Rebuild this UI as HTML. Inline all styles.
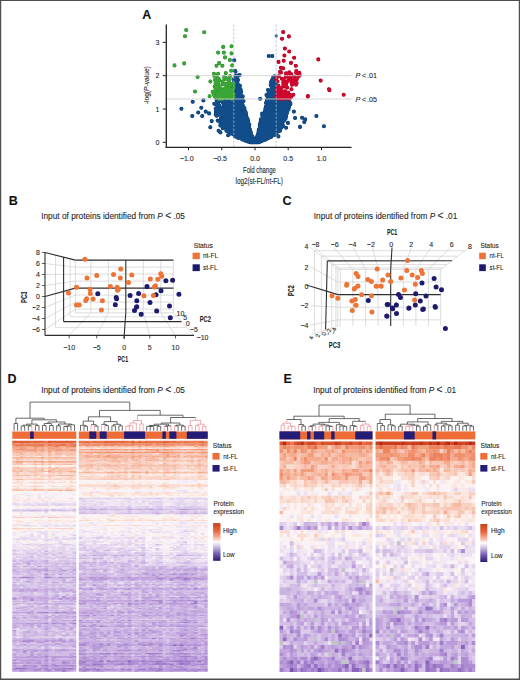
<!DOCTYPE html><html><head><meta charset="utf-8"><style>
html,body{margin:0;padding:0;background:#fff}
svg{display:block;font-family:"Liberation Sans",sans-serif}
text{stroke:#262626;stroke-width:0.1px}
</style></head><body>
<svg width="520" height="680" viewBox="0 0 520 680" fill="#262626">
<defs><linearGradient id="cb" x1="0" y1="0" x2="0" y2="1">
<stop offset="0" stop-color="#c8401c"/><stop offset="0.2" stop-color="#e8643a"/><stop offset="0.38" stop-color="#f6b49a"/>
<stop offset="0.5" stop-color="#fdfafa"/><stop offset="0.62" stop-color="#cfc4e4"/><stop offset="0.8" stop-color="#7a62b8"/>
<stop offset="1" stop-color="#2a1a70"/></linearGradient></defs>
<rect width="520" height="680" fill="#fff"/>
<text x="142.3" y="18.8" font-size="12.5" fill="#111" font-weight="bold" >A</text><path d="M278.2 127.7h0M228.2 121.1h0M261.0 130.6h0M271.8 123.8h0M250.6 138.0h0M258.4 142.1h0M229.5 130.4h0M266.2 136.1h0M260.8 131.1h0M243.9 135.9h0M277.6 123.7h0M261.0 120.1h0M268.0 103.4h0M257.7 137.7h0M247.6 127.1h0M264.5 135.1h0M262.8 124.1h0M259.6 140.8h0M257.1 141.1h0M263.2 117.0h0M270.0 126.3h0M238.1 132.5h0M261.5 131.5h0M267.1 117.9h0M261.2 131.4h0M258.7 141.8h0M269.5 136.2h0M261.1 121.4h0M263.9 129.2h0M278.5 113.5h0M257.0 142.1h0M232.1 123.6h0M266.9 137.1h0M250.2 135.0h0M244.7 113.3h0M228.3 106.2h0M251.3 139.3h0M265.5 136.1h0M246.8 137.4h0M269.7 118.6h0M281.2 117.0h0M251.0 139.7h0M273.1 134.4h0M242.8 120.3h0M261.5 140.9h0M255.9 140.3h0M231.8 124.3h0M229.4 103.6h0M281.0 127.7h0M239.2 115.3h0M264.6 126.5h0M276.1 123.0h0M252.4 139.3h0M270.0 90.8h0M265.1 124.0h0M263.2 124.2h0M257.0 141.8h0M247.1 119.9h0M271.2 120.4h0M231.8 120.3h0M264.1 130.6h0M243.1 114.1h0M277.1 109.8h0M264.0 128.9h0M259.5 135.1h0M278.3 107.2h0M233.8 128.4h0M227.8 126.8h0M253.9 140.0h0M267.5 137.2h0M227.6 100.0h0M265.8 127.3h0M256.9 141.8h0M243.6 114.9h0M266.3 132.2h0M241.7 124.9h0M271.8 122.1h0M239.2 133.3h0M252.4 141.9h0M270.4 132.6h0M267.5 99.6h0M258.7 139.3h0M255.5 142.0h0M274.9 124.6h0M252.9 140.4h0M247.6 138.5h0M266.2 109.4h0M263.3 128.3h0M274.9 112.3h0M263.1 119.9h0M262.1 132.5h0M223.5 104.3h0M244.7 135.3h0M264.4 127.3h0M220.9 118.6h0M242.5 118.6h0M249.4 140.6h0M251.5 142.2h0M284.8 113.3h0M262.9 115.8h0M270.5 136.4h0M269.1 128.3h0M237.8 134.6h0M251.9 142.0h0M277.1 125.6h0M244.4 117.5h0M270.2 118.6h0M258.4 138.8h0M243.9 138.4h0M238.8 130.2h0M256.7 137.9h0M265.3 130.9h0M265.0 114.6h0M262.2 129.9h0M261.0 126.9h0M258.7 131.0h0M238.0 119.0h0M215.6 103.5h0M264.1 116.5h0M273.9 117.3h0M279.6 108.2h0M258.1 137.2h0M236.7 129.8h0M273.0 114.0h0M239.1 128.3h0M259.6 140.0h0M240.8 131.0h0M260.1 135.2h0M262.7 120.1h0M273.1 132.4h0M276.0 123.7h0M218.4 107.3h0M236.5 118.5h0M229.5 117.2h0M248.2 130.1h0M260.4 135.6h0M261.6 136.9h0M247.9 140.0h0M268.3 129.2h0M249.0 136.1h0M285.9 115.0h0M267.6 131.0h0M260.6 123.3h0M261.5 137.6h0M239.6 124.1h0M247.6 140.3h0M232.5 133.8h0M279.8 129.3h0M239.8 136.6h0M252.4 142.1h0M257.7 135.2h0M228.2 106.2h0M266.7 115.6h0M240.4 130.9h0M249.5 138.0h0M271.7 96.8h0M240.6 114.2h0M273.7 132.6h0M254.6 141.2h0M256.0 141.4h0M258.5 141.7h0M256.0 141.2h0M272.2 133.1h0M256.9 141.0h0M275.1 110.3h0M259.6 141.6h0M262.5 132.0h0M264.8 137.9h0M234.5 124.9h0M250.4 141.7h0M249.0 130.9h0M273.7 119.2h0M259.4 134.6h0M273.3 109.3h0M271.5 127.8h0M262.3 138.8h0M277.2 106.4h0M252.1 140.8h0M221.5 109.1h0M281.3 101.0h0M269.4 121.8h0M265.6 135.0h0M236.8 101.2h0M259.5 139.9h0M266.0 133.1h0M264.3 114.0h0M264.9 122.1h0M223.2 125.0h0M228.8 126.3h0M243.5 137.4h0M234.8 129.1h0M224.2 111.4h0M248.5 139.2h0M265.0 111.2h0M273.0 84.2h0M275.8 124.9h0M249.0 140.6h0M258.4 136.4h0M269.0 133.3h0M269.3 127.3h0M229.7 131.5h0M270.0 103.1h0M221.2 122.4h0M262.6 136.9h0M253.5 141.7h0M240.5 136.7h0M270.9 136.7h0M269.1 111.5h0M269.6 134.5h0M273.5 123.0h0M264.1 118.1h0M236.6 109.1h0M253.8 141.9h0M226.5 122.9h0M259.4 139.4h0M235.9 123.7h0M234.5 109.1h0M246.8 131.0h0M265.2 135.5h0M267.5 113.7h0M245.1 130.5h0M251.2 137.5h0M276.4 132.9h0M268.5 129.7h0M248.9 140.3h0M264.6 123.4h0M246.2 132.3h0M256.7 141.6h0M265.2 112.9h0M259.4 137.6h0M252.9 140.6h0M256.4 139.6h0M253.1 141.8h0M248.0 132.5h0M220.9 125.6h0M262.9 136.6h0M236.1 112.9h0M245.3 125.4h0M251.3 134.5h0M242.3 127.6h0M222.8 114.0h0M266.9 135.3h0M270.6 129.9h0M253.3 138.3h0M267.8 135.6h0M267.6 124.1h0M248.1 128.3h0M249.9 140.1h0M239.3 103.7h0M235.8 95.4h0M238.6 136.1h0M265.2 113.0h0M241.7 101.9h0M241.6 120.3h0M252.0 140.6h0M248.4 140.1h0M278.7 107.6h0M271.9 123.9h0M279.3 108.7h0M257.0 141.4h0M280.2 117.0h0M272.3 134.2h0M269.3 127.9h0M247.3 139.7h0M247.2 126.3h0M239.5 129.7h0M230.3 129.4h0M249.7 141.7h0M268.5 129.9h0M261.1 134.5h0M272.9 134.9h0M273.5 107.4h0M241.7 131.1h0M241.6 136.7h0M243.1 129.4h0M264.4 137.8h0M268.6 113.6h0M285.1 111.5h0M259.1 131.8h0M242.7 136.2h0M241.9 135.4h0M274.2 132.9h0M272.1 133.6h0M247.6 135.5h0M229.0 126.9h0M275.4 121.9h0M261.2 132.5h0M236.1 107.3h0M249.9 139.7h0M269.4 104.0h0M261.3 137.3h0M271.6 135.1h0M256.3 141.6h0M282.6 102.5h0M241.3 105.8h0M241.2 95.7h0M270.8 135.3h0M251.3 138.3h0M286.2 106.2h0M261.9 132.2h0M225.7 108.6h0M274.0 132.2h0M243.8 131.5h0M252.7 141.7h0M266.2 110.3h0M260.1 134.5h0M248.6 140.4h0M283.1 117.9h0M266.1 128.7h0M235.6 133.9h0M225.7 104.2h0M269.4 134.1h0M260.7 123.3h0M234.7 136.3h0M238.2 114.8h0M220.3 112.0h0M238.3 131.6h0M226.2 120.9h0M248.2 138.3h0M243.4 137.6h0M242.2 138.7h0M231.2 108.5h0M233.4 106.8h0M260.9 141.3h0M282.3 125.1h0M237.1 129.1h0M259.2 141.6h0M245.9 135.4h0M270.3 135.2h0M248.0 138.6h0M267.3 135.8h0M241.0 98.5h0M263.6 116.9h0M226.7 128.9h0M230.8 100.1h0M237.9 96.0h0M261.1 130.5h0M264.1 123.2h0M258.7 134.8h0M262.0 137.9h0M265.6 128.4h0M250.0 141.0h0M271.7 128.0h0M253.7 139.9h0M264.7 129.9h0M232.8 123.8h0M266.4 131.4h0M287.3 105.7h0M267.9 130.3h0M245.1 129.8h0M245.3 138.8h0M276.1 124.2h0M262.3 140.0h0M268.0 106.0h0M220.6 114.6h0M225.7 102.5h0M270.4 119.9h0M231.7 124.7h0M276.5 102.6h0M235.5 113.9h0M237.1 134.0h0M264.3 115.9h0M266.4 133.8h0M281.4 117.4h0M238.7 128.9h0M247.6 134.9h0M248.2 133.5h0M252.9 142.1h0M225.3 102.0h0M229.0 129.3h0M260.6 134.2h0M236.2 129.1h0M218.4 115.0h0M243.6 126.5h0M242.1 133.7h0M280.7 119.0h0M223.0 122.8h0M251.0 140.4h0M233.8 122.1h0M274.5 124.5h0M276.3 116.1h0M250.0 141.2h0M267.3 135.0h0M257.7 138.9h0M261.7 131.9h0M263.3 137.8h0M264.1 117.9h0M274.7 122.4h0M247.7 123.9h0M274.1 88.6h0M277.4 106.8h0M264.2 127.9h0M266.0 103.0h0M233.5 128.3h0M243.3 131.7h0M263.5 119.9h0M219.5 108.6h0M233.0 131.2h0M227.1 116.2h0M259.8 124.8h0M246.6 128.2h0M270.0 102.0h0M249.9 137.7h0M246.9 140.0h0M276.0 117.5h0M246.8 125.2h0M228.4 122.2h0M259.4 128.8h0M253.6 141.4h0M260.7 120.3h0M266.7 137.1h0M238.8 131.4h0M258.9 130.0h0M249.9 129.5h0M228.4 130.7h0M258.7 139.4h0M246.0 130.7h0M262.8 136.9h0M270.1 133.3h0M246.3 119.0h0M263.2 130.4h0M284.2 99.9h0M267.2 116.7h0M237.7 133.0h0M239.7 130.4h0M235.8 132.5h0M279.3 124.6h0M215.7 108.8h0M259.1 138.3h0M267.3 112.4h0M266.7 136.4h0M272.0 102.2h0M221.5 118.3h0M265.9 131.8h0M247.7 124.1h0M280.6 101.7h0M271.5 134.3h0M224.3 101.0h0M260.9 123.5h0M271.8 108.2h0M266.2 122.2h0M261.1 129.4h0M234.7 107.1h0M268.0 103.6h0M258.7 139.2h0M287.1 108.4h0M238.8 132.9h0M279.4 125.3h0M256.5 141.5h0M263.6 129.6h0M227.2 120.6h0M274.0 124.7h0M259.4 134.6h0M274.4 135.0h0M228.6 103.2h0M239.0 134.1h0M261.6 137.2h0M275.3 101.3h0M256.9 138.7h0M237.8 112.4h0M266.3 134.8h0M255.7 141.3h0M220.3 107.5h0M265.5 130.8h0M256.3 140.4h0M259.6 136.0h0M263.4 131.0h0M286.5 104.7h0M261.4 133.4h0M260.2 134.5h0M248.3 135.7h0M241.8 117.8h0M262.2 131.5h0M266.3 136.7h0M236.4 134.0h0M275.7 105.0h0M262.4 134.8h0M274.6 123.1h0M260.2 140.5h0M256.6 139.0h0M247.6 138.1h0M248.9 137.4h0M267.4 137.9h0M237.6 113.7h0M258.9 141.1h0M263.1 139.6h0M262.6 133.1h0M262.8 119.2h0M249.9 142.1h0M246.6 126.5h0M274.2 132.2h0M248.2 134.8h0M278.0 104.8h0M248.1 138.3h0M260.4 131.8h0M268.2 132.4h0M262.8 118.7h0M262.4 113.9h0M237.8 132.4h0M275.6 96.3h0M274.5 114.4h0M250.8 136.0h0M252.1 142.1h0M277.4 104.9h0M220.4 111.5h0M263.7 121.8h0M246.3 140.5h0M280.2 120.0h0M246.9 132.1h0M258.3 138.7h0M240.0 121.5h0M253.5 141.9h0M242.7 122.5h0M268.3 130.7h0M248.2 134.1h0M261.3 135.0h0M236.2 109.5h0M281.4 117.3h0M262.0 133.7h0M236.5 118.9h0M260.3 141.4h0M259.1 130.5h0M265.1 132.1h0M267.6 126.8h0M241.4 134.7h0M254.2 141.2h0M257.6 138.6h0M250.3 138.0h0M238.6 123.7h0M251.9 138.1h0M249.5 138.7h0M281.6 120.3h0M239.2 106.3h0M281.7 114.8h0M244.0 137.6h0M251.9 142.2h0M278.0 125.7h0M265.6 117.8h0M245.6 137.5h0M228.3 118.1h0M263.4 130.6h0M248.8 128.0h0M222.9 119.9h0M271.5 122.9h0M271.4 122.5h0M262.4 136.7h0M243.6 136.3h0M244.7 138.3h0M258.9 135.2h0M256.1 142.0h0M264.3 120.5h0M271.8 133.2h0M262.9 136.8h0M237.4 124.7h0M241.6 133.5h0M263.8 139.9h0M264.8 127.9h0M238.4 88.5h0M259.3 139.1h0M286.4 106.6h0M245.0 129.5h0M260.8 132.4h0M277.3 126.0h0M278.7 110.8h0M250.8 135.5h0M275.3 102.8h0M257.0 141.1h0M231.9 126.1h0M261.9 135.5h0M231.7 124.9h0M228.7 105.7h0M259.7 127.9h0M245.4 112.8h0M242.3 123.8h0M245.7 140.7h0M240.7 136.4h0M264.3 137.4h0M244.0 129.3h0M261.8 134.9h0M251.0 136.0h0M267.8 103.6h0M248.5 134.9h0M275.5 85.3h0M243.6 125.4h0M264.0 133.0h0M234.8 131.0h0M252.4 136.6h0M237.3 134.3h0M250.7 132.1h0M244.3 118.1h0M252.0 137.1h0M248.6 128.4h0M227.6 105.7h0M265.3 120.5h0M258.3 142.3h0M267.8 130.9h0M244.2 133.7h0M247.6 119.1h0M244.6 135.3h0M261.5 126.9h0M264.1 128.9h0M238.0 133.7h0M265.1 130.5h0M261.6 137.4h0M266.3 110.9h0M261.0 136.8h0M243.6 139.4h0M232.7 127.0h0M225.9 123.0h0M264.6 125.0h0M225.2 121.3h0M275.5 126.1h0M271.8 119.0h0M267.2 125.6h0M239.1 131.7h0M245.6 127.4h0M252.9 141.2h0M276.9 131.4h0M272.6 119.6h0M262.2 128.5h0M222.9 115.9h0M225.5 122.7h0M228.7 130.4h0M276.6 128.8h0M250.6 134.2h0M224.7 123.8h0M250.0 133.3h0M261.4 140.1h0M282.6 108.2h0M277.7 100.2h0M235.0 97.0h0M252.2 141.1h0M289.0 106.9h0M231.7 121.3h0M257.9 138.7h0M250.8 134.2h0M266.2 133.5h0M255.9 140.7h0M240.6 130.2h0M250.0 133.8h0M260.8 133.7h0M272.1 123.0h0M245.8 139.0h0M239.2 137.6h0M239.5 136.1h0M265.6 133.4h0M224.7 102.2h0M246.3 123.8h0M249.7 138.8h0M231.9 120.6h0M271.3 117.1h0M251.6 140.3h0M267.7 116.5h0M236.7 125.6h0M254.6 142.3h0M258.7 136.4h0M244.2 118.0h0M247.4 128.4h0M234.4 126.4h0M251.4 137.6h0M252.0 140.5h0M269.1 137.3h0M257.1 141.5h0M226.7 116.0h0M240.4 136.5h0M262.0 122.5h0M237.5 127.3h0M244.9 136.6h0M262.1 134.9h0M257.1 140.5h0M270.7 119.2h0M235.8 130.9h0M263.4 138.3h0M261.9 136.4h0M270.2 134.0h0M258.8 129.6h0M270.5 130.5h0M256.5 138.3h0M238.3 123.1h0M274.1 128.5h0M262.3 135.0h0M283.1 116.6h0M277.5 107.8h0M235.5 92.4h0M270.9 135.5h0M239.4 133.0h0M248.6 140.9h0M286.6 102.6h0M240.1 109.9h0M247.2 136.8h0M237.7 125.9h0M252.5 141.4h0M234.2 129.9h0M238.6 115.8h0M247.9 141.4h0M274.0 105.9h0M281.5 118.6h0M252.5 141.0h0M265.1 120.9h0M245.4 130.0h0M258.1 133.9h0M236.5 101.0h0M265.2 120.1h0M225.6 109.7h0M268.1 94.2h0M273.5 93.8h0M230.2 103.2h0M247.6 138.0h0M279.1 127.1h0M260.9 127.8h0M243.5 126.9h0M237.6 110.9h0M273.7 123.0h0M276.3 128.6h0M233.3 106.4h0M271.9 131.9h0M273.7 126.4h0M221.4 125.8h0M267.4 124.2h0M258.3 141.1h0M245.0 137.3h0M253.5 141.0h0M264.1 127.7h0M263.0 117.7h0M268.3 125.7h0M248.7 129.4h0M259.1 130.7h0M235.9 129.9h0M266.3 119.4h0M278.5 110.1h0M263.8 136.6h0M245.5 133.8h0M244.8 138.7h0M236.7 136.1h0M256.0 140.4h0M230.7 132.8h0M272.0 119.2h0M257.7 141.2h0M264.1 125.3h0M261.2 138.4h0M262.2 140.2h0M233.0 126.3h0M271.0 114.0h0M258.4 139.6h0M240.8 131.8h0M249.2 140.6h0M256.1 139.7h0M245.2 135.1h0M261.4 139.0h0M234.4 97.1h0M260.2 128.1h0M269.1 131.0h0M286.5 112.1h0M242.2 116.5h0M259.1 139.9h0M241.0 127.4h0M244.8 110.5h0M242.5 133.2h0M229.8 129.9h0M257.1 141.2h0M256.2 142.2h0M251.7 141.1h0M244.3 137.9h0M249.9 141.3h0M280.5 121.2h0M240.9 114.6h0M246.6 139.3h0M258.5 141.7h0M242.4 107.5h0M259.3 140.8h0M235.5 122.5h0M260.0 141.3h0M267.8 131.8h0M235.9 125.6h0M242.0 134.2h0M256.4 141.8h0M268.2 138.2h0M256.9 141.9h0M247.9 141.2h0M242.2 136.9h0M256.1 141.5h0M257.5 138.9h0M224.0 103.2h0M230.2 125.7h0M268.3 122.0h0M251.0 138.6h0M271.8 133.9h0M276.9 118.8h0M271.9 131.6h0M283.6 100.8h0M250.5 139.4h0M258.7 138.4h0M231.1 130.6h0M269.8 96.6h0M244.7 125.8h0M254.7 142.2h0M230.5 117.0h0M248.2 140.1h0M241.5 138.8h0M237.2 97.9h0M244.8 128.2h0M238.5 107.0h0M252.0 140.1h0M240.7 132.7h0M260.3 141.6h0M271.7 129.6h0M225.2 120.3h0M234.9 136.0h0M242.8 136.8h0M245.3 130.3h0M221.6 120.6h0M259.5 141.8h0M265.9 137.1h0M258.6 131.7h0M265.6 126.0h0M226.0 123.3h0M259.1 137.7h0M271.4 132.0h0M270.2 135.4h0M261.9 131.5h0M257.7 142.1h0M257.6 138.3h0M280.4 109.4h0M225.6 106.5h0M258.2 141.0h0M282.3 122.2h0M266.9 137.1h0M244.3 112.2h0M272.4 99.9h0M279.5 114.9h0M262.1 135.1h0M259.6 141.2h0M280.1 124.3h0M268.1 109.0h0M260.2 132.7h0M240.2 135.8h0M254.3 142.1h0M222.5 119.3h0M239.4 133.7h0M242.5 139.5h0M274.9 119.9h0M261.7 139.0h0M263.8 125.4h0M248.0 120.4h0M259.0 142.1h0M267.4 134.7h0M258.6 139.4h0M246.6 128.0h0M255.8 140.1h0M248.6 133.3h0M226.5 129.7h0M248.4 123.7h0M228.7 123.9h0M238.4 125.9h0M263.3 119.9h0M267.9 126.6h0M268.2 129.1h0M269.8 90.9h0M263.1 118.2h0M263.8 131.1h0M255.9 141.1h0M220.3 110.3h0M267.1 119.7h0M237.3 129.9h0M256.0 141.8h0M273.2 120.8h0M229.0 119.7h0M242.8 128.3h0M261.2 136.2h0M244.2 127.1h0M242.9 121.3h0M265.7 113.7h0M221.5 100.6h0M260.9 132.1h0M250.6 136.2h0M289.5 99.0h0M274.2 129.6h0M263.8 130.0h0M225.7 118.7h0M253.7 140.6h0M222.4 101.3h0M263.3 129.7h0M271.1 136.9h0M270.0 121.9h0M273.8 92.7h0M227.1 102.7h0M247.1 139.6h0M252.9 140.7h0M237.0 118.7h0M258.2 134.3h0M260.7 123.5h0M267.2 105.2h0M237.3 136.4h0M272.0 117.1h0M249.1 136.3h0M249.9 138.8h0M238.7 124.8h0M240.6 97.1h0M247.2 122.4h0M266.4 107.2h0M268.1 125.9h0M239.8 137.7h0M238.0 133.1h0M245.5 137.7h0M246.0 122.8h0M246.6 132.0h0M244.3 112.3h0M229.5 130.3h0M249.1 137.8h0M242.9 109.1h0M262.0 140.4h0M243.9 112.3h0M254.5 142.0h0M259.2 133.0h0M259.5 138.5h0M251.4 139.4h0M219.8 100.7h0M232.5 122.2h0M267.9 132.3h0M250.7 141.3h0M239.3 115.8h0M274.8 91.6h0M234.2 131.5h0M259.0 132.3h0M273.3 127.2h0M262.9 131.9h0M272.1 126.2h0M284.3 107.3h0M237.6 127.1h0M231.7 130.7h0M234.0 133.1h0M251.8 139.3h0M244.1 118.0h0M227.3 115.9h0M242.1 139.0h0M226.4 130.7h0M221.6 112.1h0M263.9 130.0h0M250.0 133.2h0M225.1 121.2h0M281.8 105.7h0M264.0 123.8h0M269.5 105.3h0M232.7 124.2h0M280.4 99.3h0M240.7 126.6h0M262.4 116.0h0M246.7 129.5h0M276.6 131.5h0M235.5 134.6h0M234.5 119.6h0M269.9 135.0h0M248.0 140.8h0M260.5 140.2h0M216.5 115.8h0M248.3 139.0h0M247.0 133.4h0M253.7 141.5h0M281.1 127.3h0M246.7 120.3h0M259.4 133.0h0M275.7 118.3h0M274.3 132.8h0M243.8 113.7h0M255.5 142.1h0M233.2 123.9h0M266.8 132.2h0M259.6 140.0h0M268.8 129.7h0M260.6 132.7h0M244.7 129.3h0M253.8 140.1h0M249.9 141.6h0M270.4 136.0h0M257.4 135.8h0M251.5 139.3h0M276.3 107.1h0M239.1 126.3h0M280.3 115.9h0M283.0 112.8h0M249.5 139.4h0M230.6 99.1h0M224.1 100.3h0M276.1 90.3h0M220.8 123.5h0M249.8 138.1h0M265.8 120.9h0M252.7 141.6h0M268.9 134.9h0M257.9 137.1h0M262.2 127.8h0M271.7 132.5h0M262.7 121.8h0M256.6 141.7h0M241.8 134.5h0M246.9 125.4h0M219.9 110.8h0M235.1 132.5h0M232.7 121.8h0M244.2 138.0h0M237.9 111.2h0M252.2 141.5h0M224.4 104.7h0M278.1 115.9h0M263.3 115.6h0M245.1 128.6h0M234.0 123.7h0M274.2 131.1h0M244.5 118.6h0M227.6 114.7h0M259.9 125.6h0M279.8 104.4h0M265.7 117.4h0M266.8 136.1h0M273.3 119.4h0M269.7 134.5h0M233.0 119.8h0M258.7 137.6h0M244.4 108.1h0M254.8 142.2h0M254.0 140.4h0M238.6 113.3h0M268.9 131.7h0M279.9 106.9h0M246.5 135.4h0M239.8 123.4h0M281.3 121.7h0M266.1 135.7h0M264.3 134.4h0M262.3 123.0h0M249.3 124.5h0M265.9 123.4h0M250.3 136.2h0M267.0 108.1h0M258.1 139.6h0M233.2 128.9h0M279.4 117.6h0M274.9 97.2h0M269.1 137.4h0M265.3 121.7h0M279.2 109.3h0M257.3 137.8h0M243.7 130.7h0M258.6 139.4h0M242.6 121.7h0M257.7 140.1h0M284.5 103.1h0M249.9 138.3h0M258.2 138.0h0M239.1 134.9h0M255.0 142.3h0M267.9 131.7h0M250.8 141.3h0M277.1 122.9h0M265.0 138.0h0M271.9 123.9h0M263.9 134.3h0M240.7 136.1h0M271.2 95.2h0M243.4 138.2h0M268.0 135.2h0M257.5 139.4h0M248.1 133.9h0M239.6 136.0h0M264.6 113.0h0M259.8 138.4h0M239.0 118.2h0M259.8 137.7h0M257.5 141.9h0M240.1 114.9h0M230.2 117.9h0M244.8 133.3h0M256.5 141.1h0M250.2 140.4h0M279.3 130.4h0M248.4 141.7h0M273.9 102.5h0M219.1 105.6h0M262.7 119.8h0M238.7 85.3h0M257.6 141.4h0M256.7 140.6h0M236.0 109.0h0M235.0 130.9h0M240.5 119.7h0M243.1 138.6h0M237.9 130.3h0M253.2 139.4h0M236.1 130.5h0M276.7 131.2h0M286.5 101.1h0M274.1 114.5h0M241.3 128.9h0M261.0 139.2h0M281.9 101.1h0M249.9 141.8h0M272.9 124.2h0M248.9 134.3h0M235.3 114.1h0M242.0 133.1h0M283.2 114.3h0M218.0 103.9h0M241.4 100.1h0M271.5 127.1h0M265.3 137.8h0M225.5 113.2h0M248.6 140.1h0M249.0 128.9h0M258.2 137.5h0M262.1 131.2h0M250.4 139.2h0M230.5 131.0h0M263.1 133.6h0M244.3 116.6h0M286.1 116.4h0M235.1 133.1h0M243.1 123.2h0M258.4 141.8h0M246.6 139.0h0M247.4 130.1h0M246.1 113.9h0M260.9 133.4h0M285.7 107.2h0M264.8 139.2h0M230.6 112.7h0M276.6 119.4h0M266.8 132.9h0M260.2 124.6h0M261.4 122.6h0M222.6 126.2h0M243.2 136.7h0M235.6 129.7h0M257.6 140.7h0M269.6 125.7h0M279.7 130.2h0M288.6 109.1h0M248.8 135.7h0M277.9 125.6h0M244.6 136.6h0M261.5 137.6h0M226.8 104.7h0M263.0 127.9h0M261.0 138.4h0M244.8 131.0h0M271.3 127.4h0M269.4 124.7h0M256.8 137.4h0M246.3 136.6h0M230.6 106.9h0M279.6 101.6h0M229.1 101.9h0M259.0 140.8h0M274.1 132.9h0M258.7 131.7h0M246.6 138.5h0M271.5 117.4h0M276.0 111.1h0M261.9 127.0h0M220.7 114.6h0M216.1 112.7h0M267.7 115.0h0M246.2 136.1h0M269.5 105.4h0M225.6 121.7h0M239.0 130.0h0M257.1 142.2h0M240.0 124.7h0M259.4 132.2h0M263.5 139.2h0M272.2 128.3h0M284.3 106.9h0M240.0 108.3h0M262.4 135.4h0M220.0 101.0h0M261.5 141.2h0M238.2 127.6h0M257.5 140.3h0M236.1 121.2h0M242.3 136.5h0M243.4 135.6h0M259.8 138.8h0M261.4 135.1h0M228.8 121.1h0M235.4 120.8h0M258.2 136.4h0M236.7 129.3h0M238.6 117.3h0M275.0 124.8h0M250.2 139.6h0M231.7 110.2h0M270.3 97.5h0M276.3 129.8h0M276.9 128.4h0M273.3 134.6h0M245.4 138.5h0M262.1 113.6h0M239.9 129.7h0M261.7 136.3h0M250.8 141.6h0M277.5 123.8h0M260.9 122.8h0M232.4 121.0h0M260.5 138.3h0M261.9 140.4h0M235.5 93.8h0M247.1 139.0h0M242.5 131.9h0M248.8 141.3h0M255.5 140.5h0M236.3 116.0h0M272.5 130.1h0M234.6 120.3h0M268.5 95.8h0M242.8 129.3h0M220.5 113.6h0M287.6 110.5h0M251.4 135.1h0M222.8 102.8h0M283.4 110.4h0M248.7 130.2h0M229.1 120.4h0M269.0 113.6h0M240.5 131.4h0M271.5 131.8h0M259.0 130.5h0M266.1 139.3h0M222.7 125.6h0M264.7 137.9h0M261.9 125.2h0M283.9 106.8h0M268.5 130.3h0M278.0 124.3h0M266.2 133.3h0M273.7 120.2h0M259.4 139.5h0M243.4 130.9h0M272.7 123.9h0M247.8 137.7h0M260.8 136.5h0M227.4 107.5h0M242.3 137.0h0M262.7 128.6h0M264.1 135.4h0M250.1 140.3h0M262.5 127.0h0M248.3 133.9h0M284.4 106.7h0M243.8 131.7h0M250.6 132.3h0M264.6 134.2h0M268.2 102.0h0M276.2 103.7h0M244.7 118.1h0M230.4 128.3h0M247.1 138.8h0M262.3 132.8h0M264.5 139.8h0M263.9 133.0h0M242.0 115.2h0M245.8 123.8h0M259.3 137.6h0M259.9 128.9h0M258.3 141.5h0M256.1 142.2h0M282.9 122.1h0M268.4 133.0h0M263.0 133.9h0M259.8 139.0h0M276.9 121.1h0M256.0 141.7h0M239.4 121.2h0M246.1 139.8h0M280.2 110.9h0M270.2 127.4h0M239.7 124.1h0M265.9 128.6h0M244.7 125.9h0M282.3 118.3h0M264.0 133.7h0M259.9 140.4h0M271.1 123.2h0M241.8 138.4h0M252.6 138.2h0M265.5 139.5h0M271.6 133.9h0M280.1 123.5h0M276.5 128.6h0M265.5 128.5h0M268.6 120.1h0M250.3 133.9h0M266.9 127.1h0M260.1 139.8h0M252.8 141.5h0M244.8 136.9h0M260.4 129.7h0M272.1 101.2h0M258.4 132.7h0M260.3 137.5h0M269.3 132.3h0M260.6 135.3h0M245.8 119.8h0M251.0 138.9h0M248.9 133.6h0M270.8 115.8h0M248.3 137.3h0M265.7 135.3h0M250.4 132.3h0M246.8 137.8h0M260.8 138.2h0M279.7 130.1h0M258.2 142.0h0M262.5 138.0h0M234.1 121.9h0M237.1 134.1h0M264.4 137.2h0M236.4 119.7h0M243.0 138.2h0M248.1 135.3h0M239.5 105.3h0M229.8 123.0h0M259.4 141.5h0M225.6 101.4h0M277.7 125.4h0M236.7 135.1h0M237.9 135.2h0M264.1 139.3h0M230.9 132.1h0M254.0 141.1h0M243.9 129.0h0M244.4 139.9h0M272.7 126.7h0M250.9 140.1h0M256.3 139.7h0M255.9 141.7h0M242.3 133.9h0M246.9 117.9h0M220.9 113.8h0M226.5 109.6h0M267.4 126.6h0M235.9 109.0h0M241.3 131.0h0M265.4 132.8h0M220.2 121.9h0M222.4 122.7h0M259.4 139.8h0M242.6 117.5h0M252.8 140.1h0M275.8 116.4h0M268.0 97.9h0M268.8 134.3h0M272.6 131.9h0M274.8 90.2h0M233.5 116.5h0M246.1 134.8h0M271.8 123.4h0M259.1 136.6h0M243.8 121.0h0M243.3 129.2h0M260.1 134.5h0M244.6 133.2h0M265.0 136.4h0M236.7 126.6h0M267.5 126.3h0M270.5 134.9h0M253.7 142.3h0M237.8 133.2h0M259.6 138.9h0M238.1 136.5h0M271.9 132.1h0M268.0 135.5h0M257.4 141.9h0M268.4 126.8h0M244.0 133.6h0M268.3 130.4h0M229.4 130.9h0M224.0 102.0h0M266.5 128.9h0M257.5 137.4h0M241.3 133.9h0M233.9 126.6h0M231.2 129.2h0M284.2 118.2h0M253.7 140.3h0M262.3 115.0h0M261.9 122.2h0M224.5 102.2h0M262.5 137.7h0M270.2 127.5h0M249.4 131.8h0M264.8 134.8h0M273.8 134.8h0M271.5 130.3h0M259.3 136.1h0M228.7 123.9h0M265.3 116.8h0M227.2 114.4h0M240.2 132.3h0M219.9 111.6h0M237.5 116.3h0M261.2 141.0h0M279.4 108.2h0M242.4 124.7h0M262.1 137.4h0M244.8 136.0h0M242.7 136.8h0M257.3 142.0h0M271.1 129.8h0M265.2 138.5h0M267.6 105.8h0M283.3 100.5h0M252.0 139.8h0M268.1 118.8h0M245.6 134.1h0M261.4 137.8h0M260.4 133.5h0M241.1 133.4h0M248.2 134.5h0M252.4 137.0h0M228.2 118.1h0M266.4 132.2h0M281.2 107.9h0M272.4 134.8h0M241.4 127.1h0M233.0 125.1h0M260.5 124.5h0M231.0 128.4h0M265.3 112.6h0M270.3 120.1h0M280.6 123.2h0M236.9 136.6h0M243.3 118.1h0M248.0 124.9h0M238.7 121.6h0M256.0 141.8h0M237.2 120.3h0M271.4 123.7h0M258.3 142.2h0M277.8 121.6h0M261.1 132.5h0M276.3 127.7h0M244.0 134.4h0M253.1 141.5h0M218.5 111.7h0M236.6 136.5h0M242.2 135.7h0M243.3 138.3h0M248.1 134.5h0M268.2 108.8h0M224.5 99.0h0M251.6 142.2h0M247.6 139.7h0M273.5 121.6h0M250.8 134.5h0M262.4 113.8h0M280.2 116.1h0M251.1 140.5h0M248.2 139.0h0M251.1 134.3h0M273.1 89.3h0M249.4 138.5h0M261.3 130.0h0M240.2 132.6h0M258.4 135.3h0M233.8 125.6h0M252.2 138.7h0M269.1 131.3h0M257.0 141.6h0M264.5 131.9h0M266.7 136.9h0M267.6 122.4h0M244.7 118.1h0M268.2 138.3h0M254.7 141.5h0M262.6 132.9h0M245.1 130.7h0M233.1 114.4h0M229.9 129.1h0M220.3 125.4h0M258.0 134.4h0M248.6 133.8h0M275.1 92.3h0M238.3 122.1h0M240.0 137.7h0M250.8 133.5h0M247.9 132.9h0M246.6 137.8h0M271.5 110.6h0M252.2 140.5h0M262.4 132.9h0M271.5 133.0h0M231.9 104.3h0M235.0 130.6h0M264.1 137.2h0M260.9 119.9h0M216.6 99.8h0M242.9 128.8h0M269.7 128.6h0M259.3 139.4h0M249.3 129.6h0M244.5 118.8h0M258.8 141.4h0M226.2 125.0h0M276.2 128.1h0M282.4 105.5h0M259.6 131.6h0M229.1 118.7h0M264.0 138.7h0M266.6 130.7h0M256.5 141.4h0M249.2 140.4h0M262.1 123.8h0M244.6 129.0h0M271.8 124.2h0M273.1 135.2h0M247.5 140.0h0M256.2 141.7h0M230.1 109.4h0M257.7 141.5h0M227.9 123.2h0M246.3 125.2h0M258.6 142.0h0M258.6 137.8h0M245.0 124.8h0M266.9 136.2h0M244.2 123.3h0M260.7 139.0h0M271.4 130.0h0M272.7 130.1h0M243.4 128.0h0M279.1 126.4h0M250.2 132.4h0M249.8 130.5h0M246.7 137.1h0M261.3 140.2h0M248.1 138.2h0M237.9 127.9h0M261.1 120.5h0M269.4 103.7h0M239.4 129.0h0M248.9 132.7h0M248.0 140.4h0M239.4 107.4h0M252.5 140.9h0M235.8 121.4h0M225.3 100.5h0M253.0 142.0h0M245.7 137.3h0M262.7 138.3h0M243.8 108.3h0M249.3 140.6h0M289.7 102.9h0M234.8 96.7h0M224.0 109.0h0M260.5 129.5h0M246.2 116.5h0M238.9 135.4h0M235.3 128.8h0M259.9 139.3h0M245.7 137.7h0M268.6 134.4h0M225.9 116.4h0M260.4 124.1h0M256.1 140.5h0M242.8 122.9h0M268.2 121.2h0M244.2 126.3h0M244.4 126.7h0M272.1 134.6h0M247.5 128.4h0M243.8 129.2h0M248.5 127.3h0M242.8 137.8h0M240.8 129.2h0M246.3 135.0h0M260.7 140.5h0M235.4 118.9h0M243.1 131.2h0M235.3 132.9h0M246.8 141.0h0M246.9 139.9h0M265.5 126.5h0M267.3 96.1h0M232.7 108.8h0M260.8 125.3h0M258.2 138.0h0M237.7 124.6h0M247.1 128.9h0M235.3 128.8h0M271.4 119.0h0M239.4 136.9h0M284.1 120.5h0M278.1 118.3h0M222.7 119.6h0M275.9 130.6h0M274.2 128.0h0M245.4 130.3h0M270.4 134.1h0M276.1 104.0h0M244.5 139.0h0M259.9 141.6h0M264.4 115.3h0M265.6 112.3h0M256.7 140.9h0M266.9 116.7h0M230.4 116.2h0M246.0 128.6h0M262.5 126.4h0M249.5 140.1h0M272.3 126.0h0M225.3 119.4h0M268.5 129.8h0M264.2 127.8h0M251.3 136.8h0M229.4 117.4h0M268.8 137.1h0M255.8 142.1h0M259.1 140.9h0M239.7 134.6h0M252.1 139.7h0M240.5 119.2h0M260.9 119.4h0M236.7 136.2h0M261.1 134.4h0M219.5 100.5h0M258.5 138.5h0M232.5 120.5h0M273.9 114.2h0M273.9 130.4h0M270.8 104.8h0M230.6 131.8h0M277.0 130.4h0M250.5 135.4h0M256.7 139.9h0M226.4 101.6h0M240.5 114.6h0M232.5 119.2h0M266.7 131.0h0M231.0 122.0h0M235.5 71.7h0M250.0 138.5h0M261.4 134.2h0M232.9 120.4h0M245.7 112.3h0M267.0 130.3h0M241.0 135.3h0M280.2 126.4h0M247.0 128.9h0M264.7 123.9h0M263.0 138.3h0M245.1 134.9h0M257.7 140.9h0M281.8 111.1h0M249.1 128.4h0M259.1 130.9h0M266.2 129.2h0M272.0 126.3h0M247.9 138.7h0M257.9 142.0h0M259.2 137.9h0M275.5 118.7h0M262.2 134.3h0M270.6 131.7h0M249.4 132.9h0M237.8 133.5h0M257.3 136.9h0M264.7 123.8h0M275.4 128.2h0M287.0 112.9h0M237.7 122.3h0M234.2 126.2h0M241.2 137.2h0M215.7 104.5h0M242.8 105.3h0M240.4 105.9h0M223.3 120.3h0M223.4 114.6h0M251.6 139.9h0M237.6 137.1h0M285.4 107.2h0M269.7 133.2h0M263.5 126.9h0M279.9 111.8h0M262.3 140.6h0M271.1 119.3h0M273.6 89.9h0M250.8 140.9h0M231.2 121.0h0M249.2 126.1h0M260.2 123.2h0M275.6 118.6h0M264.7 138.3h0M275.5 120.5h0M267.9 130.9h0M268.6 119.5h0M262.8 139.9h0M250.6 140.0h0M264.3 136.6h0M260.2 140.8h0M264.8 111.9h0M249.8 130.0h0M270.3 111.8h0M264.9 121.6h0M263.5 121.4h0M236.1 119.8h0M278.9 101.5h0M265.9 128.7h0M241.1 115.7h0M255.8 140.9h0M226.4 102.1h0M251.7 140.8h0M273.0 122.7h0M258.9 140.8h0M244.3 132.2h0M285.7 117.0h0M259.6 141.3h0M267.2 119.5h0M215.9 111.2h0M269.1 117.1h0M248.6 135.2h0M238.1 134.1h0M230.4 109.5h0M238.6 136.7h0M250.7 141.3h0M240.5 127.0h0M253.4 138.5h0M238.1 127.8h0M217.7 120.6h0M264.2 134.0h0M277.8 113.8h0M273.5 129.0h0M234.6 135.1h0M259.0 136.5h0M247.5 139.4h0M245.3 137.7h0M235.8 115.9h0M242.3 124.6h0M243.1 123.5h0M247.6 140.4h0M263.1 128.8h0M274.8 127.1h0M248.4 137.4h0M260.7 127.7h0M267.0 128.8h0M265.9 115.3h0M258.4 140.8h0M248.2 135.8h0M234.2 128.4h0M259.2 136.4h0M264.3 136.0h0M236.9 118.9h0M233.7 123.6h0M243.6 137.7h0M257.8 140.9h0M254.2 141.8h0M237.2 89.9h0M277.6 130.7h0M249.1 135.6h0M238.8 136.2h0M260.5 135.7h0M235.3 125.6h0M252.0 141.2h0M231.9 102.7h0M262.7 122.0h0M232.1 115.2h0M229.2 120.7h0M233.4 124.8h0M241.6 135.4h0M270.8 98.2h0M253.1 142.1h0M227.7 109.0h0M238.9 123.2h0M257.7 142.1h0M245.9 138.7h0M286.2 113.4h0M247.3 131.5h0M269.3 122.9h0M232.8 112.1h0M247.4 141.2h0M285.2 99.7h0M261.2 136.6h0M261.4 133.7h0M268.3 119.3h0M234.8 132.4h0M246.8 127.3h0M238.6 119.4h0M272.8 106.3h0M242.8 134.0h0M228.7 119.8h0M269.6 136.7h0M243.9 123.4h0M269.7 135.9h0M263.0 136.1h0M236.1 136.2h0M246.7 140.9h0M232.0 132.9h0M248.2 133.9h0M260.6 136.4h0M276.8 124.2h0M249.8 132.9h0M226.6 127.1h0M257.0 142.1h0M234.8 94.9h0M281.6 115.9h0M259.4 134.8h0M234.7 135.6h0M290.4 103.1h0M260.6 137.9h0M243.5 135.5h0M253.7 141.6h0M278.0 130.0h0M257.0 142.0h0M265.8 113.6h0M268.5 109.9h0M257.9 142.1h0M222.2 109.0h0M258.4 136.7h0M265.5 121.9h0M249.2 124.7h0M238.1 118.5h0M222.6 123.5h0M254.4 141.3h0M255.8 140.6h0M271.2 134.9h0M265.9 115.4h0M272.7 127.4h0M228.5 130.2h0M228.0 107.6h0M269.1 134.6h0M268.2 137.8h0M239.9 135.4h0M233.7 123.7h0M245.1 137.4h0M252.7 142.1h0M246.6 140.0h0M237.8 137.0h0M229.6 116.6h0M241.7 125.3h0M265.6 139.6h0M247.7 135.9h0M242.6 126.1h0M278.2 116.7h0M266.9 133.1h0M248.7 127.9h0M273.3 124.7h0M236.0 114.9h0M285.6 118.6h0M241.9 135.1h0M277.4 114.3h0M249.4 141.1h0M228.4 126.8h0M270.4 136.9h0M224.5 114.9h0M264.0 133.7h0M237.9 135.2h0M245.5 125.5h0M237.5 125.5h0M239.1 130.5h0M282.3 120.5h0M232.9 124.6h0M280.6 115.0h0M275.9 99.2h0M277.6 124.5h0M232.5 123.1h0M237.3 98.8h0M257.9 135.5h0M256.8 141.1h0M259.9 130.2h0M243.0 120.8h0M244.2 112.9h0M245.2 139.6h0M274.7 104.5h0M266.2 122.3h0M248.6 127.3h0M278.6 128.9h0M257.1 138.1h0M251.2 141.2h0M262.8 116.4h0M223.7 105.5h0M220.6 122.1h0M258.4 141.5h0M272.8 126.2h0M266.7 101.6h0M249.6 141.4h0M261.2 136.8h0M275.4 100.6h0M221.8 108.1h0M281.8 118.7h0M236.5 92.7h0M277.0 102.3h0M266.8 134.3h0M273.3 116.5h0M240.6 119.4h0M248.1 135.6h0M236.2 121.8h0M264.8 139.3h0M262.4 134.3h0M236.2 131.0h0M258.1 138.1h0M223.7 122.5h0M257.1 139.9h0M245.6 137.0h0M233.6 119.8h0M251.2 141.9h0M271.3 128.5h0M265.4 131.3h0M252.9 141.6h0M257.3 137.1h0M247.4 138.9h0M280.1 121.3h0M243.9 136.7h0M221.1 100.6h0M266.0 136.4h0M250.7 141.1h0M275.6 99.7h0M268.0 97.4h0M239.7 137.8h0M261.0 139.8h0M273.0 106.4h0M230.9 133.6h0M281.8 126.9h0M240.0 131.3h0M239.4 129.9h0M244.1 130.3h0M243.8 137.1h0M249.0 140.3h0M252.7 142.1h0M276.5 113.4h0M233.5 100.5h0M217.3 106.1h0M259.7 134.0h0M249.3 129.2h0M279.3 119.4h0M223.8 120.2h0M260.4 130.5h0M266.8 134.5h0M283.5 105.1h0M267.3 132.7h0M235.6 135.3h0M226.3 125.6h0M270.3 131.5h0M240.8 137.0h0M277.0 117.4h0M259.9 140.4h0M262.9 130.0h0M251.2 140.1h0M264.3 133.5h0M246.9 137.2h0M247.7 139.7h0M231.5 126.1h0M259.6 131.4h0M269.5 93.5h0M257.3 139.5h0M239.2 128.4h0M228.2 105.8h0M246.7 135.4h0M229.2 114.8h0M233.1 119.9h0M234.9 109.8h0M234.2 113.9h0M261.2 122.5h0M251.9 140.6h0M266.1 138.4h0M248.3 121.3h0M234.6 122.3h0M275.0 118.0h0M257.5 142.2h0M239.0 132.2h0M247.2 135.1h0M267.1 135.0h0M264.1 125.3h0M235.5 99.2h0M264.3 134.6h0M262.1 124.0h0M256.9 139.7h0M241.3 137.1h0M252.2 139.4h0M267.9 120.2h0M228.0 120.3h0M264.0 119.0h0M269.7 108.6h0M260.7 138.8h0M242.6 137.0h0M238.1 118.6h0M258.2 139.0h0M264.4 137.4h0M270.2 118.4h0M268.9 120.4h0M263.8 139.0h0M253.4 141.7h0M221.0 123.5h0M260.6 137.0h0M243.7 121.5h0M242.5 136.9h0M265.2 130.0h0M257.6 140.7h0M261.9 137.0h0M222.7 99.4h0M234.4 127.7h0M243.7 120.3h0M280.6 128.6h0M265.0 127.1h0M238.5 136.4h0M222.8 128.3h0M252.5 141.5h0M254.3 142.0h0M272.9 118.1h0M261.1 125.5h0M265.4 123.6h0M264.3 137.1h0M260.5 129.1h0M273.0 124.3h0M258.7 137.4h0M240.9 107.4h0M260.9 131.1h0M237.1 126.5h0M223.2 126.1h0M245.0 133.8h0M279.3 129.1h0M262.7 137.3h0M237.4 115.2h0M252.5 141.8h0M250.2 142.2h0M236.0 120.3h0M241.4 134.1h0M246.2 116.2h0M287.0 111.3h0M261.4 136.1h0M240.4 112.9h0M258.8 141.5h0M250.7 140.5h0M251.9 139.2h0M275.3 131.9h0M245.2 133.9h0M227.9 112.2h0M263.2 139.1h0M250.3 136.0h0M238.9 126.0h0M250.7 134.8h0M244.1 131.1h0M258.0 134.9h0M262.7 136.6h0M261.3 135.3h0M244.0 121.3h0M222.4 102.3h0M248.8 138.8h0M245.2 135.8h0M273.2 123.0h0M238.9 115.6h0M229.3 129.2h0M243.6 139.2h0M254.5 142.0h0M255.8 140.4h0M245.5 124.5h0M247.2 120.7h0M277.9 131.6h0M242.4 137.1h0M246.9 132.8h0M237.4 128.1h0M275.8 109.2h0M273.5 116.5h0M240.3 96.1h0M239.8 130.6h0M244.1 134.1h0M260.1 134.3h0M258.1 135.6h0M258.6 140.9h0M258.8 129.9h0M266.2 128.6h0M266.1 130.6h0M237.0 120.3h0M271.1 132.0h0M277.2 121.9h0M249.6 137.7h0M239.7 126.0h0M233.4 125.5h0M273.2 113.3h0M247.6 134.0h0M280.1 124.1h0M262.6 134.4h0M264.3 125.2h0M270.2 117.0h0M246.9 139.1h0M243.6 127.0h0M270.5 117.4h0M250.2 136.5h0M266.8 108.1h0M250.7 134.1h0M243.3 137.5h0M244.0 129.6h0M263.1 121.8h0M260.7 140.7h0M243.8 137.8h0M249.6 141.2h0M276.4 117.2h0M258.1 136.6h0M276.3 118.3h0M264.2 130.2h0M242.4 133.6h0M241.6 138.4h0M232.9 103.8h0M259.9 137.6h0M243.9 135.3h0M229.8 105.3h0M272.4 118.9h0M246.8 136.4h0M265.2 131.9h0M264.4 138.6h0M239.5 133.8h0M233.1 108.0h0M277.2 118.7h0M227.5 101.2h0M251.3 135.6h0M284.3 111.8h0M284.3 100.0h0M269.7 117.8h0M281.5 119.3h0M245.0 133.5h0M276.6 112.2h0M284.5 103.6h0M268.8 124.7h0M284.6 119.8h0M246.7 139.0h0M237.1 123.0h0M259.8 131.8h0M248.5 137.8h0M239.1 133.1h0M217.1 101.5h0M265.4 137.4h0M275.1 120.9h0M239.9 121.6h0M242.9 133.6h0M253.5 140.4h0M248.4 124.4h0M268.0 123.7h0M248.3 139.6h0M246.6 125.6h0M273.9 128.1h0M240.5 130.4h0M250.9 140.6h0M248.4 141.4h0M277.7 129.0h0M280.4 104.4h0M277.9 123.6h0M272.2 107.6h0M232.5 127.5h0M237.1 128.8h0M249.1 139.7h0M259.3 140.0h0M235.7 111.5h0M266.9 133.5h0M245.0 140.5h0M257.1 140.1h0M255.9 140.8h0M273.4 129.3h0M260.6 130.9h0M266.6 130.3h0M267.4 131.1h0M248.3 140.6h0M244.0 129.3h0M274.9 114.5h0M265.5 121.7h0M240.8 135.0h0M256.2 142.1h0M269.8 131.4h0M235.1 113.2h0M275.7 122.3h0M265.3 109.0h0M240.1 106.4h0M267.2 137.2h0M265.3 121.3h0M266.4 132.3h0M237.0 132.3h0M264.9 134.9h0M285.7 99.0h0M243.5 132.7h0M228.8 115.8h0M260.5 140.8h0M265.2 129.9h0M264.6 129.3h0M253.4 138.5h0M241.0 113.1h0M252.9 140.8h0M237.8 110.9h0M246.9 138.7h0M241.1 123.0h0M249.9 137.5h0M248.9 127.6h0M242.6 125.0h0M262.1 138.3h0M244.6 135.9h0M254.5 142.3h0M261.4 138.2h0M242.0 123.2h0M241.3 137.6h0M253.5 142.1h0M266.5 128.0h0M243.8 131.8h0M231.8 128.2h0M268.8 99.3h0M272.3 126.3h0M247.9 133.4h0M238.7 135.8h0M257.1 140.1h0M270.3 114.1h0M259.1 132.5h0M240.2 107.5h0M261.5 136.5h0M275.2 97.7h0M250.4 138.1h0M237.8 108.2h0M263.9 136.6h0M239.4 117.5h0M264.2 130.8h0M246.8 128.1h0M277.3 128.4h0M262.4 139.9h0M276.7 122.0h0M263.5 135.2h0M246.1 133.8h0M281.9 126.4h0M270.4 124.4h0M227.3 116.4h0M234.2 131.6h0M277.9 130.4h0M219.2 111.3h0M278.9 121.8h0M275.0 126.5h0M239.1 132.8h0M265.4 133.6h0M259.5 137.1h0M268.2 133.1h0M228.9 130.7h0M258.0 138.3h0M230.3 111.5h0M232.9 129.1h0M264.7 131.2h0M257.5 139.0h0M264.2 139.6h0M244.8 129.0h0M264.1 132.3h0M244.2 138.5h0M288.0 108.8h0M231.5 104.5h0M272.0 125.8h0M255.5 140.8h0M268.3 106.1h0M267.8 127.9h0M240.7 132.1h0M234.5 85.2h0M256.5 139.6h0M255.9 140.7h0M271.7 113.9h0M233.2 109.0h0M233.1 130.0h0M247.0 127.3h0M279.2 125.8h0M273.4 100.1h0M233.7 123.0h0M260.0 140.3h0M270.3 136.7h0M261.4 122.8h0M227.5 131.2h0M260.9 141.2h0M259.7 141.8h0M258.8 141.3h0M235.1 126.4h0M244.7 119.1h0M243.3 137.8h0M234.2 120.5h0M253.4 142.0h0M231.0 103.2h0M262.3 139.9h0M267.9 136.7h0M256.7 142.3h0M257.2 140.9h0M240.3 132.9h0M244.2 130.3h0M250.0 138.1h0M280.3 110.3h0M266.7 118.7h0M257.0 141.1h0M234.2 134.4h0M269.2 128.4h0M254.2 141.6h0M235.7 133.3h0M230.1 130.6h0M267.8 118.3h0M227.8 108.1h0M237.6 122.0h0M290.4 104.3h0M262.5 135.4h0M260.5 140.8h0M252.4 141.2h0M261.7 119.3h0M243.5 139.8h0M244.4 139.0h0M266.2 132.9h0M238.8 123.5h0M276.5 119.5h0M247.7 141.0h0M249.0 134.7h0M250.7 139.1h0M250.7 141.3h0M236.6 136.9h0M258.0 141.3h0M244.0 126.7h0M260.4 127.8h0M271.8 127.1h0M258.8 137.1h0M265.8 106.7h0M249.7 131.8h0M222.4 114.0h0M248.4 129.2h0M242.5 132.5h0M268.3 136.3h0M259.8 130.3h0M253.5 142.1h0M251.5 139.4h0M238.4 138.0h0M240.0 136.9h0M225.4 122.3h0M270.8 108.7h0M261.8 138.2h0M258.6 137.5h0M263.4 127.8h0M261.8 136.0h0M260.8 139.9h0M271.7 118.6h0M273.1 118.6h0M265.4 131.8h0M261.0 138.0h0M232.9 127.8h0M265.5 136.4h0M256.3 141.5h0M238.5 131.3h0M249.6 131.7h0M246.7 129.2h0M266.9 107.2h0M249.1 135.0h0M263.8 116.6h0M262.9 123.7h0M260.3 133.4h0M265.9 135.7h0M277.0 114.8h0M241.3 102.3h0M273.4 100.5h0M248.0 131.3h0M241.1 130.8h0M238.7 136.4h0M261.8 126.3h0M258.6 139.4h0M226.6 115.5h0M238.2 133.0h0M245.6 139.4h0M251.2 135.3h0M234.1 123.2h0M270.6 105.4h0M270.1 126.2h0M230.6 105.7h0M252.0 137.7h0M233.7 102.6h0M263.2 135.3h0M283.2 125.9h0M263.5 137.1h0M249.7 131.8h0M263.9 129.3h0M265.0 135.2h0M279.3 111.6h0M260.9 140.7h0M251.0 141.1h0M255.9 142.0h0M277.0 118.6h0M252.2 137.4h0M233.7 123.0h0M242.2 117.2h0M247.1 139.6h0M239.9 124.6h0M256.7 142.0h0M224.8 101.4h0M270.9 122.4h0M235.6 129.9h0M263.8 139.3h0M268.6 124.9h0M242.8 126.5h0M229.7 127.9h0M238.9 134.8h0M260.8 119.9h0M269.1 123.2h0M240.0 125.8h0M215.7 114.6h0M277.6 113.2h0M264.5 122.2h0M237.1 121.9h0M279.9 107.7h0M249.7 141.1h0M264.4 136.5h0M251.6 140.6h0M256.9 139.0h0M228.1 110.7h0M269.8 118.8h0M261.4 139.4h0M277.7 110.5h0M231.3 117.8h0M261.5 135.2h0M244.7 137.7h0M265.4 138.9h0M253.6 139.3h0M228.2 123.0h0M256.3 142.1h0M260.4 141.6h0M258.9 133.3h0M278.6 121.3h0M235.5 76.0h0M273.3 93.6h0M238.6 85.4h0M243.5 101.0h0M272.5 86.8h0M236.4 95.8h0M234.2 79.5h0M238.1 101.6h0M269.3 100.8h0M233.9 86.3h0M271.6 88.9h0M235.0 87.0h0M235.1 87.9h0M237.4 104.3h0M273.3 87.7h0M270.0 92.5h0M237.9 99.8h0M271.8 80.9h0M236.5 86.0h0M237.9 93.3h0M233.9 100.9h0M235.1 105.7h0M236.5 79.6h0M276.1 91.6h0M234.1 91.2h0M241.4 96.8h0M238.3 93.2h0M237.5 86.9h0M272.9 92.4h0M235.1 81.1h0M239.6 99.9h0M272.9 102.0h0M274.9 80.1h0M238.6 99.7h0M242.7 96.4h0M272.4 83.5h0M240.8 104.8h0M274.4 90.1h0M239.4 96.0h0M236.3 77.6h0M240.7 89.9h0M274.4 90.3h0M237.5 86.4h0M235.8 81.7h0M234.6 96.9h0M237.5 104.9h0M238.7 88.0h0M270.6 92.3h0M272.7 99.3h0M275.6 84.1h0M271.9 83.7h0M274.6 76.3h0M236.4 77.3h0M242.3 98.6h0M273.9 94.1h0M273.3 83.3h0M269.6 105.1h0M234.2 81.0h0M239.8 86.0h0M240.7 96.4h0M272.5 79.3h0M268.6 91.7h0M238.1 98.5h0M236.8 81.3h0M275.3 78.2h0M267.8 101.3h0M273.3 77.3h0M273.8 100.6h0M270.7 85.1h0M237.0 90.9h0M237.6 79.6h0M275.4 102.6h0M241.2 92.0h0M237.3 93.5h0M236.2 100.5h0M275.4 91.2h0M270.2 104.4h0M239.2 100.4h0M273.5 80.1h0M274.8 80.6h0M271.7 81.5h0M272.9 103.9h0M274.9 86.1h0M235.9 92.1h0M274.2 85.7h0M270.3 95.5h0M236.5 96.8h0M235.8 77.9h0M235.6 85.0h0M271.6 86.7h0M239.1 90.4h0M273.2 96.8h0M240.3 92.5h0M234.1 79.0h0M234.2 80.2h0M238.4 102.7h0M272.7 82.1h0M272.5 85.6h0M238.9 86.1h0M235.8 96.1h0M239.8 88.7h0M272.2 80.4h0M270.1 103.2h0M241.4 98.5h0M269.7 93.3h0M271.0 95.7h0M271.7 89.0h0M268.5 101.7h0M236.9 92.3h0M241.8 96.0h0M239.0 85.2h0M238.5 98.2h0M233.9 95.4h0M268.6 97.9h0M273.7 77.5h0M242.1 102.8h0M266.9 100.0h0M237.4 79.4h0M239.5 94.4h0M237.4 83.2h0M238.1 103.3h0M242.5 101.4h0M276.0 87.6h0M238.0 100.7h0M235.4 98.4h0M181.4 108.7h0M192.7 101.8h0M192.3 116.0h0M203.4 100.4h0M201.3 107.8h0M198.2 112.5h0M205.7 111.6h0M209.1 113.4h0M202.2 116.0h0M211.7 121.1h0M210.3 127.2h0M218.6 130.7h0M220.4 132.4h0M228.1 135.3h0M214.3 103.8h0M293.9 111.6h0M295.1 118.0h0M302.1 117.7h0M305.2 119.4h0M304.3 122.0h0M316.4 116.0h0M323.9 126.3h0M300.0 126.9h0M287.9 122.9h0M286.1 127.7h0M280.1 130.7h0M278.4 136.4h0M260.2 98.7h0M234.2 60.3h0M235.0 70.8h0M238.8 75.4h0M268.8 56.0h0M272.3 56.0h0M239.6 75.0h0M236.5 95.0h0M237.0 90.0h0M236.0 85.0h0M238.0 80.0h0M236.5 76.0h0M241.0 92.0h0M240.0 86.0h0M270.0 95.0h0M272.0 90.0h0M274.0 86.0h0M271.0 82.0h0M273.5 78.0h0M268.0 90.0h0M266.5 95.0h0" stroke="#0b3a6e" stroke-width="4.1" stroke-linecap="round" fill="none"/><path d="M278.2 127.7h0M228.2 121.1h0M261.0 130.6h0M271.8 123.8h0M250.6 138.0h0M258.4 142.1h0M229.5 130.4h0M266.2 136.1h0M260.8 131.1h0M243.9 135.9h0M277.6 123.7h0M261.0 120.1h0M268.0 103.4h0M257.7 137.7h0M247.6 127.1h0M264.5 135.1h0M262.8 124.1h0M259.6 140.8h0M257.1 141.1h0M263.2 117.0h0M270.0 126.3h0M238.1 132.5h0M261.5 131.5h0M267.1 117.9h0M261.2 131.4h0M258.7 141.8h0M269.5 136.2h0M261.1 121.4h0M263.9 129.2h0M278.5 113.5h0M257.0 142.1h0M232.1 123.6h0M266.9 137.1h0M250.2 135.0h0M244.7 113.3h0M228.3 106.2h0M251.3 139.3h0M265.5 136.1h0M246.8 137.4h0M269.7 118.6h0M281.2 117.0h0M251.0 139.7h0M273.1 134.4h0M242.8 120.3h0M261.5 140.9h0M255.9 140.3h0M231.8 124.3h0M229.4 103.6h0M281.0 127.7h0M239.2 115.3h0M264.6 126.5h0M276.1 123.0h0M252.4 139.3h0M270.0 90.8h0M265.1 124.0h0M263.2 124.2h0M257.0 141.8h0M247.1 119.9h0M271.2 120.4h0M231.8 120.3h0M264.1 130.6h0M243.1 114.1h0M277.1 109.8h0M264.0 128.9h0M259.5 135.1h0M278.3 107.2h0M233.8 128.4h0M227.8 126.8h0M253.9 140.0h0M267.5 137.2h0M227.6 100.0h0M265.8 127.3h0M256.9 141.8h0M243.6 114.9h0M266.3 132.2h0M241.7 124.9h0M271.8 122.1h0M239.2 133.3h0M252.4 141.9h0M270.4 132.6h0M267.5 99.6h0M258.7 139.3h0M255.5 142.0h0M274.9 124.6h0M252.9 140.4h0M247.6 138.5h0M266.2 109.4h0M263.3 128.3h0M274.9 112.3h0M263.1 119.9h0M262.1 132.5h0M223.5 104.3h0M244.7 135.3h0M264.4 127.3h0M220.9 118.6h0M242.5 118.6h0M249.4 140.6h0M251.5 142.2h0M284.8 113.3h0M262.9 115.8h0M270.5 136.4h0M269.1 128.3h0M237.8 134.6h0M251.9 142.0h0M277.1 125.6h0M244.4 117.5h0M270.2 118.6h0M258.4 138.8h0M243.9 138.4h0M238.8 130.2h0M256.7 137.9h0M265.3 130.9h0M265.0 114.6h0M262.2 129.9h0M261.0 126.9h0M258.7 131.0h0M238.0 119.0h0M215.6 103.5h0M264.1 116.5h0M273.9 117.3h0M279.6 108.2h0M258.1 137.2h0M236.7 129.8h0M273.0 114.0h0M239.1 128.3h0M259.6 140.0h0M240.8 131.0h0M260.1 135.2h0M262.7 120.1h0M273.1 132.4h0M276.0 123.7h0M218.4 107.3h0M236.5 118.5h0M229.5 117.2h0M248.2 130.1h0M260.4 135.6h0M261.6 136.9h0M247.9 140.0h0M268.3 129.2h0M249.0 136.1h0M285.9 115.0h0M267.6 131.0h0M260.6 123.3h0M261.5 137.6h0M239.6 124.1h0M247.6 140.3h0M232.5 133.8h0M279.8 129.3h0M239.8 136.6h0M252.4 142.1h0M257.7 135.2h0M228.2 106.2h0M266.7 115.6h0M240.4 130.9h0M249.5 138.0h0M271.7 96.8h0M240.6 114.2h0M273.7 132.6h0M254.6 141.2h0M256.0 141.4h0M258.5 141.7h0M256.0 141.2h0M272.2 133.1h0M256.9 141.0h0M275.1 110.3h0M259.6 141.6h0M262.5 132.0h0M264.8 137.9h0M234.5 124.9h0M250.4 141.7h0M249.0 130.9h0M273.7 119.2h0M259.4 134.6h0M273.3 109.3h0M271.5 127.8h0M262.3 138.8h0M277.2 106.4h0M252.1 140.8h0M221.5 109.1h0M281.3 101.0h0M269.4 121.8h0M265.6 135.0h0M236.8 101.2h0M259.5 139.9h0M266.0 133.1h0M264.3 114.0h0M264.9 122.1h0M223.2 125.0h0M228.8 126.3h0M243.5 137.4h0M234.8 129.1h0M224.2 111.4h0M248.5 139.2h0M265.0 111.2h0M273.0 84.2h0M275.8 124.9h0M249.0 140.6h0M258.4 136.4h0M269.0 133.3h0M269.3 127.3h0M229.7 131.5h0M270.0 103.1h0M221.2 122.4h0M262.6 136.9h0M253.5 141.7h0M240.5 136.7h0M270.9 136.7h0M269.1 111.5h0M269.6 134.5h0M273.5 123.0h0M264.1 118.1h0M236.6 109.1h0M253.8 141.9h0M226.5 122.9h0M259.4 139.4h0M235.9 123.7h0M234.5 109.1h0M246.8 131.0h0M265.2 135.5h0M267.5 113.7h0M245.1 130.5h0M251.2 137.5h0M276.4 132.9h0M268.5 129.7h0M248.9 140.3h0M264.6 123.4h0M246.2 132.3h0M256.7 141.6h0M265.2 112.9h0M259.4 137.6h0M252.9 140.6h0M256.4 139.6h0M253.1 141.8h0M248.0 132.5h0M220.9 125.6h0M262.9 136.6h0M236.1 112.9h0M245.3 125.4h0M251.3 134.5h0M242.3 127.6h0M222.8 114.0h0M266.9 135.3h0M270.6 129.9h0M253.3 138.3h0M267.8 135.6h0M267.6 124.1h0M248.1 128.3h0M249.9 140.1h0M239.3 103.7h0M235.8 95.4h0M238.6 136.1h0M265.2 113.0h0M241.7 101.9h0M241.6 120.3h0M252.0 140.6h0M248.4 140.1h0M278.7 107.6h0M271.9 123.9h0M279.3 108.7h0M257.0 141.4h0M280.2 117.0h0M272.3 134.2h0M269.3 127.9h0M247.3 139.7h0M247.2 126.3h0M239.5 129.7h0M230.3 129.4h0M249.7 141.7h0M268.5 129.9h0M261.1 134.5h0M272.9 134.9h0M273.5 107.4h0M241.7 131.1h0M241.6 136.7h0M243.1 129.4h0M264.4 137.8h0M268.6 113.6h0M285.1 111.5h0M259.1 131.8h0M242.7 136.2h0M241.9 135.4h0M274.2 132.9h0M272.1 133.6h0M247.6 135.5h0M229.0 126.9h0M275.4 121.9h0M261.2 132.5h0M236.1 107.3h0M249.9 139.7h0M269.4 104.0h0M261.3 137.3h0M271.6 135.1h0M256.3 141.6h0M282.6 102.5h0M241.3 105.8h0M241.2 95.7h0M270.8 135.3h0M251.3 138.3h0M286.2 106.2h0M261.9 132.2h0M225.7 108.6h0M274.0 132.2h0M243.8 131.5h0M252.7 141.7h0M266.2 110.3h0M260.1 134.5h0M248.6 140.4h0M283.1 117.9h0M266.1 128.7h0M235.6 133.9h0M225.7 104.2h0M269.4 134.1h0M260.7 123.3h0M234.7 136.3h0M238.2 114.8h0M220.3 112.0h0M238.3 131.6h0M226.2 120.9h0M248.2 138.3h0M243.4 137.6h0M242.2 138.7h0M231.2 108.5h0M233.4 106.8h0M260.9 141.3h0M282.3 125.1h0M237.1 129.1h0M259.2 141.6h0M245.9 135.4h0M270.3 135.2h0M248.0 138.6h0M267.3 135.8h0M241.0 98.5h0M263.6 116.9h0M226.7 128.9h0M230.8 100.1h0M237.9 96.0h0M261.1 130.5h0M264.1 123.2h0M258.7 134.8h0M262.0 137.9h0M265.6 128.4h0M250.0 141.0h0M271.7 128.0h0M253.7 139.9h0M264.7 129.9h0M232.8 123.8h0M266.4 131.4h0M287.3 105.7h0M267.9 130.3h0M245.1 129.8h0M245.3 138.8h0M276.1 124.2h0M262.3 140.0h0M268.0 106.0h0M220.6 114.6h0M225.7 102.5h0M270.4 119.9h0M231.7 124.7h0M276.5 102.6h0M235.5 113.9h0M237.1 134.0h0M264.3 115.9h0M266.4 133.8h0M281.4 117.4h0M238.7 128.9h0M247.6 134.9h0M248.2 133.5h0M252.9 142.1h0M225.3 102.0h0M229.0 129.3h0M260.6 134.2h0M236.2 129.1h0M218.4 115.0h0M243.6 126.5h0M242.1 133.7h0M280.7 119.0h0M223.0 122.8h0M251.0 140.4h0M233.8 122.1h0M274.5 124.5h0M276.3 116.1h0M250.0 141.2h0M267.3 135.0h0M257.7 138.9h0M261.7 131.9h0M263.3 137.8h0M264.1 117.9h0M274.7 122.4h0M247.7 123.9h0M274.1 88.6h0M277.4 106.8h0M264.2 127.9h0M266.0 103.0h0M233.5 128.3h0M243.3 131.7h0M263.5 119.9h0M219.5 108.6h0M233.0 131.2h0M227.1 116.2h0M259.8 124.8h0M246.6 128.2h0M270.0 102.0h0M249.9 137.7h0M246.9 140.0h0M276.0 117.5h0M246.8 125.2h0M228.4 122.2h0M259.4 128.8h0M253.6 141.4h0M260.7 120.3h0M266.7 137.1h0M238.8 131.4h0M258.9 130.0h0M249.9 129.5h0M228.4 130.7h0M258.7 139.4h0M246.0 130.7h0M262.8 136.9h0M270.1 133.3h0M246.3 119.0h0M263.2 130.4h0M284.2 99.9h0M267.2 116.7h0M237.7 133.0h0M239.7 130.4h0M235.8 132.5h0M279.3 124.6h0M215.7 108.8h0M259.1 138.3h0M267.3 112.4h0M266.7 136.4h0M272.0 102.2h0M221.5 118.3h0M265.9 131.8h0M247.7 124.1h0M280.6 101.7h0M271.5 134.3h0M224.3 101.0h0M260.9 123.5h0M271.8 108.2h0M266.2 122.2h0M261.1 129.4h0M234.7 107.1h0M268.0 103.6h0M258.7 139.2h0M287.1 108.4h0M238.8 132.9h0M279.4 125.3h0M256.5 141.5h0M263.6 129.6h0M227.2 120.6h0M274.0 124.7h0M259.4 134.6h0M274.4 135.0h0M228.6 103.2h0M239.0 134.1h0M261.6 137.2h0M275.3 101.3h0M256.9 138.7h0M237.8 112.4h0M266.3 134.8h0M255.7 141.3h0M220.3 107.5h0M265.5 130.8h0M256.3 140.4h0M259.6 136.0h0M263.4 131.0h0M286.5 104.7h0M261.4 133.4h0M260.2 134.5h0M248.3 135.7h0M241.8 117.8h0M262.2 131.5h0M266.3 136.7h0M236.4 134.0h0M275.7 105.0h0M262.4 134.8h0M274.6 123.1h0M260.2 140.5h0M256.6 139.0h0M247.6 138.1h0M248.9 137.4h0M267.4 137.9h0M237.6 113.7h0M258.9 141.1h0M263.1 139.6h0M262.6 133.1h0M262.8 119.2h0M249.9 142.1h0M246.6 126.5h0M274.2 132.2h0M248.2 134.8h0M278.0 104.8h0M248.1 138.3h0M260.4 131.8h0M268.2 132.4h0M262.8 118.7h0M262.4 113.9h0M237.8 132.4h0M275.6 96.3h0M274.5 114.4h0M250.8 136.0h0M252.1 142.1h0M277.4 104.9h0M220.4 111.5h0M263.7 121.8h0M246.3 140.5h0M280.2 120.0h0M246.9 132.1h0M258.3 138.7h0M240.0 121.5h0M253.5 141.9h0M242.7 122.5h0M268.3 130.7h0M248.2 134.1h0M261.3 135.0h0M236.2 109.5h0M281.4 117.3h0M262.0 133.7h0M236.5 118.9h0M260.3 141.4h0M259.1 130.5h0M265.1 132.1h0M267.6 126.8h0M241.4 134.7h0M254.2 141.2h0M257.6 138.6h0M250.3 138.0h0M238.6 123.7h0M251.9 138.1h0M249.5 138.7h0M281.6 120.3h0M239.2 106.3h0M281.7 114.8h0M244.0 137.6h0M251.9 142.2h0M278.0 125.7h0M265.6 117.8h0M245.6 137.5h0M228.3 118.1h0M263.4 130.6h0M248.8 128.0h0M222.9 119.9h0M271.5 122.9h0M271.4 122.5h0M262.4 136.7h0M243.6 136.3h0M244.7 138.3h0M258.9 135.2h0M256.1 142.0h0M264.3 120.5h0M271.8 133.2h0M262.9 136.8h0M237.4 124.7h0M241.6 133.5h0M263.8 139.9h0M264.8 127.9h0M238.4 88.5h0M259.3 139.1h0M286.4 106.6h0M245.0 129.5h0M260.8 132.4h0M277.3 126.0h0M278.7 110.8h0M250.8 135.5h0M275.3 102.8h0M257.0 141.1h0M231.9 126.1h0M261.9 135.5h0M231.7 124.9h0M228.7 105.7h0M259.7 127.9h0M245.4 112.8h0M242.3 123.8h0M245.7 140.7h0M240.7 136.4h0M264.3 137.4h0M244.0 129.3h0M261.8 134.9h0M251.0 136.0h0M267.8 103.6h0M248.5 134.9h0M275.5 85.3h0M243.6 125.4h0M264.0 133.0h0M234.8 131.0h0M252.4 136.6h0M237.3 134.3h0M250.7 132.1h0M244.3 118.1h0M252.0 137.1h0M248.6 128.4h0M227.6 105.7h0M265.3 120.5h0M258.3 142.3h0M267.8 130.9h0M244.2 133.7h0M247.6 119.1h0M244.6 135.3h0M261.5 126.9h0M264.1 128.9h0M238.0 133.7h0M265.1 130.5h0M261.6 137.4h0M266.3 110.9h0M261.0 136.8h0M243.6 139.4h0M232.7 127.0h0M225.9 123.0h0M264.6 125.0h0M225.2 121.3h0M275.5 126.1h0M271.8 119.0h0M267.2 125.6h0M239.1 131.7h0M245.6 127.4h0M252.9 141.2h0M276.9 131.4h0M272.6 119.6h0M262.2 128.5h0M222.9 115.9h0M225.5 122.7h0M228.7 130.4h0M276.6 128.8h0M250.6 134.2h0M224.7 123.8h0M250.0 133.3h0M261.4 140.1h0M282.6 108.2h0M277.7 100.2h0M235.0 97.0h0M252.2 141.1h0M289.0 106.9h0M231.7 121.3h0M257.9 138.7h0M250.8 134.2h0M266.2 133.5h0M255.9 140.7h0M240.6 130.2h0M250.0 133.8h0M260.8 133.7h0M272.1 123.0h0M245.8 139.0h0M239.2 137.6h0M239.5 136.1h0M265.6 133.4h0M224.7 102.2h0M246.3 123.8h0M249.7 138.8h0M231.9 120.6h0M271.3 117.1h0M251.6 140.3h0M267.7 116.5h0M236.7 125.6h0M254.6 142.3h0M258.7 136.4h0M244.2 118.0h0M247.4 128.4h0M234.4 126.4h0M251.4 137.6h0M252.0 140.5h0M269.1 137.3h0M257.1 141.5h0M226.7 116.0h0M240.4 136.5h0M262.0 122.5h0M237.5 127.3h0M244.9 136.6h0M262.1 134.9h0M257.1 140.5h0M270.7 119.2h0M235.8 130.9h0M263.4 138.3h0M261.9 136.4h0M270.2 134.0h0M258.8 129.6h0M270.5 130.5h0M256.5 138.3h0M238.3 123.1h0M274.1 128.5h0M262.3 135.0h0M283.1 116.6h0M277.5 107.8h0M235.5 92.4h0M270.9 135.5h0M239.4 133.0h0M248.6 140.9h0M286.6 102.6h0M240.1 109.9h0M247.2 136.8h0M237.7 125.9h0M252.5 141.4h0M234.2 129.9h0M238.6 115.8h0M247.9 141.4h0M274.0 105.9h0M281.5 118.6h0M252.5 141.0h0M265.1 120.9h0M245.4 130.0h0M258.1 133.9h0M236.5 101.0h0M265.2 120.1h0M225.6 109.7h0M268.1 94.2h0M273.5 93.8h0M230.2 103.2h0M247.6 138.0h0M279.1 127.1h0M260.9 127.8h0M243.5 126.9h0M237.6 110.9h0M273.7 123.0h0M276.3 128.6h0M233.3 106.4h0M271.9 131.9h0M273.7 126.4h0M221.4 125.8h0M267.4 124.2h0M258.3 141.1h0M245.0 137.3h0M253.5 141.0h0M264.1 127.7h0M263.0 117.7h0M268.3 125.7h0M248.7 129.4h0M259.1 130.7h0M235.9 129.9h0M266.3 119.4h0M278.5 110.1h0M263.8 136.6h0M245.5 133.8h0M244.8 138.7h0M236.7 136.1h0M256.0 140.4h0M230.7 132.8h0M272.0 119.2h0M257.7 141.2h0M264.1 125.3h0M261.2 138.4h0M262.2 140.2h0M233.0 126.3h0M271.0 114.0h0M258.4 139.6h0M240.8 131.8h0M249.2 140.6h0M256.1 139.7h0M245.2 135.1h0M261.4 139.0h0M234.4 97.1h0M260.2 128.1h0M269.1 131.0h0M286.5 112.1h0M242.2 116.5h0M259.1 139.9h0M241.0 127.4h0M244.8 110.5h0M242.5 133.2h0M229.8 129.9h0M257.1 141.2h0M256.2 142.2h0M251.7 141.1h0M244.3 137.9h0M249.9 141.3h0M280.5 121.2h0M240.9 114.6h0M246.6 139.3h0M258.5 141.7h0M242.4 107.5h0M259.3 140.8h0M235.5 122.5h0M260.0 141.3h0M267.8 131.8h0M235.9 125.6h0M242.0 134.2h0M256.4 141.8h0M268.2 138.2h0M256.9 141.9h0M247.9 141.2h0M242.2 136.9h0M256.1 141.5h0M257.5 138.9h0M224.0 103.2h0M230.2 125.7h0M268.3 122.0h0M251.0 138.6h0M271.8 133.9h0M276.9 118.8h0M271.9 131.6h0M283.6 100.8h0M250.5 139.4h0M258.7 138.4h0M231.1 130.6h0M269.8 96.6h0M244.7 125.8h0M254.7 142.2h0M230.5 117.0h0M248.2 140.1h0M241.5 138.8h0M237.2 97.9h0M244.8 128.2h0M238.5 107.0h0M252.0 140.1h0M240.7 132.7h0M260.3 141.6h0M271.7 129.6h0M225.2 120.3h0M234.9 136.0h0M242.8 136.8h0M245.3 130.3h0M221.6 120.6h0M259.5 141.8h0M265.9 137.1h0M258.6 131.7h0M265.6 126.0h0M226.0 123.3h0M259.1 137.7h0M271.4 132.0h0M270.2 135.4h0M261.9 131.5h0M257.7 142.1h0M257.6 138.3h0M280.4 109.4h0M225.6 106.5h0M258.2 141.0h0M282.3 122.2h0M266.9 137.1h0M244.3 112.2h0M272.4 99.9h0M279.5 114.9h0M262.1 135.1h0M259.6 141.2h0M280.1 124.3h0M268.1 109.0h0M260.2 132.7h0M240.2 135.8h0M254.3 142.1h0M222.5 119.3h0M239.4 133.7h0M242.5 139.5h0M274.9 119.9h0M261.7 139.0h0M263.8 125.4h0M248.0 120.4h0M259.0 142.1h0M267.4 134.7h0M258.6 139.4h0M246.6 128.0h0M255.8 140.1h0M248.6 133.3h0M226.5 129.7h0M248.4 123.7h0M228.7 123.9h0M238.4 125.9h0M263.3 119.9h0M267.9 126.6h0M268.2 129.1h0M269.8 90.9h0M263.1 118.2h0M263.8 131.1h0M255.9 141.1h0M220.3 110.3h0M267.1 119.7h0M237.3 129.9h0M256.0 141.8h0M273.2 120.8h0M229.0 119.7h0M242.8 128.3h0M261.2 136.2h0M244.2 127.1h0M242.9 121.3h0M265.7 113.7h0M221.5 100.6h0M260.9 132.1h0M250.6 136.2h0M289.5 99.0h0M274.2 129.6h0M263.8 130.0h0M225.7 118.7h0M253.7 140.6h0M222.4 101.3h0M263.3 129.7h0M271.1 136.9h0M270.0 121.9h0M273.8 92.7h0M227.1 102.7h0M247.1 139.6h0M252.9 140.7h0M237.0 118.7h0M258.2 134.3h0M260.7 123.5h0M267.2 105.2h0M237.3 136.4h0M272.0 117.1h0M249.1 136.3h0M249.9 138.8h0M238.7 124.8h0M240.6 97.1h0M247.2 122.4h0M266.4 107.2h0M268.1 125.9h0M239.8 137.7h0M238.0 133.1h0M245.5 137.7h0M246.0 122.8h0M246.6 132.0h0M244.3 112.3h0M229.5 130.3h0M249.1 137.8h0M242.9 109.1h0M262.0 140.4h0M243.9 112.3h0M254.5 142.0h0M259.2 133.0h0M259.5 138.5h0M251.4 139.4h0M219.8 100.7h0M232.5 122.2h0M267.9 132.3h0M250.7 141.3h0M239.3 115.8h0M274.8 91.6h0M234.2 131.5h0M259.0 132.3h0M273.3 127.2h0M262.9 131.9h0M272.1 126.2h0M284.3 107.3h0M237.6 127.1h0M231.7 130.7h0M234.0 133.1h0M251.8 139.3h0M244.1 118.0h0M227.3 115.9h0M242.1 139.0h0M226.4 130.7h0M221.6 112.1h0M263.9 130.0h0M250.0 133.2h0M225.1 121.2h0M281.8 105.7h0M264.0 123.8h0M269.5 105.3h0M232.7 124.2h0M280.4 99.3h0M240.7 126.6h0M262.4 116.0h0M246.7 129.5h0M276.6 131.5h0M235.5 134.6h0M234.5 119.6h0M269.9 135.0h0M248.0 140.8h0M260.5 140.2h0M216.5 115.8h0M248.3 139.0h0M247.0 133.4h0M253.7 141.5h0M281.1 127.3h0M246.7 120.3h0M259.4 133.0h0M275.7 118.3h0M274.3 132.8h0M243.8 113.7h0M255.5 142.1h0M233.2 123.9h0M266.8 132.2h0M259.6 140.0h0M268.8 129.7h0M260.6 132.7h0M244.7 129.3h0M253.8 140.1h0M249.9 141.6h0M270.4 136.0h0M257.4 135.8h0M251.5 139.3h0M276.3 107.1h0M239.1 126.3h0M280.3 115.9h0M283.0 112.8h0M249.5 139.4h0M230.6 99.1h0M224.1 100.3h0M276.1 90.3h0M220.8 123.5h0M249.8 138.1h0M265.8 120.9h0M252.7 141.6h0M268.9 134.9h0M257.9 137.1h0M262.2 127.8h0M271.7 132.5h0M262.7 121.8h0M256.6 141.7h0M241.8 134.5h0M246.9 125.4h0M219.9 110.8h0M235.1 132.5h0M232.7 121.8h0M244.2 138.0h0M237.9 111.2h0M252.2 141.5h0M224.4 104.7h0M278.1 115.9h0M263.3 115.6h0M245.1 128.6h0M234.0 123.7h0M274.2 131.1h0M244.5 118.6h0M227.6 114.7h0M259.9 125.6h0M279.8 104.4h0M265.7 117.4h0M266.8 136.1h0M273.3 119.4h0M269.7 134.5h0M233.0 119.8h0M258.7 137.6h0M244.4 108.1h0M254.8 142.2h0M254.0 140.4h0M238.6 113.3h0M268.9 131.7h0M279.9 106.9h0M246.5 135.4h0M239.8 123.4h0M281.3 121.7h0M266.1 135.7h0M264.3 134.4h0M262.3 123.0h0M249.3 124.5h0M265.9 123.4h0M250.3 136.2h0M267.0 108.1h0M258.1 139.6h0M233.2 128.9h0M279.4 117.6h0M274.9 97.2h0M269.1 137.4h0M265.3 121.7h0M279.2 109.3h0M257.3 137.8h0M243.7 130.7h0M258.6 139.4h0M242.6 121.7h0M257.7 140.1h0M284.5 103.1h0M249.9 138.3h0M258.2 138.0h0M239.1 134.9h0M255.0 142.3h0M267.9 131.7h0M250.8 141.3h0M277.1 122.9h0M265.0 138.0h0M271.9 123.9h0M263.9 134.3h0M240.7 136.1h0M271.2 95.2h0M243.4 138.2h0M268.0 135.2h0M257.5 139.4h0M248.1 133.9h0M239.6 136.0h0M264.6 113.0h0M259.8 138.4h0M239.0 118.2h0M259.8 137.7h0M257.5 141.9h0M240.1 114.9h0M230.2 117.9h0M244.8 133.3h0M256.5 141.1h0M250.2 140.4h0M279.3 130.4h0M248.4 141.7h0M273.9 102.5h0M219.1 105.6h0M262.7 119.8h0M238.7 85.3h0M257.6 141.4h0M256.7 140.6h0M236.0 109.0h0M235.0 130.9h0M240.5 119.7h0M243.1 138.6h0M237.9 130.3h0M253.2 139.4h0M236.1 130.5h0M276.7 131.2h0M286.5 101.1h0M274.1 114.5h0M241.3 128.9h0M261.0 139.2h0M281.9 101.1h0M249.9 141.8h0M272.9 124.2h0M248.9 134.3h0M235.3 114.1h0M242.0 133.1h0M283.2 114.3h0M218.0 103.9h0M241.4 100.1h0M271.5 127.1h0M265.3 137.8h0M225.5 113.2h0M248.6 140.1h0M249.0 128.9h0M258.2 137.5h0M262.1 131.2h0M250.4 139.2h0M230.5 131.0h0M263.1 133.6h0M244.3 116.6h0M286.1 116.4h0M235.1 133.1h0M243.1 123.2h0M258.4 141.8h0M246.6 139.0h0M247.4 130.1h0M246.1 113.9h0M260.9 133.4h0M285.7 107.2h0M264.8 139.2h0M230.6 112.7h0M276.6 119.4h0M266.8 132.9h0M260.2 124.6h0M261.4 122.6h0M222.6 126.2h0M243.2 136.7h0M235.6 129.7h0M257.6 140.7h0M269.6 125.7h0M279.7 130.2h0M288.6 109.1h0M248.8 135.7h0M277.9 125.6h0M244.6 136.6h0M261.5 137.6h0M226.8 104.7h0M263.0 127.9h0M261.0 138.4h0M244.8 131.0h0M271.3 127.4h0M269.4 124.7h0M256.8 137.4h0M246.3 136.6h0M230.6 106.9h0M279.6 101.6h0M229.1 101.9h0M259.0 140.8h0M274.1 132.9h0M258.7 131.7h0M246.6 138.5h0M271.5 117.4h0M276.0 111.1h0M261.9 127.0h0M220.7 114.6h0M216.1 112.7h0M267.7 115.0h0M246.2 136.1h0M269.5 105.4h0M225.6 121.7h0M239.0 130.0h0M257.1 142.2h0M240.0 124.7h0M259.4 132.2h0M263.5 139.2h0M272.2 128.3h0M284.3 106.9h0M240.0 108.3h0M262.4 135.4h0M220.0 101.0h0M261.5 141.2h0M238.2 127.6h0M257.5 140.3h0M236.1 121.2h0M242.3 136.5h0M243.4 135.6h0M259.8 138.8h0M261.4 135.1h0M228.8 121.1h0M235.4 120.8h0M258.2 136.4h0M236.7 129.3h0M238.6 117.3h0M275.0 124.8h0M250.2 139.6h0M231.7 110.2h0M270.3 97.5h0M276.3 129.8h0M276.9 128.4h0M273.3 134.6h0M245.4 138.5h0M262.1 113.6h0M239.9 129.7h0M261.7 136.3h0M250.8 141.6h0M277.5 123.8h0M260.9 122.8h0M232.4 121.0h0M260.5 138.3h0M261.9 140.4h0M235.5 93.8h0M247.1 139.0h0M242.5 131.9h0M248.8 141.3h0M255.5 140.5h0M236.3 116.0h0M272.5 130.1h0M234.6 120.3h0M268.5 95.8h0M242.8 129.3h0M220.5 113.6h0M287.6 110.5h0M251.4 135.1h0M222.8 102.8h0M283.4 110.4h0M248.7 130.2h0M229.1 120.4h0M269.0 113.6h0M240.5 131.4h0M271.5 131.8h0M259.0 130.5h0M266.1 139.3h0M222.7 125.6h0M264.7 137.9h0M261.9 125.2h0M283.9 106.8h0M268.5 130.3h0M278.0 124.3h0M266.2 133.3h0M273.7 120.2h0M259.4 139.5h0M243.4 130.9h0M272.7 123.9h0M247.8 137.7h0M260.8 136.5h0M227.4 107.5h0M242.3 137.0h0M262.7 128.6h0M264.1 135.4h0M250.1 140.3h0M262.5 127.0h0M248.3 133.9h0M284.4 106.7h0M243.8 131.7h0M250.6 132.3h0M264.6 134.2h0M268.2 102.0h0M276.2 103.7h0M244.7 118.1h0M230.4 128.3h0M247.1 138.8h0M262.3 132.8h0M264.5 139.8h0M263.9 133.0h0M242.0 115.2h0M245.8 123.8h0M259.3 137.6h0M259.9 128.9h0M258.3 141.5h0M256.1 142.2h0M282.9 122.1h0M268.4 133.0h0M263.0 133.9h0M259.8 139.0h0M276.9 121.1h0M256.0 141.7h0M239.4 121.2h0M246.1 139.8h0M280.2 110.9h0M270.2 127.4h0M239.7 124.1h0M265.9 128.6h0M244.7 125.9h0M282.3 118.3h0M264.0 133.7h0M259.9 140.4h0M271.1 123.2h0M241.8 138.4h0M252.6 138.2h0M265.5 139.5h0M271.6 133.9h0M280.1 123.5h0M276.5 128.6h0M265.5 128.5h0M268.6 120.1h0M250.3 133.9h0M266.9 127.1h0M260.1 139.8h0M252.8 141.5h0M244.8 136.9h0M260.4 129.7h0M272.1 101.2h0M258.4 132.7h0M260.3 137.5h0M269.3 132.3h0M260.6 135.3h0M245.8 119.8h0M251.0 138.9h0M248.9 133.6h0M270.8 115.8h0M248.3 137.3h0M265.7 135.3h0M250.4 132.3h0M246.8 137.8h0M260.8 138.2h0M279.7 130.1h0M258.2 142.0h0M262.5 138.0h0M234.1 121.9h0M237.1 134.1h0M264.4 137.2h0M236.4 119.7h0M243.0 138.2h0M248.1 135.3h0M239.5 105.3h0M229.8 123.0h0M259.4 141.5h0M225.6 101.4h0M277.7 125.4h0M236.7 135.1h0M237.9 135.2h0M264.1 139.3h0M230.9 132.1h0M254.0 141.1h0M243.9 129.0h0M244.4 139.9h0M272.7 126.7h0M250.9 140.1h0M256.3 139.7h0M255.9 141.7h0M242.3 133.9h0M246.9 117.9h0M220.9 113.8h0M226.5 109.6h0M267.4 126.6h0M235.9 109.0h0M241.3 131.0h0M265.4 132.8h0M220.2 121.9h0M222.4 122.7h0M259.4 139.8h0M242.6 117.5h0M252.8 140.1h0M275.8 116.4h0M268.0 97.9h0M268.8 134.3h0M272.6 131.9h0M274.8 90.2h0M233.5 116.5h0M246.1 134.8h0M271.8 123.4h0M259.1 136.6h0M243.8 121.0h0M243.3 129.2h0M260.1 134.5h0M244.6 133.2h0M265.0 136.4h0M236.7 126.6h0M267.5 126.3h0M270.5 134.9h0M253.7 142.3h0M237.8 133.2h0M259.6 138.9h0M238.1 136.5h0M271.9 132.1h0M268.0 135.5h0M257.4 141.9h0M268.4 126.8h0M244.0 133.6h0M268.3 130.4h0M229.4 130.9h0M224.0 102.0h0M266.5 128.9h0M257.5 137.4h0M241.3 133.9h0M233.9 126.6h0M231.2 129.2h0M284.2 118.2h0M253.7 140.3h0M262.3 115.0h0M261.9 122.2h0M224.5 102.2h0M262.5 137.7h0M270.2 127.5h0M249.4 131.8h0M264.8 134.8h0M273.8 134.8h0M271.5 130.3h0M259.3 136.1h0M228.7 123.9h0M265.3 116.8h0M227.2 114.4h0M240.2 132.3h0M219.9 111.6h0M237.5 116.3h0M261.2 141.0h0M279.4 108.2h0M242.4 124.7h0M262.1 137.4h0M244.8 136.0h0M242.7 136.8h0M257.3 142.0h0M271.1 129.8h0M265.2 138.5h0M267.6 105.8h0M283.3 100.5h0M252.0 139.8h0M268.1 118.8h0M245.6 134.1h0M261.4 137.8h0M260.4 133.5h0M241.1 133.4h0M248.2 134.5h0M252.4 137.0h0M228.2 118.1h0M266.4 132.2h0M281.2 107.9h0M272.4 134.8h0M241.4 127.1h0M233.0 125.1h0M260.5 124.5h0M231.0 128.4h0M265.3 112.6h0M270.3 120.1h0M280.6 123.2h0M236.9 136.6h0M243.3 118.1h0M248.0 124.9h0M238.7 121.6h0M256.0 141.8h0M237.2 120.3h0M271.4 123.7h0M258.3 142.2h0M277.8 121.6h0M261.1 132.5h0M276.3 127.7h0M244.0 134.4h0M253.1 141.5h0M218.5 111.7h0M236.6 136.5h0M242.2 135.7h0M243.3 138.3h0M248.1 134.5h0M268.2 108.8h0M224.5 99.0h0M251.6 142.2h0M247.6 139.7h0M273.5 121.6h0M250.8 134.5h0M262.4 113.8h0M280.2 116.1h0M251.1 140.5h0M248.2 139.0h0M251.1 134.3h0M273.1 89.3h0M249.4 138.5h0M261.3 130.0h0M240.2 132.6h0M258.4 135.3h0M233.8 125.6h0M252.2 138.7h0M269.1 131.3h0M257.0 141.6h0M264.5 131.9h0M266.7 136.9h0M267.6 122.4h0M244.7 118.1h0M268.2 138.3h0M254.7 141.5h0M262.6 132.9h0M245.1 130.7h0M233.1 114.4h0M229.9 129.1h0M220.3 125.4h0M258.0 134.4h0M248.6 133.8h0M275.1 92.3h0M238.3 122.1h0M240.0 137.7h0M250.8 133.5h0M247.9 132.9h0M246.6 137.8h0M271.5 110.6h0M252.2 140.5h0M262.4 132.9h0M271.5 133.0h0M231.9 104.3h0M235.0 130.6h0M264.1 137.2h0M260.9 119.9h0M216.6 99.8h0M242.9 128.8h0M269.7 128.6h0M259.3 139.4h0M249.3 129.6h0M244.5 118.8h0M258.8 141.4h0M226.2 125.0h0M276.2 128.1h0M282.4 105.5h0M259.6 131.6h0M229.1 118.7h0M264.0 138.7h0M266.6 130.7h0M256.5 141.4h0M249.2 140.4h0M262.1 123.8h0M244.6 129.0h0M271.8 124.2h0M273.1 135.2h0M247.5 140.0h0M256.2 141.7h0M230.1 109.4h0M257.7 141.5h0M227.9 123.2h0M246.3 125.2h0M258.6 142.0h0M258.6 137.8h0M245.0 124.8h0M266.9 136.2h0M244.2 123.3h0M260.7 139.0h0M271.4 130.0h0M272.7 130.1h0M243.4 128.0h0M279.1 126.4h0M250.2 132.4h0M249.8 130.5h0M246.7 137.1h0M261.3 140.2h0M248.1 138.2h0M237.9 127.9h0M261.1 120.5h0M269.4 103.7h0M239.4 129.0h0M248.9 132.7h0M248.0 140.4h0M239.4 107.4h0M252.5 140.9h0M235.8 121.4h0M225.3 100.5h0M253.0 142.0h0M245.7 137.3h0M262.7 138.3h0M243.8 108.3h0M249.3 140.6h0M289.7 102.9h0M234.8 96.7h0M224.0 109.0h0M260.5 129.5h0M246.2 116.5h0M238.9 135.4h0M235.3 128.8h0M259.9 139.3h0M245.7 137.7h0M268.6 134.4h0M225.9 116.4h0M260.4 124.1h0M256.1 140.5h0M242.8 122.9h0M268.2 121.2h0M244.2 126.3h0M244.4 126.7h0M272.1 134.6h0M247.5 128.4h0M243.8 129.2h0M248.5 127.3h0M242.8 137.8h0M240.8 129.2h0M246.3 135.0h0M260.7 140.5h0M235.4 118.9h0M243.1 131.2h0M235.3 132.9h0M246.8 141.0h0M246.9 139.9h0M265.5 126.5h0M267.3 96.1h0M232.7 108.8h0M260.8 125.3h0M258.2 138.0h0M237.7 124.6h0M247.1 128.9h0M235.3 128.8h0M271.4 119.0h0M239.4 136.9h0M284.1 120.5h0M278.1 118.3h0M222.7 119.6h0M275.9 130.6h0M274.2 128.0h0M245.4 130.3h0M270.4 134.1h0M276.1 104.0h0M244.5 139.0h0M259.9 141.6h0M264.4 115.3h0M265.6 112.3h0M256.7 140.9h0M266.9 116.7h0M230.4 116.2h0M246.0 128.6h0M262.5 126.4h0M249.5 140.1h0M272.3 126.0h0M225.3 119.4h0M268.5 129.8h0M264.2 127.8h0M251.3 136.8h0M229.4 117.4h0M268.8 137.1h0M255.8 142.1h0M259.1 140.9h0M239.7 134.6h0M252.1 139.7h0M240.5 119.2h0M260.9 119.4h0M236.7 136.2h0M261.1 134.4h0M219.5 100.5h0M258.5 138.5h0M232.5 120.5h0M273.9 114.2h0M273.9 130.4h0M270.8 104.8h0M230.6 131.8h0M277.0 130.4h0M250.5 135.4h0M256.7 139.9h0M226.4 101.6h0M240.5 114.6h0M232.5 119.2h0M266.7 131.0h0M231.0 122.0h0M235.5 71.7h0M250.0 138.5h0M261.4 134.2h0M232.9 120.4h0M245.7 112.3h0M267.0 130.3h0M241.0 135.3h0M280.2 126.4h0M247.0 128.9h0M264.7 123.9h0M263.0 138.3h0M245.1 134.9h0M257.7 140.9h0M281.8 111.1h0M249.1 128.4h0M259.1 130.9h0M266.2 129.2h0M272.0 126.3h0M247.9 138.7h0M257.9 142.0h0M259.2 137.9h0M275.5 118.7h0M262.2 134.3h0M270.6 131.7h0M249.4 132.9h0M237.8 133.5h0M257.3 136.9h0M264.7 123.8h0M275.4 128.2h0M287.0 112.9h0M237.7 122.3h0M234.2 126.2h0M241.2 137.2h0M215.7 104.5h0M242.8 105.3h0M240.4 105.9h0M223.3 120.3h0M223.4 114.6h0M251.6 139.9h0M237.6 137.1h0M285.4 107.2h0M269.7 133.2h0M263.5 126.9h0M279.9 111.8h0M262.3 140.6h0M271.1 119.3h0M273.6 89.9h0M250.8 140.9h0M231.2 121.0h0M249.2 126.1h0M260.2 123.2h0M275.6 118.6h0M264.7 138.3h0M275.5 120.5h0M267.9 130.9h0M268.6 119.5h0M262.8 139.9h0M250.6 140.0h0M264.3 136.6h0M260.2 140.8h0M264.8 111.9h0M249.8 130.0h0M270.3 111.8h0M264.9 121.6h0M263.5 121.4h0M236.1 119.8h0M278.9 101.5h0M265.9 128.7h0M241.1 115.7h0M255.8 140.9h0M226.4 102.1h0M251.7 140.8h0M273.0 122.7h0M258.9 140.8h0M244.3 132.2h0M285.7 117.0h0M259.6 141.3h0M267.2 119.5h0M215.9 111.2h0M269.1 117.1h0M248.6 135.2h0M238.1 134.1h0M230.4 109.5h0M238.6 136.7h0M250.7 141.3h0M240.5 127.0h0M253.4 138.5h0M238.1 127.8h0M217.7 120.6h0M264.2 134.0h0M277.8 113.8h0M273.5 129.0h0M234.6 135.1h0M259.0 136.5h0M247.5 139.4h0M245.3 137.7h0M235.8 115.9h0M242.3 124.6h0M243.1 123.5h0M247.6 140.4h0M263.1 128.8h0M274.8 127.1h0M248.4 137.4h0M260.7 127.7h0M267.0 128.8h0M265.9 115.3h0M258.4 140.8h0M248.2 135.8h0M234.2 128.4h0M259.2 136.4h0M264.3 136.0h0M236.9 118.9h0M233.7 123.6h0M243.6 137.7h0M257.8 140.9h0M254.2 141.8h0M237.2 89.9h0M277.6 130.7h0M249.1 135.6h0M238.8 136.2h0M260.5 135.7h0M235.3 125.6h0M252.0 141.2h0M231.9 102.7h0M262.7 122.0h0M232.1 115.2h0M229.2 120.7h0M233.4 124.8h0M241.6 135.4h0M270.8 98.2h0M253.1 142.1h0M227.7 109.0h0M238.9 123.2h0M257.7 142.1h0M245.9 138.7h0M286.2 113.4h0M247.3 131.5h0M269.3 122.9h0M232.8 112.1h0M247.4 141.2h0M285.2 99.7h0M261.2 136.6h0M261.4 133.7h0M268.3 119.3h0M234.8 132.4h0M246.8 127.3h0M238.6 119.4h0M272.8 106.3h0M242.8 134.0h0M228.7 119.8h0M269.6 136.7h0M243.9 123.4h0M269.7 135.9h0M263.0 136.1h0M236.1 136.2h0M246.7 140.9h0M232.0 132.9h0M248.2 133.9h0M260.6 136.4h0M276.8 124.2h0M249.8 132.9h0M226.6 127.1h0M257.0 142.1h0M234.8 94.9h0M281.6 115.9h0M259.4 134.8h0M234.7 135.6h0M290.4 103.1h0M260.6 137.9h0M243.5 135.5h0M253.7 141.6h0M278.0 130.0h0M257.0 142.0h0M265.8 113.6h0M268.5 109.9h0M257.9 142.1h0M222.2 109.0h0M258.4 136.7h0M265.5 121.9h0M249.2 124.7h0M238.1 118.5h0M222.6 123.5h0M254.4 141.3h0M255.8 140.6h0M271.2 134.9h0M265.9 115.4h0M272.7 127.4h0M228.5 130.2h0M228.0 107.6h0M269.1 134.6h0M268.2 137.8h0M239.9 135.4h0M233.7 123.7h0M245.1 137.4h0M252.7 142.1h0M246.6 140.0h0M237.8 137.0h0M229.6 116.6h0M241.7 125.3h0M265.6 139.6h0M247.7 135.9h0M242.6 126.1h0M278.2 116.7h0M266.9 133.1h0M248.7 127.9h0M273.3 124.7h0M236.0 114.9h0M285.6 118.6h0M241.9 135.1h0M277.4 114.3h0M249.4 141.1h0M228.4 126.8h0M270.4 136.9h0M224.5 114.9h0M264.0 133.7h0M237.9 135.2h0M245.5 125.5h0M237.5 125.5h0M239.1 130.5h0M282.3 120.5h0M232.9 124.6h0M280.6 115.0h0M275.9 99.2h0M277.6 124.5h0M232.5 123.1h0M237.3 98.8h0M257.9 135.5h0M256.8 141.1h0M259.9 130.2h0M243.0 120.8h0M244.2 112.9h0M245.2 139.6h0M274.7 104.5h0M266.2 122.3h0M248.6 127.3h0M278.6 128.9h0M257.1 138.1h0M251.2 141.2h0M262.8 116.4h0M223.7 105.5h0M220.6 122.1h0M258.4 141.5h0M272.8 126.2h0M266.7 101.6h0M249.6 141.4h0M261.2 136.8h0M275.4 100.6h0M221.8 108.1h0M281.8 118.7h0M236.5 92.7h0M277.0 102.3h0M266.8 134.3h0M273.3 116.5h0M240.6 119.4h0M248.1 135.6h0M236.2 121.8h0M264.8 139.3h0M262.4 134.3h0M236.2 131.0h0M258.1 138.1h0M223.7 122.5h0M257.1 139.9h0M245.6 137.0h0M233.6 119.8h0M251.2 141.9h0M271.3 128.5h0M265.4 131.3h0M252.9 141.6h0M257.3 137.1h0M247.4 138.9h0M280.1 121.3h0M243.9 136.7h0M221.1 100.6h0M266.0 136.4h0M250.7 141.1h0M275.6 99.7h0M268.0 97.4h0M239.7 137.8h0M261.0 139.8h0M273.0 106.4h0M230.9 133.6h0M281.8 126.9h0M240.0 131.3h0M239.4 129.9h0M244.1 130.3h0M243.8 137.1h0M249.0 140.3h0M252.7 142.1h0M276.5 113.4h0M233.5 100.5h0M217.3 106.1h0M259.7 134.0h0M249.3 129.2h0M279.3 119.4h0M223.8 120.2h0M260.4 130.5h0M266.8 134.5h0M283.5 105.1h0M267.3 132.7h0M235.6 135.3h0M226.3 125.6h0M270.3 131.5h0M240.8 137.0h0M277.0 117.4h0M259.9 140.4h0M262.9 130.0h0M251.2 140.1h0M264.3 133.5h0M246.9 137.2h0M247.7 139.7h0M231.5 126.1h0M259.6 131.4h0M269.5 93.5h0M257.3 139.5h0M239.2 128.4h0M228.2 105.8h0M246.7 135.4h0M229.2 114.8h0M233.1 119.9h0M234.9 109.8h0M234.2 113.9h0M261.2 122.5h0M251.9 140.6h0M266.1 138.4h0M248.3 121.3h0M234.6 122.3h0M275.0 118.0h0M257.5 142.2h0M239.0 132.2h0M247.2 135.1h0M267.1 135.0h0M264.1 125.3h0M235.5 99.2h0M264.3 134.6h0M262.1 124.0h0M256.9 139.7h0M241.3 137.1h0M252.2 139.4h0M267.9 120.2h0M228.0 120.3h0M264.0 119.0h0M269.7 108.6h0M260.7 138.8h0M242.6 137.0h0M238.1 118.6h0M258.2 139.0h0M264.4 137.4h0M270.2 118.4h0M268.9 120.4h0M263.8 139.0h0M253.4 141.7h0M221.0 123.5h0M260.6 137.0h0M243.7 121.5h0M242.5 136.9h0M265.2 130.0h0M257.6 140.7h0M261.9 137.0h0M222.7 99.4h0M234.4 127.7h0M243.7 120.3h0M280.6 128.6h0M265.0 127.1h0M238.5 136.4h0M222.8 128.3h0M252.5 141.5h0M254.3 142.0h0M272.9 118.1h0M261.1 125.5h0M265.4 123.6h0M264.3 137.1h0M260.5 129.1h0M273.0 124.3h0M258.7 137.4h0M240.9 107.4h0M260.9 131.1h0M237.1 126.5h0M223.2 126.1h0M245.0 133.8h0M279.3 129.1h0M262.7 137.3h0M237.4 115.2h0M252.5 141.8h0M250.2 142.2h0M236.0 120.3h0M241.4 134.1h0M246.2 116.2h0M287.0 111.3h0M261.4 136.1h0M240.4 112.9h0M258.8 141.5h0M250.7 140.5h0M251.9 139.2h0M275.3 131.9h0M245.2 133.9h0M227.9 112.2h0M263.2 139.1h0M250.3 136.0h0M238.9 126.0h0M250.7 134.8h0M244.1 131.1h0M258.0 134.9h0M262.7 136.6h0M261.3 135.3h0M244.0 121.3h0M222.4 102.3h0M248.8 138.8h0M245.2 135.8h0M273.2 123.0h0M238.9 115.6h0M229.3 129.2h0M243.6 139.2h0M254.5 142.0h0M255.8 140.4h0M245.5 124.5h0M247.2 120.7h0M277.9 131.6h0M242.4 137.1h0M246.9 132.8h0M237.4 128.1h0M275.8 109.2h0M273.5 116.5h0M240.3 96.1h0M239.8 130.6h0M244.1 134.1h0M260.1 134.3h0M258.1 135.6h0M258.6 140.9h0M258.8 129.9h0M266.2 128.6h0M266.1 130.6h0M237.0 120.3h0M271.1 132.0h0M277.2 121.9h0M249.6 137.7h0M239.7 126.0h0M233.4 125.5h0M273.2 113.3h0M247.6 134.0h0M280.1 124.1h0M262.6 134.4h0M264.3 125.2h0M270.2 117.0h0M246.9 139.1h0M243.6 127.0h0M270.5 117.4h0M250.2 136.5h0M266.8 108.1h0M250.7 134.1h0M243.3 137.5h0M244.0 129.6h0M263.1 121.8h0M260.7 140.7h0M243.8 137.8h0M249.6 141.2h0M276.4 117.2h0M258.1 136.6h0M276.3 118.3h0M264.2 130.2h0M242.4 133.6h0M241.6 138.4h0M232.9 103.8h0M259.9 137.6h0M243.9 135.3h0M229.8 105.3h0M272.4 118.9h0M246.8 136.4h0M265.2 131.9h0M264.4 138.6h0M239.5 133.8h0M233.1 108.0h0M277.2 118.7h0M227.5 101.2h0M251.3 135.6h0M284.3 111.8h0M284.3 100.0h0M269.7 117.8h0M281.5 119.3h0M245.0 133.5h0M276.6 112.2h0M284.5 103.6h0M268.8 124.7h0M284.6 119.8h0M246.7 139.0h0M237.1 123.0h0M259.8 131.8h0M248.5 137.8h0M239.1 133.1h0M217.1 101.5h0M265.4 137.4h0M275.1 120.9h0M239.9 121.6h0M242.9 133.6h0M253.5 140.4h0M248.4 124.4h0M268.0 123.7h0M248.3 139.6h0M246.6 125.6h0M273.9 128.1h0M240.5 130.4h0M250.9 140.6h0M248.4 141.4h0M277.7 129.0h0M280.4 104.4h0M277.9 123.6h0M272.2 107.6h0M232.5 127.5h0M237.1 128.8h0M249.1 139.7h0M259.3 140.0h0M235.7 111.5h0M266.9 133.5h0M245.0 140.5h0M257.1 140.1h0M255.9 140.8h0M273.4 129.3h0M260.6 130.9h0M266.6 130.3h0M267.4 131.1h0M248.3 140.6h0M244.0 129.3h0M274.9 114.5h0M265.5 121.7h0M240.8 135.0h0M256.2 142.1h0M269.8 131.4h0M235.1 113.2h0M275.7 122.3h0M265.3 109.0h0M240.1 106.4h0M267.2 137.2h0M265.3 121.3h0M266.4 132.3h0M237.0 132.3h0M264.9 134.9h0M285.7 99.0h0M243.5 132.7h0M228.8 115.8h0M260.5 140.8h0M265.2 129.9h0M264.6 129.3h0M253.4 138.5h0M241.0 113.1h0M252.9 140.8h0M237.8 110.9h0M246.9 138.7h0M241.1 123.0h0M249.9 137.5h0M248.9 127.6h0M242.6 125.0h0M262.1 138.3h0M244.6 135.9h0M254.5 142.3h0M261.4 138.2h0M242.0 123.2h0M241.3 137.6h0M253.5 142.1h0M266.5 128.0h0M243.8 131.8h0M231.8 128.2h0M268.8 99.3h0M272.3 126.3h0M247.9 133.4h0M238.7 135.8h0M257.1 140.1h0M270.3 114.1h0M259.1 132.5h0M240.2 107.5h0M261.5 136.5h0M275.2 97.7h0M250.4 138.1h0M237.8 108.2h0M263.9 136.6h0M239.4 117.5h0M264.2 130.8h0M246.8 128.1h0M277.3 128.4h0M262.4 139.9h0M276.7 122.0h0M263.5 135.2h0M246.1 133.8h0M281.9 126.4h0M270.4 124.4h0M227.3 116.4h0M234.2 131.6h0M277.9 130.4h0M219.2 111.3h0M278.9 121.8h0M275.0 126.5h0M239.1 132.8h0M265.4 133.6h0M259.5 137.1h0M268.2 133.1h0M228.9 130.7h0M258.0 138.3h0M230.3 111.5h0M232.9 129.1h0M264.7 131.2h0M257.5 139.0h0M264.2 139.6h0M244.8 129.0h0M264.1 132.3h0M244.2 138.5h0M288.0 108.8h0M231.5 104.5h0M272.0 125.8h0M255.5 140.8h0M268.3 106.1h0M267.8 127.9h0M240.7 132.1h0M234.5 85.2h0M256.5 139.6h0M255.9 140.7h0M271.7 113.9h0M233.2 109.0h0M233.1 130.0h0M247.0 127.3h0M279.2 125.8h0M273.4 100.1h0M233.7 123.0h0M260.0 140.3h0M270.3 136.7h0M261.4 122.8h0M227.5 131.2h0M260.9 141.2h0M259.7 141.8h0M258.8 141.3h0M235.1 126.4h0M244.7 119.1h0M243.3 137.8h0M234.2 120.5h0M253.4 142.0h0M231.0 103.2h0M262.3 139.9h0M267.9 136.7h0M256.7 142.3h0M257.2 140.9h0M240.3 132.9h0M244.2 130.3h0M250.0 138.1h0M280.3 110.3h0M266.7 118.7h0M257.0 141.1h0M234.2 134.4h0M269.2 128.4h0M254.2 141.6h0M235.7 133.3h0M230.1 130.6h0M267.8 118.3h0M227.8 108.1h0M237.6 122.0h0M290.4 104.3h0M262.5 135.4h0M260.5 140.8h0M252.4 141.2h0M261.7 119.3h0M243.5 139.8h0M244.4 139.0h0M266.2 132.9h0M238.8 123.5h0M276.5 119.5h0M247.7 141.0h0M249.0 134.7h0M250.7 139.1h0M250.7 141.3h0M236.6 136.9h0M258.0 141.3h0M244.0 126.7h0M260.4 127.8h0M271.8 127.1h0M258.8 137.1h0M265.8 106.7h0M249.7 131.8h0M222.4 114.0h0M248.4 129.2h0M242.5 132.5h0M268.3 136.3h0M259.8 130.3h0M253.5 142.1h0M251.5 139.4h0M238.4 138.0h0M240.0 136.9h0M225.4 122.3h0M270.8 108.7h0M261.8 138.2h0M258.6 137.5h0M263.4 127.8h0M261.8 136.0h0M260.8 139.9h0M271.7 118.6h0M273.1 118.6h0M265.4 131.8h0M261.0 138.0h0M232.9 127.8h0M265.5 136.4h0M256.3 141.5h0M238.5 131.3h0M249.6 131.7h0M246.7 129.2h0M266.9 107.2h0M249.1 135.0h0M263.8 116.6h0M262.9 123.7h0M260.3 133.4h0M265.9 135.7h0M277.0 114.8h0M241.3 102.3h0M273.4 100.5h0M248.0 131.3h0M241.1 130.8h0M238.7 136.4h0M261.8 126.3h0M258.6 139.4h0M226.6 115.5h0M238.2 133.0h0M245.6 139.4h0M251.2 135.3h0M234.1 123.2h0M270.6 105.4h0M270.1 126.2h0M230.6 105.7h0M252.0 137.7h0M233.7 102.6h0M263.2 135.3h0M283.2 125.9h0M263.5 137.1h0M249.7 131.8h0M263.9 129.3h0M265.0 135.2h0M279.3 111.6h0M260.9 140.7h0M251.0 141.1h0M255.9 142.0h0M277.0 118.6h0M252.2 137.4h0M233.7 123.0h0M242.2 117.2h0M247.1 139.6h0M239.9 124.6h0M256.7 142.0h0M224.8 101.4h0M270.9 122.4h0M235.6 129.9h0M263.8 139.3h0M268.6 124.9h0M242.8 126.5h0M229.7 127.9h0M238.9 134.8h0M260.8 119.9h0M269.1 123.2h0M240.0 125.8h0M215.7 114.6h0M277.6 113.2h0M264.5 122.2h0M237.1 121.9h0M279.9 107.7h0M249.7 141.1h0M264.4 136.5h0M251.6 140.6h0M256.9 139.0h0M228.1 110.7h0M269.8 118.8h0M261.4 139.4h0M277.7 110.5h0M231.3 117.8h0M261.5 135.2h0M244.7 137.7h0M265.4 138.9h0M253.6 139.3h0M228.2 123.0h0M256.3 142.1h0M260.4 141.6h0M258.9 133.3h0M278.6 121.3h0M235.5 76.0h0M273.3 93.6h0M238.6 85.4h0M243.5 101.0h0M272.5 86.8h0M236.4 95.8h0M234.2 79.5h0M238.1 101.6h0M269.3 100.8h0M233.9 86.3h0M271.6 88.9h0M235.0 87.0h0M235.1 87.9h0M237.4 104.3h0M273.3 87.7h0M270.0 92.5h0M237.9 99.8h0M271.8 80.9h0M236.5 86.0h0M237.9 93.3h0M233.9 100.9h0M235.1 105.7h0M236.5 79.6h0M276.1 91.6h0M234.1 91.2h0M241.4 96.8h0M238.3 93.2h0M237.5 86.9h0M272.9 92.4h0M235.1 81.1h0M239.6 99.9h0M272.9 102.0h0M274.9 80.1h0M238.6 99.7h0M242.7 96.4h0M272.4 83.5h0M240.8 104.8h0M274.4 90.1h0M239.4 96.0h0M236.3 77.6h0M240.7 89.9h0M274.4 90.3h0M237.5 86.4h0M235.8 81.7h0M234.6 96.9h0M237.5 104.9h0M238.7 88.0h0M270.6 92.3h0M272.7 99.3h0M275.6 84.1h0M271.9 83.7h0M274.6 76.3h0M236.4 77.3h0M242.3 98.6h0M273.9 94.1h0M273.3 83.3h0M269.6 105.1h0M234.2 81.0h0M239.8 86.0h0M240.7 96.4h0M272.5 79.3h0M268.6 91.7h0M238.1 98.5h0M236.8 81.3h0M275.3 78.2h0M267.8 101.3h0M273.3 77.3h0M273.8 100.6h0M270.7 85.1h0M237.0 90.9h0M237.6 79.6h0M275.4 102.6h0M241.2 92.0h0M237.3 93.5h0M236.2 100.5h0M275.4 91.2h0M270.2 104.4h0M239.2 100.4h0M273.5 80.1h0M274.8 80.6h0M271.7 81.5h0M272.9 103.9h0M274.9 86.1h0M235.9 92.1h0M274.2 85.7h0M270.3 95.5h0M236.5 96.8h0M235.8 77.9h0M235.6 85.0h0M271.6 86.7h0M239.1 90.4h0M273.2 96.8h0M240.3 92.5h0M234.1 79.0h0M234.2 80.2h0M238.4 102.7h0M272.7 82.1h0M272.5 85.6h0M238.9 86.1h0M235.8 96.1h0M239.8 88.7h0M272.2 80.4h0M270.1 103.2h0M241.4 98.5h0M269.7 93.3h0M271.0 95.7h0M271.7 89.0h0M268.5 101.7h0M236.9 92.3h0M241.8 96.0h0M239.0 85.2h0M238.5 98.2h0M233.9 95.4h0M268.6 97.9h0M273.7 77.5h0M242.1 102.8h0M266.9 100.0h0M237.4 79.4h0M239.5 94.4h0M237.4 83.2h0M238.1 103.3h0M242.5 101.4h0M276.0 87.6h0M238.0 100.7h0M235.4 98.4h0M181.4 108.7h0M192.7 101.8h0M192.3 116.0h0M203.4 100.4h0M201.3 107.8h0M198.2 112.5h0M205.7 111.6h0M209.1 113.4h0M202.2 116.0h0M211.7 121.1h0M210.3 127.2h0M218.6 130.7h0M220.4 132.4h0M228.1 135.3h0M214.3 103.8h0M293.9 111.6h0M295.1 118.0h0M302.1 117.7h0M305.2 119.4h0M304.3 122.0h0M316.4 116.0h0M323.9 126.3h0M300.0 126.9h0M287.9 122.9h0M286.1 127.7h0M280.1 130.7h0M278.4 136.4h0M260.2 98.7h0M234.2 60.3h0M235.0 70.8h0M238.8 75.4h0M268.8 56.0h0M272.3 56.0h0M239.6 75.0h0M236.5 95.0h0M237.0 90.0h0M236.0 85.0h0M238.0 80.0h0M236.5 76.0h0M241.0 92.0h0M240.0 86.0h0M270.0 95.0h0M272.0 90.0h0M274.0 86.0h0M271.0 82.0h0M273.5 78.0h0M268.0 90.0h0M266.5 95.0h0" stroke="#114d8b" stroke-width="3.3" stroke-linecap="round" fill="none"/><path d="M222.5 84.3h0M218.1 97.0h0M218.7 78.8h0M214.7 86.6h0M217.2 81.4h0M233.6 96.2h0M227.0 84.6h0M227.3 96.7h0M217.5 87.0h0M230.6 94.6h0M214.2 91.5h0M228.7 82.7h0M214.5 91.6h0M218.2 83.3h0M218.4 97.6h0M217.5 93.4h0M226.4 78.4h0M230.6 96.3h0M215.0 86.9h0M224.5 92.0h0M221.0 93.7h0M224.9 93.1h0M230.7 97.7h0M219.6 93.1h0M230.0 96.7h0M228.1 93.1h0M214.8 96.6h0M226.9 98.2h0M219.2 80.4h0M226.8 85.2h0M225.7 77.8h0M214.2 95.3h0M230.5 92.6h0M214.0 73.9h0M232.2 99.0h0M217.2 97.2h0M223.8 89.8h0M232.4 91.4h0M233.6 87.6h0M223.8 97.1h0M221.4 92.3h0M226.0 83.9h0M220.8 88.3h0M231.8 90.5h0M226.2 90.6h0M216.7 87.1h0M212.7 91.8h0M217.8 78.3h0M225.6 95.3h0M225.5 95.7h0M230.1 76.1h0M224.2 76.9h0M216.5 75.6h0M223.0 94.0h0M218.6 85.6h0M215.6 90.0h0M231.9 91.6h0M229.2 94.1h0M227.9 95.4h0M223.4 96.4h0M230.5 89.3h0M225.0 88.9h0M222.4 98.8h0M229.7 92.1h0M223.4 90.2h0M222.5 81.6h0M219.2 93.8h0M228.9 87.8h0M228.3 79.9h0M231.2 90.8h0M229.7 79.3h0M229.4 79.9h0M230.3 85.8h0M218.7 95.6h0M226.3 88.5h0M225.2 88.0h0M216.4 81.0h0M226.0 96.2h0M233.4 93.6h0M228.0 97.7h0M219.7 90.7h0M214.1 74.7h0M217.3 88.0h0M213.5 93.5h0M230.7 91.4h0M219.4 98.9h0M221.2 94.7h0M217.3 82.8h0M224.4 79.2h0M223.3 83.9h0M214.4 75.9h0M231.8 95.3h0M230.0 95.1h0M228.0 91.6h0M215.5 83.7h0M218.8 91.4h0M224.5 89.9h0M230.8 84.1h0M226.2 97.7h0M233.7 83.7h0M186.2 30.0h0M185.0 36.2h0M204.2 32.3h0M174.5 65.4h0M184.2 63.4h0M197.6 76.9h0M195.0 91.5h0M223.2 46.9h0M231.5 46.2h0M218.1 52.6h0M223.9 52.6h0M231.5 53.4h0M225.0 57.4h0M229.9 60.0h0M219.2 63.1h0M216.5 65.8h0M222.4 65.8h0M232.2 65.4h0M225.8 73.1h0M218.1 73.8h0M231.2 70.8h0M215.0 80.0h0M210.4 81.5h0M209.6 96.2h0" stroke="#2a8a2a" stroke-width="4.1" stroke-linecap="round" fill="none"/><path d="M222.5 84.3h0M218.1 97.0h0M218.7 78.8h0M214.7 86.6h0M217.2 81.4h0M233.6 96.2h0M227.0 84.6h0M227.3 96.7h0M217.5 87.0h0M230.6 94.6h0M214.2 91.5h0M228.7 82.7h0M214.5 91.6h0M218.2 83.3h0M218.4 97.6h0M217.5 93.4h0M226.4 78.4h0M230.6 96.3h0M215.0 86.9h0M224.5 92.0h0M221.0 93.7h0M224.9 93.1h0M230.7 97.7h0M219.6 93.1h0M230.0 96.7h0M228.1 93.1h0M214.8 96.6h0M226.9 98.2h0M219.2 80.4h0M226.8 85.2h0M225.7 77.8h0M214.2 95.3h0M230.5 92.6h0M214.0 73.9h0M232.2 99.0h0M217.2 97.2h0M223.8 89.8h0M232.4 91.4h0M233.6 87.6h0M223.8 97.1h0M221.4 92.3h0M226.0 83.9h0M220.8 88.3h0M231.8 90.5h0M226.2 90.6h0M216.7 87.1h0M212.7 91.8h0M217.8 78.3h0M225.6 95.3h0M225.5 95.7h0M230.1 76.1h0M224.2 76.9h0M216.5 75.6h0M223.0 94.0h0M218.6 85.6h0M215.6 90.0h0M231.9 91.6h0M229.2 94.1h0M227.9 95.4h0M223.4 96.4h0M230.5 89.3h0M225.0 88.9h0M222.4 98.8h0M229.7 92.1h0M223.4 90.2h0M222.5 81.6h0M219.2 93.8h0M228.9 87.8h0M228.3 79.9h0M231.2 90.8h0M229.7 79.3h0M229.4 79.9h0M230.3 85.8h0M218.7 95.6h0M226.3 88.5h0M225.2 88.0h0M216.4 81.0h0M226.0 96.2h0M233.4 93.6h0M228.0 97.7h0M219.7 90.7h0M214.1 74.7h0M217.3 88.0h0M213.5 93.5h0M230.7 91.4h0M219.4 98.9h0M221.2 94.7h0M217.3 82.8h0M224.4 79.2h0M223.3 83.9h0M214.4 75.9h0M231.8 95.3h0M230.0 95.1h0M228.0 91.6h0M215.5 83.7h0M218.8 91.4h0M224.5 89.9h0M230.8 84.1h0M226.2 97.7h0M233.7 83.7h0M186.2 30.0h0M185.0 36.2h0M204.2 32.3h0M174.5 65.4h0M184.2 63.4h0M197.6 76.9h0M195.0 91.5h0M223.2 46.9h0M231.5 46.2h0M218.1 52.6h0M223.9 52.6h0M231.5 53.4h0M225.0 57.4h0M229.9 60.0h0M219.2 63.1h0M216.5 65.8h0M222.4 65.8h0M232.2 65.4h0M225.8 73.1h0M218.1 73.8h0M231.2 70.8h0M215.0 80.0h0M210.4 81.5h0M209.6 96.2h0" stroke="#3aa636" stroke-width="3.3" stroke-linecap="round" fill="none"/><path d="M281.0 72.4h0M276.7 77.4h0M280.0 96.0h0M278.4 85.7h0M287.1 87.6h0M280.9 67.7h0M284.8 97.4h0M291.4 89.2h0M280.0 71.9h0M285.8 83.9h0M277.0 92.6h0M283.1 98.9h0M286.7 95.0h0M280.2 88.8h0M292.0 84.8h0M287.9 73.8h0M277.5 96.1h0M296.6 83.1h0M277.5 81.5h0M285.1 96.9h0M282.3 91.7h0M296.8 79.3h0M283.2 68.3h0M277.8 94.2h0M283.3 82.4h0M287.2 81.3h0M289.8 95.6h0M285.7 84.5h0M285.6 95.5h0M283.6 79.3h0M283.8 92.9h0M276.2 97.1h0M288.9 96.0h0M295.2 81.4h0M285.9 76.8h0M291.2 77.3h0M290.4 95.1h0M285.1 83.8h0M286.9 94.2h0M285.6 93.4h0M283.6 81.2h0M296.2 72.8h0M296.3 71.0h0M290.8 77.5h0M289.2 98.6h0M293.8 82.3h0M294.3 76.8h0M289.0 80.5h0M278.8 76.2h0M294.5 82.5h0M286.0 73.4h0M291.8 83.1h0M299.4 74.1h0M277.0 88.5h0M281.0 96.0h0M291.1 74.1h0M293.9 76.7h0M291.5 80.6h0M284.3 97.5h0M295.3 79.0h0M283.3 84.5h0M285.2 91.5h0M282.0 95.3h0M280.5 98.5h0M282.1 93.4h0M298.0 73.8h0M281.2 88.0h0M285.8 85.6h0M289.2 77.7h0M299.3 72.9h0M287.8 97.8h0M284.2 96.0h0M283.7 91.7h0M278.6 94.0h0M292.7 80.8h0M284.1 86.4h0M291.1 96.8h0M293.3 94.8h0M279.8 98.9h0M296.0 84.6h0M277.7 97.2h0M284.8 91.2h0M288.1 98.8h0M295.8 84.2h0M279.5 91.5h0M282.7 96.1h0M279.6 88.3h0M286.3 83.6h0M283.5 98.0h0M282.7 97.6h0M289.5 96.7h0M288.2 92.6h0M298.4 76.5h0M289.3 72.4h0M281.9 78.7h0M276.4 79.8h0M276.4 77.5h0M276.4 90.5h0M283.2 32.1h0M288.9 36.4h0M282.0 38.7h0M284.9 48.5h0M289.2 51.5h0M284.4 55.5h0M294.1 57.7h0M278.5 61.9h0M283.7 60.7h0M291.0 62.9h0M295.8 65.8h0M318.3 59.4h0M320.7 80.6h0M329.0 89.2h0M307.9 96.1h0M343.7 94.7h0M299.6 75.4h0M307.8 96.6h0M329.4 90.3h0" stroke="#a80020" stroke-width="4.1" stroke-linecap="round" fill="none"/><path d="M281.0 72.4h0M276.7 77.4h0M280.0 96.0h0M278.4 85.7h0M287.1 87.6h0M280.9 67.7h0M284.8 97.4h0M291.4 89.2h0M280.0 71.9h0M285.8 83.9h0M277.0 92.6h0M283.1 98.9h0M286.7 95.0h0M280.2 88.8h0M292.0 84.8h0M287.9 73.8h0M277.5 96.1h0M296.6 83.1h0M277.5 81.5h0M285.1 96.9h0M282.3 91.7h0M296.8 79.3h0M283.2 68.3h0M277.8 94.2h0M283.3 82.4h0M287.2 81.3h0M289.8 95.6h0M285.7 84.5h0M285.6 95.5h0M283.6 79.3h0M283.8 92.9h0M276.2 97.1h0M288.9 96.0h0M295.2 81.4h0M285.9 76.8h0M291.2 77.3h0M290.4 95.1h0M285.1 83.8h0M286.9 94.2h0M285.6 93.4h0M283.6 81.2h0M296.2 72.8h0M296.3 71.0h0M290.8 77.5h0M289.2 98.6h0M293.8 82.3h0M294.3 76.8h0M289.0 80.5h0M278.8 76.2h0M294.5 82.5h0M286.0 73.4h0M291.8 83.1h0M299.4 74.1h0M277.0 88.5h0M281.0 96.0h0M291.1 74.1h0M293.9 76.7h0M291.5 80.6h0M284.3 97.5h0M295.3 79.0h0M283.3 84.5h0M285.2 91.5h0M282.0 95.3h0M280.5 98.5h0M282.1 93.4h0M298.0 73.8h0M281.2 88.0h0M285.8 85.6h0M289.2 77.7h0M299.3 72.9h0M287.8 97.8h0M284.2 96.0h0M283.7 91.7h0M278.6 94.0h0M292.7 80.8h0M284.1 86.4h0M291.1 96.8h0M293.3 94.8h0M279.8 98.9h0M296.0 84.6h0M277.7 97.2h0M284.8 91.2h0M288.1 98.8h0M295.8 84.2h0M279.5 91.5h0M282.7 96.1h0M279.6 88.3h0M286.3 83.6h0M283.5 98.0h0M282.7 97.6h0M289.5 96.7h0M288.2 92.6h0M298.4 76.5h0M289.3 72.4h0M281.9 78.7h0M276.4 79.8h0M276.4 77.5h0M276.4 90.5h0M283.2 32.1h0M288.9 36.4h0M282.0 38.7h0M284.9 48.5h0M289.2 51.5h0M284.4 55.5h0M294.1 57.7h0M278.5 61.9h0M283.7 60.7h0M291.0 62.9h0M295.8 65.8h0M318.3 59.4h0M320.7 80.6h0M329.0 89.2h0M307.9 96.1h0M343.7 94.7h0M299.6 75.4h0M307.8 96.6h0M329.4 90.3h0" stroke="#d0062e" stroke-width="3.3" stroke-linecap="round" fill="none"/><path d="M276.2 35.9h0" stroke="#2a6f8a" stroke-width="3.2" stroke-linecap="round" fill="none"/><path d="M166.3 75.7L351.5 75.7" stroke="#cfcfcf" stroke-width="1" fill="none" opacity="0.85"/><path d="M166.3 99L351.5 99" stroke="#cfcfcf" stroke-width="1" fill="none" opacity="0.85"/><path d="M233.8 24.5L233.8 147" stroke="#a9bccc" stroke-width="0.8" fill="none" stroke-dasharray="2.5 1.5" opacity="0.9"/><path d="M276.2 24.5L276.2 147" stroke="#a9bccc" stroke-width="0.8" fill="none" stroke-dasharray="2.5 1.5" opacity="0.9"/><path d="M166.3 24.5L166.3 147.9" stroke="#222" stroke-width="1.3" fill="none" /><path d="M165.7 147.3L351.5 147.3" stroke="#222" stroke-width="1.3" fill="none" /><path d="M162.8 142.3L166.3 142.3" stroke="#222" stroke-width="1" fill="none" /><text x="159.3" y="144.8" font-size="7" text-anchor="end" >0</text><path d="M162.8 109L166.3 109" stroke="#222" stroke-width="1" fill="none" /><text x="159.3" y="111.5" font-size="7" text-anchor="end" >1</text><path d="M162.8 75.7L166.3 75.7" stroke="#222" stroke-width="1" fill="none" /><text x="159.3" y="78.2" font-size="7" text-anchor="end" >2</text><path d="M162.8 42.4L166.3 42.4" stroke="#222" stroke-width="1" fill="none" /><text x="159.3" y="44.9" font-size="7" text-anchor="end" >3</text><path d="M188.5 147.3L188.5 150.3" stroke="#222" stroke-width="1" fill="none" /><text x="186.8" y="160.8" font-size="7" text-anchor="middle" >−1.0</text><path d="M221.8 147.3L221.8 150.3" stroke="#222" stroke-width="1" fill="none" /><text x="220.1" y="160.8" font-size="7" text-anchor="middle" >−0.5</text><path d="M255 147.3L255 150.3" stroke="#222" stroke-width="1" fill="none" /><text x="255" y="160.8" font-size="7" text-anchor="middle" >0.0</text><path d="M288.2 147.3L288.2 150.3" stroke="#222" stroke-width="1" fill="none" /><text x="288.2" y="160.8" font-size="7" text-anchor="middle" >0.5</text><path d="M321.5 147.3L321.5 150.3" stroke="#222" stroke-width="1" fill="none" /><text x="321.5" y="160.8" font-size="7" text-anchor="middle" >1.0</text><text x="243" y="173.4" font-size="8.6" textLength="32.8" lengthAdjust="spacingAndGlyphs" stroke="#262626" stroke-width="0.2">Fold change</text><text x="235.5" y="183.6" font-size="8.6" textLength="47.3" lengthAdjust="spacingAndGlyphs" stroke="#262626" stroke-width="0.2">log2(st-FL/nt-FL)</text><text x="0" y="0" font-size="7.4" stroke="#262626" stroke-width="0.2" transform="translate(149.2 104.2) rotate(-90)" textLength="38" lengthAdjust="spacingAndGlyphs">-log(<tspan font-style="italic">P</tspan>-value)</text><text x="355.6" y="78.1" font-size="7.2"><tspan font-style="italic">P</tspan><tspan dx="1.3" font-size="7.6">&lt;</tspan><tspan dx="0.9">.01</tspan></text><text x="355.6" y="101.6" font-size="7.2"><tspan font-style="italic">P</tspan><tspan dx="1.3" font-size="7.6">&lt;</tspan><tspan dx="0.9">.05</tspan></text><text x="8.8" y="204.5" font-size="12.5" fill="#111" font-weight="bold" >B</text><text x="41.2" y="218.5" font-size="9.3" textLength="143.8" lengthAdjust="spacingAndGlyphs">Input of proteins identified from <tspan font-style="italic">P</tspan> <tspan font-size="11.5">&lt;</tspan> .05</text><path d="M90.8 312.8L90.8 260.1" stroke="#d4d4d4" stroke-width="0.8" fill="none" /><path d="M108.3 312.8L108.3 260.1" stroke="#d4d4d4" stroke-width="0.8" fill="none" /><path d="M143.3 312.8L143.3 260.1" stroke="#d4d4d4" stroke-width="0.8" fill="none" /><path d="M160.8 312.8L160.8 260.1" stroke="#d4d4d4" stroke-width="0.8" fill="none" /><path d="M75.4 309.1L125.8 309.1L173.4 309.1" stroke="#d4d4d4" stroke-width="0.8" fill="none"/><path d="M75.4 302.1L125.8 302.1L173.4 302.1" stroke="#d4d4d4" stroke-width="0.8" fill="none"/><path d="M75.4 295.1L125.8 295.1L173.4 295.1" stroke="#d4d4d4" stroke-width="0.8" fill="none"/><path d="M75.4 281.1L125.8 281.1L173.4 281.1" stroke="#d4d4d4" stroke-width="0.8" fill="none"/><path d="M75.4 274.1L125.8 274.1L173.4 274.1" stroke="#d4d4d4" stroke-width="0.8" fill="none"/><path d="M75.4 267.1L125.8 267.1L173.4 267.1" stroke="#d4d4d4" stroke-width="0.8" fill="none"/><path d="M45 329.5L75.4 309.1" stroke="#d4d4d4" stroke-width="0.8" fill="none" /><path d="M45 318.5L75.4 302.1" stroke="#d4d4d4" stroke-width="0.8" fill="none" /><path d="M45 307.5L75.4 295.1" stroke="#d4d4d4" stroke-width="0.8" fill="none" /><path d="M45 285.5L75.4 281.1" stroke="#d4d4d4" stroke-width="0.8" fill="none" /><path d="M45 274.5L75.4 274.1" stroke="#d4d4d4" stroke-width="0.8" fill="none" /><path d="M45 263.5L75.4 267.1" stroke="#d4d4d4" stroke-width="0.8" fill="none" /><path d="M55.5 327.6L55.5 255.1" stroke="#d4d4d4" stroke-width="0.8" fill="none" /><path d="M70.1 316.8L70.1 258.8" stroke="#d4d4d4" stroke-width="0.8" fill="none" /><path d="M69.2 335.4L90.8 312.8" stroke="#d4d4d4" stroke-width="0.8" fill="none" /><path d="M96.7 335.4L108.3 312.8" stroke="#d4d4d4" stroke-width="0.8" fill="none" /><path d="M149.8 335.4L143.3 312.8" stroke="#d4d4d4" stroke-width="0.8" fill="none" /><path d="M175.5 335.4L160.8 312.8" stroke="#d4d4d4" stroke-width="0.8" fill="none" /><path d="M55.5 327.6L124.8 327.6L186.9 327.6" stroke="#d4d4d4" stroke-width="0.8" fill="none"/><path d="M70.1 316.8L125.5 316.8L177 316.8" stroke="#d4d4d4" stroke-width="0.8" fill="none"/><path d="M75.4 312.8L75.4 260.1" stroke="#d4d4d4" stroke-width="0.8" fill="none" /><path d="M75.4 312.8L125.8 312.8L173.4 312.8" stroke="#d4d4d4" stroke-width="0.8" fill="none"/><path d="M173.4 312.8L173.4 260.1" stroke="#d4d4d4" stroke-width="0.8" fill="none" /><path d="M194 335.4L173.4 312.8" stroke="#d4d4d4" stroke-width="0.8" fill="none" /><path d="M45 252.5L45 335.4" stroke="#2e2e2e" stroke-width="1.1" fill="none" /><path d="M45 252.5L75.4 260.1" stroke="#2e2e2e" stroke-width="1.1" fill="none" /><path d="M75.4 260.1L125.8 260.1L173.4 260.1" stroke="#2e2e2e" stroke-width="1.1" fill="none"/><path d="M45 335.4L124.2 335.4L194 335.4" stroke="#2e2e2e" stroke-width="1.1" fill="none"/><path d="M45 296.5L75.4 288.1" stroke="#2e2e2e" stroke-width="1.1" fill="none" /><path d="M75.4 288.1L125.8 288.1L173.4 288.1" stroke="#2e2e2e" stroke-width="1.1" fill="none"/><path d="M125.8 260.1L125.8 312.8" stroke="#2e2e2e" stroke-width="1.1" fill="none" /><path d="M125.8 312.8L124.2 335.4" stroke="#2e2e2e" stroke-width="1.1" fill="none" /><path d="M124.2 335.4L124.2 338.9" stroke="#2e2e2e" stroke-width="1.1" fill="none" /><path d="M63.6 257.1L63.6 321.6" stroke="#2e2e2e" stroke-width="1.1" fill="none" /><path d="M63.6 321.6L125.2 321.6L181.4 321.6" stroke="#2e2e2e" stroke-width="1.1" fill="none"/><path d="M42 252.5L45 252.5" stroke="#2e2e2e" stroke-width="0.8" fill="none" /><text x="40" y="254.9" font-size="7" text-anchor="end" >8</text><path d="M42 263.5L45 263.5" stroke="#2e2e2e" stroke-width="0.8" fill="none" /><text x="40" y="265.9" font-size="7" text-anchor="end" >6</text><path d="M42 274.5L45 274.5" stroke="#2e2e2e" stroke-width="0.8" fill="none" /><text x="40" y="276.9" font-size="7" text-anchor="end" >4</text><path d="M42 285.5L45 285.5" stroke="#2e2e2e" stroke-width="0.8" fill="none" /><text x="40" y="287.9" font-size="7" text-anchor="end" >2</text><path d="M42 296.5L45 296.5" stroke="#2e2e2e" stroke-width="0.8" fill="none" /><text x="40" y="298.9" font-size="7" text-anchor="end" >0</text><path d="M42 307.5L45 307.5" stroke="#2e2e2e" stroke-width="0.8" fill="none" /><text x="40" y="309.9" font-size="7" text-anchor="end" >−2</text><path d="M42 318.5L45 318.5" stroke="#2e2e2e" stroke-width="0.8" fill="none" /><text x="40" y="320.9" font-size="7" text-anchor="end" >−4</text><path d="M42 329.5L45 329.5" stroke="#2e2e2e" stroke-width="0.8" fill="none" /><text x="40" y="331.9" font-size="7" text-anchor="end" >−6</text><path d="M69.2 335.4L69.2 338.4" stroke="#2e2e2e" stroke-width="0.8" fill="none" /><text x="69.2" y="349.5" font-size="7" text-anchor="middle" >−10</text><path d="M96.7 335.4L96.7 338.4" stroke="#2e2e2e" stroke-width="0.8" fill="none" /><text x="96.7" y="349.5" font-size="7" text-anchor="middle" >−5</text><path d="M124.2 335.4L124.2 338.4" stroke="#2e2e2e" stroke-width="0.8" fill="none" /><text x="124.2" y="349.5" font-size="7" text-anchor="middle" >0</text><path d="M149.8 335.4L149.8 338.4" stroke="#2e2e2e" stroke-width="0.8" fill="none" /><text x="149.8" y="349.5" font-size="7" text-anchor="middle" >5</text><path d="M175.5 335.4L175.5 338.4" stroke="#2e2e2e" stroke-width="0.8" fill="none" /><text x="175.5" y="349.5" font-size="7" text-anchor="middle" >10</text><text x="180.4" y="315.9" font-size="7" text-anchor="middle" >10</text><text x="185.2" y="320.3" font-size="7" text-anchor="middle" >5</text><text x="187.7" y="326.1" font-size="7" text-anchor="middle" >0</text><text x="193.8" y="331.8" font-size="7" text-anchor="middle" >−5</text><text x="202.5" y="339.5" font-size="7" text-anchor="middle" >−10</text><text x="199.7" y="321.5" font-size="9.3" textLength="11.2" lengthAdjust="spacingAndGlyphs" font-weight="bold" >PC2</text><text x="117.8" y="362.1" font-size="9.3" textLength="10.3" lengthAdjust="spacingAndGlyphs" font-weight="bold" >PC1</text><text x="0" y="0" font-size="9.3" font-weight="bold" transform="translate(26.9 303) rotate(-90)" textLength="11.5" lengthAdjust="spacingAndGlyphs">PC3</text><path d="M97.8 293.8h0M116.2 297.4h0M116.6 298.7h0M115.3 304.8h0M165.9 280.8h0M172.6 280.3h0M147.0 286.4h0M161.0 290.7h0M178.9 294.3h0M130.1 295.4h0M138.6 293.4h0M156.0 294.7h0M136.8 300.8h0M150.0 302.4h0M136.8 306.8h0M134.5 310.5h0M141.2 314.2h0M156.7 310.9h0M169.5 305.9h0M170.3 317.7h0M136.5 307.0h0" stroke="#1d1a6e" stroke-width="5.0" stroke-linecap="round" fill="none"/><path d="M84.9 259.3h0M87.0 278.1h0M96.7 275.5h0M76.5 287.3h0M68.5 293.0h0M90.0 289.3h0M90.3 293.4h0M86.6 298.7h0M85.7 300.5h0M93.1 299.1h0M102.4 300.8h0M76.5 305.1h0M79.2 305.1h0M101.4 309.9h0M110.4 286.6h0M113.5 274.5h0M120.7 269.1h0M120.3 278.1h0M117.2 287.3h0M118.3 289.3h0M131.8 274.9h0M128.5 282.6h0M150.3 279.0h0M157.8 279.2h0M160.8 273.8h0M161.8 276.3h0M155.4 285.7h0M154.3 287.0h0M143.9 295.8h0M153.4 295.4h0M117.5 290.3h0" stroke="#ee7435" stroke-width="5.0" stroke-linecap="round" fill="none"/><text x="193.7" y="247.6" font-size="7" textLength="19.2" lengthAdjust="spacingAndGlyphs" >Status</text><rect x="192.6" y="252.7" width="7.2" height="6.5" fill="#ee7435"/><rect x="192.6" y="264.3" width="7.2" height="6.8" fill="#1d1a6e"/><text x="203" y="258.1" font-size="7" textLength="15" lengthAdjust="spacingAndGlyphs" >nt-FL</text><text x="203" y="270.1" font-size="7" textLength="14.6" lengthAdjust="spacingAndGlyphs" >st-FL</text><text x="282.5" y="204.5" font-size="12.5" fill="#111" font-weight="bold" >C</text><text x="313.8" y="218.5" font-size="9.3" textLength="143.5" lengthAdjust="spacingAndGlyphs">Input of proteins identified from <tspan font-style="italic">P</tspan> <tspan font-size="11.5">&lt;</tspan> .01</text><path d="M340.3 326.1L340.3 269.4" stroke="#d4d4d4" stroke-width="0.8" fill="none" /><path d="M352.9 326.1L352.9 269.4" stroke="#d4d4d4" stroke-width="0.8" fill="none" /><path d="M365.5 326.1L365.5 269.4" stroke="#d4d4d4" stroke-width="0.8" fill="none" /><path d="M378.1 326.1L378.1 269.4" stroke="#d4d4d4" stroke-width="0.8" fill="none" /><path d="M403.3 326.1L403.3 269.4" stroke="#d4d4d4" stroke-width="0.8" fill="none" /><path d="M415.9 326.1L415.9 269.4" stroke="#d4d4d4" stroke-width="0.8" fill="none" /><path d="M428.5 326.1L428.5 269.4" stroke="#d4d4d4" stroke-width="0.8" fill="none" /><path d="M337.8 319.8L390.7 319.8L440.7 319.8" stroke="#d4d4d4" stroke-width="0.8" fill="none"/><path d="M337.8 307.2L390.7 307.2L440.7 307.2" stroke="#d4d4d4" stroke-width="0.8" fill="none"/><path d="M337.8 282L390.7 282L440.7 282" stroke="#d4d4d4" stroke-width="0.8" fill="none"/><path d="M337.8 269.4L390.7 269.4L440.7 269.4" stroke="#d4d4d4" stroke-width="0.8" fill="none"/><path d="M337.8 326.1L337.8 269.4" stroke="#d4d4d4" stroke-width="0.8" fill="none" /><path d="M440.7 326.1L440.7 269.4" stroke="#d4d4d4" stroke-width="0.8" fill="none" /><path d="M310.5 325.1L337.8 319.8" stroke="#d4d4d4" stroke-width="0.8" fill="none" /><path d="M310.5 305.7L337.8 307.2" stroke="#d4d4d4" stroke-width="0.8" fill="none" /><path d="M310.5 266.9L337.8 282" stroke="#d4d4d4" stroke-width="0.8" fill="none" /><path d="M314.5 333.5L314.5 250.7" stroke="#d4d4d4" stroke-width="0.8" fill="none" /><path d="M321.4 331.3L321.4 256.2" stroke="#d4d4d4" stroke-width="0.8" fill="none" /><path d="M331.8 328L331.8 264.6" stroke="#d4d4d4" stroke-width="0.8" fill="none" /><path d="M335.9 326.7L335.9 267.9" stroke="#d4d4d4" stroke-width="0.8" fill="none" /><path d="M310.5 247.5L337.8 269.4" stroke="#d4d4d4" stroke-width="0.8" fill="none" /><path d="M310.5 334.8L337.8 326.1" stroke="#d4d4d4" stroke-width="0.8" fill="none" /><path d="M314.4 247.5L340.3 269.4" stroke="#d4d4d4" stroke-width="0.8" fill="none" /><path d="M333.8 247.5L352.9 269.4" stroke="#d4d4d4" stroke-width="0.8" fill="none" /><path d="M353.2 247.5L365.5 269.4" stroke="#d4d4d4" stroke-width="0.8" fill="none" /><path d="M372.6 247.5L378.1 269.4" stroke="#d4d4d4" stroke-width="0.8" fill="none" /><path d="M411.4 247.5L403.3 269.4" stroke="#d4d4d4" stroke-width="0.8" fill="none" /><path d="M430.8 247.5L415.9 269.4" stroke="#d4d4d4" stroke-width="0.8" fill="none" /><path d="M450.2 247.5L428.5 269.4" stroke="#d4d4d4" stroke-width="0.8" fill="none" /><path d="M314.5 250.7L391.8 250.7L464.9 250.7" stroke="#d4d4d4" stroke-width="0.8" fill="none"/><path d="M321.4 256.2L391.5 256.2L457.8 256.2" stroke="#d4d4d4" stroke-width="0.8" fill="none"/><path d="M331.8 264.6L391 264.6L446.9 264.6" stroke="#d4d4d4" stroke-width="0.8" fill="none"/><path d="M335.9 267.9L390.8 267.9L442.6 267.9" stroke="#d4d4d4" stroke-width="0.8" fill="none"/><path d="M469 247.5L440.7 269.4" stroke="#d4d4d4" stroke-width="0.8" fill="none" /><path d="M390.7 326.1L390.7 269.4" stroke="#2e2e2e" stroke-width="1.1" fill="none" /><path d="M390.7 269.4L392 247.5" stroke="#2e2e2e" stroke-width="1.1" fill="none" /><path d="M337.8 294.6L390.7 294.6L440.7 294.6" stroke="#2e2e2e" stroke-width="1.1" fill="none"/><path d="M310.5 286.3L337.8 294.6" stroke="#2e2e2e" stroke-width="1.1" fill="none" /><path d="M327.3 260.9L325.6 329.6" stroke="#2e2e2e" stroke-width="1.1" fill="none" /><path d="M327.3 260.9L451.9 260.8" stroke="#2e2e2e" stroke-width="1.1" fill="none" /><path d="M306.5 285.3L310.5 286.3" stroke="#2e2e2e" stroke-width="1.1" fill="none" /><text x="315.4" y="246.5" font-size="7" text-anchor="middle" >−8</text><text x="334.6" y="246.5" font-size="7" text-anchor="middle" >−6</text><text x="352.3" y="246.5" font-size="7" text-anchor="middle" >−4</text><text x="370.8" y="246.5" font-size="7" text-anchor="middle" >−2</text><text x="391.3" y="246.5" font-size="7" text-anchor="middle" >0</text><text x="411.3" y="246.5" font-size="7" text-anchor="middle" >2</text><text x="431.3" y="246.5" font-size="7" text-anchor="middle" >4</text><text x="451.8" y="246.5" font-size="7" text-anchor="middle" >6</text><text x="470" y="248.5" font-size="7" text-anchor="middle" >8</text><text x="308.5" y="249" font-size="7" text-anchor="end" >4</text><text x="308.5" y="270" font-size="7" text-anchor="end" >2</text><text x="308.5" y="288.7" font-size="7" text-anchor="end" >0</text><text x="308.5" y="308.3" font-size="7" text-anchor="end" >−2</text><text x="308.5" y="328" font-size="7" text-anchor="end" >−4</text><text x="386.9" y="235" font-size="9.3" textLength="10.4" lengthAdjust="spacingAndGlyphs" font-weight="bold" >PC1</text><text x="328.7" y="348.4" font-size="9.3" textLength="11.5" lengthAdjust="spacingAndGlyphs" font-weight="bold" >PC3</text><text x="0" y="0" font-size="9.3" font-weight="bold" transform="translate(293.9 296) rotate(-90)" textLength="10.8" lengthAdjust="spacingAndGlyphs">PC2</text><text x="0" y="0" font-size="6" text-anchor="middle" transform="translate(313.3 338.5) rotate(-75)">4</text><text x="0" y="0" font-size="6" text-anchor="middle" transform="translate(319.6 336.2) rotate(-75)">2</text><text x="0" y="0" font-size="6" text-anchor="middle" transform="translate(326 334.5) rotate(-75)">0</text><text x="0" y="0" font-size="6" text-anchor="middle" transform="translate(330.6 332.7) rotate(-75)">−2</text><text x="0" y="0" font-size="6" text-anchor="middle" transform="translate(335.8 331.6) rotate(-75)">−4</text><path d="M368.3 300.5h0M387.2 304.5h0M434.1 278.5h0M422.0 283.0h0M436.1 287.0h0M441.5 289.7h0M398.5 294.4h0M400.5 297.4h0M415.7 293.7h0M426.0 296.0h0M420.3 300.9h0M415.3 304.9h0M396.4 304.9h0M388.0 304.5h0M392.4 307.9h0M409.0 307.9h0M423.4 309.0h0M435.1 306.5h0M392.7 308.8h0M396.3 305.0h0M386.7 316.0h0M396.5 313.5h0M408.8 308.3h0M422.7 309.6h0M435.4 307.3h0M445.4 328.5h0M387.0 316.2h0" stroke="#1d1a6e" stroke-width="5.0" stroke-linecap="round" fill="none"/><path d="M377.2 269.1h0M356.2 273.6h0M358.0 276.6h0M346.8 284.3h0M354.6 288.4h0M358.0 286.1h0M367.8 279.6h0M371.4 281.6h0M376.1 286.3h0M380.9 286.1h0M382.6 279.9h0M388.0 274.9h0M390.7 281.6h0M332.0 295.8h0M337.8 298.2h0M361.6 294.7h0M371.4 295.8h0M351.9 300.9h0M355.3 299.5h0M355.7 305.2h0M407.6 260.5h0M406.8 270.5h0M400.9 278.0h0M412.2 274.9h0M417.6 277.6h0M421.3 270.5h0M422.4 273.6h0M415.3 284.3h0M404.5 290.1h0M414.6 300.1h0M371.9 312.1h0M352.3 310.6h0M356.1 305.2h0M346.6 285.3h0M354.3 289.0h0M357.7 286.3h0M376.5 286.3h0M381.2 286.3h0" stroke="#ee7435" stroke-width="5.0" stroke-linecap="round" fill="none"/><text x="480.4" y="247.6" font-size="7" textLength="18.4" lengthAdjust="spacingAndGlyphs" >Status</text><rect x="479.2" y="252.7" width="6.6" height="6.5" fill="#ee7435"/><rect x="479.2" y="264.3" width="6.6" height="6.8" fill="#1d1a6e"/><text x="489.6" y="258.1" font-size="7" textLength="14.2" lengthAdjust="spacingAndGlyphs" >nt-FL</text><text x="489.6" y="270.1" font-size="7" textLength="13.9" lengthAdjust="spacingAndGlyphs" >st-FL</text><text x="7.5" y="382.5" font-size="12.5" fill="#111" font-weight="bold" >D</text><text x="41.2" y="392.6" font-size="9.3" textLength="143.8" lengthAdjust="spacingAndGlyphs">Input of proteins identified from <tspan font-style="italic">P</tspan> <tspan font-size="11.5">&lt;</tspan> .05</text><g fill="none" stroke-width="1.51"><path stroke="#db542d" d="M12.3 441.5h3.9m31.7 0h7.4m10.3 0h3.9M19.4 442.8h3.9m24.6 0h3.8m3.3 0h3.8m10.4 0h3.8m12.8 0h3.8m41.5 0h3.7m27.6 0h3.8"/><path stroke="#e15f38" d="M15.9 441.5h14.5m3.2 0h11m10.4 0h10.9m3.3 0h7.1m26.9 0h3.8m24.1 0h3.7M12.3 442.8h7.4m3.3 0h7.4m3.2 0h3.9m21 0h11m37.2 0h7.2m6.7 0h3.8m10.1 0h14.3m6.6 0h3.8m6.7 0h3.8m31 0h3.8"/><path stroke="#e56b45" d="M30.1 441.5h3.8m58.8 0h3.8m10.2 0h21.2m10.1 0h3.8m3.2 0h3.8m13.6 0h7.3m3.2 0h3.7M30.1 442.8h3.8m3.3 0h11m3.2 0h3.9m17.4 0h3.6m2.5 0h7.3m3.2 0h17.7m6.6 0h7.3m3.2 0h7.3m17.1 0h7.2m3.2 0h3.8m6.7 0h10.7m3.2 0h7.3m13.6 0h3.5M15.9 445.6h3.8m21 0h3.9m17.5 0h3.8M40.7 461.9h3.9m6.8 0h3.9"/><path stroke="#e97752" d="M44.3 441.5h3.9m30.6 0h10.8m6.6 0h7.3m45 0h14.2m6.7 0h3.8m10.1 0h3.8m3.2 0h14.2M179.8 442.8h3.8m6.7 0h3.8m3.1 0h3.8M12.3 444.2h3.9m3.2 0h3.9m3.2 0h3.9m3.2 0h7.4m6.9 0h7.4m3.2 0h7.4m3.3 0h7.1m26.9 0h3.8m6.6 0h3.8m13.7 0h3.7m13.7 0h3.8m10.1 0h3.8m34.5 0h3.8M19.4 445.6h3.9m6.8 0h3.8m3.3 0h3.8m6.9 0h3.8m3.3 0h7.4m10.3 0h3.6M55 446.9h3.8m6.8 0h3.9m3.2 0h3.6M15.9 461.9h7.4m10.3 0h3.9m10.4 0h3.8m17.5 0h3.8"/><path stroke="#ed835e" d="M89.3 441.5h3.7m34.6 0h3.8m10.1 0h3.8m31 0h7.3m3.2 0h3.8M15.9 444.2h3.8m3.3 0h3.8m3.3 0h3.8m6.8 0h7.5m6.8 0h3.8m6.8 0h3.9m12.8 0h3.8m10.1 0h7.3m3.2 0h7.2m3.2 0h10.8m6.6 0h14.3m6.6 0h7.3m3.2 0h7.3m3.1 0h3.8m3.2 0h10.8m3.1 0h3.8m3.2 0h3.5M23 445.6h7.4m3.2 0h3.9m31.7 0h3.8m12.8 0h3.8m20.6 0h3.7m31.1 0h3.8m51.9 0h3.8M12.3 446.9h11m10.3 0h11m24.6 0h3.8M110.2 449.6h3.7M33.6 451.0h3.9M131.1 452.4h3.7M23 461.9h3.8m10.4 0h3.8m14 0h14.5m3.2 0h3.6"/><path stroke="#f08f6c" d="M134.5 441.5h3.8m65.9 0h3.5M193.8 442.8h3.7M78.8 444.2h3.8m3.2 0h10.7m31.1 0h3.8m20.6 0h3.7m17.2 0h3.7m3.2 0h3.8m10.2 0h3.7M12.3 445.6h3.9m35.2 0h3.9m10.3 0h3.9m23.2 0h7.3m3.2 0h7.3m6.6 0h3.8m3.2 0h10.7m20.6 0h3.8m3.2 0h3.8m3.2 0h3.8m17.1 0h3.8M23 446.9h10.9m14 0h7.4m3.2 0h3.9M15.9 449.6h7.4m66 0h3.7m10.2 0h3.8m17.1 0h3.8m3.2 0h3.7m10.2 0h7.3m10.1 0h7.3m27.5 0h7.3M23 451.0h3.8m3.3 0h3.8m6.8 0h3.9m3.3 0h3.8M85.8 452.4h3.8m3.1 0h7.3m3.2 0h28.2m6.6 0h3.8m3.2 0h3.8m3.2 0h3.7m3.2 0h10.8m17.1 0h7.3m6.6 0h7M40.7 457.8h3.9M12.3 461.9h3.9m10.3 0h7.4m10.4 0h3.9M172.9 472.7h3.7"/><path stroke="#f29d7e" d="M44.3 445.6h3.9m30.6 0h7.3m3.2 0h3.7m20.6 0h3.8m3.2 0h3.8m13.6 0h3.8m6.7 0h3.8m6.6 0h3.8m3.2 0h3.8m3.2 0h3.7m10.2 0h3.8m6.6 0h3.8m3.2 0h3.5M44.3 446.9h3.9m13.9 0h3.8m72.1 0h3.8m10.2 0h3.7m6.7 0h7.3m31 0h3.8M19.4 448.3h7.4m6.8 0h3.9m10.4 0h7.4M23 449.6h14.5m3.2 0h3.9m3.3 0h3.8m3.3 0h7.4m6.8 0h7.1m16.4 0h10.8m3.2 0h3.8m3.1 0h7.3m13.6 0h10.8m6.7 0h7.2m10.2 0h3.8m3.1 0h3.8m3.2 0h3.8m3.2 0h7.2m6.7 0h3.5M12.3 451.0h11m3.2 0h3.9m21 0h11m3.2 0h10.7m79.1 0h3.8M78.8 452.4h3.8m6.7 0h3.7m6.7 0h3.8m31 0h3.8m3.2 0h3.8m3.2 0h3.8m3.1 0h3.8m10.2 0h10.7m17.1 0h3.8M47.9 455.1h3.8m55 0h14.2m17.1 0h3.8m24.1 0h3.8M103.2 456.4h7.3m20.6 0h3.7m31.1 0h3.8m3.2 0h3.7m27.6 0h3.5M12.3 457.8h3.9m3.2 0h3.9m31.7 0h3.8m6.8 0h3.9m61.6 0h3.7m27.6 0h3.8M78.8 465.9h3.8m3.2 0h7.2m10.2 0h14.2m13.7 0h14.2m3.2 0h7.2m3.2 0h3.8m3.2 0h3.8m3.2 0h3.7m20.6 0h3.8M47.9 471.4h3.8M85.8 472.7h3.8m17.1 0h7.2m10.2 0h3.8m3.2 0h10.7m3.2 0h3.8m17.1 0h3.8m27.5 0h7.3"/><path stroke="#f4ab90" d="M99.7 445.6h3.8m31 0h3.8m3.2 0h3.8m6.7 0h3.7m20.6 0h10.8m6.7 0h3.7M85.8 446.9h7.2m3.2 0h3.8m3.2 0h3.8m3.2 0h3.7m3.2 0h3.8m3.2 0h3.8m3.2 0h3.7m10.2 0h7.3m6.6 0h3.8m10.2 0h3.7m17.2 0h7.2m3.2 0h3.5M12.3 448.3h7.4m21 0h3.9m10.4 0h7.4m3.2 0h3.9M12.3 449.6h3.9m21 0h3.8m10.4 0h3.9m6.8 0h7.4m9.3 0h10.8m31 0h3.8m3.2 0h3.8m41.5 0h3.7m3.2 0h3.8m3.2 0h3.8M37.2 451.0h3.8m3.3 0h3.9m13.9 0h3.8m33.8 0h3.8m3.2 0h3.8m20.6 0h3.7m13.7 0h7.2m6.7 0h10.8m27.5 0h3.8M15.9 452.4h3.8m28.2 0h3.8m30.6 0h3.8m93.7 0h7.3m6.7 0h3.7M19.4 453.7h3.9m139.1 0h7.3M15.9 455.1h3.8m13.9 0h11m21 0h3.9m9.3 0h10.8m6.6 0h7.3m20.6 0h3.8m3.2 0h3.7m6.7 0h3.8m3.2 0h3.8m6.6 0h7.3m10.1 0h3.8m24.1 0h3.5M85.8 456.4h7.2m3.2 0h3.8m10.2 0h14.2m10.1 0h7.3m3.2 0h3.8m3.2 0h7.2m10.2 0h3.8m3.1 0h3.8m3.2 0h3.8m3.2 0h3.8m3.1 0h7.3M15.9 457.8h3.8m3.3 0h18m6.9 0h7.4m3.2 0h3.9m10.3 0h3.6m9.5 0h3.8m6.6 0h3.8m6.7 0h14.2m17.1 0h3.8m10.2 0h3.7m48.5 0h3.5M15.9 459.1h3.8m59.1 0h3.8m31 0h3.8m13.7 0h3.7m27.6 0h3.8M148.5 460.5h3.8m20.6 0h3.7m20.6 0h3.8M117.1 461.9h3.8M82.3 465.9h3.8m10.1 0h7.3m13.6 0h10.8m17.1 0h3.8m6.6 0h3.8m3.2 0h3.8m3.2 0h3.8m13.6 0h10.7m3.2 0h3.8M47.9 470.0h7.4m3.2 0h3.9M69.2 471.4h7.1M78.8 472.7h7.3m3.2 0h3.7m3.2 0h3.8m3.2 0h3.8m6.6 0h10.8m31 0h3.8m3.2 0h3.8m3.2 0h3.8m10.1 0h3.8m3.2 0h3.8m10.1 0h3.5M47.9 490.4h3.8m6.8 0h3.9m3.2 0h7.4"/><path stroke="#f6b9a2" d="M78.8 446.9h3.8m10.1 0h3.8m3.2 0h3.8m3.2 0h3.8m3.1 0h3.8m3.2 0h3.8m10.1 0h3.8m3.2 0h3.8m10.1 0h3.8m10.2 0h3.8m6.6 0h3.8M26.5 448.3h7.4m3.3 0h3.8m3.3 0h3.9m13.9 0h3.8m3.3 0h7.1M44.3 449.6h3.9m110.7 0h3.8M78.8 451.0h7.3m3.2 0h10.7m3.2 0h3.8m3.2 0h17.7m6.6 0h7.3m3.2 0h3.8m10.1 0h3.8m10.2 0h3.7m17.2 0h3.7m6.7 0h3.5M12.3 452.4h3.9m3.2 0h3.9m10.3 0h3.9m3.2 0h3.9m10.4 0h3.8M37.2 453.7h3.8m6.9 0h3.8m3.3 0h7.4m6.8 0h3.8m16.3 0h3.7m6.7 0h3.8m27.6 0h3.7m34.6 0h7.2m24.1 0h7M12.3 455.1h3.9m3.2 0h11m21 0h11m6.8 0h7.1m13 0h7.2m6.7 0h3.8m13.6 0h3.8m3.2 0h3.8m3.1 0h3.8m6.7 0h3.8m3.2 0h7.2m10.2 0h7.2m10.2 0h17.7M82.3 456.4h3.8m6.6 0h3.8m3.2 0h3.8m20.6 0h7.3m10.1 0h3.8m3.2 0h3.8m6.6 0h7.3m20.6 0h3.8m3.2 0h3.7M44.3 457.8h3.9m13.9 0h3.8m3.3 0h3.8m16.3 0h7.2m3.2 0h7.3m13.6 0h10.8m17.1 0h3.8m13.6 0h3.8m3.2 0h7.2m10.2 0h3.8m3.1 0h3.8M19.4 459.1h3.9m17.4 0h3.9m3.3 0h3.8m3.3 0h3.8m3.3 0h3.8m3.3 0h3.8m30.2 0h3.8m3.2 0h3.7m10.2 0h3.8m6.6 0h7.3m3.2 0h14.2M89.3 460.5h10.7m3.2 0h3.8m3.2 0h10.7m3.2 0h3.8m3.2 0h7.2m6.7 0h3.8m3.2 0h17.7m6.6 0h3.8m6.7 0h7.3M89.3 461.9h3.7m17.2 0h7.2m6.7 0h3.8m41.5 0h7.2m13.7 0h3.8m3.1 0h3.8M15.9 463.2h3.8m142.7 0h3.8M33.6 464.6h3.9m3.2 0h3.9m3.3 0h3.8m10.4 0h10.9m16.3 0h3.7m13.7 0h3.8m27.5 0h3.8m20.6 0h3.8m31 0h3.8M92.7 465.9h3.8m31.1 0h3.8m44.9 0h10.8m17.1 0h3.5M47.9 467.3h3.8M15.9 468.7h3.8m21 0h3.9m6.8 0h7.4m65.3 0h7.3m3.1 0h3.8m10.2 0h3.8M12.3 470.0h3.9m3.2 0h3.9m17.4 0h3.9m24.6 0h3.8m89.4 0h3.8M12.3 471.4h11m6.8 0h3.8m6.8 0h7.5m6.8 0h7.4m3.2 0h3.9m75.5 0h3.8M92.7 472.7h3.8m3.2 0h3.8m24.1 0h3.8m10.1 0h3.8m3.2 0h7.2m3.2 0h3.8m13.6 0h7.3m3.2 0h3.8M15.9 475.4h3.8m3.3 0h7.4m3.2 0h3.9m10.4 0h3.8m6.8 0h14.5M110.2 476.8h3.7m3.2 0h3.8M15.9 479.5h7.4m100.8 0h3.8m38 0h3.8M197.2 485.0h3.8M12.3 489.0h3.9m17.4 0h3.9m28.1 0h3.9M19.4 490.4h3.9m10.3 0h3.9M89.3 493.1h3.7M47.9 517.6h3.8"/><path stroke="#f8c6b4" d="M82.3 446.9h3.8m41.5 0h3.8m44.9 0h3.8m3.2 0h10.8M85.8 451.0h3.8m38 0h3.8m10.1 0h3.8m31 0h17.8m3.1 0h3.8M23 452.4h10.9m3.3 0h3.8m17.5 0h17.8M15.9 453.7h3.8m3.3 0h3.8m3.3 0h3.8m28.2 0h7.4m3.2 0h3.6m2.5 0h3.8m3.2 0h3.8m6.6 0h3.8m3.2 0h10.7m3.2 0h14.3m3.1 0h17.8m6.6 0h3.8m13.6 0h3.8m3.2 0h3.8m3.2 0h3.8m3.1 0h3.8M30.1 455.1h3.8m10.4 0h3.9m131.6 0h7.3M19.4 456.4h3.9m55.5 0h3.8M78.8 457.8h7.3m48.4 0h3.8m3.2 0h7.3m6.6 0h7.3m6.7 0h3.8m6.6 0h10.8m3.2 0h3.7m3.2 0h3.8M26.5 459.1h7.4m3.3 0h3.8m3.3 0h3.9m3.2 0h3.9m3.2 0h3.9m3.2 0h3.9m3.2 0h3.6m6 0h21.2m3.2 0h3.8m6.6 0h7.3m3.2 0h3.8m34.5 0h3.8m3.2 0h7.2m10.2 0h3.8m3.1 0h10.5M15.9 460.5h3.8m28.2 0h3.8m27.1 0h3.8m3.2 0h3.8m10.1 0h3.8m3.2 0h3.8m10.1 0h3.8m13.6 0h3.8m27.6 0h3.8m6.6 0h7.3m6.7 0h3.7m3.2 0h7M78.8 461.9h10.8m3.1 0h3.8m10.2 0h3.8m10.1 0h3.8m10.1 0h14.3m3.2 0h7.2m3.2 0h7.3m10.1 0h3.8m3.2 0h3.8m13.6 0h3.5M19.4 463.2h3.9m17.4 0h3.9m3.3 0h3.8m44.5 0h3.8m3.2 0h3.8m10.1 0h3.8m10.2 0h10.7m3.2 0h3.8m48.4 0h3.8M12.3 464.6h11m6.8 0h3.8m3.3 0h3.8m14 0h7.4m19.9 0h7.3m3.1 0h3.8m3.2 0h7.3m6.6 0h14.3m3.2 0h7.2m3.2 0h10.8m6.6 0h3.8m3.2 0h3.8m3.2 0h7.2m20.6 0h3.8M12.3 467.3h7.4m13.9 0h3.9m17.5 0h3.8m10.4 0h7.1m13 0h3.7m24.1 0h3.8m3.2 0h3.8m3.2 0h3.7m3.2 0h3.8m20.6 0h3.8m6.7 0h3.7m20.6 0h3.8m3.2 0h3.5M12.3 468.7h3.9m3.2 0h7.4m6.8 0h3.9m10.4 0h3.8m6.8 0h14.5m5.8 0h3.8m3.2 0h7.2m3.2 0h3.8m6.7 0h17.7m6.7 0h3.7m3.2 0h3.8m13.6 0h24.7m6.7 0h3.8m3.2 0h7.2M15.9 470.0h3.8m6.8 0h3.9m3.2 0h7.4m14 0h3.8m3.3 0h7.4m16.3 0h3.8m6.6 0h3.8m13.6 0h3.8m6.7 0h3.8m24.1 0h3.7m10.2 0h3.8m3.2 0h3.7M26.5 471.4h3.9m3.2 0h7.4m10.4 0h3.9m6.8 0h3.8m44.3 0h3.7m10.2 0h3.8m3.2 0h7.2m27.6 0h3.8M15.9 472.7h3.8m10.4 0h7.4m10.4 0h7.4m3.2 0h3.9m6.8 0h7.1m117.5 0h3.7M15.9 474.1h3.8m13.9 0h3.9m21 0h3.9m47.8 0h3.7m3.2 0h3.8m24.1 0h3.8m13.6 0h3.8M12.3 475.4h3.9m3.2 0h3.9m6.8 0h3.8m6.8 0h3.9m6.8 0h7.4m13.9 0h3.6m54.8 0h3.7M47.9 476.8h3.8m34.1 0h3.8m24 0h3.8m13.7 0h3.7m3.2 0h3.8m13.6 0h3.8m3.2 0h3.8m34.5 0h3.8M99.7 478.2h3.8m6.7 0h3.7m3.2 0h7.3m6.7 0h3.7m3.2 0h3.8m3.2 0h3.8m24.1 0h3.7M33.6 479.5h11m10.4 0h3.8m37.4 0h3.8m3.2 0h14.2m45 0h3.8M30.1 482.2h3.8m35.3 0h3.8M85.8 485.0h3.8m13.6 0h3.8m3.2 0h7.2m17.1 0h7.3m3.2 0h7.3m10.1 0h3.8m3.2 0h3.8m17.1 0h3.8M113.6 486.3h7.3m41.5 0h3.8M15.9 489.0h3.8m17.5 0h7.4m3.3 0h10.9m10.4 0h3.8M12.3 490.4h7.4m6.8 0h7.4m3.3 0h7.4m6.8 0h7.4m3.3 0h3.8m6.8 0h3.6M99.7 493.1h3.8m10.1 0h3.8m17.1 0h7.3m6.7 0h3.8m3.1 0h3.8m6.7 0h3.8M15.9 517.6h3.8m35.3 0h3.8M85.8 520.3h3.8m20.6 0h3.7m10.2 0h3.8m45 0h3.7m13.7 0h3.8M12.3 528.4h3.9"/><path stroke="#f9d2c3" d="M113.6 448.3h3.8m20.6 0h3.8m13.6 0h3.8m3.2 0h3.8m31 0h3.8M44.3 452.4h3.9m3.2 0h3.9M12.3 453.7h3.9m10.3 0h3.9m3.2 0h3.9m3.2 0h7.5m3.2 0h3.9m27 0h3.8m27.5 0h3.8m34.6 0h3.7m24.1 0h3.8m3.2 0h3.8m3.2 0h3.7M62.1 455.1h3.8M23 456.4h3.8m3.3 0h3.8m6.8 0h3.9m3.3 0h3.8m3.3 0h3.8m10.4 0h3.8m106.8 0h3.8M12.3 459.1h3.9m6.8 0h3.8m6.8 0h3.9m104 0h3.8m24.1 0h3.8m6.6 0h3.8m3.2 0h3.8M19.4 460.5h3.9m3.2 0h3.9m3.2 0h3.9m3.2 0h3.9m21 0h3.9m3.2 0h3.6m6 0h3.8m41.5 0h3.8m10.1 0h3.8M96.2 461.9h10.8m20.6 0h7.2m13.7 0h3.8m6.6 0h3.8m13.6 0h3.8m3.2 0h3.8m6.7 0h3.7m3.2 0h3.8M12.3 463.2h3.9m17.4 0h3.9m13.9 0h24.9m2.5 0h14.2m6.7 0h3.8m3.2 0h10.7m6.7 0h7.3m10.1 0h3.8m3.2 0h7.2m10.2 0h3.8m3.2 0h3.7m13.7 0h3.8m6.6 0h7M23 464.6h3.8m17.5 0h3.9m24.5 0h3.6m2.5 0h3.8m13.6 0h3.8m10.2 0h3.7m38.1 0h3.7m13.7 0h3.8m10.1 0h14.2m6.7 0h3.5M19.4 467.3h3.9m3.2 0h7.4m6.8 0h3.9m13.9 0h11m9.3 0h10.8m6.6 0h3.8m3.2 0h14.2m17.1 0h3.8m6.7 0h7.3m3.1 0h3.8m6.7 0h7.3m3.1 0h3.8m6.7 0h3.8m3.2 0h3.7M26.5 468.7h7.4m3.3 0h3.8m3.3 0h3.9m24.5 0h3.6m16.4 0h3.8m3.2 0h3.8m38 0h7.3m3.2 0h3.7m24.1 0h7.3m3.2 0h3.8m6.6 0h7M23 470.0h3.8m3.3 0h3.8m38.8 0h3.6m6 0h3.8m13.6 0h3.8m13.6 0h3.8m10.2 0h3.7m3.2 0h14.3m3.1 0h3.8m31.1 0h3.8m3.1 0h10.5M23 471.4h3.8m55.5 0h10.7m10.2 0h3.8m10.1 0h7.3m13.6 0h3.8m10.2 0h7.2m3.2 0h3.8m6.7 0h7.2m17.1 0h10.5M12.3 472.7h3.9m6.8 0h3.8m10.4 0h7.4m10.4 0h3.8m3.3 0h3.8M12.3 474.1h3.9m6.8 0h7.4m6.8 0h3.8m6.9 0h7.4m10.3 0h10.7m9.5 0h3.8m3.1 0h3.8m10.2 0h3.8m3.1 0h3.8m6.7 0h3.8m3.2 0h3.7m17.2 0h3.7m10.2 0h3.8m27.5 0h10.5M37.2 475.4h3.8m3.3 0h3.9m68.9 0h10.8m10.1 0h3.8m20.6 0h3.8M15.9 476.8h7.4m3.2 0h3.9m10.3 0h3.9m6.8 0h3.9m13.9 0h3.8m5.8 0h7.3m3.2 0h10.7m3.2 0h7.3m13.6 0h3.8m13.6 0h14.2m3.2 0h3.8m3.2 0h10.7m6.7 0h3.8m6.7 0h7.2M33.6 478.2h7.4m6.9 0h3.8m6.8 0h14.5m12.8 0h7.2m10.2 0h7.3m3.1 0h3.8m6.7 0h7.3m17.1 0h14.2m3.2 0h7.3m13.6 0h3.8m6.6 0h3.8m3.2 0h3.5M12.3 479.5h3.9m6.8 0h10.9m10.4 0h11m3.2 0h3.9m3.2 0h10.7m6 0h14.2m3.2 0h3.8m13.6 0h7.3m3.2 0h14.2m6.7 0h3.8m3.1 0h7.3m20.6 0h3.8m10.1 0h10.5M15.9 482.2h3.8m17.5 0h7.4m3.3 0h7.4m3.2 0h3.9m10.3 0h3.6M197.2 483.6h3.8M78.8 485.0h7.3m3.2 0h14.2m3.2 0h3.8m10.1 0h3.8m6.7 0h3.7m17.2 0h3.7m3.2 0h3.8m3.2 0h3.8m3.2 0h10.7m10.2 0h3.7m3.2 0h7M12.3 486.3h3.9m13.9 0h10.9m10.4 0h3.9m6.8 0h3.8m3.3 0h7.1m33.9 0h3.7m17.2 0h3.7m3.2 0h3.8m6.7 0h3.8m6.6 0h3.8m3.2 0h3.8m20.6 0h3.8m3.1 0h3.8m3.2 0h3.5M148.5 487.7h3.8m13.6 0h3.8M19.4 489.0h14.5m10.4 0h3.9m10.3 0h7.4m6.8 0h3.6M23 490.4h3.8m17.5 0h3.9M82.3 493.1h7.3m17.1 0h7.2m3.2 0h10.8m17.1 0h3.8m13.6 0h3.8m3.2 0h3.8m3.1 0h3.8m3.2 0h3.8m10.1 0h3.8M15.9 499.9h3.8M12.3 517.6h3.9m3.2 0h7.4m6.8 0h11m6.8 0h3.9m10.3 0h7.4M106.7 518.9h3.8M82.3 520.3h3.8m41.5 0h3.8m6.6 0h3.8m3.2 0h21.2m20.6 0h3.8m6.6 0h10.5M131.1 525.7h10.7m20.6 0h3.8m31 0h3.8M15.9 528.4h7.4m3.2 0h3.9m6.8 0h7.4m3.3 0h3.8m3.3 0h18"/><path stroke="#fbe8e1" d="M82.3 448.3h3.8m6.6 0h7.3m24.1 0h7.3m3.1 0h3.8m3.2 0h3.8m3.2 0h3.8m13.6 0h3.8m10.1 0h3.8m3.2 0h7.3M12.3 456.4h3.9m21 0h3.8m21.1 0h3.8M158.9 463.2h3.8m17.1 0h7.3M12.3 465.9h11m10.3 0h3.9m3.2 0h3.9m3.3 0h3.8m3.3 0h7.4m10.3 0h3.6M51.4 467.3h3.9m128 0h3.8m3.2 0h3.8M78.8 470.0h3.8m93.7 0h3.8m3.2 0h7.3M78.8 471.4h3.8m17.1 0h3.8m55.4 0h3.8m17.1 0h3.8M96.2 474.1h3.8m3.2 0h3.8m20.6 0h3.8m10.1 0h3.8m10.1 0h3.8m27.6 0h7.3M82.3 475.4h3.8m6.6 0h7.3m3.2 0h3.8m20.6 0h3.8m10.1 0h7.3m3.2 0h10.7m3.2 0h3.8m6.6 0h3.8m10.2 0h3.8m10.1 0h3.5M23 476.8h3.8m3.3 0h3.8m3.3 0h3.8m14 0h7.4m65.2 0h3.8m48.4 0h3.8M23 478.2h3.8m17.5 0h3.9m3.2 0h3.9m124.5 0h3.8m10.2 0h3.7M12.3 480.9h3.9m3.2 0h7.4m6.8 0h3.9m3.2 0h3.9m6.8 0h3.9m3.2 0h7.4m58.2 0h3.8m3.2 0h3.7M12.3 482.2h3.9m28.1 0h3.9m17.4 0h3.9m26.7 0h7.3m3.2 0h7.2m3.2 0h7.3m3.2 0h3.8m10.1 0h7.3m6.6 0h3.8m3.2 0h7.3m17.1 0h3.8m13.6 0h3.5M15.9 483.6h10.9m10.4 0h7.4m6.8 0h3.9m17.4 0h3.6m61.7 0h3.8m24.1 0h3.8m6.6 0h3.8M15.9 485.0h3.8m13.9 0h3.9m10.4 0h3.8m13.9 0h3.9m85.9 0h3.8M15.9 486.3h10.9m21.1 0h3.8m6.8 0h3.9m3.2 0h3.9m51.1 0h3.8m27.6 0h3.7m24.1 0h3.8M23 487.7h3.8m3.3 0h7.4m21 0h3.9m6.8 0h3.8m5.8 0h3.8m6.7 0h7.2m3.2 0h10.8m17.1 0h3.8m10.1 0h7.3m3.2 0h3.7m3.2 0h7.3m10.1 0h3.8m10.2 0h3.8m6.6 0h3.8M78.8 489.0h7.3m17.1 0h3.8m3.2 0h3.7m3.2 0h3.8m17.1 0h3.8m3.2 0h10.7m10.2 0h10.7m10.2 0h7.3m3.1 0h7.3M106.7 490.4h3.8m51.9 0h3.8M78.8 493.1h3.8m45 0h3.8m10.1 0h3.8m55.4 0h3.8M15.9 494.5h7.4m13.9 0h3.8m14 0h3.8m23.5 0h10.7m10.2 0h7.3m6.6 0h7.3m6.7 0h17.7m3.2 0h3.7m6.7 0h7.3m34.5 0h3.5M82.3 495.8h7.3m3.1 0h3.8m3.2 0h3.8m10.1 0h3.8m3.2 0h7.3m10.1 0h3.8m3.2 0h17.7m3.2 0h3.8m17.1 0h3.8m10.1 0h7M19.4 497.2h3.9m66 0h3.7m34.6 0h3.8m31 0h3.8m20.6 0h3.8M12.3 498.6h3.9m21 0h7.4m3.3 0h3.8m3.3 0h3.8m6.8 0h10.7M12.3 499.9h3.9m3.2 0h7.4m6.8 0h7.4m10.4 0h3.9m3.2 0h3.9m6.8 0h3.8M15.9 506.7h3.8m13.9 0h3.9m10.4 0h3.8m3.3 0h3.8m10.4 0h3.8M65.6 512.1h3.9M19.4 513.5h3.9m10.3 0h3.9M15.9 514.9h7.4m17.4 0h3.9m3.3 0h3.8m21 0h3.6m37.3 0h3.8m3.2 0h3.8m24.1 0h3.8m20.6 0h3.7m13.7 0h3.8m3.1 0h3.8M99.7 516.2h3.8m3.2 0h3.8m3.1 0h3.8m10.2 0h3.8m13.6 0h3.8m17.1 0h3.8m27.5 0h7.3M44.3 517.6h3.9m41.1 0h3.7m24.1 0h3.8m10.2 0h3.7m3.2 0h3.8m20.6 0h3.8m3.2 0h3.8M82.3 518.9h7.3m3.1 0h7.3m10.2 0h7.2m6.7 0h7.3m10.1 0h10.8m13.6 0h3.8m3.2 0h7.2m20.6 0h3.8M12.3 520.3h7.4m10.4 0h7.4m3.2 0h3.9m6.8 0h3.9m3.2 0h11m3.2 0h3.6m19.9 0h3.8m93.8 0h3.7M33.6 521.6h3.9m3.2 0h3.9m3.3 0h3.8m3.3 0h7.4m3.2 0h7.4m58.1 0h3.7m17.2 0h3.7m6.7 0h3.8m34.5 0h3.8M12.3 524.4h3.9m6.8 0h7.4m10.3 0h3.9m10.4 0h3.8m6.8 0h3.9m3.2 0h3.6m54.8 0h3.7m20.6 0h3.8M78.8 525.7h3.8m3.2 0h3.8m3.1 0h7.3m20.6 0h10.8m10.1 0h3.8m6.7 0h3.7m13.7 0h7.2m3.2 0h3.8m3.2 0h3.8m3.2 0h3.7m3.2 0h3.8M47.9 527.1h3.8M72.7 528.4h3.6m23.4 0h7.3m3.2 0h3.7m10.2 0h3.8m3.2 0h3.7m3.2 0h3.8M12.3 529.8h3.9m3.2 0h3.9m3.2 0h7.4m35.3 0h3.8M162.4 533.9h3.8M145 535.2h3.8m20.6 0h3.8m13.6 0h3.8M47.9 536.6h3.8m82.8 0h3.8m13.7 0h3.7m3.2 0h3.8m3.2 0h3.8m27.5 0h3.8M197.2 539.3h3.8M155.4 540.7h3.8m38 0h10.5M26.5 542.0h3.9M162.4 543.4h3.8M162.4 551.5h3.8"/><path stroke="#faddd2" d="M78.8 448.3h3.8m3.2 0h7.2m6.7 0h14.2m3.2 0h7.3m6.7 0h3.7m10.2 0h3.8m3.2 0h3.7m3.2 0h3.8m6.7 0h10.7m13.7 0h3.7m3.2 0h7M92.7 453.7h3.8m58.9 0h3.8M15.9 456.4h3.8m6.8 0h3.9m3.2 0h3.9m6.8 0h3.9m3.2 0h3.9m3.2 0h3.9m3.2 0h3.9m3.2 0h3.6M158.9 459.1h3.8m20.6 0h3.8m6.7 0h3.7M12.3 460.5h3.9m6.8 0h3.8m3.3 0h3.8m3.3 0h3.8m10.4 0h14.5m3.3 0h3.8M26.5 463.2h7.4m3.3 0h3.8m3.3 0h3.9m44.5 0h3.8m24.1 0h3.8m31 0h3.8m10.2 0h3.8m3.1 0h3.8m6.7 0h3.8m3.2 0h3.7M26.5 464.6h3.9m21 0h3.9m72.3 0h3.8m24 0h3.8m20.6 0h3.8M23 467.3h3.8m10.4 0h3.8m3.3 0h3.9m44.5 0h3.8m3.2 0h3.8m17.1 0h3.8m3.2 0h3.8m10.1 0h3.8m6.7 0h3.7m3.2 0h3.8m17.1 0h3.8m17.1 0h3.8M82.3 468.7h3.8m17.1 0h3.8M44.3 470.0h3.9m41.1 0h7.2m6.7 0h10.7m6.7 0h3.8m3.2 0h3.8m3.1 0h3.8m20.6 0h3.8m6.7 0h3.8m6.6 0h3.8m10.2 0h3.7M92.7 471.4h7.3m6.7 0h3.8m3.1 0h3.8m10.2 0h3.8m10.1 0h3.8m3.2 0h3.8m17.1 0h3.8m10.1 0h14.2M19.4 472.7h3.9m3.2 0h3.9m35.2 0h3.9M19.4 474.1h3.9m6.8 0h3.8m6.8 0h7.5m6.8 0h3.8m3.3 0h3.8m12.9 0h7.3m3.2 0h3.7m6.7 0h3.8m17.1 0h3.8m10.1 0h7.3m6.7 0h3.8m6.6 0h3.8m6.7 0h17.7m6.7 0h3.7M78.8 475.4h3.8m6.7 0h3.7m13.7 0h10.7m17.1 0h3.8m34.6 0h3.7m20.6 0h7.3M12.3 476.8h3.9m17.4 0h3.9m6.8 0h3.9m13.9 0h7.4m3.2 0h3.6m23.4 0h3.8m17.1 0h3.8m10.1 0h3.8m38 0h3.8m6.7 0h7.3m10.1 0h3.5M12.3 478.2h11m3.2 0h7.4m6.8 0h3.9m10.4 0h3.8m13.9 0h3.6m2.5 0h7.3m6.6 0h7.3m34.5 0h3.8m3.2 0h3.8m17.1 0h3.8m10.1 0h3.8m3.2 0h3.8m3.2 0h3.8m6.6 0h3.8M62.1 479.5h3.8m12.9 0h3.8m58.9 0h7.3m3.2 0h3.7m13.7 0h14.2m3.2 0h10.7M15.9 480.9h3.8m28.2 0h3.8m17.5 0h3.8M19.4 482.2h3.9m3.2 0h3.9m3.2 0h3.9m17.5 0h3.8m3.3 0h3.8m65.2 0h3.7m3.2 0h3.8m6.7 0h3.8M12.3 483.6h3.9m17.4 0h3.9m69.2 0h3.8m3.1 0h3.8m45 0h3.8M19.4 485.0h3.9m45.9 0h3.8m44.1 0h3.8m3.2 0h7.3m10.1 0h3.8m38 0h7.3M26.5 486.3h3.9m10.3 0h3.9m10.4 0h3.8m20 0h31.7m13.6 0h7.3m3.1 0h3.8m3.2 0h7.3m6.6 0h3.8m10.2 0h10.7m3.2 0h7.3m3.2 0h3.7m3.2 0h3.8M15.9 487.7h3.8m45.9 0h3.9m40.7 0h14.2m6.7 0h10.7m27.6 0h7.2m20.6 0h3.8M92.7 489.0h3.8m10.2 0h3.8m3.1 0h3.8m6.7 0h3.8m3.2 0h7.2m24.1 0h3.8M92.7 493.1h7.3m3.2 0h3.8m24.1 0h3.7m17.2 0h3.7m3.2 0h3.8m10.2 0h3.7m3.2 0h3.8m3.2 0h10.7m6.7 0h3.5M110.2 494.5h3.7m34.6 0h3.8m3.1 0h3.8m41.5 0h3.8M89.3 495.8h3.7m13.7 0h7.2m3.2 0h3.8m10.2 0h3.7m6.7 0h3.8m24.1 0h3.8m3.1 0h3.8m10.2 0h3.8m3.1 0h3.8M110.2 497.2h3.7M26.5 498.6h3.9M26.5 499.9h3.9m10.3 0h3.9m3.3 0h3.8M110.2 514.9h3.7M110.2 516.2h3.7m10.2 0h3.8m3.2 0h7.2m52 0h3.8M26.5 517.6h7.4m24.6 0h7.4m6.8 0h3.6M131.1 518.9h3.7m3.2 0h3.8m20.6 0h3.8m3.2 0h3.8m17.1 0h3.8M47.9 520.3h3.8m3.3 0h3.8m20 0h3.8m6.7 0h3.7m6.7 0h3.8m3.2 0h3.8m3.1 0h10.8m6.7 0h7.2m3.2 0h3.8m20.6 0h7.3m3.1 0h10.8M15.9 521.6h7.4m49.4 0h3.6m33.9 0h3.7M15.9 524.4h7.4m24.6 0h3.8M82.3 525.7h3.8m3.2 0h3.7m10.2 0h17.7m24.1 0h7.3m13.6 0h3.8m6.6 0h3.8m10.2 0h3.8m10.1 0h3.5M23 528.4h3.8m3.3 0h7.4m13.9 0h3.9M15.9 529.8h3.8M47.9 531.2h3.8M131.1 533.9h3.7M131.1 536.6h3.7m27.6 0h3.8m24.1 0h3.8m10.1 0h3.5"/><path stroke="#fcf3f0" d="M183.3 448.3h3.8M44.3 460.5h3.9M23 463.2h3.8M23 465.9h7.4m6.8 0h3.8m3.3 0h3.9m3.2 0h3.9m6.8 0h10.9M44.3 472.7h3.9M85.8 475.4h3.8m10.1 0h3.8m45 0h3.8m17.1 0h3.8m6.6 0h10.8m3.2 0h3.7M26.5 480.9h3.9m6.8 0h3.8m24.6 0h3.9m16.3 0h3.8m3.1 0h7.3m10.2 0h3.7m6.7 0h3.8m10.1 0h3.8m3.2 0h14.2m3.2 0h10.8m27.5 0h3.8m3.2 0h3.5M23 482.2h3.8m52 0h3.8m3.2 0h10.7m6.7 0h3.8m6.6 0h3.8m6.7 0h3.8m6.6 0h3.8m13.7 0h3.7m3.2 0h3.8m6.7 0h7.2m17.2 0h10.7M26.5 483.6h7.4m14 0h3.8m3.3 0h7.4m3.2 0h7.4m5.8 0h3.8m3.2 0h14.2m3.2 0h3.8m3.2 0h3.7m3.2 0h7.3m6.7 0h7.2m6.7 0h3.8m24.1 0h3.7m17.2 0h3.7m3.2 0h3.8M12.3 485.0h3.9m10.3 0h7.4m3.3 0h7.4m6.8 0h14.5m6.8 0h3.6M12.3 487.7h3.9m3.2 0h3.9m13.9 0h21.6m23.5 0h7.3m6.6 0h3.8m24.1 0h3.8m27.5 0h3.8m20.6 0h3.8m3.2 0h3.8m3.2 0h3.7m6.7 0h3.5M85.8 489.0h7.2m3.2 0h7.3m17.1 0h3.8m3.2 0h3.8m10.1 0h3.8m31 0h10.8m6.7 0h3.7m6.7 0h3.5M85.8 490.4h7.2m17.2 0h3.7m6.7 0h3.8m6.7 0h7.2m6.7 0h10.7m34.6 0h3.8m3.1 0h7.3M15.9 491.8h7.4m3.2 0h7.4m3.3 0h7.4m3.3 0h10.9m27 0h3.8m41.5 0h3.7m38.1 0h3.7m24.1 0h3.8M12.3 493.1h3.9m17.4 0h3.9m10.4 0h3.8m21 0h3.6M23 494.5h3.8m6.8 0h3.9m3.2 0h11m6.8 0h14.5m5.8 0h3.8m13.6 0h7.3m10.1 0h3.8m6.7 0h7.3m27.5 0h3.8m6.7 0h14.2m3.2 0h14.2M19.4 495.8h3.9m6.8 0h3.8m6.8 0h3.9m13.9 0h3.9m10.3 0h3.6m2.5 0h3.8m13.6 0h3.8m3.2 0h3.8m20.6 0h3.8m3.1 0h3.8m24.1 0h3.8m6.7 0h3.7m3.2 0h3.8m10.2 0h3.7M23 497.2h3.8m59 0h3.8m10.1 0h7.3m13.6 0h7.3m10.1 0h3.8m3.2 0h3.8m17.1 0h10.7m20.6 0h3.8m3.2 0h3.5M15.9 498.6h3.8m3.3 0h3.8m3.3 0h7.4m6.8 0h3.9m3.2 0h3.9m3.2 0h3.9M30.1 499.9h3.8m10.4 0h3.9m6.8 0h3.8m3.3 0h7.4M69.2 502.6h3.8M12.3 506.7h3.9m3.2 0h3.9m13.9 0h11m3.2 0h3.9m3.2 0h3.9m3.2 0h3.9M15.9 508.1h7.4m17.4 0h3.9M23 512.1h3.8m13.9 0h3.9m3.3 0h7.4M12.3 513.5h7.4m10.4 0h3.8m3.3 0h3.8m14 0h7.4m3.2 0h7.4M12.3 514.9h3.9m6.8 0h3.8m3.3 0h7.4m13.9 0h18.1m12.8 0h7.3m10.1 0h3.8m13.6 0h3.8m10.2 0h17.7m3.2 0h3.7m6.7 0h10.8M37.2 516.2h3.8m44.8 0h7.2m10.2 0h3.8m10.1 0h7.3m13.6 0h7.3m6.7 0h14.2m3.2 0h21.2m3.2 0h3.7m6.7 0h3.5M78.8 517.6h3.8m10.1 0h14.3m3.2 0h3.7m6.7 0h7.3m13.6 0h21.2m3.2 0h3.8m3.2 0h7.2m6.7 0h7.3m6.6 0h3.8M12.3 518.9h11m17.4 0h3.9m3.3 0h3.8m3.3 0h14.5m3.2 0h3.6m2.5 0h3.8m6.7 0h3.7m6.7 0h7.3m10.1 0h7.3m10.1 0h3.8m17.1 0h3.8m20.6 0h10.8m3.2 0h7.2m3.2 0h3.5M19.4 520.3h11m13.9 0h3.9m21 0h3.8m19.7 0h3.8m6.7 0h3.8M12.3 521.6h3.9m6.8 0h10.9m3.3 0h3.8m21.1 0h3.8m19.9 0h14.2m3.2 0h7.3m3.1 0h7.3m3.2 0h3.8m6.6 0h7.3m3.2 0h7.3m3.1 0h3.8m6.7 0h7.3m3.1 0h3.8m10.2 0h7.2m6.7 0h3.5M85.8 523.0h3.8m3.1 0h3.8m13.7 0h3.7m17.2 0h3.7m13.7 0h3.8m6.6 0h3.8M30.1 524.4h7.4m6.8 0h3.9m3.2 0h3.9m3.2 0h7.4m3.3 0h3.8m16.3 0h3.7m3.2 0h3.8m3.2 0h7.3m3.1 0h14.3m34.5 0h3.8m31 0h7.3M99.7 525.7h3.8m51.9 0h3.8m24.1 0h3.8M12.3 527.1h11m3.2 0h3.9m3.2 0h11m17.5 0h7.4m3.2 0h3.6m6 0h3.8m24.1 0h3.7m31.1 0h3.8M44.3 528.4h3.9m34.1 0h7.3m3.1 0h7.3m13.6 0h3.8m3.2 0h3.8m20.6 0h7.3m3.1 0h3.8m3.2 0h3.8m3.2 0h3.8m13.6 0h7.3m10.1 0h3.5M23 529.8h3.8m6.8 0h11m3.3 0h10.9m6.8 0h3.9m3.2 0h3.6m33.9 0h3.7m3.2 0h3.8m17.1 0h3.8m24.1 0h3.8M15.9 531.2h7.4m38.8 0h3.8m65.2 0h3.7m10.2 0h3.8m13.6 0h3.8M15.9 532.5h3.8m6.8 0h3.9m17.5 0h3.8m13.9 0h7.4m40.6 0h3.8m20.6 0h3.8m48.5 0h3.8M15.9 533.9h3.8m6.8 0h3.9m17.5 0h3.8m3.3 0h3.8m23.5 0h3.8m20.6 0h3.8m17.1 0h3.8m3.1 0h7.3m6.7 0h10.7M33.6 535.2h3.9m10.4 0h3.8m3.3 0h3.8m6.8 0h3.9m40.7 0h3.7m17.2 0h3.7m13.7 0h17.7m10.1 0h3.8m10.2 0h3.8m3.1 0h10.5M12.3 536.6h7.4m21 0h3.9m13.9 0h3.9m6.8 0h3.8m30.2 0h3.8m41.5 0h3.8m24 0h3.8m13.7 0h3.7m3.2 0h3.8M197.2 538.0h3.8M145 539.3h3.8m13.6 0h3.8m3.2 0h7.2m13.7 0h7.2m3.2 0h3.8M19.4 540.7h3.9m42.3 0h3.9m3.2 0h3.6m40.8 0h3.8m3.2 0h3.8m3.2 0h3.7m3.2 0h3.8m3.2 0h3.8m3.2 0h3.7m3.2 0h7.3m17.1 0h3.8M19.4 542.0h3.9m6.8 0h3.8m3.3 0h3.8m10.4 0h3.9m6.8 0h3.8m3.3 0h3.8m72 0h3.8m13.6 0h3.8M40.7 543.4h3.9m93.4 0h3.8m6.7 0h3.8m48.4 0h7M145 544.8h3.8m13.6 0h3.8m10.1 0h3.8M190.3 546.1h3.8m10.1 0h3.5M162.4 547.5h7.3M172.9 551.5h3.7m24.1 0h7M162.4 554.3h3.8M162.4 559.7h3.8m38 0h3.5"/><path stroke="#f9f3f7" d="M30.1 465.9h3.8M30.1 480.9h3.8m10.4 0h3.9m6.8 0h3.8m13.9 0h3.6m2.5 0h7.3m3.2 0h3.7m6.7 0h10.8m3.1 0h7.3m6.7 0h3.8m6.6 0h3.8m13.6 0h3.8m10.2 0h7.2m10.2 0h3.8m10.1 0h3.8M82.3 482.2h3.8m90.2 0h7.3m6.7 0h3.8M62.1 483.6h3.8m16.4 0h3.8m13.6 0h3.8m20.6 0h7.3m10.1 0h3.8m3.2 0h14.2m6.7 0h3.8m6.6 0h14.3m10.1 0h3.5M23 485.0h3.8m17.5 0h3.9M44.3 486.3h3.9M26.5 487.7h3.9m31.7 0h3.8m6.8 0h3.6m107 0h3.8M155.4 489.0h7.3M78.8 490.4h7.3m6.6 0h14.3m6.6 0h7.3m3.2 0h7.3m6.6 0h7.3m10.1 0h7.3m3.2 0h10.7m10.2 0h3.8m3.2 0h3.7m6.7 0h3.5M12.3 491.8h3.9m6.8 0h3.8m6.8 0h3.9m24.6 0h14.2m2.5 0h7.3m13.6 0h31.7m13.6 0h3.8m3.2 0h7.2m10.2 0h3.8m17.1 0h3.8m3.1 0h3.8M15.9 493.1h7.4m6.8 0h3.8m6.8 0h3.9m6.8 0h18.1M12.3 494.5h3.9m10.3 0h3.9m21 0h3.9m37.4 0h3.8m86.8 0h3.8M15.9 495.8h3.8m13.9 0h3.9m6.8 0h7.4m3.3 0h3.8m3.3 0h10.9m110.3 0h3.8M26.5 497.2h3.9m3.2 0h3.9m3.2 0h3.9m10.4 0h14.5m3.2 0h3.6m2.5 0h7.3m20.6 0h3.8m3.1 0h7.3m10.2 0h7.2m3.2 0h3.8m3.2 0h3.8m3.1 0h7.3m13.6 0h3.8m3.2 0h3.8m3.2 0h3.8m6.6 0h3.8M19.4 498.6h3.9m38.8 0h3.8M72.7 499.9h3.6M19.4 501.3h3.9m10.3 0h7.4m6.9 0h7.4m17.4 0h3.6m26.9 0h3.8m24.1 0h3.7m3.2 0h3.8m55.4 0h7.3M15.9 502.6h7.4m6.8 0h3.8m24.6 0h3.9m3.2 0h3.9M165.9 504.0h3.8M23 506.7h7.4m31.7 0h3.8m6.8 0h3.6M12.3 508.1h3.9m6.8 0h3.8m3.3 0h7.4m10.4 0h14.5m3.2 0h3.9M197.2 510.8h3.8M12.3 512.1h3.9m10.3 0h7.4m21.1 0h10.9m3.3 0h3.8M23 513.5h3.8m13.9 0h3.9m3.3 0h7.4m17.4 0h3.6M26.5 514.9h3.9m13.9 0h3.9m21 0h3.8m5.8 0h3.8m6.7 0h10.7m3.2 0h3.8m17.1 0h3.8m31 0h3.8m13.6 0h3.8m3.2 0h3.8m6.7 0h3.7m3.2 0h7M15.9 516.2h3.8m59.1 0h7.3m6.6 0h7.3m48.5 0h3.8M85.8 517.6h3.8m17.1 0h3.8m3.1 0h3.8m10.2 0h3.8m3.1 0h3.8m45 0h3.8m10.1 0h3.8m3.2 0h3.5M23 518.9h18m3.3 0h3.9m3.2 0h3.9m13.9 0h3.8m79 0h3.7m3.2 0h3.8M51.4 521.6h3.9m27 0h3.8m13.6 0h3.8m17.1 0h3.8m3.2 0h3.8m10.1 0h3.8m13.6 0h3.8m10.2 0h3.7m20.6 0h3.8M12.3 523.0h3.9m17.4 0h3.9m21 0h3.9m3.2 0h3.9m3.2 0h3.6m2.5 0h3.8m20.6 0h3.8m6.6 0h7.3m13.6 0h7.3m3.2 0h3.8m17.1 0h3.8m3.2 0h3.7M37.2 524.4h3.8m41.3 0h3.8m13.6 0h3.8m6.7 0h3.7m20.6 0h21.2m3.2 0h3.8m3.2 0h7.3m3.1 0h3.8m6.7 0h10.7m6.7 0h3.5M37.2 525.7h3.8m117.9 0h3.8M23 527.1h3.8m3.3 0h3.8m17.5 0h11m26.9 0h3.7m3.2 0h3.8m6.7 0h3.8m3.1 0h7.3m10.2 0h3.7m3.2 0h3.8m6.7 0h7.2m6.7 0h7.3m3.2 0h3.7m20.6 0h7.3M78.8 528.4h3.8m6.7 0h3.7m13.7 0h3.8m6.6 0h3.8m13.6 0h3.8m3.2 0h3.8m6.7 0h3.7m10.2 0h3.8m3.2 0h14.2m10.1 0h7.3M44.3 529.8h3.9m10.3 0h3.9m23.4 0h7.2m6.7 0h3.8m3.2 0h3.8m3.1 0h3.8m3.2 0h7.3m3.2 0h7.2m24.1 0h3.8m3.2 0h3.8m24 0h3.8M12.3 531.2h3.9m24.5 0h3.9m10.4 0h3.8m10.4 0h3.8m19.7 0h10.8m3.2 0h14.2m20.6 0h3.8m10.1 0h3.8m13.7 0h7.2m17.1 0h10.5M33.6 532.5h3.9m21 0h3.9m23.4 0h3.8m10.1 0h3.8m3.2 0h3.8m20.6 0h3.7m10.2 0h7.3m20.6 0h3.7m20.6 0h10.5M19.4 533.9h7.4m6.8 0h3.9m21 0h7.4m6.8 0h3.6m9.5 0h10.7m3.2 0h3.8m10.1 0h7.3m3.2 0h3.8m31 0h3.8m3.2 0h3.8m20.6 0h10.7m3.2 0h3.5M15.9 535.2h7.4m17.4 0h3.9m13.9 0h7.4m12.9 0h3.8m3.2 0h3.8m6.6 0h3.8m3.2 0h7.3m6.6 0h3.8m45 0h3.8m3.2 0h3.7M65.6 536.6h3.9m16.3 0h7.2m17.2 0h10.7m17.1 0h3.8m3.2 0h3.8m6.6 0h3.8m13.7 0h3.7m3.2 0h3.8m3.2 0h3.8M40.7 538.0h3.9m3.3 0h3.8m93.3 0h7.3m51.9 0h3.5M92.7 539.3h3.8m3.2 0h7.3m17.1 0h3.8m20.6 0h3.8m6.6 0h3.8m13.6 0h3.8m24.1 0h3.5M12.3 540.7h3.9m10.3 0h3.9m6.8 0h7.4m17.5 0h3.8m12.9 0h3.8m17.1 0h3.8m3.2 0h10.7m31.1 0h3.8m13.6 0h10.7m10.2 0h7.3M23 542.0h3.8m6.8 0h3.9m10.4 0h3.8m3.3 0h3.8m110.6 0h7.2m13.7 0h3.8M23 543.4h3.8m21.1 0h3.8m17.5 0h3.8m12.8 0h3.8m6.6 0h14.3m24 0h3.8m20.6 0h3.8m3.2 0h3.8m17.1 0h7.3m3.1 0h3.8M131.1 544.8h3.7m38.1 0h3.7M26.5 546.1h3.9m24.6 0h3.8m58.3 0h3.8m6.7 0h3.8m13.6 0h7.3m10.1 0h10.8m24 0h3.8M30.1 547.5h3.8m118.1 0h10.7m10.2 0h3.7m13.7 0h3.8M23 548.8h3.8m111.2 0h3.8m3.2 0h3.8m17.1 0h7.3m13.6 0h3.8m6.6 0h3.8m3.2 0h3.5M152 550.2h3.7m6.7 0h3.8M113.6 551.5h3.8m13.7 0h3.7m20.6 0h3.8m6.7 0h7.3m3.1 0h3.8m10.2 0h3.8m3.1 0h3.8M158.9 554.3h3.8m3.2 0h3.8M190.3 557.0h3.8m6.6 0h7M152 558.3h3.7M165.9 559.7h3.8m17.1 0h3.8m6.6 0h3.8"/><path stroke="#f2e9f4" d="M176.3 480.9h10.8m3.2 0h3.8M183.3 482.2h3.8M44.3 483.6h3.9M176.3 490.4h3.8M44.3 491.8h3.9m10.3 0h3.9m26.9 0h7.2m38 0h10.8m3.2 0h3.8m6.6 0h10.8m6.6 0h7.3m3.2 0h3.8m13.6 0h3.5M23 493.1h7.4m6.8 0h3.8m3.3 0h3.9m21 0h3.8M30.1 494.5h3.8m38.8 0h3.6M12.3 495.8h3.9m6.8 0h3.8m10.4 0h3.8m10.4 0h3.9M12.3 497.2h7.4m10.4 0h3.8m14 0h7.4m13.9 0h3.8m19.7 0h7.3m52 0h3.7m24.1 0h3.8m10.2 0h3.7M131.1 498.6h3.7M96.2 499.9h10.8m6.6 0h7.3m17.1 0h3.8m13.6 0h3.8m3.2 0h7.3m17.1 0h7.3m3.1 0h3.8M12.3 501.3h7.4m6.8 0h7.4m6.8 0h3.9m10.4 0h18m23.2 0h3.8m6.7 0h7.2m3.2 0h7.3m24.1 0h3.8m10.1 0h3.8m3.2 0h10.7m3.2 0h7.3m13.6 0h3.5M12.3 502.6h3.9m6.8 0h7.4m6.8 0h7.4m3.3 0h3.8m3.3 0h3.8m3.3 0h3.8m26.8 0h3.8m10.2 0h10.7m6.7 0h3.8m3.2 0h3.7m3.2 0h3.8m3.2 0h3.8m17.1 0h7.3M110.2 504.0h3.7m3.2 0h3.8m24.1 0h3.8m13.6 0h3.8m34.5 0h3.8M12.3 505.3h3.9m3.2 0h3.9m24.6 0h3.8m27.1 0h3.8m3.2 0h3.8m13.6 0h14.2m6.7 0h3.8m3.2 0h17.7m13.6 0h10.8m6.6 0h3.8m3.2 0h3.8m6.6 0h3.8M30.1 506.7h3.8m97.2 0h3.7m13.7 0h3.8M26.5 508.1h3.9m6.8 0h3.8m3.3 0h3.9m21 0h7.1M106.7 510.8h3.8m13.6 0h3.8m3.2 0h3.7m13.7 0h3.8m13.6 0h3.8m3.2 0h3.7m24.1 0h3.8M15.9 512.1h3.8m13.9 0h7.4m31.7 0h3.6M26.5 513.5h3.9m13.9 0h3.9m13.9 0h3.8M37.2 514.9h3.8m65.7 0h3.8m17.1 0h3.8m24 0h3.8m27.6 0h3.8M19.4 516.2h18.1m10.4 0h3.8m3.3 0h7.4m6.8 0h7.1M82.3 517.6h3.8m93.7 0h3.8M37.2 520.3h3.8M44.3 521.6h3.9m30.6 0h3.8m97.2 0h10.8M15.9 523.0h10.9m3.3 0h3.8m6.8 0h3.9m3.3 0h10.9m10.4 0h3.8m9.3 0h3.8m10.1 0h7.3m3.2 0h3.8m10.1 0h10.8m10.1 0h3.8m6.7 0h3.7m6.7 0h3.8m3.2 0h3.8m3.1 0h3.8m6.7 0h7.3m3.1 0h3.8M78.8 524.4h3.8m3.2 0h3.8m38 0h3.8m41.5 0h3.7m3.2 0h7.3M15.9 525.7h7.4m24.6 0h3.8m17.5 0h3.8M44.3 527.1h3.9m21 0h3.8m5.8 0h3.8m3.2 0h3.8m3.1 0h3.8m3.2 0h7.3m13.6 0h10.8m3.1 0h3.8m3.2 0h3.8m10.1 0h7.3m6.7 0h3.8m17.1 0h3.8M158.9 528.4h3.8m31.1 0h3.7M62.1 529.8h3.8m16.4 0h3.8m6.6 0h7.3m27.6 0h3.8m13.6 0h3.8m3.2 0h3.7m3.2 0h3.8m10.2 0h10.7m3.2 0h3.8m3.2 0h3.7m3.2 0h7M26.5 531.2h11m13.9 0h3.9m3.2 0h3.9m3.2 0h3.9m3.2 0h3.6m2.5 0h3.8m6.7 0h3.7m10.2 0h3.8m17.1 0h3.8m6.6 0h7.3m10.2 0h3.7m13.7 0h3.8m6.6 0h3.8m10.2 0h3.7M12.3 532.5h3.9m3.2 0h7.4m3.3 0h3.8m17.5 0h3.9m6.8 0h3.8m6.8 0h3.6m2.5 0h3.8m10.1 0h7.3m3.2 0h3.8m3.2 0h3.7m3.2 0h10.8m6.6 0h3.8m20.6 0h3.8m3.2 0h7.3m3.1 0h3.8m3.2 0h7.3M30.1 533.9h3.8m3.3 0h3.8m24.6 0h3.9m9.3 0h3.8m13.6 0h3.8m10.2 0h3.7m6.7 0h3.8m17.1 0h7.3m20.6 0h17.7M12.3 535.2h3.9m6.8 0h7.4m38.8 0h3.8m9.3 0h3.8m3.2 0h7.2m3.2 0h3.8m10.1 0h3.8m6.7 0h7.3m6.6 0h7.3m34.5 0h7.3m6.7 0h3.7M19.4 536.6h11m3.2 0h3.9m13.9 0h3.9m17.4 0h3.6m6 0h3.8m6.6 0h3.8m24.1 0h10.8m10.1 0h3.8M12.3 538.0h7.4m10.4 0h3.8m17.5 0h3.9m3.2 0h3.9m47.8 0h3.7m20.6 0h3.8m38 0h3.8m3.2 0h3.8m3.2 0h3.8M37.2 539.3h3.8m41.3 0h3.8m3.2 0h3.7m17.2 0h3.7m3.2 0h7.3m6.7 0h3.7m17.2 0h7.2m6.7 0h3.8m10.1 0h10.8M15.9 540.7h3.8m3.3 0h3.8m3.3 0h3.8m17.5 0h3.9m3.2 0h3.9m6.8 0h3.8m12.8 0h3.8m6.6 0h3.8m76.3 0h7.3m10.2 0h3.7M12.3 542.0h3.9m24.5 0h7.5m17.4 0h3.9m3.2 0h3.6m26.9 0h7.3m20.6 0h3.7m13.7 0h10.7m6.7 0h3.8m17.1 0h3.8m6.6 0h10.5M12.3 543.4h7.4m6.8 0h3.9m3.2 0h3.9m13.9 0h3.9m10.3 0h3.9m3.2 0h3.6m13 0h3.7m31.1 0h3.8m13.6 0h7.3m3.2 0h7.2m10.2 0h3.8m3.1 0h3.8m13.7 0h3.7M15.9 544.8h7.4m31.7 0h3.8m93.2 0h3.7m10.2 0h7.3m17.1 0h3.8m10.1 0h3.5M15.9 546.1h10.9m6.8 0h3.9m31.7 0h3.8m40.6 0h3.8m13.7 0h3.7m24.1 0h3.8m20.6 0h7.3M15.9 547.5h7.4m13.9 0h3.8m24.6 0h3.9m3.2 0h3.6m37.3 0h3.8m13.7 0h3.7m10.2 0h3.8m38 0h3.8m3.2 0h10.7M12.3 548.8h3.9m31.7 0h3.8m82.8 0h3.8m10.2 0h7.2m3.2 0h7.3m24.1 0h3.8M65.6 550.2h3.9m51.1 0h3.8m13.6 0h3.8m24.1 0h3.8m17.1 0h3.8m3.2 0h10.7M19.4 551.5h3.9m55.5 0h3.8m27.6 0h3.7m20.6 0h3.8m6.7 0h10.7m3.2 0h3.8m31.1 0h3.7M15.9 552.9h3.8m142.7 0h3.8M152 554.3h3.7m17.2 0h3.7m13.7 0h3.8m10.1 0h3.5M33.6 555.6h3.9M51.4 557.0h3.9m47.9 0h3.8m45 0h3.7m10.2 0h7.3m13.6 0h3.8M15.9 558.3h3.8m142.7 0h3.8m34.5 0h3.8M55 559.7h3.8m72.3 0h3.7m10.2 0h3.8M110.2 561.1h3.7m31.1 0h3.8m17.1 0h7.3m27.5 0h3.8M162.4 563.8h3.8M145 565.1h3.8m55.4 0h3.5M110.2 571.9h3.7M197.2 586.9h3.8M58.5 593.7h3.9"/><path stroke="#ebdff1" d="M193.8 480.9h3.7M179.8 490.4h7.3M96.2 491.8h3.8m83.3 0h3.8m6.7 0h3.7M26.5 495.8h3.9M37.2 497.2h3.8m3.3 0h3.9M110.2 498.6h3.7m24.1 0h3.8m20.6 0h7.3m3.2 0h3.7M85.8 499.9h10.7m10.2 0h7.2m6.7 0h7.3m6.6 0h3.8m3.2 0h14.2m3.2 0h3.8m10.2 0h3.7m6.7 0h3.8m13.6 0h3.8M23 501.3h3.8m17.5 0h3.9m30.6 0h3.8m3.2 0h3.8m3.1 0h3.8m3.2 0h3.8m10.1 0h3.8m6.7 0h7.3m3.1 0h3.8m6.7 0h3.8m3.2 0h3.7m10.2 0h3.8m20.6 0h7.2M33.6 502.6h3.9m6.8 0h3.9m3.2 0h3.9m17.4 0h3.6m2.5 0h14.2m24.1 0h7.3m10.1 0h3.8m24.1 0h3.8m17.1 0h10.8m3.1 0h10.5M19.4 504.0h7.4m3.3 0h7.4m10.4 0h3.8m37.6 0h3.7m3.2 0h3.8m3.2 0h7.3m3.1 0h3.8m6.7 0h14.2m3.2 0h3.8m24.1 0h7.2m13.7 0h3.8M15.9 505.3h3.8m6.8 0h3.9m3.2 0h3.9m13.9 0h3.9m10.3 0h7.4m9.3 0h3.8m3.2 0h3.7m3.2 0h7.3m13.6 0h7.3m24.1 0h7.2m17.2 0h3.7m24.1 0h7M103.2 506.7h3.8m10.1 0h3.8m41.5 0h3.8M62.1 508.1h3.8M12.3 509.4h3.9M47.9 510.8h3.8m27.1 0h3.8m3.2 0h3.8m6.6 0h3.8m3.2 0h3.8m3.2 0h3.7m6.7 0h3.8m10.1 0h14.3m13.6 0h3.8m3.2 0h3.8m3.1 0h7.3m3.2 0h7.3m10.1 0h3.5M19.4 512.1h3.9m86.9 0h3.7M110.2 513.5h3.7M179.8 514.9h3.8M12.3 516.2h3.9m24.5 0h7.5m3.2 0h3.9m6.8 0h7.4M193.8 517.6h3.7M26.5 523.0h3.9m6.8 0h3.8m3.3 0h3.9m13.9 0h3.8m89.5 0h3.8m24.1 0h3.8m6.7 0h3.7m3.2 0h7M92.7 524.4h3.8M12.3 525.7h3.9m13.9 0h7.4m3.2 0h3.9m6.8 0h3.9m3.2 0h11M176.3 527.1h14.3m3.2 0h3.7m6.7 0h3.5M127.6 528.4h3.8M78.8 529.8h3.8m20.6 0h3.8m34.5 0h3.8m3.2 0h3.8m3.1 0h3.8m24.1 0h3.8m3.2 0h3.8M23 531.2h3.8m10.4 0h3.8m3.3 0h3.9m34.1 0h7.3m31 0h3.8m3.2 0h3.8m17.1 0h3.8m6.6 0h3.8m3.2 0h3.8m20.6 0h3.8M37.2 532.5h3.8m3.3 0h3.9m6.8 0h3.8m23.5 0h3.8m3.2 0h3.7m34.6 0h3.8m10.1 0h3.8m6.7 0h3.7m6.7 0h3.8m13.6 0h3.8m10.2 0h3.7M12.3 533.9h3.9m24.5 0h7.5m3.2 0h3.9m13.9 0h3.8m30.2 0h3.8m79.8 0h3.8M37.2 535.2h3.8m3.3 0h3.9m3.2 0h3.9m79.2 0h3.8M37.2 536.6h3.8m3.3 0h3.9m6.8 0h3.8m3.3 0h3.8m12.9 0h3.8m13.6 0h3.8m6.7 0h3.8m58.9 0h3.8m10.1 0h3.8M33.6 538.0h7.4m3.3 0h3.9m13.9 0h7.4m12.8 0h7.3m24 0h3.8m3.2 0h3.8m34.5 0h17.7m10.2 0h3.8M12.3 539.3h3.9m3.2 0h3.9m3.2 0h3.9m3.2 0h3.9m3.2 0h3.9m6.8 0h11m6.8 0h3.8m5.8 0h3.8m3.2 0h3.8m6.6 0h3.8m6.7 0h3.8m3.1 0h3.8m10.2 0h3.8m3.1 0h10.8M33.6 540.7h3.9m10.4 0h3.8m3.3 0h3.8m23.5 0h3.8m3.2 0h3.7m10.2 0h3.8m13.6 0h3.8m3.2 0h3.8m10.1 0h3.8M15.9 542.0h3.8m69.6 0h3.7m17.2 0h17.7m10.1 0h3.8m17.1 0h3.8m31.1 0h3.7M19.4 543.4h3.9m6.8 0h3.8m3.3 0h3.8m3.3 0h3.9m6.8 0h3.8m3.3 0h3.8m44.3 0h7.2m3.2 0h3.8m48.5 0h3.7m3.2 0h7.3M12.3 544.8h3.9m13.9 0h3.8m3.3 0h3.8m10.4 0h3.9m3.2 0h3.9m10.3 0h3.6m9.5 0h7.2m3.2 0h3.8m6.7 0h3.8m6.6 0h3.8m3.2 0h3.8m10.1 0h3.8m6.7 0h3.8m34.5 0h3.8M12.3 546.1h3.9m13.9 0h3.8m14 0h7.4m3.2 0h3.9m3.2 0h3.9m9.3 0h3.8m10.1 0h7.3m6.7 0h7.2m6.7 0h3.8m10.1 0h7.3m10.2 0h7.2m13.7 0h10.7m10.2 0h3.7m3.2 0h3.8M12.3 547.5h3.9m6.8 0h7.4m3.2 0h3.9m3.2 0h3.9m3.3 0h3.8m3.3 0h3.8m10.4 0h3.8m12.8 0h3.8m3.1 0h3.8m10.2 0h7.2m3.2 0h14.3m3.1 0h3.8m41.5 0h7.3m17.1 0h3.5M15.9 548.8h7.4m3.2 0h14.5m10.4 0h7.4m6.8 0h3.9m16.3 0h3.8m13.6 0h3.8m17.1 0h7.3m44.9 0h10.8m13.6 0h3.8M47.9 550.2h3.8m3.3 0h3.8m40.9 0h3.8m6.7 0h3.7m34.6 0h3.8m6.6 0h3.8m6.7 0h3.8m3.1 0h7.3m6.7 0h3.8m10.1 0h3.5M33.6 551.5h3.9m3.2 0h3.9m3.3 0h3.8m6.8 0h3.9m6.8 0h3.8m9.3 0h3.8m3.2 0h3.7m6.7 0h3.8m3.2 0h3.8m6.6 0h3.8m17.1 0h3.8m38 0h3.8m3.2 0h3.8M19.4 552.9h3.9m42.3 0h7.4m5.8 0h7.3m27.5 0h3.8m13.7 0h3.7m13.7 0h3.8m13.6 0h3.8m3.2 0h3.7m3.2 0h3.8m13.6 0h10.5M23 554.3h3.8m21.1 0h3.8m61.9 0h7.3m10.2 0h3.7m10.2 0h3.8m6.6 0h3.8m17.1 0h3.8m20.6 0h3.8M12.3 555.6h11m24.6 0h3.8m6.8 0h3.9m3.2 0h3.9m75.5 0h3.8m20.6 0h7.2M69.2 557.0h3.8m9.3 0h3.8m3.2 0h3.7m13.7 0h3.8m13.6 0h3.8m3.2 0h3.7m3.2 0h3.8m20.6 0h3.8m10.1 0h10.8m10.1 0h3.8M55 558.3h3.8m51.4 0h3.7m24.1 0h3.8m6.7 0h3.8m13.6 0h3.8m13.6 0h3.8M47.9 559.7h3.8m17.5 0h3.8m9.3 0h3.8m3.2 0h3.7m10.2 0h3.8m3.2 0h3.7m10.2 0h3.8m20.6 0h7.2m13.7 0h7.2m3.2 0h3.8m10.2 0h3.7m3.2 0h3.8M96.2 561.1h3.8m48.5 0h3.8m6.6 0h7.3m6.7 0h3.7m3.2 0h3.8m6.7 0h10.7M62.1 562.4h3.8m82.6 0h3.8m10.1 0h3.8m3.2 0h3.8m24 0h3.8M131.1 563.8h3.7m13.7 0h3.8m13.6 0h3.8M176.3 565.1h3.8M131.1 582.8h3.7M40.7 585.5h3.9M62.1 586.9h3.8m93 0h3.8M92.7 590.9h3.8M47.9 593.7h3.8M62.1 595.0h3.8M47.9 601.8h3.8M19.4 604.5h3.9M106.7 607.3h7.2M15.9 629.0h3.8M62.1 633.1h3.8M19.4 637.1h3.9M65.6 638.5h3.9"/><path stroke="#dccbea" d="M96.2 498.6h3.8m3.2 0h7.3m13.6 0h3.8m17.1 0h7.3m6.6 0h3.8m13.6 0h3.8m3.2 0h3.8m3.2 0h3.8m3.1 0h3.8M155.4 502.6h3.8M12.3 504.0h3.9m10.3 0h3.9m21 0h3.9m3.2 0h3.9m19.9 0h3.8m13.6 0h3.8m48.5 0h3.7m24.1 0h7.3m6.7 0h3.7M44.3 505.3h3.9m10.3 0h3.9M78.8 506.7h7.3m24.1 0h7.2m3.2 0h3.8m3.2 0h3.8m10.1 0h7.3m6.6 0h7.3m10.2 0h3.7m6.7 0h14.2M78.8 508.1h3.8m3.2 0h3.8m3.1 0h10.8m3.2 0h14.2m3.2 0h3.8m10.1 0h3.8m10.2 0h7.2m13.7 0h3.7m3.2 0h3.8m17.1 0h7M26.5 509.4h3.9m3.2 0h3.9m6.8 0h3.9m6.8 0h7.4m110.5 0h3.7M15.9 510.8h7.4m17.4 0h3.9m10.4 0h3.8m6.8 0h7.4M85.8 512.1h3.8m10.1 0h7.3m6.6 0h3.8m3.2 0h7.3m10.1 0h3.8m3.2 0h3.8m10.1 0h3.8m3.2 0h3.8m6.6 0h3.8m10.2 0h3.8m3.1 0h3.8M89.3 513.5h3.7m10.2 0h7.3m10.1 0h3.8m6.7 0h3.7m3.2 0h14.3m10.1 0h7.3m3.2 0h3.7m10.2 0h3.8M183.3 531.2h3.8M72.7 535.2h3.6M23 538.0h3.8m28.2 0h3.8m13.9 0h3.6m16.4 0h3.8m3.2 0h3.8m3.2 0h3.8m17.1 0h3.8m6.6 0h7.3m34.5 0h3.8M58.5 542.0h3.9m16.4 0h3.8m45 0h3.8M26.5 544.8h3.9m10.3 0h3.9m17.5 0h7.4m33.7 0h3.8m6.6 0h3.8m10.2 0h3.8m3.1 0h3.8m3.2 0h3.8m34.5 0h3.8M37.2 546.1h3.8m3.3 0h3.9m34.1 0h3.8M82.3 547.5h3.8m10.1 0h3.8m38 0h7.3m31 0h3.8M44.3 548.8h3.9m24.5 0h3.6m2.5 0h3.8m6.7 0h14.2m6.7 0h3.7m3.2 0h3.8m52 0h3.7M23 550.2h3.8m3.3 0h3.8m3.3 0h3.8m37.8 0h7.3m3.2 0h3.7m20.6 0h7.3m3.2 0h3.8m13.6 0h3.8m10.1 0h3.8M37.2 551.5h3.8m10.4 0h3.9m65.3 0h7.3M12.3 552.9h3.9m6.8 0h3.8m35.3 0h3.8m19.9 0h3.8m17.1 0h7.2m6.7 0h3.8m3.2 0h3.8m24 0h7.3m27.6 0h3.8M15.9 554.3h7.4m3.2 0h3.9m3.2 0h3.9m17.5 0h7.4m3.2 0h3.9m9.3 0h7.3m10.1 0h7.3m3.2 0h3.8m13.6 0h7.3m6.6 0h3.8m38 0h7.3M30.1 555.6h3.8m6.8 0h3.9m6.8 0h3.9m6.8 0h3.8m6.8 0h3.6m2.5 0h3.8m3.2 0h3.8m17.1 0h3.8m24 0h3.8m13.7 0h7.2m6.7 0h3.8m24.1 0h3.7M19.4 557.0h7.4m10.4 0h7.4m3.3 0h3.8m13.9 0h3.9m3.2 0h3.6m9.5 0h3.8m20.6 0h3.7m3.2 0h7.3m3.2 0h3.8m3.1 0h3.8m3.2 0h3.8m3.2 0h3.8m6.6 0h3.8m10.2 0h3.7M12.3 558.3h3.9m13.9 0h3.8m3.3 0h3.8m3.3 0h7.4m6.8 0h11m16.3 0h7.2m13.7 0h3.8m6.6 0h3.8m10.2 0h7.2m3.2 0h3.8m13.6 0h3.8m6.7 0h7.2m3.2 0h3.8m3.2 0h14.2M12.3 559.7h3.9m3.2 0h14.5m3.3 0h3.8m3.3 0h3.9m17.4 0h3.9m3.2 0h3.6m19.9 0h7.3m10.1 0h7.3m6.7 0h3.8m3.1 0h3.8m3.2 0h3.8m31 0h3.8m10.2 0h3.8M15.9 561.1h3.8m17.5 0h3.8m6.9 0h10.9m10.4 0h7.1m16.4 0h3.8m3.2 0h3.8m10.1 0h3.8m3.2 0h3.8m10.1 0h7.3M15.9 562.4h3.8m10.4 0h3.8m3.3 0h3.8m6.9 0h3.8m3.3 0h7.4m6.8 0h3.8m23.2 0h3.8m20.6 0h7.3m6.6 0h3.8m13.7 0h7.2m20.6 0h3.8m6.7 0h3.8m10.1 0h3.5M23 563.8h3.8m13.9 0h3.9m6.8 0h3.9m30.5 0h3.8m6.6 0h3.8m6.7 0h10.7m10.2 0h3.8m6.6 0h3.8m38 0h3.8m3.2 0h7.3m3.1 0h10.5M15.9 565.1h7.4m13.9 0h7.4m3.3 0h3.8m10.4 0h3.8m16.4 0h7.3m27.5 0h3.8m27.6 0h3.8m3.1 0h3.8m6.7 0h3.8m3.2 0h3.7m6.7 0h10.8M15.9 566.5h3.8m66.1 0h3.8m6.6 0h7.3m6.7 0h3.7m3.2 0h3.8m10.2 0h3.7m20.6 0h3.8m13.7 0h3.7m10.2 0h3.8m6.6 0h7.3M23 567.9h7.4m10.3 0h3.9m3.3 0h3.8m10.4 0h7.4m16.3 0h3.8m6.6 0h3.8m6.7 0h7.2m20.6 0h3.8m17.1 0h3.8m6.7 0h3.8M15.9 569.2h3.8m28.2 0h7.4m58.3 0h3.8m6.7 0h3.8m6.6 0h3.8M19.4 570.6h3.9m45.9 0h3.8m5.8 0h3.8m13.6 0h3.8m6.7 0h10.7m13.7 0h3.7m62.4 0h3.8M85.8 571.9h3.8m10.1 0h3.8m3.2 0h3.8m17.1 0h3.8m3.1 0h3.8m31.1 0h3.8m6.6 0h3.8m20.6 0h3.5M12.3 573.3h3.9m13.9 0h3.8m6.8 0h3.9m21 0h7.4m16.3 0h3.7m10.2 0h3.8m3.2 0h10.7m17.1 0h3.8m34.5 0h3.8m24.1 0h3.5M37.2 574.6h3.8m21.1 0h3.8m3.3 0h3.8m12.8 0h3.8m41.5 0h3.7m62.4 0h3.8M12.3 576.0h7.4m38.8 0h11m40.7 0h3.7m17.2 0h7.2M12.3 578.7h11m10.3 0h3.9m3.2 0h3.9m3.3 0h7.4m3.2 0h3.9m3.2 0h3.9m3.2 0h3.6M19.4 580.1h3.9M12.3 581.4h7.4m13.9 0h3.9m17.5 0h7.4m19.9 0h10.7m24.1 0h3.8m3.2 0h3.8m6.6 0h7.3m27.6 0h3.8m17.1 0h3.8m6.6 0h7M15.9 582.8h10.9m6.8 0h3.9m10.4 0h3.8m6.8 0h3.9m44.3 0h3.8m38 0h3.8m10.1 0h3.8m31 0h7.3M19.4 584.2h11m3.2 0h3.9m31.7 0h3.8m12.8 0h3.8m10.1 0h3.8m6.7 0h3.7m3.2 0h7.3m31 0h3.8m13.7 0h3.7m13.7 0h3.8m6.6 0h3.8M26.5 585.5h11m10.4 0h3.8m3.3 0h3.8m6.8 0h7.4m33.7 0h10.7m24.1 0h3.8m3.2 0h7.2m6.7 0h7.3M19.4 586.9h3.9m10.3 0h3.9m17.5 0h3.8m27 0h10.7m10.2 0h7.2m3.2 0h3.8m10.2 0h3.7m27.6 0h3.8m6.7 0h3.7m3.2 0h3.8m3.2 0h3.8M30.1 588.2h3.8m6.8 0h3.9m3.3 0h3.8m17.5 0h7.1m96.6 0h3.7M78.8 590.9h3.8m6.7 0h3.7m20.6 0h3.8m3.2 0h10.8m3.1 0h3.8m24.1 0h3.8M12.3 592.3h11m24.6 0h3.8m6.8 0h3.9m3.2 0h7.4m12.8 0h3.8m6.6 0h3.8m17.1 0h3.8m3.2 0h3.8m3.2 0h3.7m38.1 0h3.7M12.3 593.7h3.9m6.8 0h7.4m10.3 0h3.9m6.8 0h7.4m3.3 0h7.4m3.2 0h3.6m33.9 0h7.2m13.7 0h3.7m10.2 0h3.8m34.5 0h7.3M33.6 595.0h3.9m31.7 0h3.8m30.2 0h3.8m31 0h3.8m10.2 0h3.7m45 0h3.8M12.3 596.4h3.9m31.7 0h3.8m6.8 0h3.9m3.2 0h3.9m26.7 0h10.8m13.6 0h7.3m3.2 0h3.7m3.2 0h3.8m3.2 0h3.8m13.6 0h3.8m6.7 0h7.2m10.2 0h7.2M85.8 597.7h3.8m13.6 0h3.8m31 0h3.8M92.7 599.1h3.8m27.6 0h3.8m6.6 0h3.8m17.1 0h3.8m6.7 0h3.8m27.5 0h7.3M47.9 600.5h7.4m3.2 0h3.9M26.5 601.8h3.9m3.2 0h3.9m128.4 0h3.8M72.7 603.2h3.6M33.6 604.5h3.9m48.3 0h3.8m107.6 0h3.8M12.3 605.9h14.5m6.8 0h3.9m28.1 0h7.4m37.2 0h3.7m41.5 0h3.8M12.3 607.3h7.4m13.9 0h3.9m21 0h7.4m6.8 0h3.6m2.5 0h7.3m6.6 0h3.8m3.2 0h3.8m10.1 0h7.3m3.2 0h7.3m31 0h7.3m3.2 0h3.7m24.1 0h3.8M65.6 608.6h3.9m47.6 0h3.8m10.2 0h3.7m20.6 0h3.8M12.3 610.0h3.9m42.3 0h7.4m68.6 0h3.8M33.6 611.3h3.9m76.1 0h3.8M12.3 614.0h3.9m6.8 0h3.8m10.4 0h3.8m3.3 0h7.4m3.3 0h3.8m54.8 0h3.8M37.2 615.4h3.8m14 0h3.8m79.2 0h3.8M15.9 616.8h3.8m73 0h3.8m3.2 0h7.3m10.1 0h3.8m34.5 0h3.8m3.2 0h3.8m10.1 0h3.8m17.1 0h7.3M89.3 618.1h3.7M12.3 619.5h3.9m3.2 0h7.4m3.3 0h10.9m24.6 0h7.4m16.3 0h10.7m3.2 0h3.8m3.2 0h3.7m24.1 0h3.8m3.2 0h10.7m3.2 0h7.3m24.1 0h3.8m3.1 0h3.8M33.6 622.2h3.9M113.6 623.6h3.8m6.7 0h3.8m3.2 0h3.7m10.2 0h3.8m31 0h3.8M69.2 624.9h3.8M19.4 626.3h3.9m10.3 0h3.9M26.5 627.6h3.9m21 0h3.9m10.3 0h3.9m12.8 0h3.8m10.1 0h3.8m24.1 0h3.8m6.6 0h3.8m10.2 0h3.8m3.1 0h10.8m3.2 0h10.7m17.1 0h10.5M12.3 629.0h3.9m38.8 0h3.8M19.4 630.4h3.9m10.3 0h11m6.8 0h7.4m13.9 0h3.6m40.8 0h3.8M55 631.7h3.8m10.4 0h3.8m12.8 0h3.8m41.5 0h3.7m3.2 0h3.8m24.1 0h3.8M15.9 633.1h3.8m28.2 0h3.8M19.4 634.4h3.9m3.2 0h3.9m17.5 0h3.8m3.3 0h3.8m3.3 0h3.8m86.1 0h3.7M15.9 635.8h3.8m21 0h3.9m10.4 0h7.4m33.8 0h3.8m10.2 0h3.7m20.6 0h3.8M12.3 637.1h3.9m17.4 0h11m3.3 0h7.4m6.8 0h7.4m3.2 0h3.6m54.8 0h3.7m31.1 0h3.8m27.5 0h3.8M15.9 638.5h3.8m10.4 0h3.8m21.1 0h3.8m44.4 0h3.8M103.2 639.9h3.8m58.9 0h3.8M165.9 641.2h3.8M30.1 642.6h3.8m14 0h3.8m65.4 0h3.8M15.9 643.9h3.8M55 645.3h3.8M12.3 646.7h3.9m6.8 0h3.8m3.3 0h7.4m3.2 0h3.9m3.3 0h7.4m75.8 0h3.7m10.2 0h3.8M15.9 648.0h7.4m42.3 0h10.7M162.4 649.4h3.8M12.3 652.1h3.9M145 654.8h3.8M15.9 661.6h3.8M19.4 664.3h3.9"/><path stroke="#e3d5ee" d="M82.3 498.6h14.2m3.2 0h3.8m10.1 0h10.8m3.2 0h3.8m3.1 0h3.8m3.2 0h3.8m6.7 0h3.7m13.7 0h3.8m6.6 0h3.8m3.2 0h3.8m3.2 0h3.7m3.2 0h7M78.8 499.9h7.3m41.5 0h7.2m34.6 0h3.8m3.1 0h7.3m10.2 0h3.7m6.7 0h3.5M82.3 501.3h3.8m3.2 0h3.7m48.5 0h3.8m10.1 0h7.3m17.1 0h3.8M96.2 502.6h10.8m20.6 0h3.8m10.1 0h3.8m3.2 0h7.2m3.2 0h3.8m10.2 0h10.7m10.2 0h3.7M15.9 504.0h3.8m17.5 0h11m6.8 0h3.8m3.3 0h14.2m2.5 0h3.8m3.2 0h3.8m3.1 0h3.8m24.1 0h3.8m13.6 0h3.8m6.7 0h3.8m3.1 0h7.3m13.6 0h3.8m6.7 0h3.8m6.6 0h3.8m3.2 0h3.5M23 505.3h3.8m3.3 0h3.8m3.3 0h7.4m10.4 0h3.8m3.3 0h3.8m6.8 0h3.6m16.4 0h3.8m31.1 0h3.8m24 0h7.3m13.6 0h3.8m3.2 0h3.8m3.2 0h7.2M85.8 506.7h17.7m3.2 0h3.8m13.6 0h3.8m6.6 0h7.3m10.2 0h3.7m10.2 0h3.8m6.6 0h7.3m13.6 0h10.5M120.6 508.1h3.8m6.7 0h7.2m3.2 0h3.8m3.2 0h3.8m10.1 0h10.8M15.9 509.4h10.9m3.3 0h3.8m3.3 0h7.4m3.3 0h3.8m10.4 0h10.9M82.3 510.8h3.8m3.2 0h7.2m3.2 0h3.8m10.1 0h7.3m6.7 0h3.8m20.6 0h10.7m20.6 0h3.8m6.7 0h3.7M44.3 512.1h3.9m58.5 0h3.8m6.6 0h3.8m10.2 0h7.2m24.1 0h3.8M96.2 513.5h3.8m13.6 0h3.8m52 0h3.8M89.3 523.0h3.7m86.8 0h3.8M23 525.7h7.4m13.9 0h3.9m6.8 0h3.8m13.9 0h3.6M186.8 531.2h3.8M40.7 532.5h3.9m110.8 0h3.8M200.7 533.9h3.8M30.1 535.2h3.8m86.7 0h3.8M30.1 536.6h3.8m65.8 0h3.8M19.4 538.0h3.9m3.2 0h3.9m38.8 0h3.8m16.3 0h3.7m10.2 0h3.8m10.1 0h3.8m3.2 0h3.8m3.2 0h3.7m17.2 0h7.2m34.6 0h3.7m3.2 0h3.8M15.9 539.3h3.8m3.3 0h3.8m3.3 0h3.8m10.4 0h7.4m10.4 0h7.4m3.2 0h3.6M44.3 540.7h3.9m44.5 0h3.8m38 0h3.8M82.3 542.0h7.3m3.1 0h10.8m31 0h3.8m3.2 0h3.8m31 0h7.3M58.5 543.4h3.9m16.4 0h7.3m6.6 0h3.8m20.6 0h3.8m6.7 0h7.2M23 544.8h3.8m6.8 0h3.9m6.8 0h7.4m17.5 0h3.8m9.3 0h3.8m6.6 0h3.8m3.2 0h3.8m6.7 0h3.7m6.7 0h3.8m34.5 0h3.8m20.6 0h3.8m6.7 0h10.7M40.7 546.1h3.9m17.5 0h3.8m6.8 0h3.6m9.5 0h7.2m6.7 0h7.3m17.1 0h3.8m13.6 0h3.8M44.3 547.5h3.9m3.2 0h3.9m3.2 0h7.4m12.9 0h3.8m6.7 0h3.7m6.7 0h7.3m41.5 0h3.8m17.1 0h3.8M40.7 548.8h3.9m13.9 0h7.4m3.3 0h3.8m33.7 0h3.8m3.1 0h3.8m13.7 0h3.7m59 0h3.7M15.9 550.2h7.4m3.2 0h3.9m3.2 0h3.9m3.2 0h7.5m3.2 0h3.9m3.2 0h7.4m3.3 0h7.1m19.9 0h3.8m31.1 0h7.2m6.7 0h3.8m24.1 0h3.7m6.7 0h3.8M12.3 551.5h7.4m3.3 0h10.9m21.1 0h3.8m3.3 0h7.4m3.2 0h3.6m9.5 0h3.8m6.6 0h3.8m3.2 0h3.8m20.6 0h3.8m10.1 0h3.8m38 0h3.8M30.1 552.9h3.8m3.3 0h3.8m3.3 0h3.9m3.2 0h7.4m86.2 0h3.8m3.2 0h3.7m13.7 0h3.8m3.1 0h3.8m6.7 0h3.8m3.2 0h3.7M37.2 554.3h7.4m17.5 0h3.8m3.3 0h7.1m9.5 0h10.7m13.7 0h3.7m6.7 0h3.8m10.1 0h3.8m10.2 0h3.8m17.1 0h3.8m13.6 0h3.8m3.2 0h7.2M23 555.6h7.4m13.9 0h3.9m6.8 0h3.8m10.4 0h3.8m75.5 0h3.8m10.1 0h3.8m34.5 0h7M12.3 557.0h3.9m17.4 0h3.9m55.2 0h7.3m45 0h3.8m6.6 0h3.8m34.6 0h3.7M19.4 558.3h3.9m3.2 0h3.9m3.2 0h3.9m3.2 0h3.9m58.6 0h3.8m6.6 0h3.8m3.2 0h10.8m13.6 0h3.8m6.6 0h3.8m17.1 0h3.8m24.1 0h3.5M15.9 559.7h3.8m13.9 0h3.9m3.2 0h3.9m6.8 0h3.9m3.2 0h7.4m12.9 0h3.8m3.2 0h3.8m17.1 0h3.8m10.1 0h3.8m13.6 0h3.8m13.6 0h7.3m20.6 0h3.8M78.8 561.1h3.8m3.2 0h7.2m13.7 0h3.8m6.6 0h3.8m3.2 0h3.8m24.1 0h3.7m20.6 0h3.8m3.2 0h3.8m17.1 0h3.5M12.3 562.4h3.9m3.2 0h3.9m90.3 0h3.8m48.5 0h3.8m3.2 0h3.7m17.2 0h3.7m3.2 0h3.8M134.5 563.8h3.8m6.7 0h3.8m3.2 0h3.7m3.2 0h3.8m6.7 0h10.7m13.7 0h3.7M23 565.1h3.8m3.3 0h3.8m24.6 0h3.9m6.8 0h3.8m58.1 0h3.7m3.2 0h7.3m6.7 0h3.7m3.2 0h7.3m3.2 0h3.8m6.6 0h3.8m10.2 0h10.7M19.4 566.5h3.9m10.3 0h3.9m65.7 0h3.8m31 0h3.8m27.6 0h3.8M19.4 567.9h3.9m13.9 0h3.8m48.3 0h3.7m104.2 0h3.8M62.1 569.2h3.8m44.3 0h3.7M99.7 570.6h3.8m38 0h3.8M78.8 571.9h3.8m48.5 0h3.7M19.4 573.3h7.4m6.8 0h3.9m10.4 0h3.8M23 574.6h3.8m28.2 0h3.8m54.8 0h3.8M19.4 576.0h3.9m17.4 0h3.9m10.4 0h3.8M23 578.7h3.8m10.4 0h3.8m28.2 0h3.8M23 580.1h3.8m38.8 0h3.9M19.4 581.4h3.9m13.9 0h3.8m6.9 0h3.8m13.9 0h3.9m33.7 0h7.3m10.1 0h3.8m6.7 0h3.7m10.2 0h3.8m3.2 0h3.7m10.2 0h3.8M110.2 582.8h3.7m3.2 0h7.3m41.5 0h3.8M15.9 584.2h3.8m45.9 0h3.9m134.7 0h3.5M85.8 585.5h3.8m41.5 0h3.7m65.9 0h3.8M82.3 586.9h3.8m27.5 0h3.8m3.2 0h3.8M19.4 588.2h3.9m42.3 0h3.9M103.2 590.9h3.8m10.1 0h3.8M33.6 592.3h3.9m100.5 0h3.8m6.7 0h3.8M15.9 593.7h3.8m13.9 0h7.4m28.2 0h3.8m89.4 0h3.8M15.9 596.4h3.8m149.7 0h3.8M138 599.1h3.8M19.4 600.5h3.9m31.7 0h3.8M30.1 601.8h3.8M23 604.5h3.8m90.3 0h3.8M40.7 605.9h3.9m3.3 0h3.8m6.8 0h3.9m10.3 0h3.6M85.8 607.3h3.8m48.4 0h3.8M30.1 608.6h3.8m72.8 0h3.8M72.7 610.0h3.6M19.4 614.0h3.9m100.8 0h3.8m3.2 0h3.7M47.9 615.4h3.8M19.4 616.8h3.9m28.1 0h3.9m54.9 0h3.7M47.9 619.5h3.8m10.4 0h3.8m19.9 0h3.8m41.5 0h3.7m6.7 0h3.8m20.6 0h3.8M47.9 620.8h3.8M26.5 622.2h3.9M33.6 627.6h3.9m93.6 0h3.7M15.9 630.4h3.8m3.3 0h3.8m31.7 0h3.9M15.9 631.7h7.4m13.9 0h3.8m24.6 0h3.9m92.9 0h3.8m27.6 0h3.7M15.9 634.4h3.8m49.5 0h3.8m58.1 0h3.7M162.4 635.8h3.8M15.9 637.1h3.8m24.6 0h3.9m6.8 0h7.4m6.8 0h3.8M40.7 648.0h3.9m6.8 0h11M55 654.8h3.8m72.3 0h3.7"/><path stroke="#d3bfe6" d="M78.8 498.6h3.8m72.8 0h3.8M169.4 506.7h3.8M82.3 508.1h3.8m3.2 0h3.7m10.2 0h3.8m38 0h3.8m10.1 0h3.8m13.6 0h3.8m3.2 0h17.7M51.4 509.4h3.9m17.4 0h3.6m6 0h3.8m10.1 0h3.8m6.7 0h7.2m3.2 0h10.8m17.1 0h3.8m13.6 0h10.8m24 0h3.8m3.2 0h3.5M12.3 510.8h3.9m6.8 0h7.4m3.2 0h7.4m10.4 0h3.9m3.2 0h7.4m6.8 0h3.6M78.8 512.1h7.3m3.2 0h10.7m41.5 0h3.8m3.2 0h7.2m17.2 0h3.7m10.2 0h3.8m10.1 0h7M78.8 513.5h10.8m3.1 0h3.8m3.2 0h3.8m13.6 0h3.8m3.2 0h7.3m3.1 0h3.8m13.7 0h3.7m3.2 0h3.8m27.6 0h3.8m3.1 0h7.3M78.8 538.0h3.8m13.6 0h3.8M183.3 542.0h3.8M78.8 544.8h3.8m72.8 0h3.8M82.3 548.8h3.8m34.5 0h3.8m17.1 0h3.8m10.1 0h3.8M12.3 550.2h3.9m69.6 0h3.8m3.1 0h3.8m6.7 0h3.8m20.6 0h3.8M26.5 552.9h3.9m3.2 0h3.9m3.2 0h3.9m3.3 0h3.8m37.6 0h7.2m3.2 0h7.3m10.1 0h3.8m3.2 0h3.8m10.1 0h7.3m38 0h3.8M12.3 554.3h3.9m13.9 0h3.8m17.5 0h3.9m47.9 0h3.8m34.5 0h3.8M37.2 555.6h3.8m48.3 0h3.7m17.2 0h3.7m3.2 0h3.8m3.2 0h3.8m3.2 0h3.7m3.2 0h3.8m17.1 0h3.8m20.6 0h7.3m6.6 0h3.8M15.9 557.0h3.8m6.8 0h3.9m13.9 0h3.9m6.8 0h7.4m16.4 0h3.8m17.1 0h3.8M23 558.3h3.8m24.6 0h3.9m13.9 0h7.1m2.5 0h3.8m13.6 0h3.8M23 561.1h3.8m38.8 0h3.9m12.8 0h3.8m45 0h3.7m20.6 0h3.8m27.6 0h3.8M33.6 562.4h3.9m3.2 0h3.9m6.8 0h3.9m17.4 0h3.6m2.5 0h3.8m6.7 0h3.7m13.7 0h3.8m6.6 0h3.8m10.2 0h3.7m3.2 0h3.8m3.2 0h3.8m27.5 0h3.8M12.3 563.8h3.9m3.2 0h3.9m6.8 0h7.4m10.4 0h3.8m6.8 0h3.9m6.8 0h3.8m5.8 0h3.8m6.7 0h7.2m3.2 0h7.3m10.1 0h3.8m20.6 0h3.8m10.1 0h3.8m24.1 0h3.8M26.5 565.1h3.9m13.9 0h3.9m6.8 0h3.8m6.8 0h3.9m3.2 0h3.6m16.4 0h7.3m3.2 0h14.2m6.7 0h3.8M26.5 566.5h7.4m6.8 0h3.9m6.8 0h11m3.2 0h3.9m3.2 0h3.6m37.3 0h3.8m6.7 0h7.3m10.1 0h10.8m13.6 0h3.8m6.6 0h3.8m10.2 0h7.2m6.7 0h3.5M12.3 567.9h3.9m17.4 0h3.9m13.9 0h7.4m10.4 0h3.8m19.7 0h3.8m3.2 0h3.8m10.1 0h21.2m3.2 0h7.3m3.2 0h3.8m17.1 0h3.8m10.1 0h3.8m13.6 0h7M19.4 569.2h7.4m28.2 0h3.8m6.8 0h3.9m30.2 0h7.3m10.1 0h3.8m6.7 0h7.2m20.6 0h3.8m3.2 0h3.8M15.9 570.6h3.8m3.3 0h3.8m3.3 0h3.8m21.1 0h3.8m23.5 0h10.7m24.1 0h3.8m3.2 0h3.8m6.6 0h7.3m17.1 0h7.3m6.7 0h3.7M33.6 571.9h3.9m3.2 0h3.9m3.3 0h10.9m3.3 0h7.4m3.2 0h3.6m6 0h3.8m10.1 0h3.8m24.1 0h3.8m10.1 0h3.8m3.2 0h3.8m48.4 0h3.8M15.9 573.3h3.8m6.8 0h3.9m6.8 0h3.8m10.4 0h14.5m12.9 0h3.8m3.2 0h3.8m3.1 0h3.8m3.2 0h3.8m3.2 0h3.8m13.6 0h14.2m20.6 0h14.3m17.1 0h3.8m6.6 0h3.8M12.3 574.6h11m3.2 0h3.9m3.2 0h3.9m3.2 0h3.9m3.3 0h3.8m55 0h3.8m6.6 0h7.3m31 0h3.8M33.6 576.0h7.4m10.4 0h3.9m17.4 0h3.6m6 0h3.8m3.2 0h3.7m20.6 0h10.8m17.1 0h3.8m27.6 0h3.7M37.2 577.4h3.8m41.3 0h3.8m27.5 0h3.8M44.3 578.7h3.9m6.8 0h3.8m3.3 0h3.8m19.9 0h3.8m20.6 0h3.7M12.3 580.1h3.9m10.3 0h3.9m3.2 0h7.4m6.9 0h3.8m3.3 0h3.8m10.4 0h3.8m33.7 0h3.8m27.5 0h3.8M30.1 581.4h3.8m6.8 0h3.9m6.8 0h3.9m13.9 0h7.1m2.5 0h3.8m13.6 0h3.8m10.2 0h3.7m13.7 0h3.8m10.1 0h3.8m3.2 0h3.8m10.1 0h3.8m6.7 0h7.2m13.7 0h7.2M26.5 582.8h3.9m10.3 0h3.9m34.2 0h3.8m6.7 0h7.2m6.7 0h3.8m6.6 0h3.8m6.7 0h7.3m6.6 0h3.8m3.2 0h3.8m3.2 0h10.7m6.7 0h3.8m13.6 0h7.3M12.3 584.2h3.9m13.9 0h3.8m3.3 0h28.7m6.8 0h3.6m13 0h3.7m3.2 0h3.8m6.7 0h3.8m3.1 0h3.8m10.2 0h3.8m17.1 0h3.8m10.1 0h3.8m31 0h3.8M15.9 585.5h3.8m3.3 0h3.8m10.4 0h3.8m3.3 0h3.9m10.3 0h7.4m6.8 0h3.6m13 0h3.7m27.6 0h7.3m17.1 0h3.8m10.1 0h3.8m6.7 0h7.2m10.2 0h3.8m3.2 0h3.7m6.7 0h3.5M15.9 586.9h3.8m3.3 0h10.9m3.3 0h3.8m3.3 0h11m3.2 0h3.9m6.8 0h7.1m2.5 0h3.8m41.5 0h7.3m10.1 0h10.8m13.6 0h7.3m17.1 0h3.8m6.6 0h3.8M12.3 588.2h3.9m10.3 0h3.9m3.2 0h7.4m14 0h3.8m33.9 0h3.8m6.7 0h7.3m51.9 0h3.8m24.1 0h3.8M55 589.6h3.8m13.9 0h3.6m40.8 0h3.8m10.2 0h3.7m13.7 0h3.8m17.1 0h3.8M47.9 590.9h3.8m30.6 0h7.3m6.6 0h7.3m27.6 0h3.7m3.2 0h3.8m3.2 0h3.8m24.1 0h7.2m3.2 0h21.2M23 592.3h10.9m3.3 0h7.4m6.8 0h3.9m6.8 0h3.8m12.9 0h3.8m10.1 0h3.8m10.2 0h7.2m48.5 0h7.3m13.6 0h3.8m3.2 0h3.8m10.1 0h3.5M19.4 593.7h3.9m6.8 0h3.8m48.4 0h3.8m3.2 0h7.2m3.2 0h7.3m10.1 0h7.3m13.6 0h7.3m3.2 0h7.2m3.2 0h3.8m3.2 0h3.8m24.1 0h7.2m3.2 0h3.5M12.3 595.0h3.9m3.2 0h14.5m3.3 0h7.4m3.3 0h7.4m3.2 0h3.9m26.9 0h3.7m24.1 0h3.8M30.1 596.4h3.8m6.8 0h3.9m6.8 0h3.9m27 0h3.8m20.6 0h7.2m3.2 0h3.8m13.6 0h3.8m20.6 0h3.8m24.1 0h3.8m10.1 0h3.8M33.6 597.7h3.9m10.4 0h3.8m6.8 0h3.9m58.2 0h3.8m6.7 0h3.7m27.6 0h3.8M99.7 599.1h3.8m3.2 0h3.8m3.1 0h3.8m3.2 0h3.8m27.6 0h3.7m34.6 0h7.2M12.3 600.5h7.4m3.3 0h3.8m38.8 0h3.9m3.2 0h3.6m26.9 0h3.8m24.1 0h3.7m27.6 0h3.8M15.9 601.8h7.4m13.9 0h7.4m10.4 0h3.8m3.3 0h10.9m40.6 0h3.8m45 0h3.8m3.2 0h3.8m13.6 0h3.8M12.3 603.2h3.9m6.8 0h3.8m3.3 0h3.8m14 0h7.4m51.4 0h3.8m13.6 0h3.8M15.9 604.5h3.8m10.4 0h3.8m10.4 0h7.4m10.4 0h3.8m33.8 0h3.8m20.6 0h3.8m17.1 0h3.8m10.1 0h3.8M26.5 605.9h3.9m6.8 0h3.8m10.4 0h3.9m6.8 0h3.8m26.8 0h3.8m17.1 0h7.3m10.2 0h3.7m10.2 0h7.3m13.6 0h3.8m27.5 0h7.3M26.5 607.3h3.9m6.8 0h3.8m6.9 0h3.8m3.3 0h3.8m10.4 0h3.8m23.2 0h3.8m3.2 0h3.8m13.6 0h3.8m6.7 0h3.7m6.7 0h10.8m24 0h3.8m17.1 0h3.8M12.3 608.6h3.9m6.8 0h3.8m6.8 0h7.4m6.9 0h3.8m3.3 0h10.9m6.8 0h3.6m9.5 0h7.2m3.2 0h3.8m10.2 0h3.7m6.7 0h3.8m38 0h3.8m10.1 0h3.8m6.7 0h7.3m10.1 0h3.5M15.9 610.0h7.4m3.2 0h3.9m10.3 0h3.9m6.8 0h3.9m40.9 0h10.8m6.6 0h3.8m3.2 0h3.8m13.6 0h3.8m24.1 0h3.8M12.3 611.3h18.1m6.8 0h3.8m3.3 0h11m3.2 0h3.9m3.2 0h3.9m3.2 0h3.6m30.4 0h3.8m13.6 0h3.8m34.5 0h7.3m3.2 0h7.2M103.2 612.7h3.8m62.4 0h7.2m10.2 0h3.8M15.9 614.0h3.8m13.9 0h3.9m3.2 0h3.9m6.8 0h3.9m6.8 0h3.8m54.7 0h3.8m10.1 0h3.8m6.7 0h3.8m48.4 0h3.8M15.9 615.4h3.8m6.8 0h3.9m10.3 0h3.9m24.6 0h7.1m13 0h3.7M12.3 616.8h3.9m6.8 0h7.4m6.8 0h7.4m17.5 0h3.8m12.9 0h3.8m13.6 0h3.8m6.7 0h3.8m3.1 0h3.8m6.7 0h3.8m3.2 0h7.2m10.2 0h3.8m6.6 0h3.8m17.1 0h3.8m3.2 0h7.3m10.1 0h3.5M47.9 618.1h3.8m27.1 0h3.8m24.1 0h3.8m3.1 0h3.8m17.1 0h3.8m6.7 0h3.8m3.2 0h3.7m6.7 0h3.8m20.6 0h3.8M26.5 619.5h3.9m10.3 0h3.9m10.4 0h3.8m13.9 0h3.6m2.5 0h7.3m13.6 0h3.8m13.6 0h10.8m6.6 0h3.8m17.1 0h3.8m10.2 0h10.7m6.7 0h3.8m10.1 0h3.8M15.9 620.8h3.8m3.3 0h3.8m55.5 0h3.8m17.1 0h7.3m24 0h3.8m27.6 0h3.8m3.2 0h3.7m24.1 0h3.8M12.3 622.2h14.5m3.3 0h3.8m6.8 0h3.9m3.3 0h3.8m6.8 0h11m3.2 0h3.6m23.4 0h3.8m27.6 0h3.7m3.2 0h3.8m55.4 0h7.3M65.6 623.6h3.9m12.8 0h7.3m3.1 0h7.3m3.2 0h3.8m3.2 0h3.7m3.2 0h3.8m13.6 0h3.8m10.2 0h3.8m3.1 0h3.8m6.7 0h3.8m3.2 0h3.7m20.6 0h3.8m3.2 0h3.5M40.7 624.9h3.9m41.2 0h3.8m17.1 0h3.8m13.6 0h3.8m76.3 0h3.5M30.1 626.3h3.8m6.8 0h3.9m3.3 0h3.8m6.8 0h3.9m6.8 0h3.8m82.4 0h3.8M19.4 627.6h7.4m13.9 0h3.9m17.5 0h3.8m19.9 0h3.8m10.1 0h21.2m6.7 0h3.8m6.6 0h7.3m6.7 0h3.7m10.2 0h3.8m17.1 0h3.8M19.4 629.0h14.5m3.3 0h3.8m10.4 0h3.9m10.3 0h3.9m3.2 0h3.6m23.4 0h7.3m3.2 0h3.7m6.7 0h3.8m6.7 0h3.7m3.2 0h3.8m10.2 0h3.7M26.5 630.4h7.4m14 0h3.8m10.4 0h10.9m26.7 0h3.8m55.4 0h3.8m3.2 0h3.8m3.2 0h7.2m10.2 0h3.8m3.1 0h3.8M30.1 631.7h3.8m6.8 0h3.9m13.9 0h3.9m19.9 0h3.8m10.1 0h3.8m3.2 0h3.8m3.2 0h3.7m6.7 0h3.8m20.6 0h3.8m20.6 0h10.7m17.1 0h3.8m3.2 0h3.5M30.1 633.1h3.8m3.3 0h7.4m6.8 0h3.9m3.2 0h3.9m6.8 0h3.8m37.2 0h3.7m48.5 0h3.8M30.1 634.4h3.8m3.3 0h3.8m10.4 0h3.9m17.4 0h3.6m33.9 0h3.7m10.2 0h3.8m34.5 0h3.8m31 0h3.8M19.4 635.8h3.9m3.2 0h3.9m6.8 0h3.8m6.9 0h3.8m13.9 0h10.7m13 0h3.7m13.7 0h3.8m17.1 0h3.8m13.6 0h3.8m6.6 0h7.3m6.7 0h3.8m3.1 0h3.8m13.7 0h3.7M26.5 637.1h7.4m51.9 0h3.8m24 0h3.8m6.7 0h3.8m20.6 0h7.2m3.2 0h7.3m3.2 0h7.2m6.7 0h3.8M33.6 638.5h7.4m6.9 0h3.8m10.4 0h3.8m3.3 0h7.1m86.1 0h3.8M96.2 639.9h7.3m6.7 0h7.2m20.6 0h3.8m3.2 0h3.8m3.2 0h7.2m3.2 0h3.8m38 0h3.5M15.9 641.2h3.8m45.9 0h3.9m9.3 0h3.8m41.5 0h3.8m3.2 0h3.7m3.2 0h7.3M15.9 642.6h10.9m17.5 0h3.9m6.8 0h7.4m51.2 0h3.8m17.1 0h3.8m27.6 0h3.8m31 0h3.8M26.5 643.9h3.9m3.2 0h3.9m3.2 0h3.9m17.5 0h7.4M12.3 645.3h3.9m21 0h3.8M19.4 646.7h3.9m31.7 0h10.9m3.3 0h3.8m33.7 0h3.8m3.1 0h3.8m17.1 0h7.3m10.2 0h3.7m6.7 0h7.3m13.6 0h3.8m13.6 0h3.8M12.3 648.0h3.9m6.8 0h10.9m3.3 0h3.8m6.9 0h3.8m10.4 0h3.8m19.9 0h3.8m41.5 0h3.7m13.7 0h3.8m44.9 0h3.8M23 649.4h3.8m24.6 0h3.9m34 0h3.7m6.7 0h3.8m31 0h3.8M19.4 650.7h3.9m62.5 0h7.2m72.9 0h3.8M26.5 652.1h3.9m6.8 0h3.8m6.9 0h7.4m6.8 0h3.8m3.3 0h7.1m9.5 0h7.2m3.2 0h10.8m3.2 0h3.7m10.2 0h3.8m3.2 0h3.7m10.2 0h3.8m13.6 0h3.8m24.1 0h3.8m6.6 0h3.8M19.4 653.5h3.9m10.3 0h3.9m10.4 0h7.4m6.8 0h7.4M15.9 654.8h3.8m3.3 0h7.4m28.1 0h7.4m6.8 0h3.6m86.1 0h3.8M23 656.2h3.8m135.6 0h3.8m31 0h3.8M134.5 657.5h3.8m6.7 0h3.8M69.2 658.9h3.8M47.9 661.6h3.8M15.9 664.3h3.8M103.2 665.7h3.8m27.5 0h3.8M113.6 667.0h7.3"/><path stroke="#cbb3e2" d="M127.6 508.1h3.8M78.8 509.4h3.8m3.2 0h3.8m13.6 0h3.8m6.6 0h3.8m13.7 0h7.2m3.2 0h3.8m6.7 0h7.2m17.1 0h3.8m10.2 0h7.2m3.2 0h3.8M30.1 510.8h3.8m10.4 0h3.9M127.6 512.1h3.8m24 0h3.8m10.2 0h3.8m10.1 0h3.8m6.7 0h3.7M176.3 513.5h10.8m17.1 0h3.5M106.7 550.2h3.8M44.3 551.5h3.9m44.5 0h3.8M58.5 552.9h3.9m10.3 0h3.6m19.9 0h3.8m34.5 0h3.8M44.3 554.3h3.9M96.2 555.6h10.8m20.6 0h3.8m48.4 0h3.8m6.7 0h3.8M30.1 557.0h3.8m28.2 0h3.8m47.7 0h3.8M82.3 558.3h3.8m6.6 0h3.8m3.2 0h3.8M92.7 559.7h3.8M19.4 561.1h3.9m3.2 0h3.9m3.2 0h3.9m3.2 0h3.9m13.9 0h7.4m37.3 0h3.8m34.5 0h3.8M23 562.4h7.4m13.9 0h3.9m17.4 0h3.9m30.2 0h3.8m24.1 0h3.8m27.5 0h3.8m20.6 0h7.3M15.9 563.8h3.8m17.5 0h3.8m3.3 0h3.9m6.8 0h3.8m3.3 0h7.4m3.2 0h3.6m6 0h3.8m34.5 0h7.3M12.3 565.1h3.9m17.4 0h3.9m13.9 0h3.9m23.5 0h3.8m38 0h3.8m10.1 0h3.8M44.3 566.5h7.4m10.4 0h3.8m3.3 0h3.8m5.8 0h7.3m3.2 0h7.2m10.2 0h3.8m41.5 0h3.7m3.2 0h7.3m17.1 0h3.8M15.9 567.9h3.8m10.4 0h3.8m24.6 0h3.9m19.9 0h3.8m17.1 0h3.8m45 0h3.7m20.6 0h7.3m3.2 0h3.8M12.3 569.2h3.9m10.3 0h3.9m38.8 0h7.1m2.5 0h14.2m3.2 0h3.8m6.7 0h3.8m27.5 0h14.3m13.6 0h7.3m6.6 0h3.8M12.3 570.6h3.9m10.3 0h3.9m3.2 0h3.9m3.2 0h3.9m3.3 0h3.8m6.8 0h3.9m3.2 0h3.9m23.2 0h3.8m31.1 0h3.8m17.1 0h3.8m3.1 0h3.8m6.7 0h3.8m10.1 0h3.8m6.7 0h3.8m10.1 0h3.5M12.3 571.9h3.9m3.2 0h7.4m3.3 0h3.8m10.4 0h3.9m10.3 0h3.9m26.9 0h7.2m6.7 0h3.8m6.6 0h3.8m3.2 0h3.8m17.1 0h3.8m6.7 0h3.7m3.2 0h3.8m10.2 0h7.2m3.2 0h7.3m3.2 0h3.7m3.2 0h3.8M44.3 573.3h3.9m24.5 0h3.6m6 0h3.8m10.1 0h3.8m20.6 0h3.8m24.1 0h10.7m13.7 0h3.7m20.6 0h3.8M30.1 574.6h3.8m17.5 0h3.9m10.3 0h3.9m3.2 0h3.6m2.5 0h3.8m10.1 0h7.3m3.2 0h3.8m3.2 0h3.7m10.2 0h7.3m6.6 0h3.8m6.7 0h3.8m10.1 0h7.3m31 0h7M23 576.0h10.9m14 0h3.8m17.5 0h3.8m12.8 0h3.8m6.6 0h7.3m3.2 0h3.8m13.6 0h3.8m10.1 0h3.8m3.2 0h3.8m10.1 0h7.3m24.1 0h10.7M15.9 577.4h3.8m13.9 0h3.9m3.2 0h3.9m10.4 0h3.8m20 0h3.8m34.5 0h3.8m3.2 0h3.8m3.2 0h3.7m3.2 0h3.8m27.6 0h3.8m24 0h3.8M26.5 578.7h7.4m62.3 0h3.8m17.1 0h7.3m41.5 0h3.8M30.1 580.1h3.8m6.8 0h7.5m3.2 0h3.9m3.2 0h3.9m61.7 0h3.8m34.5 0h7.3M23 581.4h3.8m17.5 0h3.9m13.9 0h3.8m26.8 0h3.8m3.2 0h3.8m10.1 0h3.8m38 0h7.3m17.1 0h3.8m3.2 0h3.8M12.3 582.8h3.9m13.9 0h3.8m10.4 0h3.9m13.9 0h3.8m6.8 0h3.6m6 0h7.3m6.6 0h7.3m31 0h3.8m3.2 0h3.8m27.6 0h3.7m3.2 0h7.3m6.7 0h3.7m6.7 0h3.5M78.8 584.2h7.3m45 0h14.2m20.6 0h7.3m3.1 0h3.8m6.7 0h3.8m3.2 0h3.7M51.4 585.5h3.9m40.9 0h10.8m31 0h3.8m34.5 0h10.8m10.1 0h3.8M12.3 586.9h3.9m24.5 0h3.9m21 0h3.9m30.2 0h7.3m27.5 0h7.3m10.2 0h7.2m34.6 0h3.7m6.7 0h3.5M15.9 588.2h3.8m3.3 0h3.8m17.5 0h3.9m3.2 0h3.9m3.2 0h3.9m19.9 0h7.3m27.5 0h3.8m3.2 0h3.8m10.1 0h7.3m3.2 0h3.8m3.1 0h3.8m17.1 0h3.8m3.2 0h3.8m10.1 0h3.8M15.9 589.6h3.8m3.3 0h3.8m10.4 0h7.4m21 0h3.9m9.3 0h3.8m10.1 0h7.3m6.7 0h7.2m6.7 0h3.8m10.1 0h7.3m24.1 0h3.8m34.5 0h3.5M40.7 590.9h3.9m10.4 0h7.4m44.3 0h3.8m38 0h14.2m3.2 0h7.3m6.6 0h3.8m20.6 0h3.5M44.3 592.3h3.9m41.1 0h3.7m6.7 0h7.3m6.6 0h3.8m17.1 0h3.8m13.7 0h10.7m17.1 0h3.8m3.2 0h3.8M44.3 593.7h3.9m37.6 0h3.8m17.1 0h3.8m13.6 0h3.8m6.6 0h3.8m17.1 0h3.8m10.2 0h10.7M15.9 595.0h3.8m90.5 0h7.2m27.6 0h3.8m13.6 0h3.8m3.2 0h3.8M19.4 596.4h3.9m10.3 0h7.4m3.3 0h3.9m21 0h7.1m2.5 0h3.8m3.2 0h3.8m3.1 0h3.8m17.1 0h3.8m24.1 0h3.8m3.2 0h7.2m10.2 0h3.8m10.1 0h7.3m10.1 0h3.8M15.9 597.7h7.4m3.2 0h3.9m24.6 0h3.8m10.4 0h3.8m5.8 0h7.3m3.2 0h3.7m6.7 0h3.8m10.1 0h3.8m6.7 0h3.8m6.6 0h3.8m20.6 0h3.8m3.2 0h3.8m6.6 0h3.8m10.2 0h3.8M82.3 599.1h10.7m10.2 0h3.8m3.2 0h3.7m3.2 0h3.8m10.2 0h3.7m6.7 0h3.8m13.6 0h7.3m6.7 0h3.7m6.7 0h3.8m17.1 0h3.5M26.5 600.5h3.9m3.2 0h11m17.5 0h3.8m72.1 0h3.8m55.4 0h3.8M12.3 601.8h3.9m35.2 0h3.9m3.2 0h3.9m26.9 0h3.7m3.2 0h7.3m13.6 0h7.3m3.2 0h7.2m3.2 0h3.8m3.2 0h10.7m24.1 0h3.8m6.7 0h3.8m3.1 0h3.8M15.9 603.2h7.4m3.2 0h3.9m6.8 0h3.8m24.6 0h3.9m16.3 0h7.2m3.2 0h3.8m10.2 0h3.7m31.1 0h3.8m13.6 0h3.8m20.6 0h3.8m10.1 0h7M12.3 604.5h3.9m10.3 0h3.9m10.3 0h3.9m6.8 0h11m3.2 0h10.7m13 0h7.2m6.7 0h14.2m3.2 0h3.8m13.6 0h7.3m6.7 0h3.7m6.7 0h7.3m13.6 0h3.8m6.7 0h3.7m3.2 0h3.8M55 605.9h3.8m20 0h7.3m3.2 0h3.7m3.2 0h3.8m6.7 0h3.8m13.6 0h3.8m24.1 0h3.7m3.2 0h7.3m10.1 0h3.8M19.4 607.3h3.9m6.8 0h3.8m6.8 0h3.9m6.8 0h3.9m10.3 0h3.9m19.8 0h3.7m41.5 0h3.8m17.1 0h3.8m10.2 0h3.8m6.6 0h3.8m3.2 0h7.3M19.4 608.6h3.9m3.2 0h3.9m10.3 0h3.9m6.8 0h3.9m13.9 0h3.8m5.8 0h7.3m13.6 0h3.8m10.1 0h3.8m6.7 0h7.3m3.1 0h3.8m3.2 0h7.3m3.2 0h3.7m17.2 0h3.7m3.2 0h7.3m10.1 0h7.3M30.1 610.0h10.9m3.3 0h7.4m3.3 0h3.8m6.8 0h7.4m33.7 0h7.2m3.2 0h3.8m3.2 0h10.7m6.7 0h3.8m6.7 0h3.7m3.2 0h7.3m6.7 0h3.7m3.2 0h3.8m3.2 0h10.7m3.2 0h3.8M40.7 611.3h3.9m10.4 0h3.8m20 0h7.3m3.2 0h3.7m27.6 0h3.8m10.1 0h3.8m3.2 0h17.7m20.6 0h3.8m3.2 0h3.8m13.6 0h3.5M33.6 612.7h3.9m55.2 0h3.8m3.2 0h3.8m3.2 0h10.7m6.7 0h3.8m10.1 0h3.8m10.2 0h3.7m3.2 0h7.3m24.1 0h3.8M26.5 614.0h3.9m28.1 0h3.9m3.2 0h3.9m9.3 0h3.8m17.1 0h3.8m3.2 0h7.2m34.6 0h7.2m3.2 0h7.3m34.5 0h7M12.3 615.4h3.9m3.2 0h7.4m3.3 0h7.4m24.6 0h7.4m26.7 0h3.8m3.2 0h3.8m6.6 0h3.8m3.2 0h3.8m3.2 0h7.2m27.6 0h3.8m6.7 0h3.7M30.1 616.8h3.8m10.4 0h3.9m10.3 0h3.9m6.8 0h3.8m9.3 0h10.7m34.6 0h3.8m6.6 0h7.3m6.7 0h3.7m13.7 0h7.2m6.7 0h3.8m6.7 0h3.7M15.9 618.1h7.4m3.2 0h7.4m35.3 0h3.8m37.2 0h3.7m6.7 0h7.3m10.1 0h3.8m13.6 0h3.8m13.7 0h3.7m3.2 0h3.8m10.2 0h3.7M15.9 619.5h3.8m24.6 0h3.9m3.2 0h3.9m3.2 0h3.9m44.3 0h3.8m17.1 0h3.8m48.4 0h3.8m20.6 0h3.5M19.4 620.8h3.9m3.2 0h3.9m3.2 0h14.6m6.8 0h7.4m6.8 0h3.8m16.3 0h3.7m17.2 0h3.7m3.2 0h3.8m3.2 0h3.8m3.2 0h3.7m3.2 0h3.8m3.2 0h14.2m17.1 0h3.8m17.1 0h3.8M37.2 622.2h3.8m10.4 0h7.4m10.4 0h3.8m19.7 0h3.8m10.2 0h3.8m3.1 0h3.8m3.2 0h3.8m10.1 0h3.8m3.2 0h7.3m17.1 0h10.7M47.9 623.6h3.8m27.1 0h3.8m6.7 0h3.7m6.7 0h3.8m3.2 0h3.8m27.5 0h3.8m20.6 0h3.8m3.2 0h3.8m3.1 0h3.8m3.2 0h14.2m3.2 0h3.8M15.9 624.9h7.4m10.3 0h3.9m6.8 0h7.4m3.3 0h7.4m3.2 0h3.9m19.8 0h3.7m3.2 0h3.8m3.2 0h3.8m27.5 0h3.8m10.2 0h3.8m13.6 0h3.8m17.1 0h3.8M12.3 626.3h7.4m3.3 0h7.4m21 0h7.4m3.3 0h7.4m3.2 0h3.6m33.9 0h3.7m17.2 0h3.7m3.2 0h3.8m3.2 0h3.8M15.9 627.6h3.8m17.5 0h3.8m6.9 0h3.8m3.3 0h7.4m10.3 0h3.6m2.5 0h3.8m6.7 0h7.2m83.3 0h3.8m6.7 0h3.8M33.6 629.0h3.9m3.2 0h3.9m3.3 0h3.8m37.6 0h3.7m13.7 0h3.8m44.9 0h3.8m3.2 0h7.3m3.2 0h3.7m20.6 0h3.8m3.2 0h3.5M44.3 630.4h3.9m34.1 0h3.8m3.2 0h3.7m10.2 0h3.8m3.2 0h3.7m13.7 0h7.2m3.2 0h3.8m3.2 0h3.8m6.6 0h3.8m3.2 0h3.8M12.3 631.7h3.9m6.8 0h3.8m6.8 0h3.9m6.8 0h11m6.8 0h3.8m6.8 0h3.6m2.5 0h3.8m10.1 0h3.8m3.2 0h3.8m3.2 0h3.8m17.1 0h3.8m3.1 0h3.8m10.2 0h3.8m31 0h7.3m10.1 0h3.8M12.3 633.1h3.9m3.2 0h7.4m6.8 0h3.9m28.1 0h3.9m12.8 0h7.3m13.6 0h3.8m62.4 0h3.8m24 0h3.8M12.3 634.4h3.9m6.8 0h3.8m6.8 0h3.9m3.2 0h7.5m10.3 0h3.9m19.9 0h7.3m6.6 0h3.8m17.1 0h7.3m13.6 0h3.8m3.2 0h7.3m3.1 0h3.8m6.7 0h3.8m3.2 0h3.7m10.2 0h3.8m3.2 0h3.7M12.3 635.8h3.9m6.8 0h3.8m3.3 0h7.4m13.9 0h3.9m44.4 0h3.8m17.1 0h7.3m3.2 0h3.7m13.7 0h7.2m10.2 0h3.8M23 637.1h3.8m55.5 0h3.8m10.1 0h7.3m3.2 0h3.8m24 0h3.8m17.1 0h3.8m17.1 0h3.8m20.6 0h3.8M12.3 638.5h3.9m3.2 0h11m10.3 0h7.5m3.2 0h3.9m30.5 0h3.8m20.6 0h7.2m17.1 0h7.3m13.6 0h3.8m17.1 0h3.8M19.4 639.9h3.9m17.4 0h3.9m21 0h3.9m3.2 0h3.6m6 0h10.7m13.7 0h3.8m6.6 0h7.3m6.7 0h3.7m6.7 0h3.8m3.2 0h3.8m6.6 0h3.8m17.1 0h3.8m13.6 0h3.8M85.8 641.2h3.8m3.1 0h3.8m3.2 0h7.3m3.2 0h7.2m10.2 0h3.8m13.6 0h3.8m3.2 0h3.7m3.2 0h7.3m3.2 0h3.8m3.1 0h3.8m6.7 0h3.8M12.3 642.6h3.9m17.4 0h3.9m31.7 0h7.1m13 0h3.7m3.2 0h14.3m10.1 0h3.8m6.7 0h3.7m17.2 0h3.7m6.7 0h3.8m6.7 0h7.2m10.2 0h3.8M30.1 643.9h3.8m3.3 0h3.8m10.4 0h3.9m13.9 0h7.1M15.9 645.3h7.4m3.2 0h11m10.4 0h3.8m6.8 0h3.9m3.2 0h3.9m3.2 0h3.6m33.9 0h3.7m41.5 0h3.8M15.9 646.7h3.8m6.8 0h3.9m13.9 0h3.9m17.4 0h3.9m9.3 0h10.8m13.6 0h3.8m3.2 0h3.7m6.7 0h3.8m3.2 0h3.8m10.1 0h3.8m24.1 0h3.8m3.1 0h3.8m10.2 0h3.8m3.1 0h3.8M33.6 648.0h3.9m76.1 0h10.8m3.2 0h3.8m3.1 0h3.8m6.7 0h3.8m17.1 0h3.8m3.2 0h3.7m24.1 0h3.8M33.6 649.4h11m24.6 0h7.1m30.4 0h14.2m10.2 0h3.7m10.2 0h3.8m24.1 0h3.7m20.6 0h7.3M51.4 650.7h3.9m13.9 0h3.8m23.2 0h3.8m6.7 0h7.2m27.6 0h3.8m3.2 0h3.8m3.1 0h3.8m3.2 0h3.8m20.6 0h3.8m6.6 0h7.3M33.6 652.1h3.9m21 0h3.9m3.2 0h3.9m37.2 0h3.8m3.1 0h10.8m10.1 0h7.3m6.7 0h14.2m3.2 0h3.8m13.6 0h7.3M15.9 653.5h3.8m6.8 0h3.9m10.3 0h3.9m10.4 0h7.4m79.1 0h3.8m17.1 0h3.8M19.4 654.8h3.9m10.3 0h3.9m10.4 0h7.4m10.3 0h3.9m19.8 0h3.7m6.7 0h3.8m6.7 0h3.7m3.2 0h10.8m10.1 0h7.3m10.1 0h7.3m6.7 0h3.8m6.6 0h3.8m6.7 0h3.8m10.1 0h3.5M19.4 656.2h3.9m55.5 0h3.8m3.2 0h3.8m41.5 0h3.7m31.1 0h7.3M47.9 657.5h3.8m55 0h7.2m17.2 0h3.7M12.3 658.9h3.9m24.5 0h3.9m13.9 0h11m68.5 0h3.8m17.1 0h3.8M47.9 660.2h3.8m6.8 0h3.9m40.8 0h3.8m3.2 0h3.7M12.3 661.6h3.9m24.5 0h3.9m10.4 0h3.8m10.4 0h3.8m30.2 0h3.8M169.4 663.0h3.8M26.5 664.3h3.9m3.2 0h3.9m10.4 0h3.8m3.3 0h3.8m10.4 0h7.1M37.2 665.7h3.8m69.2 0h3.7m3.2 0h3.8m3.2 0h3.8m3.2 0h3.7m20.6 0h3.8m3.2 0h3.8M78.8 667.0h3.8m38 0h7.3m62.4 0h3.8m3.1 0h3.8M106.7 668.4h3.8m6.6 0h3.8m3.2 0h3.8m3.2 0h3.7m62.4 0h3.8M40.7 669.8h3.9m28.1 0h3.6m54.8 0h3.7M72.7 671.1h3.6"/><path stroke="#c3a7de" d="M89.3 509.4h7.2m3.2 0h3.8m24.1 0h3.8m6.6 0h3.8m17.1 0h3.8m24.1 0h3.8M179.8 512.1h3.8M155.4 513.5h3.8m34.6 0h3.7M82.3 555.6h3.8m6.6 0h3.8m17.1 0h3.8m3.2 0h3.8m17.1 0h3.8m31 0h3.8M12.3 561.1h3.9m111.4 0h3.8M82.3 562.4h7.3m3.1 0h3.8m6.7 0h3.8m3.2 0h3.7m27.6 0h3.8M89.3 565.1h3.7m6.7 0h3.8m24.1 0h3.8M12.3 566.5h3.9m6.8 0h3.8m93.8 0h3.8m55.4 0h3.8M44.3 567.9h3.9m24.5 0h3.6m2.5 0h3.8m62.4 0h3.8m13.6 0h3.8m24.1 0h3.8M30.1 569.2h3.8m3.3 0h11m10.3 0h3.9m30.3 0h3.8m24.1 0h3.8m27.6 0h3.7m3.2 0h3.8m10.2 0h7.2m3.2 0h3.8m3.2 0h3.8m3.1 0h7.3M37.2 570.6h3.8m10.4 0h3.9m65.3 0h3.8m20.6 0h3.8m3.2 0h3.7m13.7 0h3.8m3.1 0h3.8m6.7 0h3.8m10.1 0h3.8M15.9 571.9h3.8m6.8 0h3.9m6.8 0h3.8m28.2 0h3.8m44.1 0h3.8m27.6 0h3.8m3.1 0h3.8m3.2 0h7.3m20.6 0h3.8M141.5 573.3h3.8m34.5 0h3.8m3.2 0h3.8m3.2 0h3.7M82.3 574.6h3.8m3.2 0h3.7m6.7 0h3.8m31 0h3.8m3.2 0h3.8m41.5 0h3.8m3.2 0h3.7M44.3 576.0h3.9m30.6 0h3.8m10.1 0h3.8m31.1 0h3.8m34.5 0h7.3m3.1 0h3.8m3.2 0h3.8m13.6 0h7M51.4 577.4h3.9m13.9 0h3.8m12.8 0h3.8m13.6 0h10.7m34.6 0h7.2m3.2 0h3.8m3.2 0h3.8m17.1 0h3.8m10.1 0h7M82.3 578.7h3.8m38 0h7.3m3.1 0h21.2m34.6 0h3.8M15.9 580.1h3.8m66.1 0h7.2m17.2 0h10.7m13.6 0h3.8m6.7 0h3.8m6.6 0h3.8m13.7 0h7.2m10.2 0h3.8m3.1 0h3.8m3.2 0h3.5M183.3 581.4h3.8M37.2 582.8h3.8m10.4 0h7.4m6.8 0h7.4m103.3 0h3.8M92.7 584.2h3.8m6.7 0h3.8m17.1 0h3.8m17.1 0h3.8m3.2 0h3.7m3.2 0h3.8m20.6 0h3.8M12.3 585.5h3.9m3.2 0h3.9m55.5 0h7.3m31 0h3.8m6.7 0h3.8m3.1 0h3.8m17.1 0h3.8M96.2 586.9h3.8m76.3 0h3.8m3.2 0h3.8M62.1 588.2h3.8m30.3 0h3.8m10.2 0h7.2m3.2 0h3.8m3.2 0h7.2m10.2 0h3.8m3.2 0h3.7m10.2 0h7.3m13.6 0h3.8m10.1 0h7M12.3 589.6h3.9m13.9 0h3.8m10.4 0h11m3.2 0h7.4m3.3 0h3.8m12.8 0h3.8m51.9 0h7.3m6.6 0h10.8m13.6 0h7.3m3.2 0h3.8m3.1 0h3.8M12.3 590.9h7.4m6.8 0h3.9m6.8 0h3.8m10.4 0h3.9m13.9 0h7.1m33.9 0h3.7m27.6 0h3.8M55 592.3h3.8m13.9 0h3.6m6 0h3.8m41.5 0h3.8m10.1 0h3.8m24.1 0h3.8m3.1 0h3.8m13.7 0h10.7M78.8 593.7h3.8m45 0h3.8m48.4 0h3.8m6.7 0h3.8m6.6 0h3.8M44.3 595.0h3.9m6.8 0h3.8m6.8 0h3.9m9.3 0h10.8m3.1 0h3.8m10.2 0h3.8m17.1 0h10.7m20.6 0h3.8m3.2 0h3.8m3.2 0h3.7m10.2 0h7.3m3.1 0h3.8m3.2 0h3.5M23 596.4h7.4m24.6 0h3.8m30.5 0h3.7m34.6 0h3.8m72.8 0h3.5M12.3 597.7h3.9m13.9 0h3.8m3.3 0h11m3.2 0h3.9m10.3 0h3.9m23.2 0h7.3m6.7 0h7.2m3.2 0h3.8m6.7 0h3.8m20.6 0h7.2m13.7 0h3.7m10.2 0h3.8m10.1 0h7M15.9 599.1h7.4m10.3 0h7.4m6.9 0h3.8m3.3 0h3.8m3.3 0h3.8m12.9 0h3.8m45 0h3.8m13.6 0h7.3m17.1 0h3.8m3.1 0h7.3m3.2 0h3.8M44.3 600.5h3.9m21 0h3.8m12.8 0h3.8m10.1 0h3.8m3.2 0h21.2m17.1 0h3.8m51.9 0h3.8M23 601.8h3.8m17.5 0h3.9m24.5 0h3.6m2.5 0h3.8m10.1 0h3.8m6.7 0h10.7m10.2 0h3.8m6.6 0h3.8m3.2 0h3.8m31 0h3.8m3.2 0h3.8m13.6 0h3.8M40.7 603.2h3.9m10.4 0h10.9m3.3 0h3.8m19.7 0h3.8m20.6 0h3.8m10.2 0h3.7m3.2 0h3.8m6.7 0h3.8m3.1 0h3.8m38 0h3.8M37.2 604.5h3.8m37.8 0h7.3m45 0h3.7m20.6 0h3.8m10.2 0h14.2m3.2 0h3.8m13.6 0h3.5M30.1 605.9h3.8m10.4 0h3.9m37.6 0h3.8m10.1 0h3.8m17.1 0h3.8m10.1 0h10.8m24.1 0h7.2m6.7 0h10.8m10.1 0h3.5M23 607.3h3.8m17.5 0h3.9m103.8 0h3.7m3.2 0h3.8m20.6 0h3.8m17.1 0h3.5M15.9 608.6h3.8m24.6 0h3.9m44.5 0h3.8m52 0h3.8m13.6 0h7.3m20.6 0h3.7M23 610.0h3.8m52 0h10.8m55.4 0h7.3m17.1 0h3.8m3.1 0h3.8m17.1 0h3.8m3.2 0h3.5M30.1 611.3h3.8m28.2 0h3.8m3.3 0h3.8m12.8 0h3.8m3.1 0h3.8m3.2 0h7.3m3.2 0h3.7m17.2 0h3.7m3.2 0h3.8m17.1 0h3.8m6.7 0h3.8m10.1 0h3.8m10.1 0h7.3M15.9 612.7h10.9m3.3 0h3.8m14 0h3.8m17.5 0h3.8m12.8 0h3.8m6.6 0h3.8m17.1 0h3.8m10.2 0h7.2m3.2 0h7.3m6.6 0h3.8m20.6 0h7.3m6.7 0h13.9M30.1 614.0h3.8m35.3 0h7.1m6 0h7.3m3.1 0h7.3m3.2 0h3.8m10.1 0h3.8m6.7 0h3.8m6.6 0h3.8m13.6 0h3.8m6.7 0h10.7m10.2 0h7.3M44.3 615.4h3.9m3.2 0h3.9m3.2 0h3.9m37.3 0h3.8m3.2 0h3.8m6.6 0h3.8m3.2 0h3.8m6.6 0h3.8m10.2 0h10.7m6.7 0h3.8m10.1 0h3.8m3.2 0h3.8m3.2 0h7.2m3.2 0h3.5M33.6 616.8h3.9m10.4 0h3.8m3.3 0h3.8m6.8 0h3.9m51.1 0h3.8m20.6 0h3.8M33.6 618.1h11m6.8 0h18.1m3.2 0h3.6m9.5 0h3.8m3.1 0h7.3m31.1 0h3.7m6.7 0h3.8m13.6 0h3.8m3.2 0h7.3m10.1 0h3.8m10.1 0h10.5M113.6 619.5h3.8m76.4 0h3.7M12.3 620.8h3.9m13.9 0h3.8m31.7 0h3.9m16.3 0h3.8m3.1 0h3.8m3.2 0h3.8m10.1 0h3.8m41.5 0h7.3m3.2 0h3.8m6.6 0h7.3m6.7 0h3.7m6.7 0h3.5M44.3 622.2h3.9m37.6 0h3.8m13.6 0h3.8m17.1 0h7.3m17.1 0h3.8m3.1 0h10.8m24.1 0h3.8M12.3 623.6h14.5m3.3 0h3.8m3.3 0h3.8m79.6 0h3.8m3.2 0h3.8m10.1 0h3.8m13.6 0h3.8M26.5 624.9h3.9m6.8 0h3.8m10.4 0h3.9m17.4 0h3.6m6 0h3.8m13.6 0h3.8m6.7 0h7.2m13.7 0h3.7m3.2 0h3.8m3.2 0h3.8m10.1 0h3.8m27.6 0h14.2M44.3 626.3h3.9m30.6 0h3.8m3.2 0h3.8m3.1 0h7.3m6.7 0h3.8m3.1 0h3.8m17.1 0h3.8m13.7 0h3.7m6.7 0h14.2m13.7 0h10.7m3.2 0h3.5M30.1 627.6h3.8m10.4 0h3.9m21 0h3.8m47.6 0h3.8m20.6 0h3.8m34.5 0h3.8m6.7 0h3.7M78.8 629.0h3.8m13.6 0h3.8m13.6 0h7.3m3.2 0h3.8m6.6 0h3.8m6.7 0h7.3m6.6 0h3.8m24.1 0h3.8m3.2 0h3.7m3.2 0h3.8M78.8 630.4h3.8m3.2 0h3.8m3.1 0h7.3m6.7 0h3.8m3.1 0h3.8m3.2 0h7.3m6.6 0h3.8m13.7 0h3.7m13.7 0h3.8m6.6 0h3.8m3.2 0h3.8m10.1 0h7M26.5 631.7h3.9m58.9 0h3.7m31.1 0h3.8m13.6 0h3.8m13.6 0h3.8m17.1 0h3.8m6.7 0h3.8M26.5 633.1h3.9m13.9 0h3.9m6.8 0h3.8m13.9 0h3.6m19.9 0h3.8m20.6 0h3.8m6.7 0h3.7m6.7 0h3.8m10.1 0h7.3m10.2 0h3.7m24.1 0h7M65.6 634.4h3.9m23.2 0h3.8m3.2 0h10.8m3.1 0h3.8m52 0h3.8m3.1 0h3.8m10.2 0h3.8M44.3 635.8h3.9m13.9 0h3.8m12.9 0h3.8m3.2 0h3.8m3.1 0h3.8m20.6 0h3.8m17.1 0h3.8m31.1 0h3.7m10.2 0h7.3m3.1 0h10.5M110.2 637.1h3.7m3.2 0h7.3m3.2 0h3.8m6.6 0h10.8m31 0h3.8m20.6 0h3.5M58.5 638.5h3.9m16.4 0h3.8m6.7 0h7.2m3.2 0h3.8m3.2 0h3.8m13.6 0h10.7m6.7 0h10.8m13.6 0h10.7m10.2 0h3.8m10.1 0h3.8M12.3 639.9h3.9m21 0h3.8m6.9 0h3.8m3.3 0h3.8m3.3 0h3.8m12.9 0h3.8m10.1 0h3.8m27.6 0h3.8m6.6 0h3.8m31.1 0h7.2m6.7 0h7.3m3.2 0h3.7M12.3 641.2h3.9m17.4 0h3.9m3.2 0h3.9m3.3 0h3.8m3.3 0h7.4m10.3 0h3.6m6 0h3.8m3.2 0h3.7m3.2 0h3.8m6.7 0h3.8m6.6 0h7.3m24.1 0h3.8m3.1 0h3.8m24.1 0h3.8m3.2 0h17.4M51.4 642.6h3.9m6.8 0h7.4m9.3 0h7.3m6.6 0h3.8m13.7 0h3.7m10.2 0h7.3m6.6 0h3.8m3.2 0h7.3m3.1 0h7.3m6.7 0h3.8m6.6 0h3.8m3.2 0h3.8m3.2 0h7.2M12.3 643.9h3.9m3.2 0h7.4m17.5 0h7.4m51.5 0h3.8m3.2 0h3.7m17.2 0h7.2m24.1 0h7.3m17.1 0h3.8m10.1 0h3.8M23 645.3h3.8m13.9 0h7.5m3.2 0h3.9m6.8 0h3.8m3.3 0h3.8m12.8 0h7.2m3.2 0h3.8m13.6 0h3.8m13.7 0h10.7m10.2 0h3.7m6.7 0h3.8m34.5 0h7M37.2 646.7h3.8m48.3 0h3.7m31.1 0h3.8m20.6 0h3.8m3.1 0h3.8m13.7 0h3.7m10.2 0h3.8m13.6 0h3.5M44.3 648.0h3.9m34.1 0h3.8m20.6 0h7.2m24.1 0h3.8m13.6 0h10.8m20.6 0h3.8m13.6 0h3.5M15.9 649.4h7.4m3.2 0h7.4m14 0h3.8m3.3 0h7.4m3.2 0h3.9m9.3 0h3.8m3.2 0h3.8m13.6 0h3.8m13.6 0h7.3m13.6 0h3.8m3.2 0h14.2m3.2 0h7.3m3.1 0h3.8m6.7 0h3.8m13.6 0h3.5M12.3 650.7h7.4m6.8 0h7.4m3.3 0h7.4m3.3 0h3.8m3.3 0h3.8m6.8 0h3.9m3.2 0h3.6m23.4 0h3.8m10.1 0h3.8m13.7 0h3.7m17.2 0h3.7m13.7 0h3.8m10.1 0h3.8m3.2 0h7.2M15.9 652.1h7.4m17.4 0h3.9m10.4 0h3.8m23.5 0h3.8m6.6 0h3.8m31.1 0h3.8m41.5 0h10.7m10.2 0h7.2M12.3 653.5h3.9m6.8 0h3.8m3.3 0h3.8m3.3 0h3.8m3.3 0h3.9m21 0h3.8m12.8 0h3.8m34.5 0h3.8m69.3 0h7.3M12.3 654.8h3.9m21 0h11m21 0h3.8m12.8 0h3.8m3.1 0h7.3m6.7 0h3.8m3.1 0h3.8m10.2 0h3.8m3.1 0h3.8m27.6 0h3.8m17.1 0h3.8m3.2 0h3.7m3.2 0h3.8M12.3 656.2h7.4m13.9 0h7.4m6.9 0h7.4m10.3 0h7.4m19.7 0h7.3m6.7 0h10.7M12.3 657.5h7.4m10.4 0h3.8m3.3 0h3.8m21.1 0h3.8m23.4 0h3.7m3.2 0h3.8m3.2 0h3.8m6.6 0h7.3m3.2 0h3.8m10.1 0h3.8m13.6 0h3.8m3.2 0h3.8m10.1 0h3.8m6.7 0h3.8m6.6 0h7.3M15.9 658.9h14.5m3.2 0h7.4m6.9 0h3.8m3.3 0h3.8m13.9 0h3.6m30.4 0h14.2m6.7 0h7.2m10.2 0h3.8m20.6 0h3.8m24 0h3.8M15.9 660.2h7.4m3.2 0h3.9m10.3 0h3.9m17.5 0h7.4m12.8 0h3.8m10.1 0h3.8m13.6 0h3.8m3.2 0h3.8m20.6 0h10.7m6.7 0h3.8m3.2 0h3.8m13.6 0h3.8M19.4 661.6h7.4m3.3 0h7.4m21 0h3.9m10.3 0h3.6M30.1 663.0h3.8m6.8 0h3.9m3.3 0h7.4m30.5 0h3.8m13.6 0h3.8m31 0h3.8m31.1 0h3.7m24.1 0h3.8M12.3 664.3h3.9m6.8 0h3.8m3.3 0h3.8m3.3 0h7.4m13.9 0h11m103.4 0h3.7M15.9 665.7h7.4m24.6 0h3.8m55 0h3.8m10.1 0h3.8m3.2 0h3.8m13.6 0h10.7m10.2 0h3.8m6.6 0h7.3m3.2 0h3.8m6.6 0h10.5M37.2 667.0h3.8m24.6 0h7.4m12.8 0h7.2m3.2 0h3.8m6.7 0h3.8m17.1 0h7.2m6.7 0h7.3m6.6 0h3.8m3.2 0h3.8m6.7 0h3.7m17.2 0h3.7M47.9 668.4h3.8m44.5 0h10.8m3.2 0h7.2m17.1 0h3.8m6.7 0h3.8m27.5 0h3.8m6.7 0h3.8m10.1 0h3.8M15.9 669.8h3.8m6.8 0h3.9m21 0h3.9m61.8 0h3.8m41.5 0h3.8M69.2 671.1h3.8m33.7 0h3.8m20.6 0h3.7"/><path stroke="#ba9bda" d="M148.5 509.4h3.8m27.5 0h7.3M30.1 561.1h3.8m10.4 0h3.9M26.5 563.8h3.9M37.2 566.5h3.8m93.5 0h3.8M158.9 567.9h3.8m10.2 0h3.7m17.2 0h3.7M33.6 569.2h3.9m149.3 0h3.8m3.2 0h3.7m6.7 0h3.5M72.7 570.6h3.6m26.9 0h3.8m76.3 0h3.8m6.7 0h3.7M145 573.3h3.8m34.5 0h3.8M58.5 574.6h3.9m82.6 0h3.8m3.2 0h3.7m13.7 0h3.8m3.1 0h7.3M103.2 576.0h3.8m41.5 0h10.7m27.6 0h3.8M12.3 577.4h3.9m13.9 0h3.8m28.2 0h7.4m3.2 0h3.6m16.4 0h7.3m20.6 0h3.8m10.1 0h3.8m3.2 0h7.3m6.6 0h3.8m3.2 0h3.8m6.7 0h3.7m3.2 0h3.8m6.7 0h7.2M78.8 578.7h3.8m6.7 0h7.2m3.2 0h10.8m3.1 0h3.8m13.7 0h3.7m27.6 0h3.8m6.7 0h7.2m20.6 0h7M62.1 580.1h3.8m6.8 0h3.6m2.5 0h7.3m13.6 0h7.3m20.6 0h7.2m6.7 0h3.8m3.2 0h7.2m3.2 0h3.8m17.1 0h3.8m10.2 0h3.7m3.2 0h3.8M26.5 581.4h3.9M179.8 584.2h3.8M92.7 585.5h3.8m93.8 0h3.8M78.8 588.2h3.8m6.7 0h3.7m6.7 0h3.8m31 0h3.8m20.6 0h3.8M19.4 589.6h3.9m3.2 0h3.9m3.2 0h3.9m44.8 0h3.8m13.6 0h7.3m6.6 0h3.8m6.7 0h3.8m24.1 0h3.7m20.6 0h3.8m6.7 0h3.8m3.2 0h3.7m3.2 0h3.8M23 590.9h3.8m3.3 0h7.4m6.8 0h3.9m13.9 0h7.4M120.6 592.3h3.8m20.6 0h3.8M96.2 593.7h3.8M72.7 595.0h3.6m19.9 0h3.8m20.6 0h3.8m17.1 0h3.8m3.2 0h3.8m3.1 0h3.8m17.1 0h10.8m6.7 0h3.7M155.4 596.4h3.8M23 597.7h3.8m35.3 0h3.8m6.8 0h3.6m65.2 0h10.8m17.1 0h3.8m10.1 0h3.8m6.7 0h7.2M23 599.1h7.4m10.3 0h7.5m3.2 0h3.9m13.9 0h3.8m23.2 0h3.8M78.8 600.5h7.3m3.2 0h7.2m31.1 0h3.8m17.1 0h3.8m13.6 0h7.3m3.1 0h3.8m3.2 0h3.8m6.7 0h3.7M82.3 601.8h7.3m65.8 0h3.8m13.7 0h3.7m27.6 0h3.5M33.6 603.2h3.9m6.8 0h3.9m34.1 0h3.8m13.6 0h7.3m6.6 0h3.8m3.2 0h3.8m10.1 0h3.8m13.7 0h3.7m10.2 0h3.8m3.2 0h14.2M96.2 604.5h3.8m27.6 0h3.8m3.1 0h3.8m10.2 0h3.8m38 0h3.8M103.2 605.9h3.8m20.6 0h3.8m48.4 0h3.8M193.8 607.3h3.7M103.2 608.6h3.8m31 0h3.8m17.1 0h3.8M89.3 610.0h7.2m58.9 0h3.8m24.1 0h3.8M96.2 611.3h3.8m17.1 0h3.8m6.7 0h3.8m58.9 0h7.2M12.3 612.7h3.9m35.2 0h3.9m3.2 0h3.9m16.4 0h3.8m6.7 0h3.7m34.6 0h3.8m17.1 0h3.8m13.6 0h3.8m6.6 0h3.8M89.3 614.0h3.7m48.5 0h3.8m31 0h10.8m6.7 0h3.7M78.8 615.4h7.3m55.4 0h3.8m13.6 0h3.8m6.7 0h3.8m3.1 0h3.8m3.2 0h3.8m3.2 0h3.8m6.6 0h3.8M72.7 616.8h3.6m89.6 0h3.8M23 618.1h3.8m55.5 0h3.8m13.6 0h7.3m10.1 0h3.8m6.7 0h3.8m17.1 0h3.8m24 0h3.8m10.2 0h3.8M51.4 620.8h3.9m6.8 0h3.8m30.3 0h3.8m20.6 0h3.8m17.1 0h3.8m41.5 0h7.3M78.8 622.2h7.3m3.2 0h3.7m3.2 0h3.8m10.2 0h3.7m38.1 0h3.7m20.6 0h3.8m6.7 0h3.8m13.6 0h3.5M33.6 623.6h3.9m3.2 0h3.9m10.4 0h10.9m3.3 0h3.8m79 0h3.7M12.3 624.9h3.9m6.8 0h3.8m35.3 0h3.8m12.9 0h3.8m34.5 0h7.3m3.2 0h3.8m10.1 0h3.8m6.7 0h7.2m3.2 0h3.8m6.7 0h14.2M37.2 626.3h3.8m62.2 0h3.8m10.1 0h10.8m13.6 0h3.8m3.2 0h3.8m27.5 0h10.8m10.1 0h3.8M12.3 627.6h3.9M58.5 629.0h7.4m19.9 0h3.8m38 0h3.8m10.1 0h3.8m24.1 0h3.8m3.1 0h10.8m3.2 0h3.8M12.3 630.4h3.9m125.3 0h3.8m38 0h3.8m6.7 0h3.7M113.6 631.7h7.3m31.1 0h7.2M89.3 633.1h3.7m20.6 0h7.3m3.2 0h7.3m6.6 0h3.8m6.7 0h7.2m10.2 0h3.8m10.1 0h14.3M78.8 634.4h3.8m6.7 0h3.7m41.5 0h3.8m3.2 0h3.8m13.6 0h3.8m17.1 0h7.3m13.6 0h3.8M82.3 635.8h3.8m17.1 0h3.8m6.6 0h3.8m24.1 0h3.8m38 0h3.8M78.8 637.1h3.8m20.6 0h3.8m79.8 0h10.7M82.3 638.5h3.8m10.1 0h3.8m17.1 0h7.3m55.4 0h3.8m13.6 0h3.8M15.9 639.9h3.8m3.3 0h3.8m6.8 0h3.9m6.8 0h3.9m3.2 0h3.9m72.3 0h3.8m44.9 0h3.8m10.2 0h3.8m6.6 0h3.8M19.4 641.2h3.9m13.9 0h3.8m10.4 0h3.9m13.9 0h3.8m99.9 0h3.7m3.2 0h3.8M26.5 642.6h3.9m6.8 0h7.4m41.2 0h3.8m51.9 0h3.8m38 0h3.8m17.1 0h3.5M58.5 643.9h3.9m23.4 0h7.2m20.6 0h10.8m3.2 0h3.8m13.6 0h3.8m27.5 0h3.8m17.1 0h3.8M92.7 645.3h3.8m6.7 0h3.8m10.1 0h3.8m6.7 0h3.8m17.1 0h3.8m13.6 0h7.3m10.1 0h3.8m3.2 0h3.8M72.7 646.7h3.6m19.9 0h7.3m55.4 0h3.8m17.1 0h3.8m10.2 0h3.7M89.3 648.0h17.7m34.5 0h3.8m6.7 0h3.7m13.7 0h3.8m6.6 0h3.8m6.7 0h3.8M12.3 649.4h3.9m28.1 0h3.9m13.9 0h3.8m16.4 0h3.8m6.6 0h7.3m27.6 0h3.8m6.6 0h3.8m38 0h3.8m6.7 0h7.2M58.5 650.7h7.4m12.9 0h3.8m10.1 0h3.8m6.7 0h3.8m13.6 0h3.8m3.2 0h3.8m3.1 0h7.3m3.2 0h3.8m55.4 0h3.5M44.3 652.1h3.9m30.6 0h3.8m58.9 0h3.8m24.1 0h3.8m31 0h3.5M72.7 653.5h3.6m6 0h3.8m3.2 0h10.7m10.2 0h3.7m13.7 0h14.2m24.1 0h3.8m3.2 0h3.7m13.7 0h7.2M30.1 654.8h3.8m69.3 0h3.8m41.5 0h7.2m17.2 0h7.2m17.1 0h3.8M26.5 656.2h7.4m6.8 0h3.9m10.4 0h10.9m16.4 0h3.8m3.2 0h3.7m6.7 0h3.8m13.6 0h3.8m3.2 0h7.3m3.1 0h7.3m3.2 0h3.8m3.2 0h3.7m17.2 0h7.2m10.2 0h7.2m3.2 0h3.8M19.4 657.5h11m10.3 0h7.5m6.8 0h7.4m3.2 0h3.9m3.2 0h3.6m2.5 0h3.8m3.2 0h3.8m3.1 0h3.8m3.2 0h3.8m17.1 0h3.8m3.2 0h3.8m10.1 0h3.8m3.2 0h7.2m3.2 0h3.8m3.2 0h10.7m3.2 0h3.8M30.1 658.9h3.8m10.4 0h3.9m3.2 0h3.9m30.5 0h21.2m13.6 0h7.3m6.6 0h3.8m3.2 0h3.8m10.1 0h3.8m13.7 0h3.7m3.2 0h3.8m6.7 0h3.8m6.6 0h3.8M23 660.2h3.8m3.3 0h10.9m10.4 0h7.4m10.4 0h7.1m2.5 0h3.8m10.1 0h3.8m10.2 0h3.8m13.6 0h3.8m3.2 0h14.2m10.1 0h7.3m10.2 0h7.2m10.2 0h14.2M26.5 661.6h3.9m6.8 0h3.8m3.3 0h3.9m3.2 0h3.9m10.3 0h3.9m19.8 0h3.7m24.1 0h3.8m45 0h3.8m31 0h3.8M23 663.0h3.8m28.2 0h7.4m6.8 0h3.8m33.7 0h3.8m3.1 0h7.3m3.2 0h3.8m20.6 0h3.8m41.5 0h7.2M44.3 664.3h3.9m41.1 0h3.7m13.7 0h7.2m20.6 0h7.3m3.2 0h3.8m41.5 0h3.8M12.3 665.7h3.9m13.9 0h3.8m24.6 0h3.9m16.4 0h7.3m27.5 0h3.8m20.6 0h7.3m13.6 0h3.8m6.7 0h3.8m10.1 0h3.8m6.7 0h3.7M12.3 667.0h11m3.2 0h7.4m6.8 0h3.9m3.3 0h18m6.8 0h3.6m16.4 0h3.8m6.7 0h3.8m3.2 0h3.7m20.6 0h3.8m13.7 0h3.7m13.7 0h3.8m10.1 0h7.3m13.6 0h3.5M30.1 668.4h10.9m14 0h3.8m20 0h3.8m3.2 0h3.8m38 0h3.8m6.6 0h3.8m20.6 0h14.2m13.7 0h7.2m6.7 0h3.5M19.4 669.8h7.4m3.3 0h3.8m31.7 0h3.9m30.2 0h3.8m10.1 0h3.8m17.1 0h3.8m6.7 0h3.8m17.1 0h7.3m13.6 0h3.8m3.2 0h3.7M12.3 671.1h7.4m6.8 0h7.4m3.3 0h7.4m6.8 0h3.9m34 0h3.7m10.2 0h3.8m3.2 0h10.7m3.2 0h3.8m10.1 0h3.8m55.4 0h7.3"/><path stroke="#af8dd3" d="M44.3 570.6h3.9m13.9 0h3.8M44.3 574.6h3.9m110.7 0h3.8m10.2 0h3.7m6.7 0h3.8m3.2 0h3.8M179.8 576.0h3.8M19.4 577.4h3.9m3.2 0h3.9m17.5 0h3.8m6.8 0h3.9m26.9 0h3.7m6.7 0h3.8m24.1 0h3.8m51.9 0h3.8M155.4 578.7h3.8m10.2 0h3.8m6.6 0h3.8m10.2 0h7.2M92.7 580.1h7.3m20.6 0h3.8m62.4 0h3.8M179.8 588.2h3.8m10.2 0h3.7M89.3 589.6h3.7m34.6 0h3.8m41.5 0h3.7M19.4 590.9h3.9M99.7 595.0h3.8m20.6 0h3.8M62.1 596.4h3.8M179.8 597.7h3.8M30.1 599.1h3.8m31.7 0h3.9m3.2 0h3.6M30.1 600.5h3.8m62.3 0h3.8m34.5 0h3.8m3.2 0h3.8m6.7 0h10.7m10.2 0h3.7m3.2 0h3.8m3.2 0h7.3m10.1 0h3.5M158.9 601.8h3.8M78.8 603.2h3.8m58.9 0h3.8m13.6 0h3.8m6.7 0h3.8m17.1 0h3.8M193.8 605.9h3.7M26.5 612.7h3.9m6.8 0h7.4m17.5 0h7.4m3.2 0h3.6m6 0h3.8m34.5 0h3.8M85.8 615.4h3.8m3.1 0h3.8m13.7 0h3.7m31.1 0h3.8M12.3 618.1h3.9m28.1 0h3.9M183.3 619.5h3.8M72.7 620.8h3.6m2.5 0h3.8m45 0h3.8M117.1 622.2h3.8m58.9 0h3.8m10.2 0h3.7M26.5 623.6h3.9m13.9 0h3.9m3.2 0h3.9M30.1 624.9h3.8m135.5 0h3.8M82.3 626.3h3.8m3.2 0h3.7m34.6 0h3.8m27.5 0h3.8m13.6 0h3.8M44.3 629.0h3.9m21 0h3.8m9.3 0h3.8m6.6 0h3.8M148.5 630.4h3.8M78.8 633.1h3.8m10.1 0h3.8m3.2 0h3.8m3.2 0h3.8m34.5 0h3.8m27.5 0h3.8M127.6 634.4h3.8m72.8 0h3.5M89.3 637.1h7.2M158.9 638.5h3.8m20.6 0h3.8m6.7 0h3.7m6.7 0h3.5M26.5 639.9h7.4m35.3 0h3.8M26.5 641.2h7.4m10.4 0h3.9m13.9 0h3.8m68.6 0h3.8M55 643.9h3.8m33.9 0h7.3m41.5 0h3.8m6.7 0h7.2m10.2 0h7.2m6.7 0h3.8m3.2 0h7.2M78.8 645.3h7.3m13.6 0h3.8m3.2 0h3.8m10.1 0h7.3m13.6 0h7.3m10.1 0h3.8m13.6 0h3.8m6.7 0h3.8m3.2 0h7.2M92.7 646.7h3.8m20.6 0h3.8M78.8 648.0h3.8m41.5 0h3.8m48.4 0h3.8m3.2 0h3.8M23 650.7h3.8m6.8 0h3.9m6.8 0h3.9m34.1 0h3.8m31 0h3.8m3.2 0h3.8m31 0h3.8m10.2 0h3.7m3.2 0h3.8M23 652.1h3.8m3.3 0h3.8M78.8 653.5h3.8m20.6 0h3.8m10.1 0h7.3m34.5 0h3.8m6.7 0h3.8m3.1 0h3.8m3.2 0h7.3m13.6 0h3.5M78.8 654.8h7.3m97.2 0h3.8M72.7 656.2h3.6m26.9 0h3.8m13.6 0h3.8m17.1 0h3.8m3.2 0h3.8m3.1 0h7.3m41.5 0h3.5M33.6 657.5h3.9m13.9 0h3.9m13.9 0h3.8m9.3 0h3.8m97.2 0h3.8m3.2 0h7.2m6.7 0h3.5M78.8 658.9h7.3m62.4 0h7.2m6.7 0h7.3m6.6 0h3.8m3.2 0h7.3m3.2 0h3.7m6.7 0h3.5M12.3 660.2h3.9m28.1 0h3.9m37.6 0h7.2m6.7 0h3.8m13.6 0h3.8m6.7 0h3.8m34.5 0h3.8m13.6 0h3.8m17.1 0h3.5M62.1 661.6h3.8m19.9 0h3.8m3.1 0h7.3m10.2 0h3.7m6.7 0h7.3m3.2 0h10.7m3.2 0h3.8m13.6 0h3.8m27.6 0h3.7m6.7 0h3.5M15.9 663.0h7.4m10.3 0h3.9m6.8 0h3.9m24.5 0h3.6m13 0h14.2m6.7 0h3.7m17.2 0h3.7m6.7 0h3.8m6.7 0h3.7m10.2 0h3.8m6.6 0h3.8m10.2 0h3.8m10.1 0h3.5M51.4 664.3h3.9m23.5 0h10.8m13.6 0h3.8m6.6 0h3.8m6.7 0h3.8m3.2 0h3.7m6.7 0h3.8m3.2 0h3.8m13.6 0h3.8m6.6 0h3.8m13.7 0h7.2m3.2 0h3.5M23 665.7h7.4m3.2 0h3.9m3.2 0h3.9m6.8 0h3.9m6.8 0h7.4m3.2 0h3.6m9.5 0h17.7m69.4 0h3.7m13.7 0h3.8M23 667.0h3.8m6.8 0h3.9m6.8 0h3.9m34.1 0h3.8m13.6 0h3.8m34.5 0h3.8m6.7 0h3.8m13.6 0h3.8m10.1 0h3.8m17.1 0h3.8M12.3 668.4h3.9m10.3 0h3.9m10.3 0h3.9m6.8 0h3.9m3.2 0h3.9m10.3 0h3.6m6 0h3.8m3.2 0h7.2m24.1 0h3.8m17.1 0h3.8m6.7 0h10.7m17.1 0h7.3M12.3 669.8h3.9m17.4 0h3.9m6.8 0h7.4m6.8 0h7.4m3.3 0h3.8m9.3 0h3.8m3.2 0h3.7m10.2 0h3.8m3.2 0h3.7m6.7 0h7.3m20.6 0h10.7m13.7 0h3.7m3.2 0h3.8m6.7 0h3.8m6.6 0h3.8M23 671.1h3.8m6.8 0h3.9m6.8 0h3.9m6.8 0h7.4m3.2 0h3.9m9.3 0h3.8m3.2 0h3.8m3.1 0h3.8m24.1 0h3.8m3.2 0h3.8m10.1 0h14.2m6.7 0h7.3m3.2 0h14.2m3.2 0h3.8m10.1 0h3.5"/><path stroke="#a27fcb" d="M23 577.4h3.8m17.5 0h3.9m128.1 0h3.8M158.9 578.7h3.8m20.6 0h7.3M169.4 580.1h3.8m10.1 0h3.8M12.3 599.1h3.9m42.3 0h3.9M193.8 601.8h3.7M127.6 603.2h3.8m62.4 0h3.7M44.3 612.7h3.9m6.8 0h3.8M183.3 622.2h3.8M72.7 623.6h3.6M92.7 624.9h3.8M99.7 626.3h3.8M134.5 633.1h3.8m55.5 0h3.7M179.8 635.8h3.8M152 638.5h3.7m34.6 0h3.8M58.5 639.9h3.9M23 641.2h3.8M78.8 643.9h3.8m17.1 0h3.8m3.2 0h3.8m13.6 0h3.8m10.1 0h3.8m17.1 0h3.8m17.1 0h3.8m20.6 0h3.5M183.3 649.4h3.8M176.3 650.7h3.8M99.7 653.5h3.8m3.2 0h3.8m3.1 0h3.8m27.6 0h14.2m20.6 0h3.8M44.3 656.2h3.9m131.6 0h10.8M179.8 660.2h3.8M78.8 661.6h7.3m27.5 0h3.8m31.1 0h10.7m10.2 0h7.2m3.2 0h7.3m3.2 0h3.8M12.3 663.0h3.9m10.3 0h3.9m6.8 0h3.8m24.6 0h3.9m12.8 0h3.8m34.5 0h3.8m3.2 0h3.8m3.1 0h3.8m6.7 0h3.8m10.1 0h7.3m20.6 0h3.8M96.2 664.3h7.3m13.6 0h7.3m3.2 0h3.8m20.6 0h14.2m17.1 0h7.3m10.1 0h3.8M44.3 665.7h3.9m6.8 0h3.8m10.4 0h3.8M158.9 667.0h3.8m13.6 0h3.8M23 668.4h3.8m17.5 0h3.9m13.9 0h10.9m75.5 0h3.8M37.2 669.8h3.8m14 0h3.8m20 0h3.8m10.1 0h3.8m10.2 0h3.8m17.1 0h3.8m6.6 0h7.3m31 0h3.8m3.2 0h3.8m10.1 0h3.8m3.2 0h3.5M19.4 671.1h3.9m24.6 0h3.8m44.5 0h7.3m31 0h3.8m20.6 0h3.8m6.7 0h3.8m13.6 0h3.8"/><path stroke="#9671c3" d="M82.3 643.9h3.8m62.4 0h3.8M172.9 645.3h3.7m3.2 0h3.8M193.8 648.0h3.7M99.7 661.6h3.8m3.2 0h3.8m31 0h3.8m13.6 0h3.8m13.6 0h3.8m6.7 0h3.8m6.6 0h3.8M62.1 663.0h3.8m12.9 0h3.8m97.2 0h7.3M92.7 664.3h3.8m72.9 0h3.8m6.6 0h3.8M15.9 668.4h7.4M85.8 669.8h3.8m6.6 0h3.8m58.9 0h3.8M82.3 671.1h3.8m69.3 0h3.8m34.6 0h3.7"/><path stroke="#8a63bb" d="M127.6 661.6h3.8M155.4 663.0h3.8M62.1 671.1h3.8"/></g><rect x="12.3" y="431.5" width="64.0" height="7.3" fill="#ee6c35"/><rect x="30.1" y="431.5" width="3.6" height="7.3" fill="#231d78"/><rect x="78.8" y="431.5" width="128.9" height="7.3" fill="#ee6c35"/><rect x="89.3" y="431.5" width="7.0" height="7.3" fill="#231d78"/><rect x="99.7" y="431.5" width="7.0" height="7.3" fill="#231d78"/><rect x="124.1" y="431.5" width="20.9" height="7.3" fill="#231d78"/><rect x="162.4" y="431.5" width="3.5" height="7.3" fill="#231d78"/><rect x="169.4" y="431.5" width="7.0" height="7.3" fill="#231d78"/><rect x="186.8" y="431.5" width="20.9" height="7.3" fill="#231d78"/><path d="M14.1 430.8L14.1 423.5M17.6 430.8L17.6 423.5M14.1 423.5L17.6 423.5M21.2 430.8L21.2 426.0M24.7 430.8L24.7 426.0M21.2 426.0L24.7 426.0M28.3 430.8L28.3 426.0M28.3 426.0L31.9 426.0M23.0 426.0L23.0 425.2M30.1 426.0L30.1 425.2M23.0 425.2L30.1 425.2M35.4 430.8L35.4 425.6M39.0 430.8L39.0 425.6M35.4 425.6L39.0 425.6M26.5 425.2L26.5 424.1M37.2 425.6L37.2 424.1M26.5 424.1L37.2 424.1M42.5 430.8L42.5 425.5M46.1 430.8L46.1 425.5M42.5 425.5L46.1 425.5M49.6 430.8L49.6 425.5M53.2 430.8L53.2 425.5M49.6 425.5L53.2 425.5M44.3 425.5L44.3 423.5M51.4 425.5L51.4 423.5M44.3 423.5L51.4 423.5M56.7 430.8L56.7 425.7M60.3 430.8L60.3 425.7M56.7 425.7L60.3 425.7M63.9 430.8L63.9 426.4M67.4 430.8L67.4 426.4M63.9 426.4L67.4 426.4M65.6 426.4L65.6 426.1M71.0 430.8L71.0 426.1M65.6 426.1L71.0 426.1M68.3 426.1L68.3 424.8M74.5 430.8L74.5 424.8M68.3 424.8L74.5 424.8M58.5 425.7L58.5 424.0M71.4 424.8L71.4 424.0M58.5 424.0L71.4 424.0M47.9 423.5L47.9 422.0M65.0 424.0L65.0 422.0M47.9 422.0L65.0 422.0M31.9 424.1L31.9 419.8M56.4 422.0L56.4 419.8M31.9 419.8L56.4 419.8M15.9 423.5L15.9 418.2M44.1 419.8L44.1 418.2M15.9 418.2L44.1 418.2M84.0 430.8L84.0 426.2M87.5 430.8L87.5 426.2M84.0 426.2L87.5 426.2M80.5 430.8L80.5 425.3M85.8 426.2L85.8 425.3M80.5 425.3L85.8 425.3M98.0 430.8L98.0 426.1M94.5 426.1L98.0 426.1M96.2 426.1L96.2 424.7M91.0 424.7L96.2 424.7M83.2 425.3L83.2 421.1M93.6 424.7L93.6 421.1M83.2 421.1L93.6 421.1M108.4 430.8L108.4 425.6M104.9 425.6L108.4 425.6M106.7 425.6L106.7 424.4M101.4 424.4L106.7 424.4M111.9 430.8L111.9 425.8M115.4 430.8L115.4 425.8M111.9 425.8L115.4 425.8M118.9 430.8L118.9 425.9M122.3 430.8L122.3 425.9M118.9 425.9L122.3 425.9M113.6 425.8L113.6 424.3M120.6 425.9L120.6 424.3M113.6 424.3L120.6 424.3M104.1 424.4L104.1 421.6M117.1 424.3L117.1 421.6M104.1 421.6L117.1 421.6M88.4 421.1L88.4 416.8M110.6 421.6L110.6 416.8M88.4 416.8L110.6 416.8M150.2 430.8L150.2 426.4M153.7 430.8L153.7 426.4M150.2 426.4L153.7 426.4M146.7 430.8L146.7 426.3M152.0 426.4L152.0 426.3M146.7 426.3L152.0 426.3M157.2 430.8L157.2 426.3M160.7 430.8L160.7 426.3M157.2 426.3L160.7 426.3M149.3 426.3L149.3 425.5M158.9 426.3L158.9 425.5M149.3 425.5L158.9 425.5M167.6 430.8L167.6 426.2M164.2 426.2L167.6 426.2M165.9 426.2L165.9 425.8M165.9 425.8L171.1 425.8M154.1 425.5L154.1 424.2M168.5 425.8L168.5 424.2M154.1 424.2L168.5 424.2M178.1 430.8L178.1 425.9M174.6 425.9L178.1 425.9M181.6 430.8L181.6 426.2M185.1 430.8L185.1 426.2M181.6 426.2L185.1 426.2M176.3 425.9L176.3 425.1M183.3 426.2L183.3 425.1M176.3 425.1L183.3 425.1M161.3 424.2L161.3 423.0M179.8 425.1L179.8 423.0M161.3 423.0L179.8 423.0M170.6 423.0L170.6 417.5M170.6 417.5L195.5 417.5M183.0 417.5L183.0 415.2M137.4 415.2L183.0 415.2M99.5 416.8L99.5 410.4M160.2 415.2L160.2 410.4M99.5 410.4L160.2 410.4M30.0 418.2L30.0 402.1M129.8 410.4L129.8 402.1M30.0 402.1L129.8 402.1" stroke="#3a3a3a" stroke-width="0.75" fill="none"/><path d="M31.9 430.8L31.9 426.0M94.5 430.8L94.5 426.1M91.0 430.8L91.0 424.7M104.9 430.8L104.9 425.6M101.4 430.8L101.4 424.4M125.8 430.8L125.8 426.2M129.3 430.8L129.3 426.2M125.8 426.2L129.3 426.2M127.6 426.2L127.6 425.8M132.8 430.8L132.8 425.8M127.6 425.8L132.8 425.8M130.2 425.8L130.2 423.0M136.3 430.8L136.3 423.0M130.2 423.0L136.3 423.0M139.8 430.8L139.8 423.9M143.2 430.8L143.2 423.9M139.8 423.9L143.2 423.9M133.2 423.0L133.2 420.5M141.5 423.9L141.5 420.5M133.2 420.5L141.5 420.5M164.2 430.8L164.2 426.2M171.1 430.8L171.1 425.8M174.6 430.8L174.6 425.9M188.5 430.8L188.5 425.5M192.0 430.8L192.0 425.5M188.5 425.5L192.0 425.5M195.5 430.8L195.5 425.6M199.0 430.8L199.0 425.6M195.5 425.6L199.0 425.6M202.5 430.8L202.5 426.3M206.0 430.8L206.0 426.3M202.5 426.3L206.0 426.3M197.2 425.6L197.2 424.2M204.2 426.3L204.2 424.2M197.2 424.2L204.2 424.2M190.3 425.5L190.3 420.4M200.7 424.2L200.7 420.4M190.3 420.4L200.7 420.4M195.5 420.4L195.5 417.5M137.4 420.5L137.4 415.2" stroke="#ec8e96" stroke-width="0.75" fill="none"/><text x="212.7" y="448.2" font-size="7" textLength="18.9" lengthAdjust="spacingAndGlyphs" >Status</text><rect x="212.5" y="453.0" width="7.1" height="6.6" fill="#ee6c35"/><rect x="212.5" y="465.0" width="7.1" height="6.6" fill="#231d78"/><text x="223.2" y="458.8" font-size="7" textLength="14.6" lengthAdjust="spacingAndGlyphs" >nt-FL</text><text x="223.2" y="471.2" font-size="7" textLength="14.2" lengthAdjust="spacingAndGlyphs" >st-FL</text><text x="213.5" y="505.7" font-size="7" textLength="20.3" lengthAdjust="spacingAndGlyphs" >Protein</text><text x="213.5" y="513.9" font-size="7" textLength="30.6" lengthAdjust="spacingAndGlyphs" >expression</text><rect x="213.1" y="523.1" width="7.4" height="37.7" fill="url(#cb)"/><text x="223" y="533" font-size="7" textLength="13.6" lengthAdjust="spacingAndGlyphs" >High</text><text x="223" y="557.2" font-size="7" textLength="11.6" lengthAdjust="spacingAndGlyphs" >Low</text><text x="283.5" y="382.5" font-size="12.5" fill="#111" font-weight="bold" >E</text><text x="313.2" y="392.6" font-size="9.3" textLength="143.0" lengthAdjust="spacingAndGlyphs">Input of proteins identified from <tspan font-style="italic">P</tspan> <tspan font-size="11.5">&lt;</tspan> .01</text><g fill="none" stroke-width="3.99"><path stroke="#db542d" d="M279.5 443.5h3.7m10.1 0h3.7m16.9 0h3.8m6.6 0h10.6m10 0h3.8"/><path stroke="#b9260c" d="M282.9 443.5h3.8m92.4 0h3.8m53.2 0h3.9m6.8 0h3.8m3.3 0h3.9m10.4 0h3.8"/><path stroke="#e15f38" d="M286.4 443.5h3.7m13.5 0h3.8m34.1 0h3.7m6.6 0h7.2m6.6 0h6.9"/><path stroke="#e97752" d="M289.8 443.5h3.8M307.1 447.4h3.7m82.5 0h3.9m13.9 0h3.9m28.2 0h3.9m6.8 0h7.4"/><path stroke="#d24825" d="M296.7 443.5h3.8m6.6 0h7.1m6.6 0h3.8m13.5 0h3.7m6.6 0h3.7m6.6 0h3.8m45.1 0h3.8m14 0h3.9m10.4 0h3.8m6.9 0h3.8m6.8 0h3.9"/><path stroke="#c13114" d="M300.2 443.5h3.7m96.5 0h3.9m14 0h3.8m6.9 0h3.8"/><path stroke="#e56b45" d="M317.4 443.5h3.7m41.1 0h3.7M313.9 447.4h3.8m61.4 0h3.8"/><path stroke="#ca3d1c" d="M334.6 443.5h3.8m37.1 0h3.9m3.2 0h18.2m3.2 0h3.9m3.2 0h7.5m3.2 0h3.9m6.8 0h3.9m6.8 0h3.9m10.4 0h3.8m3.3 0h3.9m3.2 0h3.6"/><path stroke="#f29d7e" d="M279.5 447.4h3.7m6.6 0h3.8m10 0h3.8m10 0h10.6m10.1 0h3.7m6.6 0h10.6m37.9 0h3.9m17.5 0h11M303.6 451.2h3.8m3.1 0h3.7m17 0h3.7m23.8 0h3.8m3.1 0h3.8m23.9 0h3.9m10.4 0h3.8m3.3 0h3.9m6.8 0h7.4m3.3 0h3.9m10.4 0h3.8m3.3 0h3.8m3.3 0h3.9m3.2 0h3.6M282.9 455.0h3.8m20.4 0h7.1m61.3 0h14.6m3.2 0h7.5m17.5 0h3.8m42.5 0h7.4M348.4 458.9h3.7m44.8 0h7.4m56.7 0h3.9M303.6 462.7h7.2m47.9 0h3.8m3.1 0h3.8M310.5 466.5h3.7m121.9 0h3.9m21 0h3.9M279.5 470.4h3.7m10.1 0h3.7m3.2 0h14m37.6 0h7.2m52.1 0h3.9M300.2 474.2h3.7m20.4 0h3.7m20.4 0h3.7m6.6 0h3.8m105.7 0h3.8M279.5 478.0h3.7m3.2 0h3.7m17 0h3.7m34.1 0h3.8m10 0h7.2"/><path stroke="#ed835e" d="M282.9 447.4h3.8m23.8 0h3.7m30.7 0h3.8m26.8 0h3.9m3.2 0h11m6.8 0h3.9m24.7 0h11m6.8 0h7.4m17.5 0h3.6M293.3 451.2h3.7m85.6 0h7.5m56.7 0h3.8m17.6 0h3.8M421.8 455.0h3.9m6.8 0h11m3.3 0h3.8M293.3 458.9h3.7m89.2 0h3.9m21 0h3.9m14 0h7.4m3.3 0h3.8m3.3 0h3.8M369.1 470.4h3.4"/><path stroke="#f08f6c" d="M286.4 447.4h3.7m3.2 0h10.6m30.7 0h3.8m20.3 0h7.2m3.2 0h3.4m31.5 0h3.9m6.8 0h3.9m21.1 0h3.8m17.5 0h7.5M279.5 451.2h3.7m3.2 0h3.7m10.1 0h3.7m37.6 0h3.7m65.9 0h3.9m17.5 0h3.9M389.8 455.0h3.8m14 0h7.4m14 0h3.8m10.4 0h3.9m6.8 0h11m6.8 0h3.6M303.6 458.9h3.8m16.9 0h3.7m51.1 0h7.4m17.5 0h7.4m3.3 0h7.4m14 0h3.9m3.2 0h3.9m10.4 0h3.8m6.9 0h7.1M279.5 474.2h3.7m48 0h3.7m10 0h3.8"/><path stroke="#f9d2c3" d="M327.7 447.4h3.8M439.7 451.2h3.8M296.7 458.9h3.8m27.2 0h3.8M293.3 462.7h3.7m78.5 0h3.9m17.5 0h3.9m6.8 0h3.8m42.5 0h3.9m6.8 0h3.9M293.3 466.5h7.2m16.9 0h10.6m10.1 0h3.7m6.6 0h3.7m51.9 0h3.9m31.8 0h3.8m6.9 0h3.8M296.7 470.4h3.8m78.6 0h3.8m14 0h3.9m13.9 0h3.9m31.8 0h3.8m3.3 0h3.8m3.3 0h3.9M327.7 474.2h3.8m44 0h3.9m3.2 0h3.9m3.3 0h3.8m10.4 0h7.4m28.3 0h3.8m3.3 0h7.4m10.4 0h3.9m3.2 0h3.6M296.7 478.0h3.8m16.9 0h3.7m58 0h3.8m24.7 0h7.4m14 0h7.4m10.4 0h3.8M293.3 481.9h3.7m10.1 0h3.7m10 0h3.8m3.1 0h3.8m16.9 0h3.7m3.2 0h3.7m6.6 0h3.8m9.7 0h3.8m28.2 0h3.9m6.8 0h3.9M282.9 485.7h3.8m6.6 0h3.7m10.1 0h10.6m13.5 0h3.7m3.2 0h3.7m13.5 0h3.7m10.1 0h3.4m38.6 0h3.9M375.5 493.4h3.9m3.2 0h3.9m3.3 0h3.8m31.8 0h3.9m10.4 0h7.4m6.8 0h7.4m6.9 0h7.1M279.5 497.2h3.7m17 0h3.7m10 0h3.8m3.1 0h7.2m6.6 0h3.8m20.3 0h3.8m3.1 0h3.8m6.1 0h3.9M286.4 501.1h3.7m10.1 0h3.7m10 0h3.8m23.8 0h3.7m17 0h3.7m16.7 0h3.9m13.9 0h3.9m14 0h3.8M369.1 504.9h3.4m6.6 0h3.8m3.3 0h7.4m10.4 0h3.9m6.8 0h3.9m6.8 0h7.4m10.4 0h3.9m13.9 0h11M282.9 508.7h3.8m78.9 0h6.9m3 0h3.9m6.8 0h3.9m3.2 0h3.9m3.2 0h3.9m10.4 0h3.9m13.9 0h11m17.5 0h3.9m3.3 0h3.8M331.2 512.6h3.7m13.5 0h7.2m13.5 0h3.4m6.6 0h3.8m6.9 0h3.8m31.8 0h11m10.4 0h3.8M375.5 516.4h3.9m74.5 0h3.9M379.1 520.3h3.8m31.8 0h3.9m13.9 0h3.9M464.6 531.8h3.9M421.8 543.3h3.9"/><path stroke="#f4ab90" d="M331.2 447.4h3.7m30.7 0h3.8m98.8 0h3.8M289.8 451.2h3.8m20.3 0h3.8m6.6 0h7.2m13.4 0h14.1m10.1 0h3.4m3 0h3.9m10.4 0h3.8m10.4 0h3.9m10.4 0h3.8m21.1 0h3.9M289.8 455.0h7.2m23.8 0h3.8m3.1 0h3.8m6.6 0h7.1m13.5 0h7.2m34.5 0h7.5m6.8 0h3.9m6.8 0h3.9m21.1 0h3.8M279.5 458.9h7.2m13.5 0h3.7m3.2 0h14m10.1 0h7.2m3.1 0h7.2m26.8 0h3.9m42.4 0h3.9m24.7 0h7.4m6.8 0h3.9M300.2 462.7h3.7m16.9 0h7.2m13.5 0h3.7m3.2 0h3.7m17 0h3.4m13.7 0h3.9m28.2 0h3.8m21.1 0h7.4m21.1 0h3.6M282.9 466.5h3.8m44.5 0h3.7m23.8 0h3.8m20.1 0h3.9m35.3 0h3.9m3.3 0h7.4m10.4 0h3.8m3.3 0h7.4m10.4 0h3.6M286.4 470.4h3.7m34.2 0h3.7m13.5 0h3.7m17 0h7.2m16.8 0h3.9m35.3 0h3.9m3.2 0h3.9m31.8 0h3.8M282.9 474.2h7.2m3.2 0h3.7m20.4 0h3.7m13.5 0h3.8m3.1 0h3.7m6.6 0h7.2m10.1 0h3.4M310.5 478.0h3.7m6.6 0h7.2m3.2 0h10.6m27.3 0h3.4M358.7 481.9h3.8m6.6 0h3.4M386.2 493.4h3.9M443.2 512.6h3.9"/><path stroke="#f6b9a2" d="M341.5 447.4h3.7m62.4 0h3.8M282.9 451.2h3.8m10 0h3.8m6.6 0h3.7m6.6 0h7.2m10 0h3.8m23.8 0h3.7m13.2 0h3.8m14 0h3.9m21 0h3.9m28.2 0h3.9m3.2 0h3.9M279.5 455.0h3.7m3.2 0h3.7m10.1 0h7.2m16.9 0h3.7m6.6 0h3.8m6.5 0h14.1m6.6 0h3.8M289.8 458.9h3.8m27.2 0h3.8m13.5 0h3.7m10 0h7.2m6.6 0h6.9m20.8 0h3.9m28.2 0h3.9M282.9 462.7h10.7m20.3 0h7.2m6.6 0h7.2m3.2 0h3.7m3.1 0h3.8m13.5 0h3.7m13.2 0h3.8m6.9 0h3.8m6.8 0h7.5m13.9 0h3.9m3.3 0h3.8m28.2 0h3.9m3.3 0h3.8M303.6 466.5h3.8m6.5 0h3.8m44.5 0h10.3m6.6 0h3.8m24.7 0h3.8m6.9 0h3.8m46.1 0h3.8M282.9 470.4h3.8m27.2 0h3.8m3.1 0h3.8m6.6 0h3.7m10 0h7.2m6.6 0h3.8m13 0h3.9m3.2 0h3.9m17.5 0h3.9m10.4 0h7.4m3.3 0h3.8m3.3 0h3.9m3.2 0h7.4m21.1 0h3.6M289.8 474.2h3.8m3.1 0h3.8m3.1 0h3.8m3.1 0h7.2m3.1 0h3.8m13.5 0h3.7m44.4 0h3.9m46 0h3.9M282.9 478.0h3.8m3.1 0h7.2m3.2 0h7.2m34.1 0h3.7m20.4 0h3.8M279.5 481.9h7.2m37.6 0h3.7M379.1 493.4h3.8m49.6 0h3.9M407.6 504.9h3.8m42.5 0h7.4M382.6 508.7h3.9M279.5 512.6h3.7m99.4 0h3.9m85.2 0h3.6M375.5 581.6h3.9"/><path stroke="#f8c6b4" d="M338.1 451.2h3.7m58.6 0h3.9M296.7 455.0h3.8m13.4 0h7.2m10.1 0h3.7m34.2 0h3.4M286.4 458.9h3.7m68.6 0h7.2m23.9 0h3.8M279.5 462.7h3.7m13.5 0h3.8m10 0h3.7m20.4 0h3.8m16.9 0h3.7m23.6 0h3.9m24.6 0h7.5m13.9 0h11m6.9 0h3.8m3.3 0h3.8M279.5 466.5h3.7m17 0h3.7m3.2 0h3.7m16.9 0h3.8m3.1 0h3.8m3.1 0h7.2m6.6 0h3.7m16.5 0h3.9m6.8 0h11m3.2 0h3.9m6.8 0h7.5m6.8 0h3.9m13.9 0h3.9m17.5 0h3.9M289.8 470.4h3.8m23.8 0h3.7m6.6 0h3.8m3.1 0h7.2m48 0h3.8m6.8 0h3.9m3.3 0h3.8m42.5 0h3.9m3.2 0h3.9M307.1 474.2h3.7m51.4 0h7.2m41.7 0h3.9m14 0h7.4m17.5 0h3.9M313.9 478.0h3.8m10 0h3.8m16.9 0h10.6m77.1 0h3.9M286.4 481.9h3.7m13.5 0h3.8m3.1 0h7.2m20.4 0h10.6m3.1 0h3.8m116.1 0h3.6M303.6 485.7h3.8m51.3 0h3.8M324.3 489.6h3.7M369.1 493.4h3.4m38.6 0h7.5m10.4 0h3.8m3.3 0h3.9M307.1 497.2h3.7m16.9 0h3.8m10 0h3.7m55.2 0h3.9m38.9 0h3.9m21.1 0h3.8M324.3 501.1h10.6m10 0h3.8m108.8 0h3.8M411.1 504.9h3.9m6.8 0h3.9m6.8 0h7.5m10.4 0h3.8M379.1 508.7h3.8m6.9 0h3.8m14 0h7.4m6.8 0h3.9m17.5 0h18.1m3.3 0h3.9m3.2 0h3.6M375.5 512.6h3.9m17.5 0h3.9m10.3 0h3.9m6.8 0h3.9m10.4 0h3.9m17.5 0h7.4M432.5 516.4h3.9m10.4 0h3.8m6.9 0h3.8M407.6 520.3h3.8m24.7 0h3.9M411.1 531.8h3.9M313.9 535.6h3.8"/><path stroke="#faddd2" d="M351.8 462.7h3.8m37.7 0h3.9m28.2 0h3.9M286.4 466.5h7.2m58.2 0h3.8m41.3 0h3.9M393.3 470.4h3.9M396.9 474.2h7.4m14 0h7.4m17.5 0h3.9M375.5 478.0h3.9m21 0h7.5m35.3 0h3.9m24.6 0h3.6M289.8 481.9h3.8m23.8 0h3.7m10.1 0h7.2m23.8 0h3.7m16.7 0h11m38.9 0h3.9M279.5 485.7h3.7m6.6 0h3.8m3.1 0h7.2m16.9 0h3.8m10 0h3.8m6.5 0h3.8m3.1 0h3.8m6.6 0h3.7m9.6 0h3.9m49.6 0h3.8m3.3 0h3.9M293.3 489.6h3.7m13.5 0h3.7m17 0h3.7m6.6 0h3.7m10.1 0h3.7m20.1 0h3.8M404 493.4h7.4m10.4 0h3.9M289.8 497.2h7.2m6.6 0h3.8m3.1 0h3.7m17 0h3.7m3.2 0h3.7m3.1 0h7.2m10.1 0h3.7m3.2 0h3.4m10.1 0h7.5m13.9 0h11m3.3 0h3.8m6.9 0h3.8m3.3 0h3.9m6.8 0h7.4m6.8 0h3.9M279.5 501.1h7.2m3.1 0h7.2m6.6 0h7.2m23.8 0h3.8m10 0h3.7m17 0h3.4m6.6 0h3.8m31.8 0h3.9m13.9 0h3.9m6.8 0h3.9m6.8 0h3.9m3.2 0h3.9M307.1 504.9h3.7m13.5 0h3.7m3.2 0h3.7m13.5 0h3.7m13.5 0h3.8m6.1 0h3.9m3.2 0h3.9m10.4 0h3.9m17.5 0h3.8m24.7 0h3.8m21.1 0h3.6M303.6 508.7h3.8m3.1 0h3.7m10.1 0h7.2m3.1 0h7.2m3.1 0h3.8m6.6 0h3.7m45 0h3.9m10.4 0h3.8m6.9 0h3.8M307.1 512.6h3.7m10 0h10.7m3.1 0h3.8m6.5 0h3.8m6.6 0h3.7m6.6 0h3.8m23.9 0h3.9m10.4 0h3.8m3.3 0h7.4m17.6 0h3.8m6.9 0h7.4m10.4 0h3.8M369.1 516.4h3.4m31.5 0h11m6.8 0h3.9m46 0h3.6M300.2 520.3h3.7m3.2 0h3.7m30.7 0h7.2m16.9 0h3.8m6.1 0h3.9m3.2 0h3.9m3.3 0h3.8m6.8 0h3.9m6.8 0h3.9m3.3 0h3.8m6.9 0h3.8m10.4 0h7.4m17.6 0h3.8M436.1 524.1h3.9M279.5 531.8h10.6m10.1 0h3.7m30.7 0h3.8m3.1 0h3.7m30.3 0h3.9m42.4 0h3.9m35.3 0h3.9M286.4 535.6h3.7m6.6 0h10.7m61.7 0h3.4m10.1 0h3.9m60.3 0h3.8M300.2 539.4h3.7m10 0h3.8m6.6 0h3.7M404 543.3h3.9m3.2 0h3.9m28.2 0h3.9M300.2 547.1h3.7m41 0h3.8M382.6 566.3h3.9M400.4 570.1h3.9M414.7 589.3h3.9"/><path stroke="#fbe8e1" d="M439.7 470.4h3.8M379.1 474.2h3.8m31.8 0h3.9m6.8 0h3.9m28.2 0h7.4M382.6 478.0h11m21.1 0h7.4m17.6 0h3.8m14 0h7.4M296.7 481.9h7.2m71.6 0h3.9m28.2 0h3.8m31.8 0h3.9m6.8 0h7.4m3.3 0h7.4M317.4 485.7h3.7m3.2 0h7.2m10 0h3.7m3.2 0h3.7m13.5 0h3.8m9.7 0h7.4m17.5 0h3.9m42.5 0h7.4m3.2 0h3.9M282.9 489.6h7.2m13.5 0h7.2m10 0h3.8m27.2 0h3.8m3.1 0h3.8m6.6 0h3.4m13.7 0h7.4m42.5 0h3.9m17.5 0h3.8m3.3 0h3.9M310.5 493.4h3.7m86.2 0h3.9m42.5 0h7.4m6.8 0h7.5M282.9 497.2h7.2m6.6 0h3.8m16.9 0h3.7m58 0h3.8m6.9 0h3.8m21.1 0h3.9m3.2 0h7.5m3.2 0h3.9m3.3 0h3.8m10.4 0h7.4m3.3 0h3.9m3.2 0h3.6M296.7 501.1h3.8m10 0h3.7m3.2 0h7.2m13.5 0h3.7m10 0h3.8m19.9 0h3.9m6.8 0h3.9m3.2 0h3.9m10.4 0h7.4m6.8 0h3.9m14 0h3.8m3.3 0h7.4m10.4 0h7.4M279.5 504.9h3.7m3.2 0h3.7m3.2 0h3.7m3.2 0h3.7m6.6 0h3.7m6.6 0h3.8m3.1 0h3.8m6.6 0h7.1m10.1 0h7.2m30.8 0h3.9m3.2 0h3.9m35.4 0h3.8M286.4 508.7h3.7m3.2 0h3.7m3.2 0h3.7m10 0h3.8m13.5 0h3.7m13.5 0h7.2m3.1 0h3.8m34.4 0h3.9m24.6 0h3.9M300.2 512.6h7.2m3.1 0h3.7m23.9 0h3.7m20.4 0h3.7m20.3 0h3.9m10.3 0h7.5m56.7 0h3.9M300.2 516.4h3.7m75.2 0h3.8m3.3 0h3.9m3.2 0h3.9m3.2 0h3.9m10.4 0h7.4m14 0h3.9m3.2 0h3.9m3.3 0h3.8m10.4 0h3.9M286.4 520.3h3.7m34.2 0h3.7m20.4 0h3.7m34.1 0h3.9m3.2 0h3.9m6.8 0h3.9m13.9 0h3.9m14 0h3.8m10.4 0h3.9m3.2 0h7.5m3.2 0h3.6M355.3 524.1h3.7m45 0h3.9m21.1 0h3.8m10.4 0h7.4m6.9 0h3.8M310.5 531.8h7.2m51.4 0h3.4m6.6 0h3.8m3.3 0h3.9m10.3 0h3.9m3.3 0h3.8m14 0h3.9m3.2 0h7.5m3.2 0h3.9m3.3 0h10.9M279.5 535.6h3.7m34.2 0h7.2m6.6 0h3.7m16.9 0h10.7m45.1 0h3.8m24.7 0h3.9m21 0h3.9M289.8 539.4h3.8m72 0h6.9m38.6 0h3.9m3.3 0h7.4M293.3 543.3h3.7m27.3 0h3.7m41.1 0h3.4m6.6 0h3.8m3.3 0h3.9m56.7 0h3.8m14 0h7.4M313.9 547.1h3.8M365.6 550.9h3.8M411.1 558.6h3.9m3.3 0h3.8M382.6 562.5h3.9m49.6 0h3.9m21 0h3.9M404 570.1h3.9m28.2 0h3.9M386.2 577.8h7.4M407.6 581.6h3.8m46.1 0h3.8M414.7 585.5h3.9m35.3 0h3.9M443.2 589.3h3.9"/><path stroke="#fcf3f0" d="M393.3 474.2h3.9M393.3 478.0h7.5m21 0h3.9m24.7 0h7.4m6.8 0h7.4M400.4 481.9h3.9m10.4 0h3.9m17.5 0h3.9m6.8 0h7.4m6.8 0h3.9M286.4 485.7h3.7m124.6 0h7.4m10.4 0h3.9m6.8 0h7.4m6.9 0h3.8m6.9 0h3.8M289.8 489.6h3.8m6.6 0h3.7m13.5 0h3.7m13.5 0h3.8m6.5 0h3.8m33.9 0h3.9m21.1 0h3.8m3.3 0h7.4m6.9 0h3.8M282.9 493.4h7.2m3.2 0h3.7m3.2 0h3.7m3.2 0h3.7m6.6 0h3.7m3.2 0h3.7m6.6 0h3.8m13.4 0h3.8m6.6 0h3.7m31 0h3.9m17.5 0h3.8M355.3 497.2h3.7m34.3 0h3.9M355.3 501.1h7.2m3.1 0h3.8m34.6 0h3.9m17.5 0h7.4m3.3 0h3.9m31.7 0h3.6M289.8 504.9h3.8m23.8 0h3.7m13.5 0h3.8m13.4 0h3.8M307.1 508.7h3.7m6.6 0h7.2m37.6 0h3.7M282.9 512.6h3.8m3.1 0h10.7m16.9 0h3.7m20.4 0h3.7m13.5 0h3.8M282.9 516.4h3.8m6.6 0h3.7m10.1 0h3.7m3.1 0h3.8m3.1 0h10.7m10 0h3.7m6.6 0h10.7m20.1 0h3.9m3.3 0h3.8m35.4 0h3.8m6.9 0h3.8m17.5 0h3.9m3.3 0h3.8M279.5 520.3h3.7m6.6 0h7.2m6.6 0h3.8m3.1 0h3.7m6.6 0h3.8m6.6 0h3.7m3.2 0h3.7m10 0h3.8m3.1 0h3.8m6.6 0h3.4m24.4 0h3.9m24.6 0h3.9m21.1 0h3.8m3.3 0h3.8M375.5 524.1h3.9m6.8 0h7.4m38.9 0h3.9m24.6 0h3.9M303.6 531.8h3.8m20.3 0h7.2m10 0h7.2m3.2 0h3.7m6.6 0h3.8m13.2 0h3.9m3.3 0h3.8m10.4 0h3.9m38.9 0h3.8M293.3 535.6h3.7m13.5 0h3.7m10.1 0h7.2m3.1 0h7.2m6.6 0h3.7m34.1 0h7.4m17.5 0h3.9m14 0h3.8m31.8 0h3.9M296.7 539.4h3.8m3.1 0h7.2m34.1 0h10.7m37.7 0h3.9m56.7 0h3.9m10.4 0h3.8M307.1 543.3h10.6m3.1 0h3.8m10 0h7.2m13.5 0h3.7m77.1 0h3.9m13.9 0h7.4M286.4 547.1h3.7m3.2 0h3.7m58.3 0h3.7m3.2 0h3.7m48.8 0h3.9m10.4 0h3.8m24.7 0h7.4M400.4 554.8h3.9m28.2 0h7.5m31.7 0h3.6M375.5 558.6h3.9m28.2 0h3.8m10.4 0h3.9m31.8 0h3.8m3.3 0h3.9M421.8 562.5h3.9m3.3 0h3.8m21.1 0h3.9m13.9 0h3.6M379.1 566.3h3.8m6.9 0h3.8m14 0h3.8M369.1 570.1h3.4m38.6 0h3.9m38.9 0h7.4M324.3 577.8h3.7m104.5 0h3.9m6.8 0h3.9M468.2 581.6h3.8"/><path stroke="#f9f3f7" d="M425.4 478.0h3.9M404 481.9h3.9m21.1 0h3.8M389.8 485.7h3.8m6.8 0h3.9m3.3 0h3.8m14 0h3.9m10.4 0h3.8m21.1 0h3.9m3.2 0h3.6M279.5 489.6h3.7m30.7 0h3.8m10 0h3.8m6.6 0h3.7m6.6 0h3.7m10.1 0h7.2m31 0h3.9m6.8 0h3.9m6.8 0h3.9m6.8 0h3.9m3.3 0h10.9M289.8 493.4h3.8m27.2 0h3.8m6.6 0h3.7m20.4 0h7.2m30.8 0h3.9M351.8 497.2h3.8M389.8 501.1h3.8M282.9 504.9h3.8m10 0h3.8m3.1 0h3.8m6.5 0h3.8m27.2 0h3.8m13.5 0h3.7M289.8 508.7h3.8m3.1 0h3.8m41 0h3.7M286.4 512.6h3.7m23.8 0h3.8M279.5 516.4h3.7m3.2 0h3.7m13.5 0h3.8m23.8 0h3.7m3.2 0h3.7m3.1 0h3.8m13.5 0h7.2m27.5 0h3.9m24.6 0h3.9M282.9 520.3h3.8m27.2 0h3.8m16.9 0h3.8m16.9 0h3.7m3.2 0h3.7M296.7 524.1h3.8m78.6 0h7.4m10.4 0h3.9m10.3 0h7.5m3.2 0h3.9m14 0h3.8m10.4 0h3.9m10.4 0h7.1M317.4 527.9h3.7M289.8 531.8h3.8m3.1 0h3.8m58.2 0h7.2m52.4 0h3.8m6.9 0h3.8m35.4 0h3.8M282.9 535.6h3.8m3.1 0h3.8m51.3 0h3.8m13.5 0h7.2m31 0h3.9m10.4 0h7.4m21.1 0h3.9M279.5 539.4h10.6m3.2 0h3.7m58.3 0h7.2m13 0h11m38.9 0h3.9m3.2 0h3.9m10.4 0h7.4M282.9 543.3h7.2m10.1 0h7.2m10 0h3.7m20.4 0h3.7m55.2 0h3.9m14 0h3.8M303.6 547.1h7.2m6.6 0h3.7m3.2 0h3.7m6.6 0h3.8m40.7 0h3.8m3.3 0h3.9m21 0h3.9M293.3 550.9h3.7m10.1 0h3.7m13.5 0h3.7m16.9 0h3.8m13.5 0h3.7m88 0h3.9M279.5 554.8h3.7m23.9 0h3.7m3.1 0h3.8m16.9 0h3.8m16.9 0h3.7m20.1 0h3.8m28.2 0h3.9m28.2 0h3.9M293.3 558.6h3.7m117.7 0h3.9m17.5 0h3.9m28.2 0h7.1M310.5 562.5h3.7m41.1 0h7.2m16.6 0h3.8m10.4 0h3.9m10.4 0h3.8m35.4 0h7.4m14 0h3.8M307.1 566.3h3.7m51.4 0h3.7m9.6 0h3.9m6.8 0h3.9m13.9 0h3.9m6.8 0h3.9m3.2 0h3.9m10.4 0h3.9m17.5 0h7.4M279.5 570.1h3.7m27.3 0h3.7m72 0h3.9m42.4 0h3.9m3.3 0h7.4m17.5 0h3.9M379.1 574.0h3.8m24.7 0h3.8m42.5 0h3.9m10.4 0h3.8M379.1 577.8h7.4m17.5 0h3.9m6.8 0h3.9m38.9 0h3.8M411.1 581.6h3.9M365.6 585.5h3.8m16.8 0h3.9m21 0h3.9m21.1 0h3.9m24.6 0h3.9M313.9 589.3h3.8m129.1 0h3.8M358.7 612.3h3.8"/><path stroke="#f2e9f4" d="M393.3 481.9h7.5m17.5 0h3.8m3.3 0h3.9m10.4 0h3.8M386.2 485.7h3.9m3.2 0h3.9m24.6 0h3.9M296.7 489.6h3.8m75 0h3.9m13.9 0h3.9m6.8 0h3.9m17.5 0h3.9m21.1 0h3.8m6.8 0h3.9M279.5 493.4h3.7m30.7 0h3.8m23.8 0h7.2m16.9 0h3.8M396.9 497.2h3.9M396.9 501.1h3.9M279.5 508.7h3.7M296.7 516.4h3.8m16.9 0h3.7m27.3 0h3.7M296.7 520.3h3.8m16.9 0h3.7m6.6 0h3.8M286.4 524.1h3.7m79 0h3.4m35.1 0h3.8m6.9 0h3.8m3.3 0h3.9m21.1 0h3.8M331.2 527.9h3.7m72.7 0h3.8m17.6 0h3.8m3.3 0h3.9m3.2 0h3.9M293.3 531.8h3.7m10.1 0h3.7m10 0h7.2m10.1 0h3.7m10 0h3.8m59.1 0h3.9m21.1 0h3.8m28.2 0h3.6M307.1 535.6h3.7m82.5 0h3.9m6.8 0h3.9m24.6 0h3.9m21.1 0h3.8m10.4 0h3.6M310.5 539.4h3.7m20.4 0h3.8m23.8 0h3.7m31 0h3.9m3.2 0h3.9m28.2 0h3.9m3.2 0h3.9M279.5 543.3h3.7m13.5 0h3.8m47.9 0h7.2m3.1 0h3.8m3.1 0h3.8m6.1 0h3.9m3.2 0h3.9m6.8 0h3.9m10.4 0h3.8m14 0h3.9m3.2 0h3.9M279.5 547.1h3.7m37.6 0h3.8m16.9 0h3.7m3.2 0h7.2m10 0h3.8m38.2 0h3.8m10.4 0h7.5m6.8 0h3.9m10.4 0h7.4M282.9 550.9h7.2m10.1 0h7.2m3.1 0h3.7m17 0h10.6m27.3 0h3.4m38.6 0h3.9m31.8 0h3.8M282.9 554.8h3.8m13.5 0h3.7m20.4 0h3.7m16.9 0h3.8m20.4 0h3.4m13.7 0h3.9m17.5 0h3.8m3.3 0h3.9m3.2 0h3.9m14 0h3.8m10.4 0h7.4M300.2 558.6h7.2m16.9 0h3.7m34.2 0h3.7m13.2 0h14.5m3.3 0h3.9m31.7 0h3.9m3.3 0h10.9m3.3 0h3.9m3.2 0h3.9M279.5 562.5h3.7m54.9 0h3.7m20.4 0h7.2m20.4 0h3.8m3.3 0h7.4m14 0h3.8m3.3 0h3.9m10.4 0h7.4M331.2 566.3h3.7m62 0h3.9m17.5 0h3.8m17.6 0h3.8m24.7 0h3.8M313.9 570.1h3.8m6.6 0h3.7m20.4 0h3.7m27 0h3.8m14 0h3.9m6.8 0h3.8m3.3 0h3.9m10.4 0h3.8m14 0h7.4m14 0h7.1M279.5 574.0h3.7m3.2 0h3.7m68.6 0h3.8m23.7 0h3.9m3.2 0h3.9m21.1 0h3.8m21.1 0h7.4m6.9 0h3.8m3.3 0h3.9M400.4 577.8h3.9m35.4 0h3.8m3.3 0h7.4m17.5 0h3.6M317.4 581.6h3.7m58 0h7.4m3.3 0h3.8m3.3 0h3.9m28.2 0h3.8m38.9 0h3.6M303.6 585.5h3.8m68.1 0h3.9m3.2 0h3.9m13.9 0h3.9m14 0h7.4m6.8 0h3.9m21.1 0h3.8M389.8 589.3h3.8m14 0h3.8m6.9 0h3.8m28.3 0h3.8m14 0h7.1M411.1 593.1h3.9m28.2 0h3.9m6.8 0h3.9M446.8 597.0h3.8M446.8 604.7h3.8M282.9 620.0h3.8M358.7 639.2h3.8m45.1 0h3.8m21.1 0h7.5M375.5 658.4h3.9m6.8 0h3.9"/><path stroke="#ebdff1" d="M396.9 485.7h3.9M396.9 489.6h3.9m67.4 0h7.1M296.7 493.4h3.8m3.1 0h3.8m20.3 0h3.8m6.6 0h3.7m6.6 0h3.7M289.8 516.4h3.8m16.9 0h3.7m20.4 0h3.8M289.8 524.1h3.8m6.6 0h3.7m13.5 0h3.7m72.2 0h3.9m3.2 0h3.9m60.3 0h3.9M286.4 527.9h3.7m34.2 0h3.7m51.1 0h3.8m6.9 0h7.4m13.9 0h3.9m6.8 0h3.9m6.8 0h3.9m14 0h3.8m3.3 0h7.4m6.8 0h3.6M317.4 531.8h3.7m72.2 0h7.5M341.5 535.6h3.7m51.7 0h3.9m21 0h7.5m10.4 0h3.8m10.4 0h3.9m10.4 0h3.8M317.4 539.4h3.7m10.1 0h3.7m3.2 0h3.7m48 0h3.8m21.1 0h3.9m10.4 0h3.8m6.9 0h3.8m28.2 0h3.6M327.7 543.3h7.2m10 0h3.8m101.7 0h3.8M282.9 547.1h3.8m23.8 0h3.7m13.5 0h7.2m3.2 0h3.7m16.9 0h3.8m6.6 0h3.4m17.3 0h7.4m6.8 0h3.9m10.4 0h3.8m10.4 0h3.9m31.8 0h7.1M279.5 550.9h3.7m13.5 0h3.8m27.2 0h3.8m47.6 0h3.8m10.4 0h3.9m3.2 0h3.9m3.3 0h3.8m24.7 0h7.4m21.1 0h10.7M296.7 554.8h3.8m3.1 0h3.8m10 0h3.7m6.6 0h3.8m10 0h3.7m6.6 0h3.8m19.9 0h3.9m24.6 0h3.9m10.4 0h3.8m3.3 0h7.4m14 0h3.8m10.4 0h11M286.4 558.6h3.7m51.4 0h3.7m48.1 0h3.9m53.2 0h3.8M303.6 562.5h7.2m6.6 0h3.7m3.2 0h3.7m6.6 0h3.8m72.7 0h7.5m13.9 0h3.9m21.1 0h3.8m3.3 0h3.9M282.9 566.3h3.8m6.6 0h3.7m3.2 0h3.7m20.4 0h3.7m6.6 0h3.8m27.2 0h3.8m41.7 0h3.9m10.4 0h7.4m14 0h3.8m3.3 0h3.9M286.4 570.1h3.7m3.2 0h3.7m3.2 0h3.7m3.2 0h3.7m34.1 0h3.8m3.1 0h3.8m3.1 0h3.8m20.1 0h3.9m6.8 0h3.9m24.6 0h7.5M282.9 574.0h3.8m6.6 0h3.7m10.1 0h3.7m30.7 0h3.7m23.9 0h3.4m24.4 0h3.9m3.2 0h3.9m3.2 0h3.9m14 0h7.4m35.3 0h3.6M429 577.8h3.8m28.2 0h3.9m3.3 0h3.8M279.5 581.6h3.7m23.9 0h3.7m37.6 0h3.7m13.5 0h3.8m16.8 0h3.9m3.2 0h3.9m3.2 0h3.9m10.4 0h7.4m14 0h3.9m3.2 0h3.9m13.9 0h3.9M282.9 585.5h3.8m13.5 0h3.7m100.1 0h3.9m38.9 0h7.4m6.8 0h3.9m3.3 0h7.1M307.1 589.3h3.7m64.7 0h11m10.4 0h7.4m6.8 0h3.9m6.8 0h3.9m10.4 0h3.9m13.9 0h3.9M351.8 593.1h3.8m19.9 0h7.4m3.3 0h3.9m24.6 0h3.9m28.2 0h7.4M279.5 597.0h7.2m99.5 0h3.9m28.2 0h3.8M436.1 600.8h3.9M436.1 604.7h3.9M379.1 608.5h3.8M453.9 612.3h3.9M443.2 616.2h3.9M365.6 623.8h3.8M418.3 635.4h3.8M411.1 639.2h3.9m6.8 0h3.9M327.7 643.0h3.8M436.1 658.4h3.9"/><path stroke="#dccbea" d="M279.5 524.1h3.7m10.1 0h3.7m34.2 0h3.7m16.9 0h3.8M386.2 527.9h3.9m10.3 0h3.9m14 0h3.8m31.8 0h3.9M375.5 535.6h3.9M341.5 539.4h3.7M461 543.3h3.9M400.4 547.1h3.9M341.5 550.9h3.7m3.2 0h7.2m34.2 0h3.8m3.3 0h3.9m13.9 0h11m17.5 0h3.9m10.4 0h3.8M293.3 554.8h3.7m23.8 0h3.8m6.6 0h3.7m13.5 0h3.7m6.6 0h3.8m30.8 0h3.9M289.8 558.6h3.8m3.1 0h3.8m16.9 0h3.7m6.6 0h3.8m3.1 0h3.8m27.2 0h3.8M293.3 562.5h7.2m27.2 0h3.8m10 0h3.7m30.3 0h3.9m6.8 0h3.9M296.7 566.3h3.8m27.2 0h3.8m6.6 0h10.6m10 0h3.8m37.9 0h3.9M289.8 570.1h3.8m27.2 0h3.8m30.7 0h3.7m59.3 0h3.8m38.9 0h3.9M289.8 574.0h3.8m27.2 0h3.8m6.6 0h3.7m3.2 0h3.7m13.5 0h3.7m3.2 0h3.7m9.6 0h3.9m10.4 0h3.8m42.5 0h7.4M282.9 577.8h3.8m16.9 0h3.8m23.8 0h10.6m3.1 0h3.8m44.6 0h3.9m13.9 0h3.9m21.1 0h3.9m13.9 0h3.9m6.8 0h3.9M282.9 581.6h3.8m13.5 0h3.7m135.8 0h3.8M310.5 585.5h3.7m3.2 0h10.6m6.6 0h7.2m3.1 0h3.8m44.6 0h3.9m10.4 0h3.8M300.2 589.3h3.7m23.8 0h3.8m3.1 0h7.2m51.5 0h3.9m67.4 0h3.9M303.6 593.1h3.8m6.5 0h3.8m20.4 0h7.1m55.2 0h3.9m3.3 0h3.8m6.9 0h3.8m35.4 0h3.8M289.8 597.0h3.8m13.5 0h3.7m34.1 0h3.8m80.3 0h3.8m3.3 0h3.9m17.5 0h3.8m3.3 0h3.9M279.5 600.8h3.7m3.2 0h3.7m13.5 0h3.8m10 0h3.7m10.1 0h3.7m47.7 0h3.9m3.3 0h3.8m14 0h3.8m31.8 0h7.4m21.1 0h3.6M369.1 604.7h3.4m77.9 0h3.8m17.5 0h3.6M341.5 608.5h3.7m17 0h3.7m3.2 0h3.4m10.1 0h11m6.8 0h3.9m10.4 0h3.9m28.2 0h3.8m14 0h3.9M279.5 612.3h3.7m17 0h3.7m6.6 0h3.7m34.2 0h3.7m13.5 0h3.8m73.8 0h7.4M303.6 616.2h3.8m3.1 0h3.7m41.1 0h3.7m45 0h7.4m21.1 0h7.5m17.5 0h3.8M289.8 620.0h3.8m41 0h7.2m76.5 0h3.8m14 0h3.9M293.3 623.8h3.7m16.9 0h3.8m6.6 0h3.7m136.6 0h3.9M293.3 627.7h3.7m3.2 0h3.7m44.5 0h3.7m37.7 0h3.8m14 0h3.8m46.1 0h3.8M286.4 631.5h3.7m10.1 0h10.6m68.3 0h3.8m14 0h3.9m42.4 0h3.9m24.6 0h3.6M317.4 635.4h3.7m34.2 0h3.7m62.8 0h3.9m6.8 0h3.9m31.8 0h3.8M317.4 639.2h3.7m54.4 0h7.4m3.3 0h3.9m56.7 0h3.8m21.1 0h3.6M286.4 643.0h3.7m34.2 0h3.7m23.8 0h3.8m59.1 0h3.9M279.5 646.9h3.7m30.7 0h3.8m64.9 0h3.9m21.1 0h3.8m24.7 0h3.9m28.2 0h3.8M457.5 650.7h3.8m6.9 0h3.8M317.4 654.5h3.7m65.1 0h3.9M439.7 658.4h3.8m28.2 0h3.6M382.6 662.2h3.9m21.1 0h3.8"/><path stroke="#e3d5ee" d="M453.9 489.6h3.9M282.9 524.1h3.8m51.4 0h3.7m6.6 0h3.7M282.9 527.9h3.8m3.1 0h3.8m27.2 0h3.8m13.5 0h3.7m3.1 0h3.8m26.8 0h3.9m17.5 0h3.9m3.2 0h3.9m6.8 0h3.9m6.8 0h3.9m17.5 0h3.8m14 0h3.9M379.1 535.6h3.8m67.5 0h3.8M320.8 539.4h3.8m3.1 0h3.8m54.7 0h3.9m10.3 0h3.9m3.3 0h3.8m46.1 0h11M362.2 543.3h3.7m23.9 0h3.8m21.1 0h3.9m10.4 0h3.8m6.9 0h3.8m28.2 0h3.6M289.8 547.1h3.8m3.1 0h3.8m75 0h3.9m3.2 0h3.9m10.4 0h3.9m38.9 0h10.9m14 0h3.9M289.8 550.9h3.8m27.2 0h3.8m30.7 0h3.7m45 0h3.9m24.6 0h3.9M286.4 554.8h3.7m20.4 0h3.7m51.4 0h3.8m27.5 0h3.9m49.6 0h3.8M282.9 558.6h3.8m20.4 0h3.7m3.1 0h3.8m34.1 0h10.7m6.6 0h3.4m27.9 0h7.5m17.5 0h7.4M300.2 562.5h3.7m10 0h3.8m3.1 0h3.8m20.3 0h7.2m17 0h3.4M279.5 566.3h3.7m27.3 0h7.2m3.1 0h3.8m23.8 0h3.7m3.2 0h3.7m10.1 0h3.4m20.8 0h3.9m35.3 0h3.9m6.8 0h3.9m24.6 0h3.6M282.9 570.1h3.8m30.7 0h3.7m17 0h3.7m23.8 0h3.8m6.1 0h3.9M310.5 574.0h7.2m6.6 0h3.7m20.4 0h3.7m13.5 0h3.8m13.2 0h3.9m13.9 0h3.9m10.4 0h3.9m42.4 0h3.9M279.5 577.8h3.7m10.1 0h3.7m30.7 0h3.8m10 0h3.7m23.9 0h3.4m3 0h3.9m17.5 0h3.9m6.8 0h3.8m6.9 0h11M286.4 581.6h10.6m13.5 0h3.7m6.6 0h7.2m16.9 0h3.8m20.4 0h3.4m31.5 0h3.9m13.9 0h3.9m6.8 0h3.9m14 0h7.4M279.5 585.5h3.7m3.2 0h3.7m17 0h3.7m16.9 0h3.8m10 0h3.7m44.6 0h3.8m3.3 0h3.9m28.2 0h3.8m6.9 0h3.8M303.6 589.3h3.8m3.1 0h3.7m3.2 0h3.7m3.2 0h3.7m13.5 0h3.7m41 0h3.9m13.9 0h3.9m21.1 0h7.4m3.3 0h3.8m14 0h7.4M320.8 593.1h3.8m30.7 0h3.7m77.1 0h7.4m21.1 0h3.9m3.2 0h3.6M331.2 597.0h3.7m47.7 0h3.9m24.6 0h3.9m6.8 0h7.5m3.2 0h3.9m17.5 0h3.9m3.2 0h3.9M282.9 600.8h3.8m34.1 0h7.2m20.4 0h3.7m34.1 0h3.9M324.3 604.7h3.7m90.3 0h3.8m6.9 0h3.8M358.7 608.5h3.8m13 0h3.9m28.2 0h7.4m21.1 0h3.9m17.5 0h3.8M307.1 612.3h3.7m23.8 0h3.8m23.8 0h3.7M453.9 616.2h3.9m13.9 0h3.6M327.7 620.0h3.8m13.4 0h3.8m16.9 0h3.8m41.7 0h3.9m42.5 0h3.8M303.6 623.8h3.8m30.7 0h3.7m16.9 0h3.8m27.3 0h3.8m53.2 0h3.8m6.9 0h7.4M282.9 627.7h3.8M446.8 631.5h3.8m3.3 0h3.9m6.8 0h3.9M400.4 635.4h3.9M369.1 639.2h3.4m24.4 0h3.9m13.9 0h3.9m38.9 0h3.8M282.9 643.0h3.8m16.9 0h3.8m51.3 0h3.8M293.3 646.9h3.7m82.1 0h3.8m46.1 0h3.8M382.6 650.7h3.9M324.3 654.5h3.7M432.5 658.4h3.9m21.1 0h3.8M457.5 662.2h3.8"/><path stroke="#cbb3e2" d="M303.6 524.1h7.2m10 0h3.8m16.9 0h3.7m13.5 0h3.8M293.3 527.9h3.7m13.5 0h3.7m20.4 0h3.8m16.9 0h3.7m6.6 0h3.8M313.9 550.9h3.8m41 0h3.8M289.8 554.8h3.8m96.2 0h3.8M331.2 558.6h3.7m13.5 0h3.7M351.8 562.5h3.8M286.4 566.3h3.7m160.3 0h3.8M296.7 570.1h3.8m34.1 0h3.8m23.8 0h3.7M344.9 574.0h3.8M286.4 577.8h3.7m75.5 0h3.8M334.6 581.6h3.8m3.1 0h3.7m101.6 0h3.8M296.7 585.5h3.8m30.7 0h3.7m13.5 0h3.7m3.2 0h3.7m3.2 0h3.7M279.5 589.3h7.2m3.1 0h3.8m27.2 0h3.8m27.2 0h3.8m10 0h6.9m52.9 0h3.9M279.5 593.1h10.6m20.4 0h3.7m3.2 0h3.7m6.6 0h3.8m16.9 0h3.7m10.1 0h3.7m66.6 0h3.9M310.5 597.0h3.7m6.6 0h7.2m30.7 0h7.2m34.5 0h3.9m38.9 0h3.9m3.3 0h3.8M293.3 600.8h7.2m34.1 0h3.8m3.1 0h3.7m10.1 0h3.7m37.9 0h3.9m24.6 0h3.9M289.8 604.7h3.8m6.6 0h3.7m61.7 0h3.8m56 0h3.9m31.7 0h3.9M282.9 608.5h3.8m16.9 0h3.8m6.5 0h3.8m6.6 0h14.1m16.9 0h3.7m6.6 0h3.8m52.4 0h3.9m42.5 0h3.8M286.4 612.3h3.7m6.6 0h3.8m13.4 0h3.8m27.2 0h3.8m20.4 0h3.4m42.2 0h3.9m3.2 0h3.9m35.3 0h3.9m3.3 0h3.8M279.5 616.2h3.7m3.2 0h3.7m17 0h3.7m13.5 0h7.2m3.1 0h10.6m30.3 0h11m10.4 0h3.9m17.5 0h3.8m3.3 0h3.9m35.3 0h7.4M279.5 620.0h3.7m23.9 0h7.1m27.3 0h3.7m13.5 0h7.2m20.3 0h3.9m13.9 0h7.4m21.1 0h3.9M289.8 623.8h3.8m34.1 0h3.8m20.3 0h3.8m66.2 0h3.9m6.8 0h3.9M286.4 627.7h3.7m41.1 0h3.7m3.2 0h3.7m3.1 0h3.8m16.9 0h3.8m23.9 0h7.5m10.3 0h3.9m14 0h3.8m3.3 0h3.9m10.4 0h3.8M282.9 631.5h3.8m23.8 0h3.7m10.1 0h3.7m111.7 0h3.8m6.9 0h3.8m14 0h3.8M279.5 635.4h3.7m3.2 0h7.2m20.3 0h3.8m3.1 0h7.2m30.7 0h3.8m3.1 0h3.8m6.1 0h3.9m56.7 0h3.9m10.4 0h14.5M279.5 639.2h3.7m3.2 0h3.7m30.7 0h3.8m23.8 0h7.2m34.2 0h3.8m10.4 0h3.9m46 0h3.9m3.2 0h7.5M296.7 643.0h7.2m85.9 0h3.8m35.4 0h3.8m10.4 0h3.9m10.4 0h3.8M296.7 646.9h3.8m6.6 0h3.7m13.5 0h3.7m10.1 0h3.7m13.5 0h3.7m10.1 0h3.4m27.9 0h3.9m17.5 0h3.9m6.8 0h3.9m21.1 0h3.8m3.3 0h3.9M331.2 650.7h3.7m27.3 0h7.2m16.8 0h7.4m6.8 0h3.9m24.7 0h11m3.2 0h3.9m3.3 0h7.4m6.8 0h3.9M303.6 654.5h3.8m13.4 0h3.8m10 0h3.8m6.5 0h3.8m6.6 0h3.7m6.6 0h3.8m9.7 0h7.4m13.9 0h3.9m3.3 0h3.8m6.9 0h3.8m3.3 0h3.9M307.1 658.4h3.7m23.8 0h7.2m3.1 0h3.8m3.1 0h3.8m3.1 0h3.8m6.6 0h3.4m10.1 0h3.9m21.1 0h3.8m3.3 0h3.9M324.3 662.2h3.7m65.3 0h3.9m24.6 0h3.9M348.4 666.0h3.7m23.4 0h3.9m24.6 0h3.9M375.5 669.9h3.9"/><path stroke="#d3bfe6" d="M310.5 524.1h7.2m6.6 0h3.7m16.9 0h3.8M300.2 527.9h3.7m47.9 0h3.8m6.6 0h3.7m3.2 0h3.4m10.1 0h3.9m53.2 0h3.8m24.7 0h3.8M289.8 543.3h3.8M317.4 550.9h3.7m54.4 0h3.9m3.2 0h7.5m35.3 0h7.4m17.6 0h3.8M338.1 554.8h3.7m20.4 0h3.7m16.7 0h3.9M279.5 558.6h3.7m27.3 0h3.7m6.6 0h3.8m13.5 0h3.7M286.4 562.5h7.2m37.6 0h3.7m69.1 0h3.9M303.6 566.3h3.8m10 0h3.7m143.5 0h3.9M303.6 570.1h3.8m20.3 0h7.2M296.7 574.0h10.7m20.3 0h3.8m20.3 0h3.8m66.2 0h3.9m24.7 0h3.8M310.5 577.8h3.7m3.2 0h3.7m30.7 0h3.8m3.1 0h7.2M303.6 581.6h3.8m23.8 0h3.7m3.2 0h3.7m10 0h3.8m6.6 0h3.7m59.5 0h3.9m35.3 0h3.9M289.8 585.5h7.2m16.9 0h3.8m34.1 0h3.8m3.1 0h3.8m16.6 0h3.8m42.5 0h3.9m13.9 0h3.9M293.3 589.3h7.2m30.7 0h3.7m10 0h3.8M289.8 593.1h7.2m3.2 0h3.7m41 0h3.8m33.9 0h3.9m3.3 0h3.8m3.3 0h3.9m3.2 0h3.9m17.5 0h3.9m31.7 0h3.9m3.3 0h3.8M286.4 597.0h3.7m6.6 0h10.7m6.5 0h3.8m10 0h3.8m10 0h3.7m3.2 0h3.7m3.2 0h3.7m6.6 0h6.9m3 0h7.4m10.4 0h3.9m10.4 0h3.8m28.3 0h3.8M289.8 600.8h3.8m13.5 0h7.1m13.5 0h3.8m34.1 0h6.9m3 0h3.9m13.9 0h3.9m3.2 0h3.9m6.8 0h3.9m3.3 0h7.4m6.8 0h3.9m3.3 0h3.8m10.4 0h3.9M293.3 604.7h3.7m10.1 0h17.5m6.6 0h3.7m3.2 0h3.7m20.4 0h3.7m9.6 0h14.6m10.3 0h11m3.3 0h3.9m13.9 0h3.9m21.1 0h3.8M279.5 608.5h3.7m10.1 0h3.7m96.3 0h3.9m35.3 0h3.9m6.8 0h3.9m6.8 0h3.9m13.9 0h3.6M317.4 612.3h3.7m3.2 0h7.2m10 0h3.7m30.3 0h7.4m28.2 0h3.9M282.9 616.2h3.8m30.7 0h3.7m10.1 0h3.7m30.7 0h6.9m38.6 0h3.9m6.8 0h3.9m3.3 0h3.8m6.9 0h3.8m3.3 0h3.8M293.3 620.0h3.7m3.2 0h3.7m13.5 0h3.7m61.5 0h3.9m81.7 0h7.1M279.5 623.8h10.6m17 0h3.7m6.6 0h3.7m10.1 0h3.7m47.7 0h3.9m17.5 0h3.9m3.2 0h3.9m10.4 0h7.4m21.1 0h3.9m13.9 0h3.6M307.1 627.7h3.7m3.1 0h3.8m6.6 0h3.7m13.5 0h3.7m13.5 0h3.8m20.1 0h3.9m17.5 0h3.9m31.8 0h3.8m24.7 0h3.8M344.9 631.5h3.8m6.6 0h3.7m27.2 0h3.9m17.5 0h7.4m14 0h7.4M293.3 635.4h3.7m3.2 0h3.7m6.6 0h3.7m13.5 0h3.8m3.1 0h3.8m44.2 0h3.9m17.5 0h3.9m35.3 0h7.4M289.8 639.2h3.8m13.5 0h7.1m13.5 0h3.8m3.1 0h3.8m44.2 0h3.9m38.9 0h3.9m13.9 0h3.9m21.1 0h3.8M293.3 643.0h3.7m10.1 0h7.1m3.2 0h7.2m54.5 0h3.8m10.4 0h3.9m10.4 0h3.8m24.7 0h3.9m28.2 0h3.8M396.9 646.9h3.9m53.1 0h3.9m13.9 0h3.6M303.6 650.7h3.8m3.1 0h3.7m41.1 0h3.7m16.5 0h3.9m28.2 0h7.4m6.8 0h7.5m17.5 0h3.8M286.4 654.5h3.7m6.6 0h7.2m3.2 0h3.7m27.3 0h3.7m51.5 0h3.9m13.9 0h3.9m31.8 0h3.8m6.9 0h3.8m6.9 0h7.1M355.3 658.4h3.7m34.3 0h3.9m13.9 0h3.9m31.8 0h3.8m17.6 0h3.8M300.2 662.2h3.7m82.3 0h3.9m10.3 0h3.9m67.4 0h3.6M296.7 666.0h3.8m68.6 0h3.4m49.3 0h3.9M382.6 669.9h3.9m31.8 0h7.4m10.4 0h3.9"/><path stroke="#c3a7de" d="M327.7 524.1h3.8m34.1 0h3.8M303.6 527.9h3.8m34.1 0h3.7M344.9 558.6h3.8M282.9 562.5h3.8M289.8 566.3h3.8M334.6 574.0h3.8m87 0h3.9M296.7 577.8h7.2m44.5 0h3.7M296.7 581.6h3.8m27.2 0h3.8m23.8 0h3.7M369.1 585.5h3.4M286.4 589.3h3.7m58.3 0h3.7M296.7 593.1h3.8m6.6 0h3.7m13.5 0h3.7m3.2 0h7.2m30.7 0h3.4m20.8 0h3.9m24.6 0h3.9M317.4 597.0h3.7m13.5 0h3.8m13.4 0h3.8m34.2 0h3.8m3.3 0h3.9m3.2 0h3.9m60.3 0h3.8M300.2 600.8h3.7m34.2 0h3.7m3.1 0h3.8m10 0h7.2m13.2 0h3.8m46.1 0h3.8m17.6 0h3.8M279.5 604.7h10.6m13.5 0h3.8m27.2 0h3.8m3.1 0h3.7m3.2 0h7.2m3.1 0h3.8m27.3 0h7.4m13.9 0h3.9m6.8 0h3.9m14 0h3.8m21.1 0h3.9M286.4 608.5h7.2m6.6 0h3.7m3.2 0h7.1m6.6 0h3.8m13.5 0h3.7m3.1 0h3.8m3.1 0h3.8m48.4 0h3.9m10.4 0h3.8m17.6 0h3.8m17.5 0h3.9M282.9 612.3h3.8m16.9 0h3.8m13.4 0h3.8m27.2 0h7.2m27.2 0h3.9m35.3 0h7.4m6.9 0h3.8m6.9 0h3.8m17.5 0h3.6M320.8 616.2h3.8m23.8 0h7.2m6.6 0h3.7m20.3 0h11m3.2 0h3.9m46.1 0h3.8m6.8 0h3.9M296.7 620.0h3.8m3.1 0h3.8m16.9 0h3.7m3.2 0h3.7m13.5 0h3.7m3.2 0h3.7m10.1 0h3.4m6.6 0h3.8m17.5 0h3.9m21.1 0h7.4m14 0h3.8M296.7 623.8h3.8m34.1 0h3.8m10 0h3.7m3.2 0h3.7m20.1 0h3.8m24.7 0h3.8m3.3 0h7.4m14 0h3.9m28.2 0h3.8M303.6 627.7h3.8m13.4 0h3.8m44.5 0h3.4m6.6 0h3.8m17.5 0h3.9m17.5 0h3.9m6.8 0h3.9m6.8 0h7.4m14 0h3.9m3.2 0h3.6M313.9 631.5h3.8m3.1 0h3.8m13.5 0h7.1m13.5 0h3.8m20.1 0h3.9m6.8 0h3.9m6.8 0h3.9m6.8 0h3.9m3.2 0h3.9m10.4 0h3.9M307.1 635.4h3.7m20.4 0h3.7m6.6 0h3.7m3.2 0h3.7m27 0h3.8m3.3 0h3.9m3.2 0h3.9m10.4 0h7.4m49.6 0h3.9M296.7 639.2h7.2m27.3 0h3.7m104.8 0h3.8M289.8 643.0h3.8m20.3 0h3.8m20.4 0h3.7m3.1 0h3.8m20.4 0h3.4m10.1 0h7.5m42.4 0h3.9m24.6 0h3.9M303.6 646.9h3.8m10 0h3.7m6.6 0h3.8m3.1 0h3.8m10 0h3.7m13.5 0h3.8m6.1 0h3.9m10.4 0h7.4m6.8 0h3.9m3.2 0h3.9m24.7 0h10.9M279.5 650.7h10.6m17 0h3.7m13.5 0h7.2m6.6 0h3.7m10 0h3.8m3.1 0h3.8m6.6 0h3.4m6.6 0h3.8m35.4 0h3.8m38.9 0h3.9m6.8 0h3.6M282.9 654.5h3.8m6.6 0h3.7m16.9 0h3.8m13.5 0h3.7m13.5 0h3.7m10.1 0h3.7m3.2 0h3.4m17.3 0h3.8m28.2 0h3.9m3.3 0h11m10.4 0h3.8m6.8 0h3.9M279.5 658.4h3.7m3.2 0h3.7m6.6 0h3.8m20.3 0h7.2m13.5 0h3.7m17 0h7.2m9.7 0h3.8m14 0h3.9m17.5 0h7.4M313.9 662.2h3.8m37.6 0h3.7m10.1 0h3.4m6.6 0h3.8m28.2 0h3.9m3.3 0h3.8m10.4 0h7.5m6.8 0h7.4M279.5 666.0h3.7m27.3 0h3.7m10.1 0h3.7m3.2 0h3.7m23.8 0h3.8m27.3 0h3.8m17.5 0h3.9m28.2 0h7.4m6.9 0h3.8M286.4 669.9h3.7m51.4 0h3.7m3.2 0h3.7m37.7 0h3.8m14 0h7.4"/><path stroke="#ba9bda" d="M334.6 524.1h3.8M313.9 527.9h3.8m10 0h3.8m27.2 0h3.8M351.8 566.3h3.8M317.4 574.0h3.7M307.1 577.8h3.7m3.1 0h3.8m3.1 0h3.8m30.7 0h3.7M362.2 589.3h3.7M429 593.1h3.8M293.3 597.0h3.7m41.1 0h3.7m129.9 0h3.6M404 600.8h3.9m6.8 0h3.9m38.9 0h11M296.7 604.7h3.8m27.2 0h3.8m23.8 0h3.7m37.9 0h3.9m53.1 0h3.9M296.7 608.5h3.8m149.9 0h3.8M293.3 612.3h3.7m85.6 0h3.9m3.3 0h3.8m10.4 0h7.4m21.1 0h7.5m17.5 0h3.8m3.3 0h3.9M289.8 616.2h7.2m16.9 0h3.8m27.2 0h3.8m10 0h3.8m52.2 0h3.9M320.8 620.0h3.8m27.2 0h3.8m19.9 0h3.9m35.3 0h3.9m31.8 0h7.4m3.2 0h7.5M300.2 623.8h3.7m6.6 0h3.7m6.6 0h3.8m16.9 0h7.2m13.5 0h3.7m3.2 0h3.4m3 0h3.9m6.8 0h3.9m6.8 0h7.4m35.4 0h7.4m3.3 0h3.8M296.7 627.7h3.8m34.1 0h3.8m13.4 0h7.2m16.5 0h3.9m38.9 0h3.8m31.8 0h3.9m3.2 0h3.9M279.5 631.5h3.7m10.1 0h3.7m30.7 0h3.8m16.9 0h7.2m10 0h6.9m17.3 0h3.8m6.8 0h3.9m21.1 0h3.9m28.2 0h3.8M282.9 635.4h3.8m16.9 0h3.8m37.5 0h3.8m3.1 0h3.8m6.6 0h3.7m31 0h3.9m13.9 0h3.9m6.8 0h3.9m42.4 0h3.6M303.6 639.2h3.8m37.5 0h3.8m6.6 0h3.7m6.6 0h3.8m23.9 0h3.9m3.2 0h3.9m24.7 0h3.8m17.6 0h3.8M348.4 643.0h3.7m10.1 0h7.2m27.5 0h7.4m6.8 0h3.9m3.3 0h11m17.5 0h11m6.8 0h3.9M286.4 646.9h3.7m10.1 0h3.7m6.6 0h3.7m17 0h3.7m6.6 0h7.2m13.5 0h3.7m20.3 0h3.9m60.3 0h3.8M293.3 650.7h3.7m3.2 0h3.7m10 0h3.8m3.1 0h3.8m23.8 0h3.7m51.9 0h3.9M289.8 654.5h3.8m16.9 0h3.7m37.6 0h3.8m3.1 0h3.8m13 0h3.9m24.6 0h3.9m6.8 0h3.9m35.3 0h3.9m6.8 0h3.9M289.8 658.4h3.8m34.1 0h3.8m58.3 0h3.8m31.8 0h3.9m13.9 0h3.9m6.8 0h3.9M282.9 662.2h3.8m6.6 0h3.7m10.1 0h3.7m6.6 0h7.2m3.1 0h7.2m3.2 0h3.7m48 0h3.8m10.4 0h3.9m21.1 0h3.8m6.9 0h7.4m21.1 0h3.8M282.9 666.0h3.8m13.5 0h3.7m13.5 0h3.7m34.2 0h3.7m3.2 0h3.7m13.2 0h3.8M282.9 669.9h3.8m10 0h3.8m27.2 0h3.8m54.7 0h3.9m74.5 0h3.9m3.2 0h3.6"/><path stroke="#a27fcb" d="M362.2 524.1h3.7M296.7 527.9h3.8M358.7 589.3h3.8M351.8 600.8h3.8M429 608.5h3.8M396.9 612.3h3.9M296.7 616.2h3.8M443.2 620.0h3.9M414.7 627.7h3.9M289.8 631.5h3.8m68.6 0h3.7m9.6 0h3.9m38.9 0h3.8M439.7 635.4h3.8M355.3 643.0h3.7m80.7 0h3.8M320.8 646.9h3.8m27.2 0h3.8m69.8 0h3.9M341.5 650.7h3.7m94.5 0h3.8M341.5 654.5h3.7m51.7 0h3.9m42.4 0h3.9M310.5 658.4h3.7m17 0h3.7m65.5 0h3.9m24.7 0h3.8m17.6 0h3.8M286.4 662.2h3.7m6.6 0h3.8m3.1 0h3.8m3.1 0h3.7m48 0h3.7m9.6 0h3.9M289.8 666.0h3.8m10 0h3.8m34.1 0h3.7m20.4 0h3.8m31 0h3.9m31.8 0h7.4m6.9 0h3.8m6.8 0h3.9M279.5 669.9h3.7m10.1 0h3.7m6.6 0h3.8m3.1 0h3.7m30.7 0h3.8m10 0h3.8m66.5 0h7.4m6.8 0h7.4m10.4 0h3.9m3.3 0h3.8"/><path stroke="#af8dd3" d="M279.5 527.9h3.7m23.9 0h3.7m37.6 0h3.7M461 550.9h3.9M289.8 577.8h3.8M355.3 589.3h3.7M358.7 593.1h3.8m3.1 0h3.8M414.7 597.0h3.9M313.9 600.8h3.8m150.5 0h3.8M344.9 604.7h3.8m94.5 0h3.9m21.1 0h3.8M317.4 608.5h3.7m27.3 0h3.7M289.8 612.3h3.8m37.6 0h3.7m3.2 0h3.7m58.6 0h3.9m14 0h3.8M286.4 620.0h3.7m99.7 0h7.4m24.6 0h3.9m14 0h3.8M393.3 623.8h3.9M289.8 627.7h3.8m16.9 0h3.7m3.2 0h3.7m6.6 0h3.8m30.7 0h3.7m20.3 0h3.9M296.7 631.5h3.8m16.9 0h3.7m13.5 0h3.8m122.6 0h3.9M296.7 635.4h3.8m128.5 0h3.8M293.3 639.2h3.7m27.3 0h3.7m10.1 0h7.1m17 0h3.7m52.4 0h3.8M375.5 643.0h3.9m24.6 0h3.9m63.8 0h3.6M282.9 646.9h3.8m3.1 0h3.8m65.1 0h3.8m52.2 0h7.4M289.8 650.7h3.8m23.8 0h3.7m23.8 0h3.8m44.6 0h7.5m13.9 0h3.9M279.5 654.5h3.7m156.5 0h3.8M282.9 658.4h3.8m6.6 0h3.7m3.2 0h7.2m10 0h3.7m82.9 0h3.9m53.1 0h7.5M279.5 662.2h3.7m51.4 0h3.8m10 0h7.2m3.1 0h3.8m34.4 0h3.9m13.9 0h3.9m42.4 0h7.5M286.4 666.0h3.7m3.2 0h3.7m23.8 0h3.8m3.1 0h3.8m3.1 0h7.2m40.8 0h3.9m10.4 0h3.9m6.8 0h3.8m6.9 0h3.8m6.9 0h3.8m21.1 0h3.9m6.8 0h10.7M307.1 669.9h3.7m3.1 0h3.8m6.6 0h3.7m3.2 0h7.2m30.7 0h3.4m6.6 0h3.8m10.4 0h7.5m3.2 0h3.9m42.5 0h7.4"/><path stroke="#c4c4c8" d="M396.9 543.3h3.9M341.5 570.1h3.7m44.6 0h3.8M313.9 581.6h3.8m41 0h3.8M396.9 608.5h3.9M393.3 612.3h3.9M300.2 616.2h3.7M313.9 620.0h3.8M331.2 631.5h3.7M389.8 635.4h3.8M313.9 639.2h3.8M279.5 643.0h3.7m48 0h7.2m3.1 0h3.7M296.7 650.7h3.8M327.7 654.5h3.8M341.5 662.2h7.2m105.2 0h3.9M362.2 669.9h3.7"/><path stroke="#8a63bb" d="M279.5 627.7h3.7M461 646.9h3.9M313.9 658.4h3.8M289.8 662.2h3.8m131.8 0h3.9M344.9 666.0h3.8M351.8 669.9h7.2m41.4 0h3.9"/><path stroke="#9671c3" d="M425.4 608.5h3.9M396.9 620.0h3.9M425.4 627.7h3.9M338.1 635.4h3.7m27.3 0h3.4M282.9 639.2h3.8M334.6 650.7h3.8M348.4 658.4h3.7M365.6 662.2h3.8M307.1 666.0h3.7m3.1 0h3.8m34.1 0h3.8m30.6 0h3.9m3.2 0h3.9m17.5 0h3.9m6.8 0h3.9m3.2 0h3.9M300.2 669.9h3.7m16.9 0h3.8m13.5 0h3.7m23.8 0h3.8m45.3 0h3.9m6.8 0h3.9m10.4 0h3.8m14 0h3.8"/><path stroke="#7c55b0" d="M289.8 669.9h3.8m23.8 0h3.7"/></g><rect x="279.5" y="431.4" width="93.0" height="8.0" fill="#ee6c35"/><rect x="279.5" y="431.4" width="20.7" height="8.0" fill="#231d78"/><rect x="307.1" y="431.4" width="3.4" height="8.0" fill="#231d78"/><rect x="313.9" y="431.4" width="10.3" height="8.0" fill="#231d78"/><rect x="331.2" y="431.4" width="3.4" height="8.0" fill="#231d78"/><rect x="355.3" y="431.4" width="17.2" height="8.0" fill="#231d78"/><rect x="375.5" y="431.4" width="99.8" height="8.0" fill="#ee6c35"/><rect x="404.0" y="431.4" width="10.7" height="8.0" fill="#231d78"/><rect x="432.5" y="431.4" width="3.6" height="8.0" fill="#231d78"/><path d="M301.9 430.8L301.9 426.0M305.3 430.8L305.3 426.0M301.9 426.0L305.3 426.0M303.6 426.0L303.6 424.6M298.4 424.6L303.6 424.6M301.0 424.6L301.0 419.5M286.8 419.5L301.0 419.5M312.2 430.8L312.2 426.4M308.8 426.4L312.2 426.4M310.5 426.4L310.5 425.8M310.5 425.8L315.7 425.8M329.4 430.8L329.4 426.4M329.4 426.4L332.9 426.4M326.0 430.8L326.0 426.0M331.2 426.4L331.2 426.0M326.0 426.0L331.2 426.0M328.6 426.0L328.6 425.0M320.8 425.0L328.6 425.0M313.1 425.8L313.1 424.1M324.7 425.0L324.7 424.1M313.1 424.1L324.7 424.1M343.2 430.8L343.2 426.4M346.7 430.8L346.7 426.4M343.2 426.4L346.7 426.4M339.8 430.8L339.8 425.9M344.9 426.4L344.9 425.9M339.8 425.9L344.9 425.9M336.3 430.8L336.3 424.7M342.4 425.9L342.4 424.7M336.3 424.7L342.4 424.7M318.9 424.1L318.9 422.4M339.3 424.7L339.3 422.4M318.9 422.4L339.3 422.4M353.6 430.8L353.6 426.4M353.6 426.4L357.0 426.4M350.1 430.8L350.1 425.6M355.3 426.4L355.3 425.6M350.1 425.6L355.3 425.6M352.7 425.6L352.7 421.3M352.7 421.3L365.6 421.3M329.1 422.4L329.1 418.6M359.2 421.3L359.2 418.6M329.1 418.6L359.2 418.6M293.9 419.5L293.9 416.2M344.1 418.6L344.1 416.2M293.9 416.2L344.1 416.2M380.8 430.8L380.8 425.6M384.4 430.8L384.4 425.6M380.8 425.6L384.4 425.6M377.3 430.8L377.3 423.5M382.6 425.6L382.6 423.5M377.3 423.5L382.6 423.5M391.5 430.8L391.5 425.8M395.1 430.8L395.1 425.8M391.5 425.8L395.1 425.8M388.0 430.8L388.0 424.8M393.3 425.8L393.3 424.8M388.0 424.8L393.3 424.8M380.0 423.5L380.0 419.5M390.6 424.8L390.6 419.5M380.0 419.5L390.6 419.5M398.7 430.8L398.7 426.2M402.2 430.8L402.2 426.2M398.7 426.2L402.2 426.2M416.5 430.8L416.5 426.2M420.1 430.8L420.1 426.2M416.5 426.2L420.1 426.2M418.3 426.2L418.3 425.2M410.3 425.2L418.3 425.2M400.4 426.2L400.4 424.2M414.3 425.2L414.3 424.2M400.4 424.2L414.3 424.2M423.6 430.8L423.6 426.3M427.2 430.8L427.2 426.3M423.6 426.3L427.2 426.3M425.4 426.3L425.4 424.9M430.7 430.8L430.7 424.9M425.4 424.9L430.7 424.9M407.4 424.2L407.4 421.9M428.1 424.9L428.1 421.9M407.4 421.9L428.1 421.9M437.9 430.8L437.9 425.0M434.3 425.0L437.9 425.0M441.4 430.8L441.4 426.1M445.0 430.8L445.0 426.1M441.4 426.1L445.0 426.1M448.6 430.8L448.6 425.8M452.1 430.8L452.1 425.8M448.6 425.8L452.1 425.8M443.2 426.1L443.2 424.9M450.4 425.8L450.4 424.9M443.2 424.9L450.4 424.9M436.1 425.0L436.1 423.2M446.8 424.9L446.8 423.2M436.1 423.2L446.8 423.2M455.7 430.8L455.7 425.1M459.3 430.8L459.3 425.1M455.7 425.1L459.3 425.1M462.8 430.8L462.8 426.0M466.4 430.8L466.4 426.0M462.8 426.0L466.4 426.0M470.0 430.8L470.0 426.2M473.5 430.8L473.5 426.2M470.0 426.2L473.5 426.2M464.6 426.0L464.6 425.3M471.7 426.2L471.7 425.3M464.6 425.3L471.7 425.3M457.5 425.1L457.5 423.2M468.2 425.3L468.2 423.2M457.5 423.2L468.2 423.2M441.4 423.2L441.4 421.4M462.8 423.2L462.8 421.4M441.4 421.4L462.8 421.4M417.7 421.9L417.7 418.5M452.1 421.4L452.1 418.5M417.7 418.5L452.1 418.5M385.3 419.5L385.3 414.2M434.9 418.5L434.9 414.2M385.3 414.2L434.9 414.2M319.0 416.2L319.0 405.0M410.1 414.2L410.1 405.0M319.0 405.0L410.1 405.0" stroke="#3a3a3a" stroke-width="0.75" fill="none"/><path d="M281.2 430.8L281.2 425.2M284.7 430.8L284.7 425.2M281.2 425.2L284.7 425.2M291.6 430.8L291.6 426.4M295.0 430.8L295.0 426.4M291.6 426.4L295.0 426.4M288.1 430.8L288.1 426.1M293.3 426.4L293.3 426.1M288.1 426.1L293.3 426.1M282.9 425.2L282.9 423.2M290.7 426.1L290.7 423.2M282.9 423.2L290.7 423.2M298.4 430.8L298.4 424.6M286.8 423.2L286.8 419.5M308.8 430.8L308.8 426.4M315.7 430.8L315.7 425.8M319.1 430.8L319.1 426.1M322.6 430.8L322.6 426.1M319.1 426.1L322.6 426.1M332.9 430.8L332.9 426.4M320.8 426.1L320.8 425.0M357.0 430.8L357.0 426.4M360.4 430.8L360.4 425.6M363.9 430.8L363.9 425.6M360.4 425.6L363.9 425.6M367.3 430.8L367.3 426.3M370.8 430.8L370.8 426.3M367.3 426.3L370.8 426.3M362.2 425.6L362.2 424.1M369.1 426.3L369.1 424.1M362.2 424.1L369.1 424.1M365.6 424.1L365.6 421.3M405.8 430.8L405.8 426.3M409.4 430.8L409.4 426.3M405.8 426.3L409.4 426.3M407.6 426.3L407.6 426.0M412.9 430.8L412.9 426.0M407.6 426.0L412.9 426.0M410.3 426.0L410.3 425.2M434.3 430.8L434.3 425.0" stroke="#ec8e96" stroke-width="0.75" fill="none"/><text x="480.5" y="448.2" font-size="7" textLength="18.9" lengthAdjust="spacingAndGlyphs" >Status</text><rect x="480.3" y="453.0" width="7.1" height="6.6" fill="#ee6c35"/><rect x="480.3" y="465.0" width="7.1" height="6.6" fill="#231d78"/><text x="491" y="458.8" font-size="7" textLength="14.6" lengthAdjust="spacingAndGlyphs" >nt-FL</text><text x="491" y="471.2" font-size="7" textLength="14.2" lengthAdjust="spacingAndGlyphs" >st-FL</text><text x="481.3" y="505.7" font-size="7" textLength="20.3" lengthAdjust="spacingAndGlyphs" >Protein</text><text x="481.3" y="513.9" font-size="7" textLength="30.6" lengthAdjust="spacingAndGlyphs" >expression</text><rect x="480.3" y="524" width="7" height="38" fill="url(#cb)"/><text x="491" y="533.2" font-size="7" textLength="13.6" lengthAdjust="spacingAndGlyphs" >High</text><text x="491" y="557.6" font-size="7" textLength="11.6" lengthAdjust="spacingAndGlyphs" >Low</text>
<path d="M0 0H520V1.1H0ZM0 0H1.2V680H0ZM518.8 0H520V680H518.8ZM0 678.5H520V680H0Z" fill="#4d4d4d"/>
</svg></body></html>
